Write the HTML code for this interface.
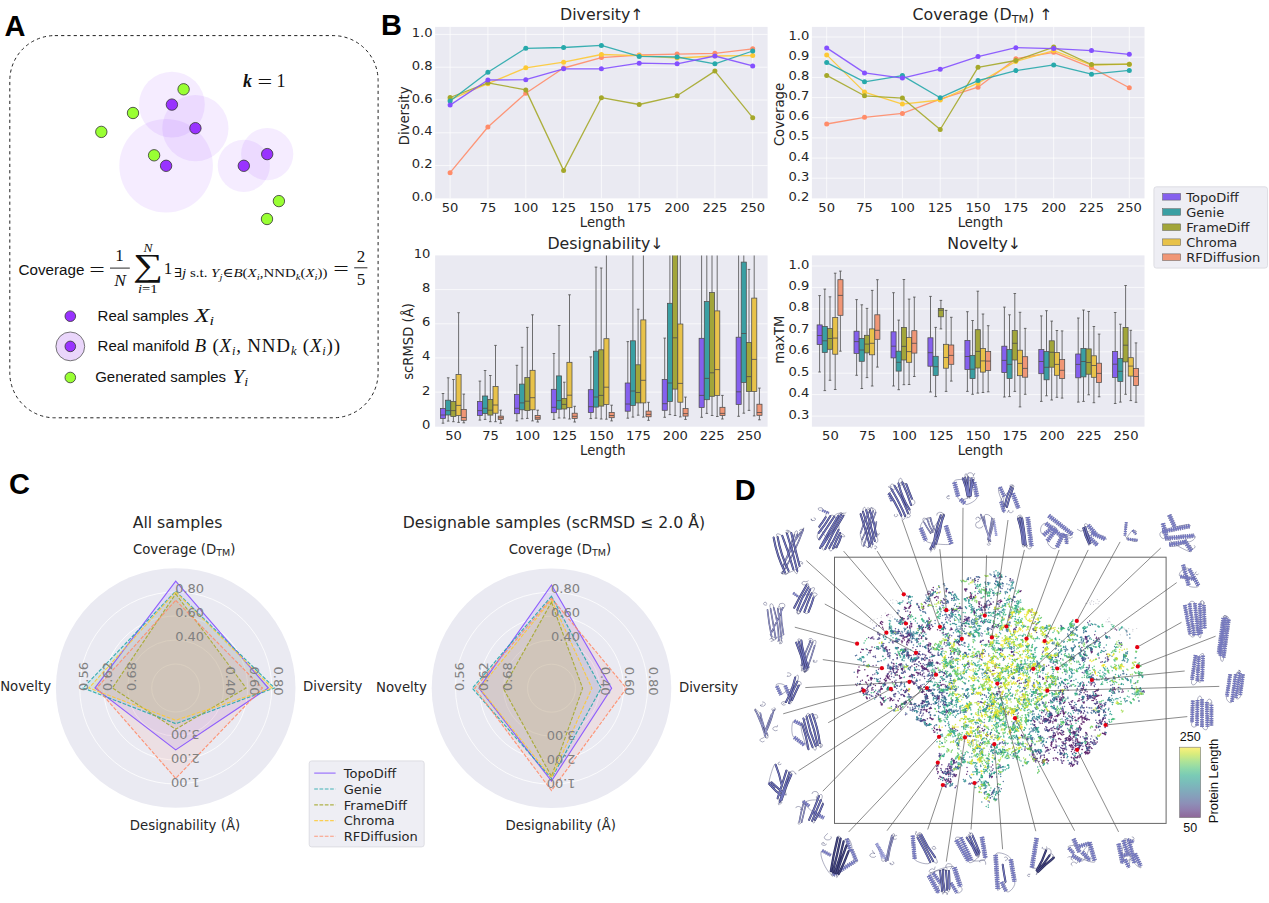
<!DOCTYPE html>
<html lang="en"><head><meta charset="utf-8"><title>Figure</title>
<style>html,body{margin:0;padding:0;background:#fff}svg{display:block}</style></head>
<body>
<svg width="1269" height="903" viewBox="0 0 1269 903">
<rect width="1269" height="903" fill="#fff"/>
<g id="panelA">
<text x="4.5" y="35.8" font-family="Liberation Sans, sans-serif" font-weight="bold" font-size="29" fill="#000">A</text>
<rect x="9.8" y="35.6" width="368.3" height="382.2" rx="45" ry="45" fill="none" stroke="#222" stroke-width="1" stroke-dasharray="3.2 3.1"/>
<circle cx="171.9" cy="104.6" r="32.9" fill="#9933ff" fill-opacity="0.095"/>
<circle cx="195.4" cy="128.2" r="33.1" fill="#9933ff" fill-opacity="0.095"/>
<circle cx="166.1" cy="165.8" r="46.8" fill="#9933ff" fill-opacity="0.095"/>
<circle cx="243.8" cy="165.8" r="26.1" fill="#9933ff" fill-opacity="0.095"/>
<circle cx="267.2" cy="154.1" r="26.1" fill="#9933ff" fill-opacity="0.095"/>
<circle cx="183.6" cy="89.3" r="5.7" fill="#99ff33" stroke="#333" stroke-width="0.8"/>
<circle cx="133.0" cy="113.0" r="5.7" fill="#99ff33" stroke="#333" stroke-width="0.8"/>
<circle cx="101.3" cy="131.9" r="5.7" fill="#99ff33" stroke="#333" stroke-width="0.8"/>
<circle cx="154.1" cy="155.3" r="5.7" fill="#99ff33" stroke="#333" stroke-width="0.8"/>
<circle cx="278.9" cy="201.1" r="5.7" fill="#99ff33" stroke="#333" stroke-width="0.8"/>
<circle cx="267.0" cy="219.0" r="5.7" fill="#99ff33" stroke="#333" stroke-width="0.8"/>
<circle cx="171.9" cy="104.6" r="5.7" fill="#9933ff" stroke="#333" stroke-width="0.8"/>
<circle cx="195.4" cy="128.2" r="5.7" fill="#9933ff" stroke="#333" stroke-width="0.8"/>
<circle cx="166.1" cy="165.8" r="5.7" fill="#9933ff" stroke="#333" stroke-width="0.8"/>
<circle cx="243.8" cy="165.8" r="5.7" fill="#9933ff" stroke="#333" stroke-width="0.8"/>
<circle cx="267.2" cy="154.1" r="5.7" fill="#9933ff" stroke="#333" stroke-width="0.8"/>
<text x="243" y="87.2" font-family="Liberation Serif, DejaVu Serif, serif" font-size="18" font-style="italic" font-weight="bold" fill="#111">k</text>
<text transform="translate(257.6 87.6) scale(1.45 1)" font-family="Liberation Serif, DejaVu Serif, serif" font-size="18" fill="#111">=</text>
<text x="276.6" y="87.2" font-family="Liberation Serif, DejaVu Serif, serif" font-size="18" fill="#111">1</text>
<text x="18.6" y="274.7" font-family="Liberation Sans, sans-serif" font-size="15.2" fill="#111">Coverage</text>
<text transform="translate(89.2 275.8) scale(1.45 1)" font-family="Liberation Serif, DejaVu Serif, serif" font-size="19" fill="#111">=</text>
<text x="119.6" y="261.2" font-family="Liberation Serif, DejaVu Serif, serif" font-size="17" text-anchor="middle" fill="#111">1</text>
<line x1="110" y1="268.1" x2="129.8" y2="268.1" stroke="#111" stroke-width="0.9"/>
<text x="120.2" y="285.7" font-family="Liberation Serif, DejaVu Serif, serif" font-size="17.5" font-style="italic" text-anchor="middle" fill="#111">N</text>
<text x="0" y="0" font-family="Liberation Serif, DejaVu Serif, serif" font-size="32" text-anchor="middle" fill="#111" transform="translate(148.2 276.4) scale(1.32 1)">∑</text>
<text x="147.9" y="252.2" font-family="Liberation Serif, DejaVu Serif, serif" font-size="13.5" font-style="italic" text-anchor="middle" fill="#111">N</text>
<text x="138" y="293.3" font-family="Liberation Serif, DejaVu Serif, serif" font-size="12.5" fill="#111" textLength="19.6" lengthAdjust="spacingAndGlyphs"><tspan font-style="italic">i</tspan>=1</text>
<text x="163.7" y="273.6" font-family="Liberation Serif, DejaVu Serif, serif" font-size="17" fill="#111">1</text>
<text x="174" y="277.4" font-family="Liberation Serif, DejaVu Serif, serif" font-size="12.6" fill="#111" textLength="153.5" lengthAdjust="spacingAndGlyphs">∃<tspan font-style="italic">j</tspan> s.t. <tspan font-style="italic">Y</tspan><tspan font-style="italic" font-size="9" dy="2.2">j</tspan><tspan dy="-2.2">∈</tspan><tspan font-style="italic">B</tspan>(<tspan font-style="italic">X</tspan><tspan font-style="italic" font-size="9" dy="2.2">i</tspan><tspan dy="-2.2">,NND</tspan><tspan font-style="italic" font-size="9" dy="2.2">k</tspan><tspan dy="-2.2">(</tspan><tspan font-style="italic">X</tspan><tspan font-style="italic" font-size="9" dy="2.2">i</tspan><tspan dy="-2.2">))</tspan></text>
<text transform="translate(333.2 274.9) scale(1.45 1)" font-family="Liberation Serif, DejaVu Serif, serif" font-size="19" fill="#111">=</text>
<text x="361" y="261.6" font-family="Liberation Serif, DejaVu Serif, serif" font-size="17" text-anchor="middle" fill="#111">2</text>
<line x1="354.2" y1="267.8" x2="367.4" y2="267.8" stroke="#111" stroke-width="0.9"/>
<text x="361" y="285.4" font-family="Liberation Serif, DejaVu Serif, serif" font-size="17" text-anchor="middle" fill="#111">5</text>
<circle cx="70.3" cy="316.2" r="5.3" fill="#9933ff" stroke="#333" stroke-width="0.8"/>
<circle cx="70.3" cy="346.4" r="14.4" fill="#ead6fb" stroke="#555" stroke-width="0.8"/>
<circle cx="70.3" cy="346.4" r="5.3" fill="#9933ff" stroke="#333" stroke-width="0.8"/>
<circle cx="70.3" cy="377.5" r="5.3" fill="#99ff33" stroke="#333" stroke-width="0.8"/>
<text x="97.6" y="321.4" font-family="Liberation Sans, sans-serif" font-size="15" fill="#111">Real samples</text>
<text x="194.6" y="321.6" font-family="Liberation Serif, DejaVu Serif, serif" font-size="19" font-style="italic" fill="#111" textLength="19.5" lengthAdjust="spacingAndGlyphs">X<tspan font-size="12.5" dy="3">i</tspan></text>
<text x="97.6" y="351.2" font-family="Liberation Sans, sans-serif" font-size="15" fill="#111">Real manifold</text>
<text x="194.5" y="351.6" font-family="Liberation Serif, DejaVu Serif, serif" font-size="19" fill="#111" textLength="145.5" lengthAdjust="spacing"><tspan font-style="italic">B</tspan> (<tspan font-style="italic">X</tspan><tspan font-style="italic" font-size="12.5" dy="3">i</tspan><tspan dy="-3">, NND</tspan><tspan font-style="italic" font-size="12.5" dy="3">k</tspan><tspan dy="-3"> (</tspan><tspan font-style="italic">X</tspan><tspan font-style="italic" font-size="12.5" dy="3">i</tspan><tspan dy="-3">))</tspan></text>
<text x="95.2" y="382.4" font-family="Liberation Sans, sans-serif" font-size="15" fill="#111">Generated samples</text>
<text x="232.6" y="382.6" font-family="Liberation Serif, DejaVu Serif, serif" font-size="19" font-style="italic" fill="#111" textLength="15.6" lengthAdjust="spacingAndGlyphs">Y<tspan font-size="12.5" dy="3">i</tspan></text>
</g>
<g id="panelB">
<text x="381" y="35.3" font-family="Liberation Sans, sans-serif" font-weight="bold" font-size="29" fill="#000">B</text>
<defs><clipPath id="cD"><rect x="435.1" y="255.4" width="332.5" height="171.3"/></clipPath><clipPath id="cN"><rect x="811.9" y="255.4" width="332.6" height="171.3"/></clipPath></defs>
<rect x="435.1" y="26.9" width="332.5" height="171.5" fill="#eaeaf2"/>
<line x1="435.1" y1="165.6" x2="767.6" y2="165.6" stroke="#fff" stroke-width="1" stroke-opacity="0.7"/><line x1="435.1" y1="132.8" x2="767.6" y2="132.8" stroke="#fff" stroke-width="1" stroke-opacity="0.7"/><line x1="435.1" y1="100" x2="767.6" y2="100" stroke="#fff" stroke-width="1" stroke-opacity="0.7"/><line x1="435.1" y1="67.2" x2="767.6" y2="67.2" stroke="#fff" stroke-width="1" stroke-opacity="0.7"/><line x1="435.1" y1="34.4" x2="767.6" y2="34.4" stroke="#fff" stroke-width="1" stroke-opacity="0.7"/>
<line x1="450.1" y1="26.9" x2="450.1" y2="198.4" stroke="#fff" stroke-width="1" stroke-opacity="0.7"/><line x1="487.9" y1="26.9" x2="487.9" y2="198.4" stroke="#fff" stroke-width="1" stroke-opacity="0.7"/><line x1="525.8" y1="26.9" x2="525.8" y2="198.4" stroke="#fff" stroke-width="1" stroke-opacity="0.7"/><line x1="563.6" y1="26.9" x2="563.6" y2="198.4" stroke="#fff" stroke-width="1" stroke-opacity="0.7"/><line x1="601.4" y1="26.9" x2="601.4" y2="198.4" stroke="#fff" stroke-width="1" stroke-opacity="0.7"/><line x1="639.2" y1="26.9" x2="639.2" y2="198.4" stroke="#fff" stroke-width="1" stroke-opacity="0.7"/><line x1="677.1" y1="26.9" x2="677.1" y2="198.4" stroke="#fff" stroke-width="1" stroke-opacity="0.7"/><line x1="714.9" y1="26.9" x2="714.9" y2="198.4" stroke="#fff" stroke-width="1" stroke-opacity="0.7"/><line x1="752.7" y1="26.9" x2="752.7" y2="198.4" stroke="#fff" stroke-width="1" stroke-opacity="0.7"/>
<polyline points="450.1,172.7 487.9,127 525.8,93.2 563.6,68 601.4,57.6 639.2,55 677.1,54.1 714.9,53.3 752.7,48.8" fill="none" stroke="#ff8c69" stroke-width="1.3" stroke-opacity="0.9" stroke-linejoin="round"/><circle cx="450.1" cy="172.7" r="2.5" fill="#ff8c69"/><circle cx="487.9" cy="127" r="2.5" fill="#ff8c69"/><circle cx="525.8" cy="93.2" r="2.5" fill="#ff8c69"/><circle cx="563.6" cy="68" r="2.5" fill="#ff8c69"/><circle cx="601.4" cy="57.6" r="2.5" fill="#ff8c69"/><circle cx="639.2" cy="55" r="2.5" fill="#ff8c69"/><circle cx="677.1" cy="54.1" r="2.5" fill="#ff8c69"/><circle cx="714.9" cy="53.3" r="2.5" fill="#ff8c69"/><circle cx="752.7" cy="48.8" r="2.5" fill="#ff8c69"/><polyline points="450.1,99.6 487.9,83.7 525.8,67.8 563.6,62.2 601.4,54.5 639.2,55.6 677.1,58 714.9,56 752.7,55.6" fill="none" stroke="#fdc935" stroke-width="1.3" stroke-opacity="0.9" stroke-linejoin="round"/><circle cx="450.1" cy="99.6" r="2.5" fill="#fdc935"/><circle cx="487.9" cy="83.7" r="2.5" fill="#fdc935"/><circle cx="525.8" cy="67.8" r="2.5" fill="#fdc935"/><circle cx="563.6" cy="62.2" r="2.5" fill="#fdc935"/><circle cx="601.4" cy="54.5" r="2.5" fill="#fdc935"/><circle cx="639.2" cy="55.6" r="2.5" fill="#fdc935"/><circle cx="677.1" cy="58" r="2.5" fill="#fdc935"/><circle cx="714.9" cy="56" r="2.5" fill="#fdc935"/><circle cx="752.7" cy="55.6" r="2.5" fill="#fdc935"/><polyline points="450.1,97.5 487.9,82.8 525.8,89.9 563.6,170.4 601.4,97.7 639.2,104.5 677.1,95.8 714.9,71.1 752.7,117.7" fill="none" stroke="#a5a82a" stroke-width="1.3" stroke-opacity="0.9" stroke-linejoin="round"/><circle cx="450.1" cy="97.5" r="2.5" fill="#a5a82a"/><circle cx="487.9" cy="82.8" r="2.5" fill="#a5a82a"/><circle cx="525.8" cy="89.9" r="2.5" fill="#a5a82a"/><circle cx="563.6" cy="170.4" r="2.5" fill="#a5a82a"/><circle cx="601.4" cy="97.7" r="2.5" fill="#a5a82a"/><circle cx="639.2" cy="104.5" r="2.5" fill="#a5a82a"/><circle cx="677.1" cy="95.8" r="2.5" fill="#a5a82a"/><circle cx="714.9" cy="71.1" r="2.5" fill="#a5a82a"/><circle cx="752.7" cy="117.7" r="2.5" fill="#a5a82a"/><polyline points="450.1,101 487.9,72.3 525.8,48.3 563.6,47.5 601.4,45.4 639.2,56.4 677.1,57 714.9,63.8 752.7,51" fill="none" stroke="#27a9ab" stroke-width="1.3" stroke-opacity="0.9" stroke-linejoin="round"/><circle cx="450.1" cy="101" r="2.5" fill="#27a9ab"/><circle cx="487.9" cy="72.3" r="2.5" fill="#27a9ab"/><circle cx="525.8" cy="48.3" r="2.5" fill="#27a9ab"/><circle cx="563.6" cy="47.5" r="2.5" fill="#27a9ab"/><circle cx="601.4" cy="45.4" r="2.5" fill="#27a9ab"/><circle cx="639.2" cy="56.4" r="2.5" fill="#27a9ab"/><circle cx="677.1" cy="57" r="2.5" fill="#27a9ab"/><circle cx="714.9" cy="63.8" r="2.5" fill="#27a9ab"/><circle cx="752.7" cy="51" r="2.5" fill="#27a9ab"/><polyline points="450.1,105.1 487.9,80 525.8,79.7 563.6,68.8 601.4,68.8 639.2,63.2 677.1,63.8 714.9,56 752.7,65.9" fill="none" stroke="#8450ff" stroke-width="1.3" stroke-opacity="0.9" stroke-linejoin="round"/><circle cx="450.1" cy="105.1" r="2.5" fill="#8450ff"/><circle cx="487.9" cy="80" r="2.5" fill="#8450ff"/><circle cx="525.8" cy="79.7" r="2.5" fill="#8450ff"/><circle cx="563.6" cy="68.8" r="2.5" fill="#8450ff"/><circle cx="601.4" cy="68.8" r="2.5" fill="#8450ff"/><circle cx="639.2" cy="63.2" r="2.5" fill="#8450ff"/><circle cx="677.1" cy="63.8" r="2.5" fill="#8450ff"/><circle cx="714.9" cy="56" r="2.5" fill="#8450ff"/><circle cx="752.7" cy="65.9" r="2.5" fill="#8450ff"/>
<text x="432.6" y="200.9" font-family="DejaVu Sans, Liberation Sans, sans-serif" font-size="13.1" text-anchor="end" fill="#262626">0.0</text><text x="432.6" y="168.1" font-family="DejaVu Sans, Liberation Sans, sans-serif" font-size="13.1" text-anchor="end" fill="#262626">0.2</text><text x="432.6" y="135.3" font-family="DejaVu Sans, Liberation Sans, sans-serif" font-size="13.1" text-anchor="end" fill="#262626">0.4</text><text x="432.6" y="102.5" font-family="DejaVu Sans, Liberation Sans, sans-serif" font-size="13.1" text-anchor="end" fill="#262626">0.6</text><text x="432.6" y="69.7" font-family="DejaVu Sans, Liberation Sans, sans-serif" font-size="13.1" text-anchor="end" fill="#262626">0.8</text><text x="432.6" y="36.9" font-family="DejaVu Sans, Liberation Sans, sans-serif" font-size="13.1" text-anchor="end" fill="#262626">1.0</text>
<text x="450.1" y="212.2" font-family="DejaVu Sans, Liberation Sans, sans-serif" font-size="13.1" text-anchor="middle" fill="#262626">50</text><text x="487.9" y="212.2" font-family="DejaVu Sans, Liberation Sans, sans-serif" font-size="13.1" text-anchor="middle" fill="#262626">75</text><text x="525.8" y="212.2" font-family="DejaVu Sans, Liberation Sans, sans-serif" font-size="13.1" text-anchor="middle" fill="#262626">100</text><text x="563.6" y="212.2" font-family="DejaVu Sans, Liberation Sans, sans-serif" font-size="13.1" text-anchor="middle" fill="#262626">125</text><text x="601.4" y="212.2" font-family="DejaVu Sans, Liberation Sans, sans-serif" font-size="13.1" text-anchor="middle" fill="#262626">150</text><text x="639.2" y="212.2" font-family="DejaVu Sans, Liberation Sans, sans-serif" font-size="13.1" text-anchor="middle" fill="#262626">175</text><text x="677.1" y="212.2" font-family="DejaVu Sans, Liberation Sans, sans-serif" font-size="13.1" text-anchor="middle" fill="#262626">200</text><text x="714.9" y="212.2" font-family="DejaVu Sans, Liberation Sans, sans-serif" font-size="13.1" text-anchor="middle" fill="#262626">225</text><text x="752.7" y="212.2" font-family="DejaVu Sans, Liberation Sans, sans-serif" font-size="13.1" text-anchor="middle" fill="#262626">250</text>
<text x="602.6" y="226.9" font-family="DejaVu Sans, Liberation Sans, sans-serif" font-size="13.2" text-anchor="middle" fill="#262626">Length</text>
<text transform="translate(408.6 115.8) rotate(-90)" font-family="DejaVu Sans, Liberation Sans, sans-serif" font-size="13.2" text-anchor="middle" fill="#262626">Diversity</text>
<text x="601.8" y="20.4" font-family="DejaVu Sans, Liberation Sans, sans-serif" font-size="15.8" text-anchor="middle" fill="#262626">Diversity↑</text>
<rect x="811.9" y="26.9" width="332.6" height="171.5" fill="#eaeaf2"/>
<line x1="811.9" y1="178.2" x2="1144.5" y2="178.2" stroke="#fff" stroke-width="1" stroke-opacity="0.7"/><line x1="811.9" y1="158.1" x2="1144.5" y2="158.1" stroke="#fff" stroke-width="1" stroke-opacity="0.7"/><line x1="811.9" y1="137.9" x2="1144.5" y2="137.9" stroke="#fff" stroke-width="1" stroke-opacity="0.7"/><line x1="811.9" y1="117.7" x2="1144.5" y2="117.7" stroke="#fff" stroke-width="1" stroke-opacity="0.7"/><line x1="811.9" y1="97.6" x2="1144.5" y2="97.6" stroke="#fff" stroke-width="1" stroke-opacity="0.7"/><line x1="811.9" y1="77.4" x2="1144.5" y2="77.4" stroke="#fff" stroke-width="1" stroke-opacity="0.7"/><line x1="811.9" y1="57.2" x2="1144.5" y2="57.2" stroke="#fff" stroke-width="1" stroke-opacity="0.7"/><line x1="811.9" y1="37" x2="1144.5" y2="37" stroke="#fff" stroke-width="1" stroke-opacity="0.7"/>
<line x1="826.7" y1="26.9" x2="826.7" y2="198.4" stroke="#fff" stroke-width="1" stroke-opacity="0.7"/><line x1="864.5" y1="26.9" x2="864.5" y2="198.4" stroke="#fff" stroke-width="1" stroke-opacity="0.7"/><line x1="902.4" y1="26.9" x2="902.4" y2="198.4" stroke="#fff" stroke-width="1" stroke-opacity="0.7"/><line x1="940.2" y1="26.9" x2="940.2" y2="198.4" stroke="#fff" stroke-width="1" stroke-opacity="0.7"/><line x1="978" y1="26.9" x2="978" y2="198.4" stroke="#fff" stroke-width="1" stroke-opacity="0.7"/><line x1="1015.9" y1="26.9" x2="1015.9" y2="198.4" stroke="#fff" stroke-width="1" stroke-opacity="0.7"/><line x1="1053.7" y1="26.9" x2="1053.7" y2="198.4" stroke="#fff" stroke-width="1" stroke-opacity="0.7"/><line x1="1091.5" y1="26.9" x2="1091.5" y2="198.4" stroke="#fff" stroke-width="1" stroke-opacity="0.7"/><line x1="1129.3" y1="26.9" x2="1129.3" y2="198.4" stroke="#fff" stroke-width="1" stroke-opacity="0.7"/>
<polyline points="826.7,124 864.5,117.3 902.4,113.4 940.2,99.2 978,87.2 1015.9,58.7 1053.7,52.3 1091.5,67.6 1129.3,87.8" fill="none" stroke="#ff8c69" stroke-width="1.3" stroke-opacity="0.9" stroke-linejoin="round"/><circle cx="826.7" cy="124" r="2.5" fill="#ff8c69"/><circle cx="864.5" cy="117.3" r="2.5" fill="#ff8c69"/><circle cx="902.4" cy="113.4" r="2.5" fill="#ff8c69"/><circle cx="940.2" cy="99.2" r="2.5" fill="#ff8c69"/><circle cx="978" cy="87.2" r="2.5" fill="#ff8c69"/><circle cx="1015.9" cy="58.7" r="2.5" fill="#ff8c69"/><circle cx="1053.7" cy="52.3" r="2.5" fill="#ff8c69"/><circle cx="1091.5" cy="67.6" r="2.5" fill="#ff8c69"/><circle cx="1129.3" cy="87.8" r="2.5" fill="#ff8c69"/><polyline points="826.7,54.9 864.5,92.1 902.4,104.1 940.2,100 978,83.2 1015.9,61.4 1053.7,50.6 1091.5,65.1 1129.3,64.2" fill="none" stroke="#fdc935" stroke-width="1.3" stroke-opacity="0.9" stroke-linejoin="round"/><circle cx="826.7" cy="54.9" r="2.5" fill="#fdc935"/><circle cx="864.5" cy="92.1" r="2.5" fill="#fdc935"/><circle cx="902.4" cy="104.1" r="2.5" fill="#fdc935"/><circle cx="940.2" cy="100" r="2.5" fill="#fdc935"/><circle cx="978" cy="83.2" r="2.5" fill="#fdc935"/><circle cx="1015.9" cy="61.4" r="2.5" fill="#fdc935"/><circle cx="1053.7" cy="50.6" r="2.5" fill="#fdc935"/><circle cx="1091.5" cy="65.1" r="2.5" fill="#fdc935"/><circle cx="1129.3" cy="64.2" r="2.5" fill="#fdc935"/><polyline points="826.7,75.4 864.5,95.8 902.4,98.1 940.2,129.5 978,67.3 1015.9,60.5 1053.7,47.1 1091.5,64.5 1129.3,64.2" fill="none" stroke="#a5a82a" stroke-width="1.3" stroke-opacity="0.9" stroke-linejoin="round"/><circle cx="826.7" cy="75.4" r="2.5" fill="#a5a82a"/><circle cx="864.5" cy="95.8" r="2.5" fill="#a5a82a"/><circle cx="902.4" cy="98.1" r="2.5" fill="#a5a82a"/><circle cx="940.2" cy="129.5" r="2.5" fill="#a5a82a"/><circle cx="978" cy="67.3" r="2.5" fill="#a5a82a"/><circle cx="1015.9" cy="60.5" r="2.5" fill="#a5a82a"/><circle cx="1053.7" cy="47.1" r="2.5" fill="#a5a82a"/><circle cx="1091.5" cy="64.5" r="2.5" fill="#a5a82a"/><circle cx="1129.3" cy="64.2" r="2.5" fill="#a5a82a"/><polyline points="826.7,62.6 864.5,81.8 902.4,75.6 940.2,97.7 978,80.6 1015.9,70.6 1053.7,64.9 1091.5,74.2 1129.3,70.4" fill="none" stroke="#27a9ab" stroke-width="1.3" stroke-opacity="0.9" stroke-linejoin="round"/><circle cx="826.7" cy="62.6" r="2.5" fill="#27a9ab"/><circle cx="864.5" cy="81.8" r="2.5" fill="#27a9ab"/><circle cx="902.4" cy="75.6" r="2.5" fill="#27a9ab"/><circle cx="940.2" cy="97.7" r="2.5" fill="#27a9ab"/><circle cx="978" cy="80.6" r="2.5" fill="#27a9ab"/><circle cx="1015.9" cy="70.6" r="2.5" fill="#27a9ab"/><circle cx="1053.7" cy="64.9" r="2.5" fill="#27a9ab"/><circle cx="1091.5" cy="74.2" r="2.5" fill="#27a9ab"/><circle cx="1129.3" cy="70.4" r="2.5" fill="#27a9ab"/><polyline points="826.7,47.9 864.5,72.9 902.4,78.1 940.2,69.2 978,56.6 1015.9,47.7 1053.7,48.6 1091.5,50.6 1129.3,54.3" fill="none" stroke="#8450ff" stroke-width="1.3" stroke-opacity="0.9" stroke-linejoin="round"/><circle cx="826.7" cy="47.9" r="2.5" fill="#8450ff"/><circle cx="864.5" cy="72.9" r="2.5" fill="#8450ff"/><circle cx="902.4" cy="78.1" r="2.5" fill="#8450ff"/><circle cx="940.2" cy="69.2" r="2.5" fill="#8450ff"/><circle cx="978" cy="56.6" r="2.5" fill="#8450ff"/><circle cx="1015.9" cy="47.7" r="2.5" fill="#8450ff"/><circle cx="1053.7" cy="48.6" r="2.5" fill="#8450ff"/><circle cx="1091.5" cy="50.6" r="2.5" fill="#8450ff"/><circle cx="1129.3" cy="54.3" r="2.5" fill="#8450ff"/>
<text x="809.3" y="200.9" font-family="DejaVu Sans, Liberation Sans, sans-serif" font-size="13.1" text-anchor="end" fill="#262626">0.2</text><text x="809.3" y="180.7" font-family="DejaVu Sans, Liberation Sans, sans-serif" font-size="13.1" text-anchor="end" fill="#262626">0.3</text><text x="809.3" y="160.6" font-family="DejaVu Sans, Liberation Sans, sans-serif" font-size="13.1" text-anchor="end" fill="#262626">0.4</text><text x="809.3" y="140.4" font-family="DejaVu Sans, Liberation Sans, sans-serif" font-size="13.1" text-anchor="end" fill="#262626">0.5</text><text x="809.3" y="120.2" font-family="DejaVu Sans, Liberation Sans, sans-serif" font-size="13.1" text-anchor="end" fill="#262626">0.6</text><text x="809.3" y="100.1" font-family="DejaVu Sans, Liberation Sans, sans-serif" font-size="13.1" text-anchor="end" fill="#262626">0.7</text><text x="809.3" y="79.9" font-family="DejaVu Sans, Liberation Sans, sans-serif" font-size="13.1" text-anchor="end" fill="#262626">0.8</text><text x="809.3" y="59.7" font-family="DejaVu Sans, Liberation Sans, sans-serif" font-size="13.1" text-anchor="end" fill="#262626">0.9</text><text x="809.3" y="39.5" font-family="DejaVu Sans, Liberation Sans, sans-serif" font-size="13.1" text-anchor="end" fill="#262626">1.0</text>
<text x="826.7" y="212.2" font-family="DejaVu Sans, Liberation Sans, sans-serif" font-size="13.1" text-anchor="middle" fill="#262626">50</text><text x="864.5" y="212.2" font-family="DejaVu Sans, Liberation Sans, sans-serif" font-size="13.1" text-anchor="middle" fill="#262626">75</text><text x="902.4" y="212.2" font-family="DejaVu Sans, Liberation Sans, sans-serif" font-size="13.1" text-anchor="middle" fill="#262626">100</text><text x="940.2" y="212.2" font-family="DejaVu Sans, Liberation Sans, sans-serif" font-size="13.1" text-anchor="middle" fill="#262626">125</text><text x="978" y="212.2" font-family="DejaVu Sans, Liberation Sans, sans-serif" font-size="13.1" text-anchor="middle" fill="#262626">150</text><text x="1015.9" y="212.2" font-family="DejaVu Sans, Liberation Sans, sans-serif" font-size="13.1" text-anchor="middle" fill="#262626">175</text><text x="1053.7" y="212.2" font-family="DejaVu Sans, Liberation Sans, sans-serif" font-size="13.1" text-anchor="middle" fill="#262626">200</text><text x="1091.5" y="212.2" font-family="DejaVu Sans, Liberation Sans, sans-serif" font-size="13.1" text-anchor="middle" fill="#262626">225</text><text x="1129.3" y="212.2" font-family="DejaVu Sans, Liberation Sans, sans-serif" font-size="13.1" text-anchor="middle" fill="#262626">250</text>
<text x="980.4" y="226.9" font-family="DejaVu Sans, Liberation Sans, sans-serif" font-size="13.2" text-anchor="middle" fill="#262626">Length</text>
<text transform="translate(783.6 114.5) rotate(-90)" font-family="DejaVu Sans, Liberation Sans, sans-serif" font-size="13.2" text-anchor="middle" fill="#262626">Coverage</text>
<text x="912.6" y="20.4" font-family="DejaVu Sans, Liberation Sans, sans-serif" font-size="15.8" fill="#262626">Coverage (D<tspan font-size="11.2" dy="3">TM</tspan><tspan dy="-3">) ↑</tspan></text>
<rect x="435.1" y="255.4" width="332.5" height="171.3" fill="#eaeaf2"/>
<line x1="435.1" y1="392.1" x2="767.6" y2="392.1" stroke="#fff" stroke-width="1" stroke-opacity="0.7"/><line x1="435.1" y1="357.9" x2="767.6" y2="357.9" stroke="#fff" stroke-width="1" stroke-opacity="0.7"/><line x1="435.1" y1="323.8" x2="767.6" y2="323.8" stroke="#fff" stroke-width="1" stroke-opacity="0.7"/><line x1="435.1" y1="289.6" x2="767.6" y2="289.6" stroke="#fff" stroke-width="1" stroke-opacity="0.7"/>
<g clip-path="url(#cD)"><path d="M443 393.5V408.4M443 418.4V423.2M441.7 393.5h2.6M441.7 423.2h2.6" stroke="#4c4c4c" stroke-width="0.8" fill="none"/><rect x="440.4" y="408.4" width="5.1" height="10" fill="#8560ee" stroke="#4c4c4c" stroke-width="0.75"/><line x1="440.4" y1="415" x2="445.6" y2="415" stroke="#4c4c4c" stroke-width="0.8"/><path d="M448.2 377.8V400.2M448.2 415V421.1M446.9 377.8h2.6M446.9 421.1h2.6" stroke="#4c4c4c" stroke-width="0.8" fill="none"/><rect x="445.6" y="400.2" width="5.1" height="14.8" fill="#3a9fa3" stroke="#4c4c4c" stroke-width="0.75"/><line x1="445.6" y1="410.6" x2="450.8" y2="410.6" stroke="#4c4c4c" stroke-width="0.8"/><path d="M453.4 379.5V401.6M453.4 416.3V421.7M452.1 379.5h2.6M452.1 421.7h2.6" stroke="#4c4c4c" stroke-width="0.8" fill="none"/><rect x="450.8" y="401.6" width="5.1" height="14.8" fill="#a2a53a" stroke="#4c4c4c" stroke-width="0.75"/><line x1="450.8" y1="410.6" x2="455.9" y2="410.6" stroke="#4c4c4c" stroke-width="0.8"/><path d="M458.6 312.7V374.5M458.6 415.5V422.4M457.3 312.7h2.6M457.3 422.4h2.6" stroke="#4c4c4c" stroke-width="0.8" fill="none"/><rect x="456" y="374.5" width="5.1" height="41" fill="#e8c24a" stroke="#4c4c4c" stroke-width="0.75"/><line x1="456" y1="405.4" x2="461.1" y2="405.4" stroke="#4c4c4c" stroke-width="0.8"/><path d="M463.8 394.1V409.4M463.8 420.3V422.8M462.5 394.1h2.6M462.5 422.8h2.6" stroke="#4c4c4c" stroke-width="0.8" fill="none"/><rect x="461.2" y="409.4" width="5.1" height="10.9" fill="#f09676" stroke="#4c4c4c" stroke-width="0.75"/><line x1="461.2" y1="417.5" x2="466.3" y2="417.5" stroke="#4c4c4c" stroke-width="0.8"/><path d="M479.9 381.1V401.4M479.9 415.3V420.1M478.6 381.1h2.6M478.6 420.1h2.6" stroke="#4c4c4c" stroke-width="0.8" fill="none"/><rect x="477.4" y="401.4" width="5.1" height="14" fill="#8560ee" stroke="#4c4c4c" stroke-width="0.75"/><line x1="477.4" y1="410.6" x2="482.5" y2="410.6" stroke="#4c4c4c" stroke-width="0.8"/><path d="M485.1 370.5V396M485.1 413.6V419.4M483.8 370.5h2.6M483.8 419.4h2.6" stroke="#4c4c4c" stroke-width="0.8" fill="none"/><rect x="482.6" y="396" width="5.1" height="17.6" fill="#3a9fa3" stroke="#4c4c4c" stroke-width="0.75"/><line x1="482.6" y1="408.3" x2="487.7" y2="408.3" stroke="#4c4c4c" stroke-width="0.8"/><path d="M490.3 375.5V399.4M490.3 415.2V421.7M489 375.5h2.6M489 421.7h2.6" stroke="#4c4c4c" stroke-width="0.8" fill="none"/><rect x="487.8" y="399.4" width="5.1" height="15.7" fill="#a2a53a" stroke="#4c4c4c" stroke-width="0.75"/><line x1="487.8" y1="410.2" x2="492.9" y2="410.2" stroke="#4c4c4c" stroke-width="0.8"/><path d="M495.5 345.4V386.4M495.5 413.2V421.7M494.2 345.4h2.6M494.2 421.7h2.6" stroke="#4c4c4c" stroke-width="0.8" fill="none"/><rect x="493" y="386.4" width="5.1" height="26.8" fill="#e8c24a" stroke="#4c4c4c" stroke-width="0.75"/><line x1="493" y1="405" x2="498.1" y2="405" stroke="#4c4c4c" stroke-width="0.8"/><path d="M500.7 410.2V416.1M500.7 419.6V423.2M499.4 410.2h2.6M499.4 423.2h2.6" stroke="#4c4c4c" stroke-width="0.8" fill="none"/><rect x="498.2" y="416.1" width="5.1" height="3.4" fill="#f09676" stroke="#4c4c4c" stroke-width="0.75"/><line x1="498.2" y1="417.8" x2="503.3" y2="417.8" stroke="#4c4c4c" stroke-width="0.8"/><path d="M516.9 365.3V394.5M516.9 413.6V420.9M515.6 365.3h2.6M515.6 420.9h2.6" stroke="#4c4c4c" stroke-width="0.8" fill="none"/><rect x="514.4" y="394.5" width="5.1" height="19.2" fill="#8560ee" stroke="#4c4c4c" stroke-width="0.75"/><line x1="514.4" y1="408.3" x2="519.4" y2="408.3" stroke="#4c4c4c" stroke-width="0.8"/><path d="M522.1 347.3V384.1M522.1 409.8V418.8M520.8 347.3h2.6M520.8 418.8h2.6" stroke="#4c4c4c" stroke-width="0.8" fill="none"/><rect x="519.5" y="384.1" width="5.1" height="25.7" fill="#3a9fa3" stroke="#4c4c4c" stroke-width="0.75"/><line x1="519.5" y1="402.9" x2="524.6" y2="402.9" stroke="#4c4c4c" stroke-width="0.8"/><path d="M527.3 327.4V377.6M527.3 410.6V418.4M526 327.4h2.6M526 418.4h2.6" stroke="#4c4c4c" stroke-width="0.8" fill="none"/><rect x="524.8" y="377.6" width="5.1" height="33" fill="#a2a53a" stroke="#4c4c4c" stroke-width="0.75"/><line x1="524.8" y1="401.2" x2="529.8" y2="401.2" stroke="#4c4c4c" stroke-width="0.8"/><path d="M532.5 314.8V370.3M532.5 409.8V420.9M531.2 314.8h2.6M531.2 420.9h2.6" stroke="#4c4c4c" stroke-width="0.8" fill="none"/><rect x="530" y="370.3" width="5.1" height="39.5" fill="#e8c24a" stroke="#4c4c4c" stroke-width="0.75"/><line x1="530" y1="397.7" x2="535" y2="397.7" stroke="#4c4c4c" stroke-width="0.8"/><path d="M537.7 410.2V415.5M537.7 419.4V422M536.4 410.2h2.6M536.4 422h2.6" stroke="#4c4c4c" stroke-width="0.8" fill="none"/><rect x="535.1" y="415.5" width="5.1" height="3.8" fill="#f09676" stroke="#4c4c4c" stroke-width="0.75"/><line x1="535.1" y1="417.8" x2="540.2" y2="417.8" stroke="#4c4c4c" stroke-width="0.8"/><path d="M553.9 353.5V389.3M553.9 412.7V419.4M552.6 353.5h2.6M552.6 419.4h2.6" stroke="#4c4c4c" stroke-width="0.8" fill="none"/><rect x="551.3" y="389.3" width="5.1" height="23.4" fill="#8560ee" stroke="#4c4c4c" stroke-width="0.75"/><line x1="551.3" y1="407.3" x2="556.4" y2="407.3" stroke="#4c4c4c" stroke-width="0.8"/><path d="M559 325.5V375.9M559 409.2V418M557.8 325.5h2.6M557.8 418h2.6" stroke="#4c4c4c" stroke-width="0.8" fill="none"/><rect x="556.5" y="375.9" width="5.1" height="33.3" fill="#3a9fa3" stroke="#4c4c4c" stroke-width="0.75"/><line x1="556.5" y1="400.6" x2="561.6" y2="400.6" stroke="#4c4c4c" stroke-width="0.8"/><path d="M564.2 382.2V398.5M564.2 409V418M563 382.2h2.6M563 418h2.6" stroke="#4c4c4c" stroke-width="0.8" fill="none"/><rect x="561.7" y="398.5" width="5.1" height="10.5" fill="#a2a53a" stroke="#4c4c4c" stroke-width="0.75"/><line x1="561.7" y1="404.4" x2="566.8" y2="404.4" stroke="#4c4c4c" stroke-width="0.8"/><path d="M569.5 294.8V362.3M569.5 407.7V419M568.2 294.8h2.6M568.2 419h2.6" stroke="#4c4c4c" stroke-width="0.8" fill="none"/><rect x="566.9" y="362.3" width="5.1" height="45.4" fill="#e8c24a" stroke="#4c4c4c" stroke-width="0.75"/><line x1="566.9" y1="395.2" x2="572" y2="395.2" stroke="#4c4c4c" stroke-width="0.8"/><path d="M574.6 406.3V413.2M574.6 418.4V422M573.4 406.3h2.6M573.4 422h2.6" stroke="#4c4c4c" stroke-width="0.8" fill="none"/><rect x="572.1" y="413.2" width="5.1" height="5.2" fill="#f09676" stroke="#4c4c4c" stroke-width="0.75"/><line x1="572.1" y1="416.3" x2="577.2" y2="416.3" stroke="#4c4c4c" stroke-width="0.8"/><path d="M590.8 356.9V389.7M590.8 412.5V418.6M589.5 356.9h2.6M589.5 418.6h2.6" stroke="#4c4c4c" stroke-width="0.8" fill="none"/><rect x="588.3" y="389.7" width="5.1" height="22.8" fill="#8560ee" stroke="#4c4c4c" stroke-width="0.75"/><line x1="588.3" y1="406.7" x2="593.4" y2="406.7" stroke="#4c4c4c" stroke-width="0.8"/><path d="M596 267.1V351.2M596 407.1V418.2M594.7 267.1h2.6M594.7 418.2h2.6" stroke="#4c4c4c" stroke-width="0.8" fill="none"/><rect x="593.5" y="351.2" width="5.1" height="55.9" fill="#3a9fa3" stroke="#4c4c4c" stroke-width="0.75"/><line x1="593.5" y1="397" x2="598.5" y2="397" stroke="#4c4c4c" stroke-width="0.8"/><path d="M601.2 268V349.8M601.2 406.1V419M599.9 268h2.6M599.9 419h2.6" stroke="#4c4c4c" stroke-width="0.8" fill="none"/><rect x="598.7" y="349.8" width="5.1" height="56.3" fill="#a2a53a" stroke="#4c4c4c" stroke-width="0.75"/><line x1="598.7" y1="395.4" x2="603.8" y2="395.4" stroke="#4c4c4c" stroke-width="0.8"/><path d="M606.4 216.7V338.7M606.4 404.4V419.2M605.1 216.7h2.6M605.1 419.2h2.6" stroke="#4c4c4c" stroke-width="0.8" fill="none"/><rect x="603.9" y="338.7" width="5.1" height="65.7" fill="#e8c24a" stroke="#4c4c4c" stroke-width="0.75"/><line x1="603.9" y1="387.2" x2="609" y2="387.2" stroke="#4c4c4c" stroke-width="0.8"/><path d="M611.6 405.2V412.5M611.6 417.6V420.9M610.3 405.2h2.6M610.3 420.9h2.6" stroke="#4c4c4c" stroke-width="0.8" fill="none"/><rect x="609.1" y="412.5" width="5.1" height="5.2" fill="#f09676" stroke="#4c4c4c" stroke-width="0.75"/><line x1="609.1" y1="415.5" x2="614.1" y2="415.5" stroke="#4c4c4c" stroke-width="0.8"/><path d="M627.8 341.6V383M627.8 411.1V418.2M626.5 341.6h2.6M626.5 418.2h2.6" stroke="#4c4c4c" stroke-width="0.8" fill="none"/><rect x="625.2" y="383" width="5.1" height="28.2" fill="#8560ee" stroke="#4c4c4c" stroke-width="0.75"/><line x1="625.2" y1="404" x2="630.3" y2="404" stroke="#4c4c4c" stroke-width="0.8"/><path d="M632.9 216.7V340.8M632.9 405.4V417.1M631.6 216.7h2.6M631.6 417.1h2.6" stroke="#4c4c4c" stroke-width="0.8" fill="none"/><rect x="630.4" y="340.8" width="5.1" height="64.6" fill="#3a9fa3" stroke="#4c4c4c" stroke-width="0.75"/><line x1="630.4" y1="391" x2="635.5" y2="391" stroke="#4c4c4c" stroke-width="0.8"/><path d="M638.1 309.2V364.8M638.1 402.9V415.2M636.9 309.2h2.6M636.9 415.2h2.6" stroke="#4c4c4c" stroke-width="0.8" fill="none"/><rect x="635.6" y="364.8" width="5.1" height="38.1" fill="#a2a53a" stroke="#4c4c4c" stroke-width="0.75"/><line x1="635.6" y1="392.5" x2="640.7" y2="392.5" stroke="#4c4c4c" stroke-width="0.8"/><path d="M643.4 216.7V319.9M643.4 402.9V417.1M642.1 216.7h2.6M642.1 417.1h2.6" stroke="#4c4c4c" stroke-width="0.8" fill="none"/><rect x="640.8" y="319.9" width="5.1" height="83" fill="#e8c24a" stroke="#4c4c4c" stroke-width="0.75"/><line x1="640.8" y1="380.3" x2="645.9" y2="380.3" stroke="#4c4c4c" stroke-width="0.8"/><path d="M648.5 402.3V411.1M648.5 416.9V420.3M647.2 402.3h2.6M647.2 420.3h2.6" stroke="#4c4c4c" stroke-width="0.8" fill="none"/><rect x="646" y="411.1" width="5.1" height="5.7" fill="#f09676" stroke="#4c4c4c" stroke-width="0.75"/><line x1="646" y1="414.4" x2="651.1" y2="414.4" stroke="#4c4c4c" stroke-width="0.8"/><path d="M664.7 338.1V379.5M664.7 410.4V417.3M663.4 338.1h2.6M663.4 417.3h2.6" stroke="#4c4c4c" stroke-width="0.8" fill="none"/><rect x="662.2" y="379.5" width="5.1" height="30.8" fill="#8560ee" stroke="#4c4c4c" stroke-width="0.75"/><line x1="662.2" y1="403.7" x2="667.2" y2="403.7" stroke="#4c4c4c" stroke-width="0.8"/><path d="M669.9 216.7V303.3M669.9 401.6V414.6M668.6 216.7h2.6M668.6 414.6h2.6" stroke="#4c4c4c" stroke-width="0.8" fill="none"/><rect x="667.4" y="303.3" width="5.1" height="98.3" fill="#3a9fa3" stroke="#4c4c4c" stroke-width="0.75"/><line x1="667.4" y1="383" x2="672.4" y2="383" stroke="#4c4c4c" stroke-width="0.8"/><path d="M675.1 216.7V235.8M675.1 389.1V415.5M673.8 216.7h2.6M673.8 415.5h2.6" stroke="#4c4c4c" stroke-width="0.8" fill="none"/><rect x="672.6" y="235.8" width="5.1" height="153.3" fill="#a2a53a" stroke="#4c4c4c" stroke-width="0.75"/><line x1="672.6" y1="337.8" x2="677.6" y2="337.8" stroke="#4c4c4c" stroke-width="0.8"/><path d="M680.3 216.7V324M680.3 402.1V416.9M679 216.7h2.6M679 416.9h2.6" stroke="#4c4c4c" stroke-width="0.8" fill="none"/><rect x="677.8" y="324" width="5.1" height="78.2" fill="#e8c24a" stroke="#4c4c4c" stroke-width="0.75"/><line x1="677.8" y1="383.4" x2="682.9" y2="383.4" stroke="#4c4c4c" stroke-width="0.8"/><path d="M685.5 397.1V408.6M685.5 416.1V419.4M684.2 397.1h2.6M684.2 419.4h2.6" stroke="#4c4c4c" stroke-width="0.8" fill="none"/><rect x="683" y="408.6" width="5.1" height="7.5" fill="#f09676" stroke="#4c4c4c" stroke-width="0.75"/><line x1="683" y1="413.6" x2="688" y2="413.6" stroke="#4c4c4c" stroke-width="0.8"/><path d="M701.6 216.7V338.3M701.6 407.5V417.3M700.4 216.7h2.6M700.4 417.3h2.6" stroke="#4c4c4c" stroke-width="0.8" fill="none"/><rect x="699.1" y="338.3" width="5.1" height="69.2" fill="#8560ee" stroke="#4c4c4c" stroke-width="0.75"/><line x1="699.1" y1="395.4" x2="704.2" y2="395.4" stroke="#4c4c4c" stroke-width="0.8"/><path d="M706.8 216.7V301.6M706.8 399.6V413.4M705.5 216.7h2.6M705.5 413.4h2.6" stroke="#4c4c4c" stroke-width="0.8" fill="none"/><rect x="704.3" y="301.6" width="5.1" height="98.1" fill="#3a9fa3" stroke="#4c4c4c" stroke-width="0.75"/><line x1="704.3" y1="378.4" x2="709.4" y2="378.4" stroke="#4c4c4c" stroke-width="0.8"/><path d="M712 216.7V292.5M712 396.4V415.5M710.8 216.7h2.6M710.8 415.5h2.6" stroke="#4c4c4c" stroke-width="0.8" fill="none"/><rect x="709.5" y="292.5" width="5.1" height="103.8" fill="#a2a53a" stroke="#4c4c4c" stroke-width="0.75"/><line x1="709.5" y1="372.8" x2="714.6" y2="372.8" stroke="#4c4c4c" stroke-width="0.8"/><path d="M717.2 216.7V310.9M717.2 395.4V416.5M716 216.7h2.6M716 416.5h2.6" stroke="#4c4c4c" stroke-width="0.8" fill="none"/><rect x="714.7" y="310.9" width="5.1" height="84.5" fill="#e8c24a" stroke="#4c4c4c" stroke-width="0.75"/><line x1="714.7" y1="369.6" x2="719.8" y2="369.6" stroke="#4c4c4c" stroke-width="0.8"/><path d="M722.4 395.4V407.3M722.4 415.5V419M721.1 395.4h2.6M721.1 419h2.6" stroke="#4c4c4c" stroke-width="0.8" fill="none"/><rect x="719.9" y="407.3" width="5.1" height="8.2" fill="#f09676" stroke="#4c4c4c" stroke-width="0.75"/><line x1="719.9" y1="413.4" x2="725" y2="413.4" stroke="#4c4c4c" stroke-width="0.8"/><path d="M738.6 216.7V337.2M738.6 404.4V416.3M737.3 216.7h2.6M737.3 416.3h2.6" stroke="#4c4c4c" stroke-width="0.8" fill="none"/><rect x="736.1" y="337.2" width="5.1" height="67.2" fill="#8560ee" stroke="#4c4c4c" stroke-width="0.75"/><line x1="736.1" y1="391.8" x2="741.1" y2="391.8" stroke="#4c4c4c" stroke-width="0.8"/><path d="M743.8 216.7V262.1M743.8 382.4V413.2M742.5 216.7h2.6M742.5 413.2h2.6" stroke="#4c4c4c" stroke-width="0.8" fill="none"/><rect x="741.2" y="262.1" width="5.1" height="120.3" fill="#3a9fa3" stroke="#4c4c4c" stroke-width="0.75"/><line x1="741.2" y1="333.5" x2="746.3" y2="333.5" stroke="#4c4c4c" stroke-width="0.8"/><path d="M749 269.4V342.5M749 391.4V410.4M747.7 269.4h2.6M747.7 410.4h2.6" stroke="#4c4c4c" stroke-width="0.8" fill="none"/><rect x="746.5" y="342.5" width="5.1" height="48.9" fill="#a2a53a" stroke="#4c4c4c" stroke-width="0.75"/><line x1="746.5" y1="376.6" x2="751.5" y2="376.6" stroke="#4c4c4c" stroke-width="0.8"/><path d="M754.2 216.7V298.1M754.2 391.4V415.9M752.9 216.7h2.6M752.9 415.9h2.6" stroke="#4c4c4c" stroke-width="0.8" fill="none"/><rect x="751.7" y="298.1" width="5.1" height="93.3" fill="#e8c24a" stroke="#4c4c4c" stroke-width="0.75"/><line x1="751.7" y1="359.4" x2="756.8" y2="359.4" stroke="#4c4c4c" stroke-width="0.8"/><path d="M759.4 388.1V404.2M759.4 415.3V419.8M758.1 388.1h2.6M758.1 419.8h2.6" stroke="#4c4c4c" stroke-width="0.8" fill="none"/><rect x="756.9" y="404.2" width="5.1" height="11.1" fill="#f09676" stroke="#4c4c4c" stroke-width="0.75"/><line x1="756.9" y1="412.5" x2="761.9" y2="412.5" stroke="#4c4c4c" stroke-width="0.8"/></g>
<text x="430.4" y="428.7" font-family="DejaVu Sans, Liberation Sans, sans-serif" font-size="13.1" text-anchor="end" fill="#262626">0</text><text x="430.4" y="394.6" font-family="DejaVu Sans, Liberation Sans, sans-serif" font-size="13.1" text-anchor="end" fill="#262626">2</text><text x="430.4" y="360.4" font-family="DejaVu Sans, Liberation Sans, sans-serif" font-size="13.1" text-anchor="end" fill="#262626">4</text><text x="430.4" y="326.3" font-family="DejaVu Sans, Liberation Sans, sans-serif" font-size="13.1" text-anchor="end" fill="#262626">6</text><text x="430.4" y="292.1" font-family="DejaVu Sans, Liberation Sans, sans-serif" font-size="13.1" text-anchor="end" fill="#262626">8</text><text x="430.4" y="258" font-family="DejaVu Sans, Liberation Sans, sans-serif" font-size="13.1" text-anchor="end" fill="#262626">10</text>
<text x="453.6" y="440.4" font-family="DejaVu Sans, Liberation Sans, sans-serif" font-size="13.1" text-anchor="middle" fill="#262626">50</text><text x="490.6" y="440.4" font-family="DejaVu Sans, Liberation Sans, sans-serif" font-size="13.1" text-anchor="middle" fill="#262626">75</text><text x="527.5" y="440.4" font-family="DejaVu Sans, Liberation Sans, sans-serif" font-size="13.1" text-anchor="middle" fill="#262626">100</text><text x="564.5" y="440.4" font-family="DejaVu Sans, Liberation Sans, sans-serif" font-size="13.1" text-anchor="middle" fill="#262626">125</text><text x="601.4" y="440.4" font-family="DejaVu Sans, Liberation Sans, sans-serif" font-size="13.1" text-anchor="middle" fill="#262626">150</text><text x="638.4" y="440.4" font-family="DejaVu Sans, Liberation Sans, sans-serif" font-size="13.1" text-anchor="middle" fill="#262626">175</text><text x="675.3" y="440.4" font-family="DejaVu Sans, Liberation Sans, sans-serif" font-size="13.1" text-anchor="middle" fill="#262626">200</text><text x="712.2" y="440.4" font-family="DejaVu Sans, Liberation Sans, sans-serif" font-size="13.1" text-anchor="middle" fill="#262626">225</text><text x="749.2" y="440.4" font-family="DejaVu Sans, Liberation Sans, sans-serif" font-size="13.1" text-anchor="middle" fill="#262626">250</text>
<text x="602.8" y="455.2" font-family="DejaVu Sans, Liberation Sans, sans-serif" font-size="13.2" text-anchor="middle" fill="#262626">Length</text>
<text transform="translate(413.4 341.5) rotate(-90)" font-family="DejaVu Sans, Liberation Sans, sans-serif" font-size="13.2" text-anchor="middle" fill="#262626">scRMSD (Å)</text>
<text x="605.5" y="248.9" font-family="DejaVu Sans, Liberation Sans, sans-serif" font-size="15.8" text-anchor="middle" fill="#262626">Designability↓</text>
<rect x="811.9" y="255.4" width="332.6" height="171.3" fill="#eaeaf2"/>
<line x1="811.9" y1="416.1" x2="1144.5" y2="416.1" stroke="#fff" stroke-width="1" stroke-opacity="0.7"/><line x1="811.9" y1="394.6" x2="1144.5" y2="394.6" stroke="#fff" stroke-width="1" stroke-opacity="0.7"/><line x1="811.9" y1="373.2" x2="1144.5" y2="373.2" stroke="#fff" stroke-width="1" stroke-opacity="0.7"/><line x1="811.9" y1="351.8" x2="1144.5" y2="351.8" stroke="#fff" stroke-width="1" stroke-opacity="0.7"/><line x1="811.9" y1="330.3" x2="1144.5" y2="330.3" stroke="#fff" stroke-width="1" stroke-opacity="0.7"/><line x1="811.9" y1="308.9" x2="1144.5" y2="308.9" stroke="#fff" stroke-width="1" stroke-opacity="0.7"/><line x1="811.9" y1="287.4" x2="1144.5" y2="287.4" stroke="#fff" stroke-width="1" stroke-opacity="0.7"/><line x1="811.9" y1="266" x2="1144.5" y2="266" stroke="#fff" stroke-width="1" stroke-opacity="0.7"/>
<g clip-path="url(#cN)"><path d="M819.6 295.6V324.9M819.6 344.7V372M818.3 295.6h2.6M818.3 372h2.6" stroke="#4c4c4c" stroke-width="0.8" fill="none"/><rect x="817.1" y="324.9" width="5.1" height="19.7" fill="#8560ee" stroke="#4c4c4c" stroke-width="0.75"/><line x1="817.1" y1="335.5" x2="822.1" y2="335.5" stroke="#4c4c4c" stroke-width="0.8"/><path d="M824.8 289.1V326.5M824.8 352.3V390.6M823.5 289.1h2.6M823.5 390.6h2.6" stroke="#4c4c4c" stroke-width="0.8" fill="none"/><rect x="822.2" y="326.5" width="5.1" height="25.9" fill="#3a9fa3" stroke="#4c4c4c" stroke-width="0.75"/><line x1="822.2" y1="340.8" x2="827.3" y2="340.8" stroke="#4c4c4c" stroke-width="0.8"/><path d="M830 296.8V328.6M830 349.3V380.3M828.7 296.8h2.6M828.7 380.3h2.6" stroke="#4c4c4c" stroke-width="0.8" fill="none"/><rect x="827.5" y="328.6" width="5.1" height="20.7" fill="#a2a53a" stroke="#4c4c4c" stroke-width="0.75"/><line x1="827.5" y1="338.5" x2="832.5" y2="338.5" stroke="#4c4c4c" stroke-width="0.8"/><path d="M835.2 273.2V317.6M835.2 354.2V389.5M833.9 273.2h2.6M833.9 389.5h2.6" stroke="#4c4c4c" stroke-width="0.8" fill="none"/><rect x="832.7" y="317.6" width="5.1" height="36.6" fill="#e8c24a" stroke="#4c4c4c" stroke-width="0.75"/><line x1="832.7" y1="338.1" x2="837.8" y2="338.1" stroke="#4c4c4c" stroke-width="0.8"/><path d="M840.4 271.1V279.7M840.4 315.3V351.2M839.1 271.1h2.6M839.1 351.2h2.6" stroke="#4c4c4c" stroke-width="0.8" fill="none"/><rect x="837.9" y="279.7" width="5.1" height="35.6" fill="#f09676" stroke="#4c4c4c" stroke-width="0.75"/><line x1="837.9" y1="295.4" x2="842.9" y2="295.4" stroke="#4c4c4c" stroke-width="0.8"/><path d="M856.6 299.6V331.2M856.6 353.5V375.3M855.3 299.6h2.6M855.3 375.3h2.6" stroke="#4c4c4c" stroke-width="0.8" fill="none"/><rect x="854" y="331.2" width="5.1" height="22.2" fill="#8560ee" stroke="#4c4c4c" stroke-width="0.75"/><line x1="854" y1="341.6" x2="859.1" y2="341.6" stroke="#4c4c4c" stroke-width="0.8"/><path d="M861.8 304.8V338.5M861.8 361.3V388.5M860.5 304.8h2.6M860.5 388.5h2.6" stroke="#4c4c4c" stroke-width="0.8" fill="none"/><rect x="859.2" y="338.5" width="5.1" height="22.8" fill="#3a9fa3" stroke="#4c4c4c" stroke-width="0.75"/><line x1="859.2" y1="350" x2="864.3" y2="350" stroke="#4c4c4c" stroke-width="0.8"/><path d="M867 308.4V335.3M867 352.9V377.6M865.7 308.4h2.6M865.7 377.6h2.6" stroke="#4c4c4c" stroke-width="0.8" fill="none"/><rect x="864.4" y="335.3" width="5.1" height="17.6" fill="#a2a53a" stroke="#4c4c4c" stroke-width="0.75"/><line x1="864.4" y1="344.1" x2="869.5" y2="344.1" stroke="#4c4c4c" stroke-width="0.8"/><path d="M872.2 290.4V328.9M872.2 354.8V386M870.9 290.4h2.6M870.9 386h2.6" stroke="#4c4c4c" stroke-width="0.8" fill="none"/><rect x="869.6" y="328.9" width="5.1" height="25.9" fill="#e8c24a" stroke="#4c4c4c" stroke-width="0.75"/><line x1="869.6" y1="343.3" x2="874.7" y2="343.3" stroke="#4c4c4c" stroke-width="0.8"/><path d="M877.4 279.7V314.8M877.4 339.3V367.1M876.1 279.7h2.6M876.1 367.1h2.6" stroke="#4c4c4c" stroke-width="0.8" fill="none"/><rect x="874.8" y="314.8" width="5.1" height="24.5" fill="#f09676" stroke="#4c4c4c" stroke-width="0.75"/><line x1="874.8" y1="330.3" x2="879.9" y2="330.3" stroke="#4c4c4c" stroke-width="0.8"/><path d="M893.5 292.7V331.8M893.5 357.9V386M892.2 292.7h2.6M892.2 386h2.6" stroke="#4c4c4c" stroke-width="0.8" fill="none"/><rect x="891" y="331.8" width="5.1" height="26.1" fill="#8560ee" stroke="#4c4c4c" stroke-width="0.75"/><line x1="891" y1="346.2" x2="896" y2="346.2" stroke="#4c4c4c" stroke-width="0.8"/><path d="M898.7 320.1V351.2M898.7 371.1V389.7M897.4 320.1h2.6M897.4 389.7h2.6" stroke="#4c4c4c" stroke-width="0.8" fill="none"/><rect x="896.1" y="351.2" width="5.1" height="19.9" fill="#3a9fa3" stroke="#4c4c4c" stroke-width="0.75"/><line x1="896.1" y1="362.3" x2="901.2" y2="362.3" stroke="#4c4c4c" stroke-width="0.8"/><path d="M903.9 279.5V327.4M903.9 360V384.7M902.6 279.5h2.6M902.6 384.7h2.6" stroke="#4c4c4c" stroke-width="0.8" fill="none"/><rect x="901.4" y="327.4" width="5.1" height="32.6" fill="#a2a53a" stroke="#4c4c4c" stroke-width="0.75"/><line x1="901.4" y1="346.4" x2="906.4" y2="346.4" stroke="#4c4c4c" stroke-width="0.8"/><path d="M909.1 299.1V337.4M909.1 362.3V384.5M907.8 299.1h2.6M907.8 384.5h2.6" stroke="#4c4c4c" stroke-width="0.8" fill="none"/><rect x="906.6" y="337.4" width="5.1" height="24.9" fill="#e8c24a" stroke="#4c4c4c" stroke-width="0.75"/><line x1="906.6" y1="351.6" x2="911.6" y2="351.6" stroke="#4c4c4c" stroke-width="0.8"/><path d="M914.3 297.1V330.7M914.3 353.1V376.5M913 297.1h2.6M913 376.5h2.6" stroke="#4c4c4c" stroke-width="0.8" fill="none"/><rect x="911.8" y="330.7" width="5.1" height="22.4" fill="#f09676" stroke="#4c4c4c" stroke-width="0.75"/><line x1="911.8" y1="343.3" x2="916.8" y2="343.3" stroke="#4c4c4c" stroke-width="0.8"/><path d="M930.5 296.4V337.8M930.5 366.1V392M929.2 296.4h2.6M929.2 392h2.6" stroke="#4c4c4c" stroke-width="0.8" fill="none"/><rect x="927.9" y="337.8" width="5.1" height="28.4" fill="#8560ee" stroke="#4c4c4c" stroke-width="0.75"/><line x1="927.9" y1="352.7" x2="933" y2="352.7" stroke="#4c4c4c" stroke-width="0.8"/><path d="M935.6 327.4V356.3M935.6 375.5V396.6M934.4 327.4h2.6M934.4 396.6h2.6" stroke="#4c4c4c" stroke-width="0.8" fill="none"/><rect x="933.1" y="356.3" width="5.1" height="19.2" fill="#3a9fa3" stroke="#4c4c4c" stroke-width="0.75"/><line x1="933.1" y1="366.7" x2="938.2" y2="366.7" stroke="#4c4c4c" stroke-width="0.8"/><path d="M940.9 300.4V308.6M940.9 316.9V328.9M939.6 300.4h2.6M939.6 328.9h2.6" stroke="#4c4c4c" stroke-width="0.8" fill="none"/><rect x="938.3" y="308.6" width="5.1" height="8.2" fill="#a2a53a" stroke="#4c4c4c" stroke-width="0.75"/><line x1="938.3" y1="310.2" x2="943.4" y2="310.2" stroke="#4c4c4c" stroke-width="0.8"/><path d="M946.1 310.4V344.3M946.1 368.2V391.4M944.8 310.4h2.6M944.8 391.4h2.6" stroke="#4c4c4c" stroke-width="0.8" fill="none"/><rect x="943.5" y="344.3" width="5.1" height="23.9" fill="#e8c24a" stroke="#4c4c4c" stroke-width="0.75"/><line x1="943.5" y1="357.5" x2="948.6" y2="357.5" stroke="#4c4c4c" stroke-width="0.8"/><path d="M951.2 317.3V345M951.2 364.4V381.1M950 317.3h2.6M950 381.1h2.6" stroke="#4c4c4c" stroke-width="0.8" fill="none"/><rect x="948.7" y="345" width="5.1" height="19.3" fill="#f09676" stroke="#4c4c4c" stroke-width="0.75"/><line x1="948.7" y1="355.4" x2="953.8" y2="355.4" stroke="#4c4c4c" stroke-width="0.8"/><path d="M967.4 311.7V340.4M967.4 369.6V391.4M966.1 311.7h2.6M966.1 391.4h2.6" stroke="#4c4c4c" stroke-width="0.8" fill="none"/><rect x="964.9" y="340.4" width="5.1" height="29.1" fill="#8560ee" stroke="#4c4c4c" stroke-width="0.75"/><line x1="964.9" y1="356.5" x2="969.9" y2="356.5" stroke="#4c4c4c" stroke-width="0.8"/><path d="M972.6 320.5V355.4M972.6 378.6V394.3M971.3 320.5h2.6M971.3 394.3h2.6" stroke="#4c4c4c" stroke-width="0.8" fill="none"/><rect x="970" y="355.4" width="5.1" height="23.2" fill="#3a9fa3" stroke="#4c4c4c" stroke-width="0.75"/><line x1="970" y1="369.2" x2="975.1" y2="369.2" stroke="#4c4c4c" stroke-width="0.8"/><path d="M977.8 291.2V329.7M977.8 368V393.1M976.5 291.2h2.6M976.5 393.1h2.6" stroke="#4c4c4c" stroke-width="0.8" fill="none"/><rect x="975.2" y="329.7" width="5.1" height="38.3" fill="#a2a53a" stroke="#4c4c4c" stroke-width="0.75"/><line x1="975.2" y1="351.4" x2="980.3" y2="351.4" stroke="#4c4c4c" stroke-width="0.8"/><path d="M983 314V348.5M983 372V392.5M981.7 314h2.6M981.7 392.5h2.6" stroke="#4c4c4c" stroke-width="0.8" fill="none"/><rect x="980.5" y="348.5" width="5.1" height="23.6" fill="#e8c24a" stroke="#4c4c4c" stroke-width="0.75"/><line x1="980.5" y1="360.9" x2="985.5" y2="360.9" stroke="#4c4c4c" stroke-width="0.8"/><path d="M988.2 325.7V351.4M988.2 370.3V391.8M986.9 325.7h2.6M986.9 391.8h2.6" stroke="#4c4c4c" stroke-width="0.8" fill="none"/><rect x="985.6" y="351.4" width="5.1" height="19" fill="#f09676" stroke="#4c4c4c" stroke-width="0.75"/><line x1="985.6" y1="361.1" x2="990.7" y2="361.1" stroke="#4c4c4c" stroke-width="0.8"/><path d="M1004.4 307.1V346.2M1004.4 372.6V397M1003.1 307.1h2.6M1003.1 397h2.6" stroke="#4c4c4c" stroke-width="0.8" fill="none"/><rect x="1001.8" y="346.2" width="5.1" height="26.4" fill="#8560ee" stroke="#4c4c4c" stroke-width="0.75"/><line x1="1001.8" y1="360.4" x2="1006.9" y2="360.4" stroke="#4c4c4c" stroke-width="0.8"/><path d="M1009.5 314.8V349.6M1009.5 378.6V396.6M1008.2 314.8h2.6M1008.2 396.6h2.6" stroke="#4c4c4c" stroke-width="0.8" fill="none"/><rect x="1007" y="349.6" width="5.1" height="28.9" fill="#3a9fa3" stroke="#4c4c4c" stroke-width="0.75"/><line x1="1007" y1="364.4" x2="1012.1" y2="364.4" stroke="#4c4c4c" stroke-width="0.8"/><path d="M1014.8 293.5V330.5M1014.8 360V391.4M1013.5 293.5h2.6M1013.5 391.4h2.6" stroke="#4c4c4c" stroke-width="0.8" fill="none"/><rect x="1012.2" y="330.5" width="5.1" height="29.5" fill="#a2a53a" stroke="#4c4c4c" stroke-width="0.75"/><line x1="1012.2" y1="343.3" x2="1017.3" y2="343.3" stroke="#4c4c4c" stroke-width="0.8"/><path d="M1020 312.3V350.2M1020 375.7V406.9M1018.7 312.3h2.6M1018.7 406.9h2.6" stroke="#4c4c4c" stroke-width="0.8" fill="none"/><rect x="1017.4" y="350.2" width="5.1" height="25.5" fill="#e8c24a" stroke="#4c4c4c" stroke-width="0.75"/><line x1="1017.4" y1="363.4" x2="1022.5" y2="363.4" stroke="#4c4c4c" stroke-width="0.8"/><path d="M1025.2 328.4V356.7M1025.2 377.2V394.3M1023.9 328.4h2.6M1023.9 394.3h2.6" stroke="#4c4c4c" stroke-width="0.8" fill="none"/><rect x="1022.6" y="356.7" width="5.1" height="20.5" fill="#f09676" stroke="#4c4c4c" stroke-width="0.75"/><line x1="1022.6" y1="368.4" x2="1027.7" y2="368.4" stroke="#4c4c4c" stroke-width="0.8"/><path d="M1041.3 315.9V349.6M1041.3 373.8V401.4M1040 315.9h2.6M1040 401.4h2.6" stroke="#4c4c4c" stroke-width="0.8" fill="none"/><rect x="1038.8" y="349.6" width="5.1" height="24.1" fill="#8560ee" stroke="#4c4c4c" stroke-width="0.75"/><line x1="1038.8" y1="361.5" x2="1043.8" y2="361.5" stroke="#4c4c4c" stroke-width="0.8"/><path d="M1046.5 310.7V351.6M1046.5 379.7V395.8M1045.2 310.7h2.6M1045.2 395.8h2.6" stroke="#4c4c4c" stroke-width="0.8" fill="none"/><rect x="1044" y="351.6" width="5.1" height="28.2" fill="#3a9fa3" stroke="#4c4c4c" stroke-width="0.75"/><line x1="1044" y1="367.3" x2="1049" y2="367.3" stroke="#4c4c4c" stroke-width="0.8"/><path d="M1051.7 321.1V340.8M1051.7 367.3V400M1050.4 321.1h2.6M1050.4 400h2.6" stroke="#4c4c4c" stroke-width="0.8" fill="none"/><rect x="1049.2" y="340.8" width="5.1" height="26.4" fill="#a2a53a" stroke="#4c4c4c" stroke-width="0.75"/><line x1="1049.2" y1="352.3" x2="1054.2" y2="352.3" stroke="#4c4c4c" stroke-width="0.8"/><path d="M1056.9 330.5V352.5M1056.9 375.3V397.3M1055.6 330.5h2.6M1055.6 397.3h2.6" stroke="#4c4c4c" stroke-width="0.8" fill="none"/><rect x="1054.4" y="352.5" width="5.1" height="22.8" fill="#e8c24a" stroke="#4c4c4c" stroke-width="0.75"/><line x1="1054.4" y1="364.4" x2="1059.5" y2="364.4" stroke="#4c4c4c" stroke-width="0.8"/><path d="M1062.1 330.9V359.6M1062.1 378.4V398.1M1060.8 330.9h2.6M1060.8 398.1h2.6" stroke="#4c4c4c" stroke-width="0.8" fill="none"/><rect x="1059.6" y="359.6" width="5.1" height="18.8" fill="#f09676" stroke="#4c4c4c" stroke-width="0.75"/><line x1="1059.6" y1="370.3" x2="1064.7" y2="370.3" stroke="#4c4c4c" stroke-width="0.8"/><path d="M1078.2 318V354M1078.2 377.8V402.1M1077 318h2.6M1077 402.1h2.6" stroke="#4c4c4c" stroke-width="0.8" fill="none"/><rect x="1075.7" y="354" width="5.1" height="23.8" fill="#8560ee" stroke="#4c4c4c" stroke-width="0.75"/><line x1="1075.7" y1="364.4" x2="1080.8" y2="364.4" stroke="#4c4c4c" stroke-width="0.8"/><path d="M1083.5 310V348.5M1083.5 376.8V401.4M1082.2 310h2.6M1082.2 401.4h2.6" stroke="#4c4c4c" stroke-width="0.8" fill="none"/><rect x="1080.9" y="348.5" width="5.1" height="28.4" fill="#3a9fa3" stroke="#4c4c4c" stroke-width="0.75"/><line x1="1080.9" y1="361.5" x2="1086" y2="361.5" stroke="#4c4c4c" stroke-width="0.8"/><path d="M1088.7 311.5V348.9M1088.7 374.2V394.8M1087.4 311.5h2.6M1087.4 394.8h2.6" stroke="#4c4c4c" stroke-width="0.8" fill="none"/><rect x="1086.1" y="348.9" width="5.1" height="25.3" fill="#a2a53a" stroke="#4c4c4c" stroke-width="0.75"/><line x1="1086.1" y1="362.5" x2="1091.2" y2="362.5" stroke="#4c4c4c" stroke-width="0.8"/><path d="M1093.9 326.5V355.8M1093.9 377.2V402.7M1092.6 326.5h2.6M1092.6 402.7h2.6" stroke="#4c4c4c" stroke-width="0.8" fill="none"/><rect x="1091.3" y="355.8" width="5.1" height="21.5" fill="#e8c24a" stroke="#4c4c4c" stroke-width="0.75"/><line x1="1091.3" y1="365.5" x2="1096.4" y2="365.5" stroke="#4c4c4c" stroke-width="0.8"/><path d="M1099.1 334.1V363.2M1099.1 382.4V396.8M1097.8 334.1h2.6M1097.8 396.8h2.6" stroke="#4c4c4c" stroke-width="0.8" fill="none"/><rect x="1096.5" y="363.2" width="5.1" height="19.2" fill="#f09676" stroke="#4c4c4c" stroke-width="0.75"/><line x1="1096.5" y1="373.4" x2="1101.6" y2="373.4" stroke="#4c4c4c" stroke-width="0.8"/><path d="M1115.2 312.5V351.4M1115.2 377.4V403.5M1113.9 312.5h2.6M1113.9 403.5h2.6" stroke="#4c4c4c" stroke-width="0.8" fill="none"/><rect x="1112.6" y="351.4" width="5.1" height="26.1" fill="#8560ee" stroke="#4c4c4c" stroke-width="0.75"/><line x1="1112.6" y1="364.2" x2="1117.7" y2="364.2" stroke="#4c4c4c" stroke-width="0.8"/><path d="M1120.4 324.2V358.4M1120.4 381.4V402.1M1119.1 324.2h2.6M1119.1 402.1h2.6" stroke="#4c4c4c" stroke-width="0.8" fill="none"/><rect x="1117.8" y="358.4" width="5.1" height="23" fill="#3a9fa3" stroke="#4c4c4c" stroke-width="0.75"/><line x1="1117.8" y1="371.3" x2="1122.9" y2="371.3" stroke="#4c4c4c" stroke-width="0.8"/><path d="M1125.6 285.5V327.4M1125.6 361.9V394.3M1124.3 285.5h2.6M1124.3 394.3h2.6" stroke="#4c4c4c" stroke-width="0.8" fill="none"/><rect x="1123" y="327.4" width="5.1" height="34.5" fill="#a2a53a" stroke="#4c4c4c" stroke-width="0.75"/><line x1="1123" y1="345.2" x2="1128.1" y2="345.2" stroke="#4c4c4c" stroke-width="0.8"/><path d="M1130.8 330.3V357.7M1130.8 376.1V400.6M1129.5 330.3h2.6M1129.5 400.6h2.6" stroke="#4c4c4c" stroke-width="0.8" fill="none"/><rect x="1128.2" y="357.7" width="5.1" height="18.4" fill="#e8c24a" stroke="#4c4c4c" stroke-width="0.75"/><line x1="1128.2" y1="366.1" x2="1133.3" y2="366.1" stroke="#4c4c4c" stroke-width="0.8"/><path d="M1136 342.9V368.4M1136 385.7V402.3M1134.7 342.9h2.6M1134.7 402.3h2.6" stroke="#4c4c4c" stroke-width="0.8" fill="none"/><rect x="1133.5" y="368.4" width="5.1" height="17.2" fill="#f09676" stroke="#4c4c4c" stroke-width="0.75"/><line x1="1133.5" y1="376.5" x2="1138.5" y2="376.5" stroke="#4c4c4c" stroke-width="0.8"/></g>
<text x="809.3" y="418.6" font-family="DejaVu Sans, Liberation Sans, sans-serif" font-size="13.1" text-anchor="end" fill="#262626">0.3</text><text x="809.3" y="397.1" font-family="DejaVu Sans, Liberation Sans, sans-serif" font-size="13.1" text-anchor="end" fill="#262626">0.4</text><text x="809.3" y="375.7" font-family="DejaVu Sans, Liberation Sans, sans-serif" font-size="13.1" text-anchor="end" fill="#262626">0.5</text><text x="809.3" y="354.3" font-family="DejaVu Sans, Liberation Sans, sans-serif" font-size="13.1" text-anchor="end" fill="#262626">0.6</text><text x="809.3" y="332.8" font-family="DejaVu Sans, Liberation Sans, sans-serif" font-size="13.1" text-anchor="end" fill="#262626">0.7</text><text x="809.3" y="311.4" font-family="DejaVu Sans, Liberation Sans, sans-serif" font-size="13.1" text-anchor="end" fill="#262626">0.8</text><text x="809.3" y="289.9" font-family="DejaVu Sans, Liberation Sans, sans-serif" font-size="13.1" text-anchor="end" fill="#262626">0.9</text><text x="809.3" y="268.5" font-family="DejaVu Sans, Liberation Sans, sans-serif" font-size="13.1" text-anchor="end" fill="#262626">1.0</text>
<text x="830.4" y="440.4" font-family="DejaVu Sans, Liberation Sans, sans-serif" font-size="13.1" text-anchor="middle" fill="#262626">50</text><text x="867.4" y="440.4" font-family="DejaVu Sans, Liberation Sans, sans-serif" font-size="13.1" text-anchor="middle" fill="#262626">75</text><text x="904.3" y="440.4" font-family="DejaVu Sans, Liberation Sans, sans-serif" font-size="13.1" text-anchor="middle" fill="#262626">100</text><text x="941.2" y="440.4" font-family="DejaVu Sans, Liberation Sans, sans-serif" font-size="13.1" text-anchor="middle" fill="#262626">125</text><text x="978.2" y="440.4" font-family="DejaVu Sans, Liberation Sans, sans-serif" font-size="13.1" text-anchor="middle" fill="#262626">150</text><text x="1015.1" y="440.4" font-family="DejaVu Sans, Liberation Sans, sans-serif" font-size="13.1" text-anchor="middle" fill="#262626">175</text><text x="1052.1" y="440.4" font-family="DejaVu Sans, Liberation Sans, sans-serif" font-size="13.1" text-anchor="middle" fill="#262626">200</text><text x="1089" y="440.4" font-family="DejaVu Sans, Liberation Sans, sans-serif" font-size="13.1" text-anchor="middle" fill="#262626">225</text><text x="1126" y="440.4" font-family="DejaVu Sans, Liberation Sans, sans-serif" font-size="13.1" text-anchor="middle" fill="#262626">250</text>
<text x="980.4" y="455.2" font-family="DejaVu Sans, Liberation Sans, sans-serif" font-size="13.2" text-anchor="middle" fill="#262626">Length</text>
<text transform="translate(783.6 339.6) rotate(-90)" font-family="DejaVu Sans, Liberation Sans, sans-serif" font-size="13.2" text-anchor="middle" fill="#262626">maxTM</text>
<text x="984.2" y="248.9" font-family="DejaVu Sans, Liberation Sans, sans-serif" font-size="15.8" text-anchor="middle" fill="#262626">Novelty↓</text>
<rect x="1153.9" y="186.8" width="113.6" height="81.3" rx="2.5" fill="#eeeef4" stroke="#d8d8de" stroke-width="0.8"/>
<rect x="1162.6" y="193.5" width="18" height="6.6" fill="#8560ee" stroke="#5a5a5a" stroke-width="0.5"/>
<text x="1186.3" y="201.5" font-family="DejaVu Sans, Liberation Sans, sans-serif" font-size="13" fill="#262626">TopoDiff</text>
<rect x="1162.6" y="208.7" width="18" height="6.6" fill="#3a9fa3" stroke="#5a5a5a" stroke-width="0.5"/>
<text x="1186.3" y="216.7" font-family="DejaVu Sans, Liberation Sans, sans-serif" font-size="13" fill="#262626">Genie</text>
<rect x="1162.6" y="223.9" width="18" height="6.6" fill="#a2a53a" stroke="#5a5a5a" stroke-width="0.5"/>
<text x="1186.3" y="231.9" font-family="DejaVu Sans, Liberation Sans, sans-serif" font-size="13" fill="#262626">FrameDiff</text>
<rect x="1162.6" y="238.9" width="18" height="6.6" fill="#e8c24a" stroke="#5a5a5a" stroke-width="0.5"/>
<text x="1186.3" y="246.9" font-family="DejaVu Sans, Liberation Sans, sans-serif" font-size="13" fill="#262626">Chroma</text>
<rect x="1162.6" y="253.9" width="18" height="6.6" fill="#f09676" stroke="#5a5a5a" stroke-width="0.5"/>
<text x="1186.3" y="261.9" font-family="DejaVu Sans, Liberation Sans, sans-serif" font-size="13" fill="#262626">RFDiffusion</text>
</g>
<g id="panelC">
<text x="9" y="494" font-family="Liberation Sans, sans-serif" font-weight="bold" font-size="29" fill="#000">C</text>
<circle cx="175.7" cy="688.0" r="119.8" fill="#eaeaf2"/><circle cx="175.7" cy="688.0" r="24" fill="none" stroke="#fff" stroke-width="1" stroke-opacity="0.8"/><circle cx="175.7" cy="688.0" r="48" fill="none" stroke="#fff" stroke-width="1" stroke-opacity="0.8"/><circle cx="175.7" cy="688.0" r="72" fill="none" stroke="#fff" stroke-width="1" stroke-opacity="0.8"/><circle cx="175.7" cy="688.0" r="96" fill="none" stroke="#fff" stroke-width="1" stroke-opacity="0.8"/><polygon points="175.7,581.2 268.3,688 175.7,749.9 95,688" fill="#8450ff" fill-opacity="0.11" stroke="none"/><polygon points="175.7,591.1 274.6,688 175.7,723.7 83.1,688" fill="#27a9ab" fill-opacity="0.11" stroke="none"/><polygon points="175.7,593.8 246,688 175.7,729.2 112.4,688" fill="#a5a82a" fill-opacity="0.11" stroke="none"/><polygon points="175.7,591.9 272.2,688 175.7,720.3 88.9,688" fill="#fdc935" fill-opacity="0.11" stroke="none"/><polygon points="175.7,600.3 262.4,688 175.7,778.4 96.7,688" fill="#ff8c69" fill-opacity="0.11" stroke="none"/><polygon points="175.7,581.2 268.3,688 175.7,749.9 95,688" fill="none" stroke="#8450ff" stroke-width="1.15" stroke-opacity="0.9" stroke-linejoin="miter"/><polygon points="175.7,591.1 274.6,688 175.7,723.7 83.1,688" fill="none" stroke="#27a9ab" stroke-width="1.15" stroke-opacity="0.9" stroke-dasharray="3.7 1.6" stroke-linejoin="miter"/><polygon points="175.7,593.8 246,688 175.7,729.2 112.4,688" fill="none" stroke="#a5a82a" stroke-width="1.15" stroke-opacity="0.9" stroke-dasharray="3.7 1.6" stroke-linejoin="miter"/><polygon points="175.7,591.9 272.2,688 175.7,720.3 88.9,688" fill="none" stroke="#fdc935" stroke-width="1.15" stroke-opacity="0.9" stroke-dasharray="3.7 1.6" stroke-linejoin="miter"/><polygon points="175.7,600.3 262.4,688 175.7,778.4 96.7,688" fill="none" stroke="#ff8c69" stroke-width="1.15" stroke-opacity="0.9" stroke-dasharray="3.7 1.6" stroke-linejoin="miter"/><text x="175.2" y="592.6" font-family="DejaVu Sans, Liberation Sans, sans-serif" font-size="13" fill="#808080">0.80</text><text transform="translate(273.6 666.5) rotate(90)" font-family="DejaVu Sans, Liberation Sans, sans-serif" font-size="13" fill="#808080">0.80</text><text x="175.2" y="616.6" font-family="DejaVu Sans, Liberation Sans, sans-serif" font-size="13" fill="#808080">0.60</text><text transform="translate(249.6 666.5) rotate(90)" font-family="DejaVu Sans, Liberation Sans, sans-serif" font-size="13" fill="#808080">0.60</text><text x="175.2" y="640.6" font-family="DejaVu Sans, Liberation Sans, sans-serif" font-size="13" fill="#808080">0.40</text><text transform="translate(225.6 666.5) rotate(90)" font-family="DejaVu Sans, Liberation Sans, sans-serif" font-size="13" fill="#808080">0.40</text><text transform="translate(199.8 778.3) rotate(180)" font-family="DejaVu Sans, Liberation Sans, sans-serif" font-size="13" fill="#808080">1.00</text><text transform="translate(199.8 754.3) rotate(180)" font-family="DejaVu Sans, Liberation Sans, sans-serif" font-size="13" fill="#808080">2.00</text><text transform="translate(199.8 730.3) rotate(180)" font-family="DejaVu Sans, Liberation Sans, sans-serif" font-size="13" fill="#808080">3.00</text><text transform="translate(87.8 690.9) rotate(-90)" font-family="DejaVu Sans, Liberation Sans, sans-serif" font-size="13" fill="#808080">0.56</text><text transform="translate(111.8 690.9) rotate(-90)" font-family="DejaVu Sans, Liberation Sans, sans-serif" font-size="13" fill="#808080">0.62</text><text transform="translate(135.8 690.9) rotate(-90)" font-family="DejaVu Sans, Liberation Sans, sans-serif" font-size="13" fill="#808080">0.68</text><text x="132.9" y="553.5" font-family="DejaVu Sans, Liberation Sans, sans-serif" font-size="13.3" fill="#262626">Coverage (D<tspan font-size="9.5" dy="2.6">TM</tspan><tspan dy="-2.6">)</tspan></text><text x="303.1" y="691.3" font-family="DejaVu Sans, Liberation Sans, sans-serif" font-size="13.3" fill="#262626">Diversity</text><text x="51.1" y="691.3" font-family="DejaVu Sans, Liberation Sans, sans-serif" font-size="13.3" text-anchor="end" fill="#262626">Novelty</text><text x="185" y="829.6" font-family="DejaVu Sans, Liberation Sans, sans-serif" font-size="13.3" text-anchor="middle" fill="#262626">Designability (Å)</text><text x="177.5" y="527.6" font-family="DejaVu Sans, Liberation Sans, sans-serif" font-size="15.7" text-anchor="middle" fill="#262626">All samples</text>
<circle cx="551.5" cy="688.2" r="119.8" fill="#eaeaf2"/><circle cx="551.5" cy="688.2" r="24" fill="none" stroke="#fff" stroke-width="1" stroke-opacity="0.8"/><circle cx="551.5" cy="688.2" r="48" fill="none" stroke="#fff" stroke-width="1" stroke-opacity="0.8"/><circle cx="551.5" cy="688.2" r="72" fill="none" stroke="#fff" stroke-width="1" stroke-opacity="0.8"/><circle cx="551.5" cy="688.2" r="96" fill="none" stroke="#fff" stroke-width="1" stroke-opacity="0.8"/><polygon points="551.5,585 611.6,688.2 551.5,781 479,688.2" fill="#8450ff" fill-opacity="0.11" stroke="none"/><polygon points="551.5,596.2 601.1,688.2 551.5,778.4 472.3,688.2" fill="#27a9ab" fill-opacity="0.11" stroke="none"/><polygon points="551.5,602.1 582.6,688.2 551.5,776.5 503.2,688.2" fill="#a5a82a" fill-opacity="0.11" stroke="none"/><polygon points="551.5,599.7 591.9,688.2 551.5,777.8 479.6,688.2" fill="#fdc935" fill-opacity="0.11" stroke="none"/><polygon points="551.5,598.2 626.4,688.2 551.5,790.6 474.7,688.2" fill="#ff8c69" fill-opacity="0.11" stroke="none"/><polygon points="551.5,585 611.6,688.2 551.5,781 479,688.2" fill="none" stroke="#8450ff" stroke-width="1.15" stroke-opacity="0.9" stroke-linejoin="miter"/><polygon points="551.5,596.2 601.1,688.2 551.5,778.4 472.3,688.2" fill="none" stroke="#27a9ab" stroke-width="1.15" stroke-opacity="0.9" stroke-dasharray="3.7 1.6" stroke-linejoin="miter"/><polygon points="551.5,602.1 582.6,688.2 551.5,776.5 503.2,688.2" fill="none" stroke="#a5a82a" stroke-width="1.15" stroke-opacity="0.9" stroke-dasharray="3.7 1.6" stroke-linejoin="miter"/><polygon points="551.5,599.7 591.9,688.2 551.5,777.8 479.6,688.2" fill="none" stroke="#fdc935" stroke-width="1.15" stroke-opacity="0.9" stroke-dasharray="3.7 1.6" stroke-linejoin="miter"/><polygon points="551.5,598.2 626.4,688.2 551.5,790.6 474.7,688.2" fill="none" stroke="#ff8c69" stroke-width="1.15" stroke-opacity="0.9" stroke-dasharray="3.7 1.6" stroke-linejoin="miter"/><text x="551" y="592.8" font-family="DejaVu Sans, Liberation Sans, sans-serif" font-size="13" fill="#808080">0.80</text><text transform="translate(649.4 666.7) rotate(90)" font-family="DejaVu Sans, Liberation Sans, sans-serif" font-size="13" fill="#808080">0.80</text><text x="551" y="616.8" font-family="DejaVu Sans, Liberation Sans, sans-serif" font-size="13" fill="#808080">0.60</text><text transform="translate(625.4 666.7) rotate(90)" font-family="DejaVu Sans, Liberation Sans, sans-serif" font-size="13" fill="#808080">0.60</text><text x="551" y="640.8" font-family="DejaVu Sans, Liberation Sans, sans-serif" font-size="13" fill="#808080">0.40</text><text transform="translate(601.4 666.7) rotate(90)" font-family="DejaVu Sans, Liberation Sans, sans-serif" font-size="13" fill="#808080">0.40</text><text transform="translate(575.6 778.5) rotate(180)" font-family="DejaVu Sans, Liberation Sans, sans-serif" font-size="13" fill="#808080">1.00</text><text transform="translate(575.6 754.5) rotate(180)" font-family="DejaVu Sans, Liberation Sans, sans-serif" font-size="13" fill="#808080">2.00</text><text transform="translate(575.6 730.5) rotate(180)" font-family="DejaVu Sans, Liberation Sans, sans-serif" font-size="13" fill="#808080">3.00</text><text transform="translate(463.6 691.1) rotate(-90)" font-family="DejaVu Sans, Liberation Sans, sans-serif" font-size="13" fill="#808080">0.56</text><text transform="translate(487.6 691.1) rotate(-90)" font-family="DejaVu Sans, Liberation Sans, sans-serif" font-size="13" fill="#808080">0.62</text><text transform="translate(511.6 691.1) rotate(-90)" font-family="DejaVu Sans, Liberation Sans, sans-serif" font-size="13" fill="#808080">0.68</text><text x="508.7" y="553.7" font-family="DejaVu Sans, Liberation Sans, sans-serif" font-size="13.3" fill="#262626">Coverage (D<tspan font-size="9.5" dy="2.6">TM</tspan><tspan dy="-2.6">)</tspan></text><text x="678.9" y="691.5" font-family="DejaVu Sans, Liberation Sans, sans-serif" font-size="13.3" fill="#262626">Diversity</text><text x="426.9" y="691.5" font-family="DejaVu Sans, Liberation Sans, sans-serif" font-size="13.3" text-anchor="end" fill="#262626">Novelty</text><text x="560.8" y="829.8" font-family="DejaVu Sans, Liberation Sans, sans-serif" font-size="13.3" text-anchor="middle" fill="#262626">Designability (Å)</text><text x="553.9" y="527.8" font-family="DejaVu Sans, Liberation Sans, sans-serif" font-size="15.7" text-anchor="middle" fill="#262626">Designable samples (scRMSD ≤ 2.0 Å)</text>
<rect x="309.2" y="760.9" width="115" height="86" rx="2.5" fill="#eeeef4" stroke="#d8d8de" stroke-width="0.8"/>
<line x1="314.2" y1="773.1" x2="335.6" y2="773.1" stroke="#8450ff" stroke-width="1.1" stroke-opacity="0.85"/>
<text x="343.8" y="777.7" font-family="DejaVu Sans, Liberation Sans, sans-serif" font-size="13" fill="#262626">TopoDiff</text>
<line x1="314.2" y1="789.0" x2="335.6" y2="789.0" stroke="#27a9ab" stroke-width="1.1" stroke-opacity="0.85" stroke-dasharray="3.7 1.6"/>
<text x="343.8" y="793.6" font-family="DejaVu Sans, Liberation Sans, sans-serif" font-size="13" fill="#262626">Genie</text>
<line x1="314.2" y1="804.9" x2="335.6" y2="804.9" stroke="#a5a82a" stroke-width="1.1" stroke-opacity="0.85" stroke-dasharray="3.7 1.6"/>
<text x="343.8" y="809.5" font-family="DejaVu Sans, Liberation Sans, sans-serif" font-size="13" fill="#262626">FrameDiff</text>
<line x1="314.2" y1="820.6" x2="335.6" y2="820.6" stroke="#fdc935" stroke-width="1.1" stroke-opacity="0.85" stroke-dasharray="3.7 1.6"/>
<text x="343.8" y="825.2" font-family="DejaVu Sans, Liberation Sans, sans-serif" font-size="13" fill="#262626">Chroma</text>
<line x1="314.2" y1="836.3" x2="335.6" y2="836.3" stroke="#ff8c69" stroke-width="1.1" stroke-opacity="0.85" stroke-dasharray="3.7 1.6"/>
<text x="343.8" y="840.9" font-family="DejaVu Sans, Liberation Sans, sans-serif" font-size="13" fill="#262626">RFDiffusion</text>
</g>
<g id="panelD">
<text x="734.8" y="499.8" font-family="Liberation Sans, sans-serif" font-weight="bold" font-size="29" fill="#000">D</text>
<path d="M1052.0 736.9h0M942.5 772.0h0M934.5 597.8h0M938.2 598.1h0M935.2 597.6h0M936.3 596.5h0M1017.6 609.5h0M1017.7 610.1h0M909.3 596.7h0M1035.6 630.4h0M906.6 689.3h0M906.0 690.4h0M903.7 690.6h0M907.8 690.4h0M909.3 689.5h0M1086.4 753.0h0M1086.0 752.2h0M1086.4 752.9h0M1084.6 752.5h0M1050.5 716.0h0M1051.7 717.4h0M1049.9 717.6h0M1052.3 715.7h0M1051.4 716.0h0M1049.5 717.6h0M1049.0 716.9h0M1091.4 748.1h0M1085.6 745.7h0M1092.0 748.4h0M1089.6 748.1h0M1086.7 746.5h0M905.0 702.9h0M901.9 704.5h0M904.0 703.2h0M906.5 702.6h0M905.9 701.2h0M905.4 702.4h0M905.0 703.3h0M946.4 590.1h0M946.3 590.8h0M946.2 591.7h0M929.4 650.3h0M928.2 646.2h0M928.8 644.7h0M943.4 632.7h0M940.1 630.5h0M937.5 629.7h0M947.8 773.7h0M947.7 772.9h0M948.2 773.8h0M949.0 771.9h0M949.1 774.0h0M947.6 773.1h0M948.6 774.8h0M947.5 772.5h0M872.0 646.9h0M870.1 652.8h0M871.2 650.2h0M1053.1 748.0h0M925.7 627.4h0M928.0 626.1h0M929.2 629.2h0M929.5 627.4h0M927.8 628.8h0M929.8 629.7h0M930.6 628.5h0M926.8 625.3h0M928.4 627.3h0M929.4 619.2h0M928.9 617.9h0M923.1 630.0h0M922.0 632.5h0M922.6 630.9h0M923.8 631.2h0M978.8 606.6h0M981.4 605.2h0M981.1 598.1h0M979.9 602.1h0M979.5 604.6h0M979.3 606.9h0M1048.3 760.9h0M1047.0 762.7h0M1048.6 760.4h0M1046.8 759.6h0M1062.7 745.7h0M1063.5 748.5h0M1063.2 750.5h0M950.1 629.9h0M951.3 628.9h0M952.1 629.3h0M951.1 628.0h0M951.0 628.3h0M870.4 678.1h0M867.9 675.6h0M867.2 676.1h0M871.0 677.4h0M1055.7 719.8h0M1050.0 722.4h0M1054.6 720.7h0M1055.8 719.3h0M1056.1 721.3h0M1055.8 720.2h0M1052.8 723.0h0M1089.2 665.3h0M865.8 691.8h0M866.1 693.1h0M1054.5 728.4h0M1058.1 728.4h0M1059.5 727.1h0M1059.0 729.3h0M1058.2 729.8h0M1056.0 728.7h0M1061.2 730.5h0M871.8 678.8h0M870.8 679.1h0M871.7 679.1h0M868.6 680.3h0M871.1 680.1h0M871.5 678.8h0M1058.6 738.5h0M1059.7 738.5h0M1058.8 739.0h0M1060.8 739.6h0M892.9 668.9h0M892.6 668.6h0M900.4 617.1h0M902.5 617.7h0M903.2 618.8h0M904.2 618.8h0M901.3 617.8h0M901.8 618.8h0M902.9 619.3h0M1083.1 702.2h0M1083.4 702.8h0M1084.3 701.9h0M1084.0 702.9h0M954.1 654.0h0M954.5 652.5h0M924.9 657.6h0M924.8 660.3h0M925.8 655.2h0M923.6 658.7h0M950.6 767.9h0M949.5 767.1h0M949.9 766.3h0M950.9 769.2h0M950.8 770.8h0M1050.5 721.9h0M1050.4 720.9h0M1051.1 718.3h0M1050.2 719.9h0M1049.8 720.7h0M1050.6 721.8h0M1050.1 720.5h0M894.5 686.2h0M1105.3 734.8h0M1104.9 732.2h0M1103.5 733.5h0M1104.8 733.5h0M1105.5 734.6h0M1104.3 734.0h0M1102.4 733.2h0M1105.1 733.3h0M923.5 606.8h0M923.0 608.0h0M923.3 606.8h0M922.9 609.5h0M923.7 606.2h0M923.7 608.3h0M975.7 588.3h0M975.8 588.1h0M975.7 587.9h0M931.8 718.8h0M930.2 717.4h0M930.0 718.0h0M932.1 718.9h0M931.9 719.5h0M931.1 718.4h0M932.4 719.6h0M933.1 718.9h0M883.1 698.7h0M883.8 700.6h0M882.6 698.4h0M883.8 697.8h0M882.8 699.8h0M1044.4 757.3h0M1040.2 758.0h0M1062.0 710.9h0M1063.7 714.0h0M1064.7 713.2h0M1085.2 691.1h0M1087.1 691.7h0M1084.1 692.7h0M1072.8 718.6h0M1078.6 718.8h0M1078.1 719.0h0M1075.2 720.5h0M1073.6 765.0h0M1070.7 763.6h0M971.5 595.1h0M971.0 593.9h0M971.2 596.4h0M970.8 598.4h0M970.6 596.1h0M970.4 592.7h0M972.2 598.7h0M1095.0 697.8h0M1093.4 700.4h0M1097.8 695.2h0M1093.9 698.5h0M1094.2 698.7h0M1092.0 700.6h0M1096.3 695.2h0M1096.3 696.6h0M1095.7 693.6h0M1096.0 726.9h0M1096.7 727.7h0M1096.3 725.9h0M1095.1 729.9h0M929.7 689.8h0M927.2 689.7h0M928.4 689.7h0M927.3 689.9h0M929.1 689.4h0M931.0 690.5h0M928.7 691.2h0M929.6 690.4h0M928.0 688.2h0M990.3 733.8h0M964.8 589.8h0M965.5 589.8h0M964.8 589.0h0M966.7 589.1h0M965.4 589.1h0M965.8 591.0h0M966.5 589.6h0M888.0 674.3h0M887.4 674.9h0M889.2 672.0h0M889.4 675.9h0M882.1 688.8h0M881.0 688.0h0M880.3 690.0h0M880.4 689.5h0M881.8 689.1h0M882.3 689.0h0M880.6 689.5h0M1099.8 722.3h0M1102.1 721.2h0M1100.9 722.9h0M1098.0 723.6h0M1069.0 724.8h0M1071.3 724.1h0M1068.9 724.9h0M908.6 634.6h0M912.5 636.3h0M908.4 608.0h0M909.6 608.0h0M909.5 606.8h0M910.3 612.6h0M910.3 612.1h0M903.8 695.4h0M992.3 673.9h0M988.2 670.2h0M990.3 671.8h0M886.8 615.6h0M888.2 614.6h0M1069.1 739.1h0M1067.0 740.2h0M1079.9 742.2h0M1078.6 742.9h0M1078.7 742.3h0M1078.6 742.8h0M911.7 624.1h0M898.3 647.8h0M1064.4 702.5h0M1063.5 703.3h0M1064.9 701.8h0M922.2 707.8h0M924.7 709.7h0M926.9 711.6h0M925.9 710.0h0M926.4 711.6h0M924.1 707.3h0M926.7 711.0h0M862.3 680.2h0M1039.0 761.6h0M1040.7 756.8h0M974.2 611.7h0M975.1 612.6h0M973.9 612.0h0M974.2 612.2h0M974.5 612.4h0M974.4 613.7h0M909.1 635.4h0M1055.0 716.4h0M902.8 668.6h0M902.7 669.2h0M901.4 669.1h0M902.5 669.3h0M901.3 669.1h0M901.7 668.6h0M902.4 669.8h0M931.5 663.2h0M930.1 663.0h0M931.4 662.4h0M930.9 662.4h0M932.8 662.3h0M930.7 663.3h0M931.7 663.2h0M902.2 624.1h0M1081.9 717.6h0M1082.1 719.9h0M1081.1 723.7h0M1082.7 718.0h0M1081.9 717.2h0M1080.8 712.9h0M1080.5 729.8h0M1079.0 728.2h0M1079.1 728.0h0M1078.9 728.4h0M1079.8 727.0h0M1081.1 728.6h0M1079.6 726.1h0M1079.6 727.6h0M1080.1 727.8h0M1077.4 757.8h0M1074.8 756.7h0M1076.4 757.8h0M1076.9 757.3h0M1075.4 757.6h0M930.3 652.8h0M928.4 651.3h0M929.1 652.1h0M882.2 704.7h0M880.5 702.3h0M881.2 704.7h0M882.1 703.8h0M881.9 704.4h0M880.9 703.0h0M881.9 704.9h0M1093.9 695.9h0M1094.4 699.1h0M1094.8 698.6h0M1092.6 695.6h0M1095.0 697.1h0M1093.5 698.0h0M1096.2 699.8h0M946.5 686.6h0M948.7 688.2h0M943.9 684.6h0M859.6 684.1h0M1022.3 735.9h0M1021.6 735.2h0M1069.7 730.3h0M1071.4 732.8h0M1070.2 736.7h0M1069.8 732.5h0M1069.7 736.5h0M1021.0 590.8h0M1020.3 591.6h0M1054.0 747.5h0M1077.6 756.5h0M1080.4 756.4h0M1080.2 755.3h0M1078.2 756.1h0M1057.6 758.7h0M1057.9 760.0h0M1053.3 758.3h0M1055.3 758.1h0M932.8 626.4h0M988.5 641.1h0M985.9 644.6h0M988.7 640.9h0M989.0 642.3h0M944.8 711.4h0M947.5 711.4h0M946.8 712.2h0M947.1 711.2h0M946.4 709.9h0M999.4 733.4h0M1052.1 742.8h0M1056.1 741.7h0M893.3 666.9h0M894.0 668.8h0M892.6 669.6h0M893.5 671.0h0M894.0 663.9h0M992.6 765.0h0M1047.0 760.0h0M1044.1 760.1h0M1046.2 759.4h0M1045.8 760.1h0M1047.1 758.9h0M1074.2 764.6h0M1070.6 766.0h0M1072.5 766.3h0M1071.8 764.5h0M1072.6 765.7h0M1072.3 765.3h0M1070.9 737.7h0M1088.9 747.7h0M1088.9 750.4h0M1086.3 741.4h0M1087.7 750.7h0M1087.4 742.0h0M1089.0 746.2h0M1090.2 746.7h0M1086.9 748.4h0M1089.3 752.4h0M881.2 686.4h0M937.4 695.8h0M937.3 695.6h0M939.1 698.8h0M937.2 697.9h0M938.3 698.3h0M938.9 697.1h0M1094.7 740.7h0M1097.2 742.1h0M1096.0 743.3h0M996.3 665.7h0M995.3 666.1h0M935.2 672.2h0M935.3 667.9h0M936.8 668.4h0M1065.2 738.7h0M1069.5 738.8h0M1072.3 738.8h0M1039.6 676.0h0M1063.9 712.7h0M1063.8 713.0h0M1063.6 716.2h0M1063.4 711.8h0M1064.6 713.4h0M1063.1 710.7h0M1063.1 712.9h0M1063.3 712.8h0M1072.8 749.4h0M1072.3 747.2h0M898.4 706.9h0M900.3 706.0h0M904.5 704.3h0M900.4 706.3h0M1066.0 743.1h0M1065.3 745.1h0M1065.0 743.4h0M1063.5 743.4h0M950.9 781.3h0M949.2 782.0h0M949.0 782.2h0M949.5 782.1h0M948.8 782.0h0M946.2 782.0h0M950.5 782.8h0M951.1 781.3h0M950.3 781.6h0M1085.2 717.9h0M880.4 623.2h0M881.6 621.6h0M880.9 623.5h0M882.7 622.3h0M880.5 622.3h0M880.5 622.9h0M882.0 624.5h0M1074.2 760.3h0M1074.4 759.3h0M1075.8 760.7h0M1071.3 757.3h0M1073.6 758.1h0M1071.8 757.8h0M1073.6 758.8h0M870.5 684.6h0M868.2 686.8h0M868.3 686.4h0M871.4 683.1h0M868.9 686.1h0M938.4 771.9h0M936.9 769.8h0M937.7 771.8h0M937.0 768.8h0M937.0 768.3h0M936.5 766.2h0M1081.9 647.4h0M1001.4 577.0h0M901.7 677.8h0M899.6 676.7h0M899.3 675.4h0M900.0 678.4h0M909.8 625.8h0M909.6 627.3h0M909.7 627.0h0M911.6 626.0h0M910.0 628.6h0M907.4 627.5h0M911.6 626.7h0M910.3 626.9h0M907.5 627.1h0M932.6 595.0h0M930.9 593.9h0M927.8 594.1h0M929.5 662.7h0M928.4 663.3h0M930.6 662.2h0M929.8 664.9h0M929.9 662.2h0M928.6 664.0h0M930.4 662.3h0M928.9 662.1h0M857.4 677.1h0M1085.4 655.3h0M1085.1 653.9h0M889.5 649.8h0M884.2 648.4h0M886.4 649.3h0M886.5 647.0h0M885.3 648.7h0M885.2 648.4h0M885.6 647.3h0M1035.3 727.0h0M1036.9 729.7h0M1036.6 727.8h0M1035.5 726.9h0M1034.3 724.9h0M1104.8 721.7h0M1103.3 718.5h0M863.2 693.0h0M866.1 690.5h0M867.0 688.4h0M867.7 687.3h0M869.3 650.8h0M870.0 650.4h0M903.0 638.7h0M904.6 636.9h0M903.9 637.9h0M904.4 640.1h0M903.0 638.1h0M906.6 637.0h0M906.5 637.1h0M905.5 637.0h0M1033.6 720.2h0M1034.5 722.1h0M1075.8 749.2h0M1076.0 748.5h0M1074.8 750.2h0M926.1 668.8h0M925.7 669.1h0M928.9 671.2h0M927.8 669.8h0M926.6 669.4h0M926.5 668.1h0M1105.1 725.4h0M1105.6 724.6h0M1105.7 723.2h0M1014.1 655.0h0M1012.1 651.7h0M1011.4 651.4h0M1011.5 652.6h0M1080.4 736.9h0M1077.6 734.9h0M1077.1 734.4h0M1043.5 762.3h0M1043.0 761.8h0M1042.0 762.3h0M1042.9 763.4h0M1045.1 760.2h0M1043.5 762.1h0M1042.5 762.1h0M1044.1 761.3h0M1076.0 740.1h0M1076.1 739.9h0M1077.2 738.7h0M1077.6 740.0h0M1077.6 741.2h0M1076.6 735.3h0M1055.2 734.1h0M1053.2 737.2h0M1055.4 735.6h0M1053.3 735.6h0M1054.7 735.8h0M1054.1 735.7h0M1054.1 736.2h0M1122.5 690.0h0M1123.1 691.8h0M1083.5 682.9h0M1082.1 690.6h0M1083.2 688.9h0M1083.4 688.2h0M1081.9 689.1h0M1083.6 687.1h0M1082.6 686.1h0M935.4 591.5h0M933.2 590.2h0M933.3 587.4h0M931.9 589.7h0M1087.9 744.2h0M1086.5 744.6h0M1089.8 744.5h0M1087.6 743.5h0M927.2 664.5h0M890.0 700.7h0M892.5 700.4h0M890.4 700.1h0M890.0 697.6h0M891.4 699.3h0M891.6 698.4h0M891.1 699.1h0M1024.0 682.8h0M929.0 660.1h0M930.5 662.2h0M932.3 660.2h0M929.8 660.1h0M1081.0 716.5h0M1079.4 718.1h0M1076.0 720.8h0M1080.1 717.3h0M1078.4 717.9h0M1076.9 720.3h0M1081.9 716.1h0M921.1 688.2h0M1047.9 719.7h0M928.9 593.9h0M929.2 593.7h0M928.7 593.8h0M929.0 593.5h0M1052.4 682.7h0M1052.5 681.7h0M1032.0 609.8h0M1030.3 611.4h0M887.6 687.6h0M1041.7 712.2h0M1042.8 710.6h0M1041.9 712.8h0M945.5 786.6h0M944.8 784.5h0M946.2 785.0h0M1063.7 697.0h0M1062.4 694.7h0M1063.5 697.9h0M1062.4 693.2h0M1062.4 692.8h0M1063.1 698.0h0M1061.5 697.8h0M1062.2 695.1h0M1081.3 711.4h0M952.1 647.0h0M950.5 650.7h0M940.9 768.4h0M938.0 766.1h0M966.7 774.2h0M948.3 780.0h0M945.5 780.5h0M1086.7 720.2h0M1085.8 718.8h0M1082.2 718.3h0M1083.2 717.9h0M1088.2 719.4h0M1084.4 717.2h0M1082.1 719.0h0M1087.0 718.9h0M1084.4 719.0h0M910.3 615.9h0M909.6 614.5h0M1080.4 743.1h0M1082.3 743.5h0M1080.2 745.6h0M1080.9 743.5h0M1082.1 743.2h0M1080.5 743.2h0M1105.1 727.5h0M1107.5 726.1h0M1107.2 723.6h0M1086.6 752.6h0M1082.4 749.4h0M1087.5 752.7h0M1087.6 752.6h0M1085.5 753.0h0M1085.3 752.1h0M1085.8 751.5h0M1087.6 753.7h0M1087.9 753.7h0M1091.7 683.8h0M1090.1 682.9h0M1091.3 681.7h0M1091.0 684.9h0M1091.3 651.6h0M1091.4 652.7h0M1092.1 651.2h0M1090.6 649.1h0M1092.2 651.9h0M1092.0 649.4h0M1051.6 730.3h0M967.1 619.5h0M967.5 620.2h0M966.7 618.7h0M967.1 620.7h0M969.0 620.0h0M966.5 619.9h0M915.8 649.8h0M916.8 651.8h0M919.3 654.2h0M919.2 653.4h0M917.8 651.9h0M918.2 653.4h0M917.1 652.5h0M927.2 697.6h0M927.5 696.6h0M925.3 698.0h0M926.4 697.9h0M927.6 698.3h0M1070.2 721.8h0M1070.6 720.9h0M1067.8 720.6h0M1051.4 743.8h0M1050.9 745.3h0M1051.5 746.2h0M1051.2 742.6h0M1051.3 744.3h0M1051.7 744.6h0M934.1 732.2h0M933.5 730.5h0M934.0 727.2h0M934.5 728.6h0M934.9 732.1h0M907.8 707.0h0M1019.5 683.6h0M1017.9 680.8h0M861.8 649.3h0M863.3 649.4h0M867.1 649.5h0M862.3 649.4h0M883.2 628.9h0M882.6 627.2h0M985.9 612.7h0M985.0 609.4h0M985.2 605.0h0M985.0 610.3h0M939.9 663.9h0M937.9 662.9h0M980.0 655.8h0M982.1 654.1h0M983.8 653.5h0M1045.6 747.7h0M1048.3 749.5h0M866.8 698.0h0M866.2 697.1h0M866.8 697.4h0M867.1 698.8h0M867.2 698.3h0M866.7 698.3h0M991.3 704.9h0M992.2 706.1h0M858.1 671.3h0M859.7 670.5h0M857.8 670.7h0M858.0 669.7h0M858.3 670.5h0M857.6 671.8h0M859.0 666.9h0M857.9 673.1h0M1073.7 732.2h0M1074.7 732.9h0M1073.2 731.2h0M1075.2 733.1h0M1074.7 731.7h0M1075.2 733.6h0M1075.2 732.6h0M1073.6 732.8h0M1073.1 732.3h0M953.9 762.4h0M953.3 760.9h0M952.0 758.4h0M954.0 760.9h0M915.9 654.5h0M865.7 681.9h0M866.5 682.9h0M867.4 684.8h0M986.4 735.6h0M878.5 694.4h0M878.2 694.1h0M1073.0 708.3h0M1072.1 708.6h0M1073.3 707.9h0M1074.1 737.1h0M1073.1 737.1h0M1073.5 736.8h0M1070.8 739.0h0M1074.1 736.5h0M1052.9 721.6h0M918.3 673.2h0M918.2 673.5h0M920.5 674.4h0M918.2 673.0h0M917.0 672.6h0M916.4 672.4h0M1097.9 638.9h0M1096.2 638.4h0M1096.5 637.2h0M1050.5 736.8h0M1053.4 735.3h0M1049.2 737.0h0M1077.8 701.2h0M1079.2 700.7h0M1078.4 700.4h0M1079.2 698.8h0M1044.7 710.1h0M1070.3 732.0h0M1069.5 735.4h0M1044.7 719.3h0M1044.5 719.0h0M1042.7 721.0h0M1040.2 723.2h0M1044.6 720.9h0M1045.2 721.1h0M1044.8 720.7h0M1042.3 723.3h0M1043.9 720.9h0M1046.0 718.7h0M1046.2 719.8h0M910.9 655.4h0M913.9 654.7h0M906.6 656.0h0M907.4 655.7h0M909.4 655.7h0M908.9 654.7h0M908.5 655.4h0M921.9 666.9h0M922.1 667.8h0M922.7 667.5h0M922.1 665.4h0M960.0 644.9h0M957.4 642.5h0M958.3 643.5h0M956.1 641.5h0M959.3 641.7h0M959.0 644.7h0M957.7 641.7h0M1048.8 702.6h0M940.2 777.0h0M1035.8 690.9h0M1037.9 694.3h0M910.5 606.3h0M910.8 605.5h0M907.5 603.2h0M910.3 604.9h0M910.6 605.3h0M907.2 603.3h0M1119.1 691.5h0M1118.3 687.5h0M974.2 597.2h0M969.6 597.8h0M969.8 597.0h0M967.5 597.9h0M973.7 597.4h0M930.6 643.5h0M928.2 644.8h0M928.3 645.5h0M930.1 645.8h0M929.0 644.6h0M929.1 642.9h0M998.0 609.7h0M997.8 608.5h0M978.9 603.7h0M978.7 602.1h0M979.3 603.7h0M979.5 604.2h0M1096.6 696.0h0M1101.3 695.2h0M1097.5 695.7h0M1096.0 694.7h0M1097.7 696.2h0M1096.3 695.7h0M1099.0 695.4h0M1093.0 695.7h0M1095.4 695.6h0M1049.7 713.7h0M1049.8 715.5h0M1050.5 713.5h0M1050.9 715.2h0M1072.4 716.4h0M1074.9 717.2h0M1066.4 739.3h0M1066.9 740.0h0M1067.7 737.8h0M1068.6 738.3h0M1065.6 740.7h0M1066.1 738.5h0M1069.0 736.4h0M1066.5 738.0h0M944.2 673.5h0M944.2 673.3h0M944.9 673.7h0M944.1 672.6h0M943.6 675.4h0M1025.0 749.1h0M1071.1 745.8h0M1069.7 745.3h0M1072.4 745.7h0M1070.9 746.9h0M1070.4 746.0h0M1070.9 746.9h0M1071.3 744.7h0M1086.7 733.2h0M1087.1 734.7h0M1085.8 732.6h0M1086.0 735.2h0M860.7 652.3h0M955.3 775.9h0M955.8 776.1h0M956.4 774.7h0M955.1 776.4h0M951.2 667.4h0M1063.5 751.0h0M1063.3 755.6h0M1063.9 757.5h0M1064.3 753.1h0M1059.6 725.2h0M989.5 605.3h0M989.7 605.0h0M898.0 700.5h0M898.3 701.1h0M1115.2 628.9h0M863.5 691.8h0M867.7 690.1h0M862.1 690.8h0M865.9 690.2h0M865.1 689.9h0M860.5 691.8h0M861.2 690.2h0M860.0 691.8h0M926.7 638.8h0M926.8 638.8h0M926.0 638.2h0M926.4 639.2h0M925.9 639.3h0M926.1 638.7h0M925.6 638.1h0M1103.2 719.4h0M864.8 669.7h0M926.6 723.7h0M926.5 723.8h0M929.6 724.8h0M891.5 691.0h0M892.5 690.1h0M1063.7 760.7h0M1075.9 745.5h0M1075.7 744.0h0M1075.8 743.4h0M979.8 730.9h0M982.1 728.5h0M982.9 730.5h0M904.6 607.2h0M905.8 611.2h0M906.4 608.2h0M905.4 608.8h0M905.2 607.5h0M997.9 601.8h0M1000.7 600.0h0M1000.0 602.7h0M1000.6 601.4h0M997.9 601.4h0M1001.7 601.3h0M999.2 600.4h0M1085.6 637.0h0M1086.2 637.9h0M937.9 596.7h0M936.6 600.2h0M900.3 664.4h0M898.0 666.9h0M953.9 727.8h0M951.9 729.1h0M884.0 702.0h0M939.5 729.3h0M937.7 729.8h0M936.8 729.4h0M940.6 730.3h0M937.5 729.4h0M939.9 730.2h0M939.7 729.8h0M948.9 770.7h0M947.0 771.9h0M947.8 771.2h0M879.9 681.3h0M879.2 683.3h0M881.8 683.2h0M880.1 683.4h0M878.9 683.3h0M942.1 684.4h0M940.3 682.6h0M941.2 685.6h0M923.7 668.2h0M922.5 668.6h0M924.2 668.9h0M924.0 668.5h0M924.7 667.8h0M920.5 663.6h0M923.1 666.6h0M921.2 666.2h0M996.7 693.4h0M1000.9 687.6h0M1000.8 692.1h0M999.1 688.5h0M998.0 691.7h0M997.6 694.2h0M997.5 693.8h0M999.3 691.8h0M901.4 640.9h0M902.5 641.3h0M902.0 642.8h0M926.3 694.4h0M922.5 691.3h0M921.9 692.3h0M923.9 691.8h0M924.5 694.4h0M1056.3 758.1h0M942.2 628.8h0M942.7 629.3h0M942.6 628.2h0M943.4 629.7h0M943.2 628.2h0M943.4 627.1h0M1063.6 731.5h0M1062.1 732.7h0M1062.2 734.9h0M1063.7 734.5h0M1063.6 731.9h0M937.3 765.3h0M1114.3 688.9h0M1114.4 692.0h0M1113.1 690.2h0M1112.8 689.8h0M1112.9 690.8h0M1115.2 689.8h0M1114.4 687.8h0M1113.2 690.1h0M964.6 623.6h0M965.1 620.3h0M965.8 626.3h0M964.0 621.5h0M964.4 619.5h0M1060.7 733.6h0M1060.2 733.0h0M1058.1 734.4h0M1057.0 732.1h0M1059.3 732.8h0M1058.0 733.4h0M1061.3 734.4h0M922.3 703.5h0M922.3 700.7h0M923.0 701.3h0M918.6 705.2h0M1078.6 748.7h0M1079.2 745.6h0M1079.2 747.7h0M1079.1 746.8h0M1079.6 747.0h0M1078.1 749.2h0M1079.3 748.7h0M909.1 683.4h0M908.9 681.1h0M1070.7 739.3h0M1070.9 739.5h0M1068.4 740.0h0M1069.9 740.6h0M941.1 649.0h0M942.6 648.7h0M939.0 646.9h0M930.3 707.8h0M927.0 709.4h0M930.3 708.5h0M931.4 708.3h0M929.3 708.4h0M898.1 669.6h0M895.8 675.1h0M897.6 669.9h0M895.2 674.9h0M897.3 675.1h0M896.2 672.4h0M895.6 673.1h0M897.3 672.0h0M1058.8 714.3h0M863.0 688.5h0M862.0 687.6h0M861.7 688.4h0M918.6 638.8h0M921.2 638.6h0M921.7 636.8h0M921.7 638.0h0M916.5 639.3h0M919.0 639.0h0M906.9 641.9h0M907.6 641.3h0M908.8 639.8h0M1098.4 689.2h0M1095.6 691.3h0M1096.5 689.9h0M1097.3 690.1h0M1094.3 691.8h0M1096.6 690.3h0M1098.3 689.9h0M1098.2 689.4h0M1097.2 690.7h0M1035.8 758.5h0M1036.2 758.7h0M1034.3 759.7h0M1032.7 759.1h0M1035.6 760.1h0M934.0 678.7h0M932.1 672.4h0M1060.3 703.1h0M1062.2 700.2h0M1059.4 701.3h0M1061.1 700.0h0M1060.0 697.0h0M1059.6 699.4h0M1060.8 700.0h0M1078.0 747.7h0M1084.0 722.5h0M1082.4 722.0h0M1083.6 722.1h0M1081.9 724.3h0M1083.9 721.5h0M911.9 666.0h0M910.1 667.3h0M916.5 666.8h0M914.3 664.4h0M952.2 609.4h0M953.1 608.9h0M951.8 610.1h0M951.6 608.4h0M952.9 610.5h0M951.9 611.1h0M952.5 609.4h0M952.7 610.5h0M953.5 609.6h0M1088.8 753.2h0M1088.0 753.7h0M1089.7 751.9h0M1085.7 754.0h0M1073.0 742.3h0M1073.2 744.1h0M1069.1 739.1h0M912.6 675.8h0M909.3 676.5h0M910.2 675.8h0M914.3 675.2h0M911.0 676.7h0M913.0 674.7h0M911.7 674.4h0M992.3 776.5h0M991.8 777.6h0M991.7 777.4h0M991.7 776.4h0M990.1 775.8h0M914.7 683.1h0M911.9 681.6h0M913.6 683.9h0M914.4 683.9h0M913.4 683.1h0M912.3 682.1h0M913.1 681.7h0M911.7 680.4h0M1046.7 635.6h0M1048.0 636.7h0M1075.8 746.5h0M1081.9 749.6h0M1088.1 699.2h0M1087.4 698.7h0M922.9 630.6h0M922.2 629.0h0M922.9 630.0h0M923.0 630.0h0M924.8 632.2h0M1069.7 704.2h0M947.0 779.8h0M943.6 777.7h0M944.2 779.0h0M947.5 779.9h0M946.4 779.3h0M947.3 780.0h0M947.1 780.0h0M875.4 685.6h0M871.9 688.2h0M885.6 681.0h0M885.5 678.3h0M884.3 679.6h0M885.2 680.8h0M886.4 680.3h0M887.3 677.9h0M885.7 681.3h0M886.0 680.9h0M1072.1 749.4h0M1074.2 752.2h0M1071.4 751.6h0M1057.8 715.9h0M1057.3 716.6h0M1060.5 713.5h0M1059.0 715.1h0M1056.5 715.8h0M1057.6 715.1h0M1062.8 696.8h0M1056.4 699.6h0M1059.6 699.1h0M1056.8 698.3h0M985.2 604.6h0M985.9 606.5h0M984.7 606.1h0M986.9 605.9h0M985.8 606.2h0M983.6 607.3h0M985.2 607.1h0M984.3 607.9h0M984.3 606.2h0M1009.5 617.8h0M1010.6 617.1h0M886.8 676.2h0M890.0 679.6h0M888.6 677.2h0M886.3 676.1h0M887.2 676.4h0M888.8 678.6h0M923.6 627.2h0M922.6 627.9h0M919.4 626.9h0M919.1 625.5h0M1098.8 708.3h0M1100.9 704.8h0M1099.1 707.5h0M1099.9 704.0h0M1098.8 711.8h0M1099.7 707.3h0M1098.4 707.2h0M1098.7 705.4h0M1100.5 708.8h0" stroke="rgb(68,1,84)" stroke-width="1.5" stroke-linecap="round" fill="none" stroke-opacity="0.82"/><path d="M869.6 698.1h0M946.4 774.4h0M942.5 771.9h0M941.2 770.5h0M942.4 772.2h0M943.0 772.4h0M943.1 773.3h0M946.0 774.5h0M908.4 596.6h0M1099.9 720.5h0M889.9 628.4h0M890.1 627.2h0M889.5 627.2h0M1033.8 629.9h0M1033.5 630.0h0M1034.2 630.2h0M937.3 698.4h0M998.6 626.3h0M998.3 624.6h0M930.8 649.2h0M928.4 648.4h0M930.6 644.3h0M928.8 650.8h0M928.1 648.1h0M942.3 633.0h0M870.4 651.1h0M1050.2 749.2h0M1046.6 750.9h0M1054.1 737.0h0M951.4 629.5h0M1069.1 764.2h0M1070.4 763.6h0M1071.5 763.5h0M1098.9 710.6h0M872.3 678.3h0M871.8 677.9h0M923.7 709.8h0M923.0 710.1h0M921.1 709.5h0M892.9 668.0h0M890.8 669.1h0M977.6 727.5h0M978.2 726.3h0M979.7 727.3h0M992.3 770.3h0M1061.9 762.9h0M892.3 681.8h0M1084.6 652.1h0M962.9 762.3h0M1039.6 753.3h0M901.1 635.1h0M900.5 635.6h0M921.0 718.6h0M921.9 720.5h0M1010.5 579.0h0M971.7 596.9h0M887.6 654.7h0M1046.8 727.6h0M1045.8 726.8h0M990.8 732.4h0M932.8 656.6h0M934.7 655.6h0M932.7 655.3h0M959.3 606.9h0M959.0 608.3h0M957.9 608.5h0M1087.5 749.6h0M980.8 640.9h0M980.9 641.9h0M981.2 641.5h0M980.4 642.2h0M908.3 634.3h0M909.5 633.2h0M909.5 635.7h0M909.2 633.9h0M909.0 633.5h0M909.9 634.4h0M909.4 635.2h0M878.6 669.2h0M863.4 693.5h0M902.8 694.6h0M901.1 694.4h0M904.7 696.4h0M903.6 696.1h0M993.1 676.1h0M985.4 673.0h0M880.6 695.4h0M880.1 695.9h0M876.6 693.6h0M881.6 698.5h0M934.8 695.9h0M1069.3 741.0h0M1069.1 739.1h0M1070.7 740.1h0M1069.9 740.2h0M1077.6 742.2h0M910.8 623.5h0M910.8 624.0h0M911.5 623.6h0M985.7 592.1h0M985.1 589.2h0M1084.8 738.6h0M1087.4 737.9h0M1085.6 738.5h0M1085.3 740.8h0M974.2 612.1h0M974.1 610.4h0M904.1 622.7h0M902.3 623.1h0M904.4 623.0h0M908.2 618.7h0M1079.2 757.6h0M919.1 687.5h0M919.1 687.6h0M920.0 687.2h0M921.1 686.4h0M920.7 685.4h0M919.5 687.2h0M1088.1 747.5h0M945.5 685.3h0M946.2 687.4h0M946.3 687.6h0M947.8 687.7h0M856.8 685.4h0M859.7 684.6h0M855.7 684.3h0M860.5 681.3h0M1022.3 737.8h0M1023.0 736.3h0M1021.5 735.2h0M1019.9 591.4h0M1055.9 745.1h0M1055.2 747.6h0M1054.6 750.2h0M1056.0 747.4h0M1079.9 756.0h0M1044.2 755.2h0M1037.4 758.6h0M1044.2 755.3h0M944.2 711.5h0M945.3 711.7h0M1078.1 728.0h0M975.5 580.4h0M1055.8 740.1h0M954.9 774.5h0M953.9 774.0h0M954.0 775.6h0M893.4 663.6h0M893.2 665.9h0M893.1 668.6h0M890.8 671.4h0M991.2 767.1h0M1047.0 759.2h0M1042.8 760.2h0M1042.5 760.3h0M960.6 619.3h0M881.7 688.5h0M1094.9 742.6h0M894.8 681.3h0M895.5 628.8h0M900.7 633.2h0M896.8 632.0h0M898.4 631.0h0M899.2 631.4h0M992.8 670.6h0M993.9 670.5h0M995.2 668.2h0M994.7 666.8h0M995.4 664.9h0M1076.0 731.5h0M1074.4 733.2h0M1073.0 734.1h0M1075.1 735.3h0M1073.3 733.1h0M918.7 656.9h0M918.8 662.1h0M1040.1 677.0h0M1042.8 679.3h0M1043.6 678.7h0M1098.8 715.3h0M1099.2 715.5h0M1099.2 714.2h0M1098.8 712.5h0M1099.1 710.7h0M1008.9 712.4h0M1102.6 705.3h0M1104.3 706.0h0M1098.3 706.2h0M1073.5 747.2h0M1073.7 747.3h0M1073.7 747.9h0M1063.3 741.9h0M1063.3 743.8h0M1062.0 742.1h0M1062.9 743.2h0M1067.5 687.7h0M1066.8 686.2h0M1068.1 690.3h0M1089.3 666.9h0M1094.8 672.0h0M999.3 577.4h0M1000.7 576.7h0M1000.2 576.2h0M1001.2 576.3h0M1063.7 714.0h0M1065.1 712.2h0M966.0 617.0h0M967.9 618.8h0M968.3 617.3h0M968.1 617.5h0M1031.0 746.2h0M1031.5 745.1h0M1030.9 749.0h0M1031.6 745.0h0M1030.6 746.2h0M938.3 685.3h0M937.5 684.2h0M900.5 677.6h0M900.1 678.2h0M900.9 678.1h0M1046.2 747.4h0M1047.5 747.5h0M1108.6 659.7h0M1106.6 654.2h0M1107.6 661.0h0M1067.5 724.4h0M1066.0 723.0h0M1065.7 724.5h0M1066.2 724.0h0M1066.3 723.1h0M899.9 655.6h0M905.9 649.9h0M890.3 698.9h0M888.0 698.4h0M890.4 698.7h0M1088.3 658.0h0M1084.3 654.4h0M1083.7 654.5h0M1086.7 655.8h0M969.2 635.4h0M968.3 635.8h0M873.1 665.7h0M1077.9 762.0h0M1077.2 763.7h0M895.7 693.7h0M1002.6 650.2h0M1000.7 649.8h0M1092.5 742.8h0M1090.8 741.8h0M1064.5 748.6h0M1060.7 747.4h0M1062.5 748.5h0M1034.6 725.5h0M1034.8 724.8h0M1036.0 728.4h0M944.6 642.6h0M900.0 622.5h0M900.0 622.6h0M1031.5 720.6h0M1034.2 721.1h0M1034.9 721.7h0M906.9 643.1h0M906.7 644.6h0M907.3 645.1h0M956.2 785.9h0M1105.3 724.5h0M873.7 684.4h0M1013.5 654.3h0M1012.7 651.9h0M1078.2 735.1h0M1078.5 735.5h0M1068.6 716.1h0M1055.3 735.3h0M1121.9 692.2h0M1096.6 703.3h0M1088.9 742.8h0M927.9 665.5h0M928.9 664.7h0M931.6 665.6h0M1050.4 713.1h0M949.4 768.6h0M947.2 768.4h0M947.8 768.9h0M945.8 769.0h0M1061.5 627.5h0M1026.5 681.5h0M1025.5 682.7h0M938.4 711.4h0M983.1 702.7h0M981.7 702.6h0M978.1 701.4h0M920.2 689.2h0M920.3 687.6h0M1048.3 719.9h0M1048.2 719.1h0M1047.5 720.4h0M1045.6 718.4h0M1016.6 666.8h0M1052.2 682.5h0M1030.2 611.2h0M1030.0 611.2h0M1028.9 610.6h0M1031.1 611.9h0M946.1 786.9h0M944.7 786.0h0M945.7 786.8h0M945.0 785.8h0M990.5 644.2h0M992.7 647.1h0M1017.2 681.5h0M968.1 662.9h0M975.3 595.2h0M967.5 771.5h0M967.0 767.6h0M950.7 779.4h0M944.9 779.8h0M948.3 778.7h0M948.8 780.4h0M915.2 682.0h0M907.9 616.8h0M1086.7 707.2h0M1083.2 685.1h0M929.8 625.3h0M1090.9 650.8h0M1091.3 648.9h0M1052.0 728.0h0M1000.2 767.8h0M948.8 764.1h0M905.4 692.4h0M1019.3 680.3h0M1087.1 641.4h0M1086.3 642.8h0M1086.5 639.5h0M1087.6 640.9h0M937.7 663.5h0M936.2 663.0h0M937.4 663.1h0M937.0 662.0h0M937.9 663.0h0M1053.1 735.3h0M979.5 779.6h0M978.2 781.6h0M952.7 591.9h0M1072.9 740.2h0M1080.4 745.6h0M1075.8 738.9h0M1045.7 714.7h0M893.5 672.2h0M980.0 654.6h0M977.5 655.2h0M981.4 653.6h0M982.9 653.6h0M1044.6 746.1h0M1047.3 749.3h0M1047.5 750.7h0M1105.5 712.2h0M987.6 706.6h0M989.7 706.5h0M987.5 705.4h0M922.6 674.0h0M922.4 674.6h0M954.4 760.6h0M953.6 760.1h0M951.4 759.8h0M953.1 760.6h0M954.0 762.0h0M918.3 654.5h0M1037.2 753.9h0M875.9 695.5h0M880.2 691.9h0M1073.1 707.9h0M1074.0 708.0h0M904.9 670.9h0M1102.3 661.8h0M1099.1 658.1h0M1100.9 662.3h0M1102.4 720.1h0M1098.6 638.1h0M1094.7 634.8h0M1098.9 641.3h0M923.5 701.2h0M924.7 702.3h0M939.0 592.8h0M866.4 694.5h0M1045.7 720.7h0M1044.2 718.8h0M1046.6 721.5h0M1048.8 723.0h0M1041.1 719.0h0M1041.4 716.6h0M1043.6 717.0h0M895.7 682.8h0M894.5 687.0h0M895.7 683.0h0M1032.8 754.0h0M1032.3 754.9h0M1032.4 752.2h0M1033.4 754.3h0M1032.3 753.7h0M1033.1 755.5h0M1032.8 755.3h0M959.5 641.6h0M959.2 641.8h0M896.1 706.4h0M896.7 705.2h0M941.3 777.3h0M938.8 778.5h0M939.9 776.3h0M941.5 777.5h0M1033.3 689.6h0M1039.6 693.8h0M1046.6 680.4h0M1047.2 681.4h0M1046.5 666.2h0M1048.7 665.3h0M927.8 670.9h0M924.4 668.9h0M925.3 668.9h0M924.9 669.5h0M923.9 668.6h0M925.6 668.7h0M973.6 596.8h0M971.1 597.7h0M995.6 611.5h0M999.2 606.3h0M944.1 600.0h0M1056.2 667.3h0M1053.2 663.3h0M1050.0 712.7h0M1051.8 715.2h0M1050.3 714.5h0M1072.6 716.4h0M992.7 625.8h0M994.9 626.8h0M996.5 626.3h0M998.3 625.7h0M997.2 627.4h0M995.1 626.5h0M998.0 625.0h0M1059.7 750.1h0M1061.2 757.6h0M1061.9 753.9h0M1060.4 754.4h0M1060.2 750.9h0M1060.7 752.8h0M1061.4 753.9h0M1024.9 750.2h0M922.4 692.6h0M922.3 691.8h0M922.4 692.2h0M922.7 691.6h0M922.6 690.0h0M921.9 691.9h0M952.0 667.9h0M952.7 667.0h0M1064.4 753.9h0M1064.1 757.0h0M1064.3 755.0h0M988.0 605.0h0M990.2 604.2h0M993.3 602.1h0M991.5 604.3h0M990.6 603.3h0M986.3 605.1h0M879.0 625.8h0M1077.1 730.8h0M1078.7 732.1h0M1078.0 728.9h0M1116.6 629.9h0M902.0 636.3h0M907.8 636.3h0M903.4 635.8h0M1036.1 624.7h0M1033.3 623.4h0M897.0 655.2h0M897.3 655.3h0M896.8 654.6h0M897.1 658.8h0M1022.3 694.8h0M1023.7 699.8h0M1104.9 718.3h0M1102.7 719.1h0M1103.4 717.6h0M892.7 690.6h0M1062.4 763.3h0M979.9 732.5h0M983.2 730.7h0M1014.4 672.7h0M1011.6 672.1h0M1060.6 658.7h0M1043.2 759.5h0M1043.0 761.0h0M954.4 641.4h0M1072.1 708.0h0M1073.0 706.8h0M1071.3 706.4h0M1072.1 708.3h0M1081.2 700.1h0M1082.4 699.3h0M1082.8 697.2h0M1083.1 699.1h0M1086.4 637.8h0M1085.3 636.5h0M1086.5 636.7h0M1085.1 639.0h0M1087.1 639.0h0M1085.4 637.8h0M1071.1 658.2h0M900.3 664.3h0M898.7 664.7h0M901.2 665.0h0M900.5 665.3h0M901.5 663.7h0M952.7 728.0h0M952.4 728.0h0M955.8 729.8h0M952.5 728.9h0M954.5 728.2h0M884.7 700.8h0M936.4 729.7h0M940.0 730.7h0M893.8 699.9h0M911.9 704.3h0M911.3 703.0h0M911.3 704.4h0M910.9 703.4h0M910.4 701.8h0M909.9 704.3h0M910.8 702.5h0M910.8 704.1h0M940.8 684.9h0M941.9 678.6h0M942.9 680.6h0M980.6 617.5h0M980.9 615.4h0M916.6 659.4h0M915.8 659.7h0M915.3 660.9h0M1081.5 650.2h0M944.5 627.1h0M943.7 627.7h0M968.5 618.0h0M966.2 619.0h0M1089.6 621.1h0M941.8 764.8h0M1060.6 690.3h0M1060.3 691.0h0M1060.0 691.2h0M1060.6 691.8h0M927.4 718.7h0M923.5 719.9h0M924.8 720.0h0M923.6 719.7h0M1053.9 705.5h0M1054.3 707.2h0M912.9 647.7h0M1013.7 629.9h0M1013.7 632.1h0M1013.8 629.3h0M1015.5 629.4h0M1016.1 627.6h0M1015.1 629.3h0M1087.0 696.6h0M1090.2 695.9h0M1088.4 696.0h0M1089.6 695.6h0M1090.6 696.8h0M923.2 703.1h0M921.7 703.2h0M922.4 702.9h0M918.1 673.3h0M920.2 672.5h0M918.2 673.9h0M1058.3 714.5h0M1049.1 730.7h0M1049.3 729.5h0M1048.2 730.4h0M1049.7 729.8h0M1050.9 728.6h0M929.4 622.1h0M908.7 642.8h0M908.5 640.4h0M909.8 640.3h0M908.0 639.1h0M909.5 640.8h0M907.6 641.3h0M905.0 648.7h0M903.8 650.7h0M905.6 650.1h0M904.7 649.4h0M900.9 709.3h0M930.8 677.7h0M929.7 678.7h0M985.1 621.7h0M982.6 622.6h0M933.8 655.4h0M931.9 654.3h0M1074.2 710.3h0M946.7 705.0h0M944.3 704.4h0M945.3 704.4h0M1087.8 697.4h0M1088.1 698.3h0M895.7 641.4h0M892.5 641.9h0M974.8 739.9h0M1045.8 635.5h0M1071.1 701.4h0M1072.7 700.7h0M1071.8 702.2h0M1068.9 702.6h0M1072.3 700.7h0M874.6 691.8h0M873.0 689.8h0M872.8 687.4h0M871.7 690.1h0M885.6 680.2h0M1069.3 745.6h0M1072.2 748.9h0M1072.5 754.0h0M1085.5 719.3h0M1085.0 718.9h0M1089.4 719.7h0M1060.7 700.1h0M1061.5 699.1h0M1060.9 698.7h0M1057.1 699.7h0M1009.1 616.8h0M1010.6 618.1h0M887.5 677.2h0M887.6 676.2h0M868.6 637.6h0M872.0 638.5h0M871.5 637.4h0M873.8 638.9h0M872.8 636.9h0M920.3 627.1h0M921.4 626.2h0M922.2 625.0h0M920.9 626.6h0M918.9 626.7h0" stroke="rgb(71,28,109)" stroke-width="1.5" stroke-linecap="round" fill="none" stroke-opacity="0.82"/><path d="M1055.0 691.4h0M927.2 600.8h0M928.9 599.1h0M928.7 599.5h0M1043.2 668.8h0M1042.3 670.4h0M1043.8 665.1h0M942.6 771.8h0M1081.9 688.6h0M1081.1 688.4h0M1080.0 694.2h0M1079.7 693.9h0M1082.3 688.5h0M1081.0 692.5h0M1079.8 691.6h0M1100.4 722.1h0M1101.6 721.9h0M1101.0 722.3h0M1100.1 720.1h0M1099.2 720.7h0M948.2 772.5h0M945.3 771.5h0M944.7 772.0h0M1036.6 632.4h0M1032.8 629.0h0M1034.0 628.2h0M937.4 699.2h0M937.3 698.7h0M939.2 695.8h0M937.7 697.0h0M939.1 696.9h0M938.9 700.1h0M920.1 635.6h0M919.1 636.0h0M1107.7 679.2h0M1106.6 680.2h0M1108.9 678.8h0M1105.9 677.4h0M1105.7 678.7h0M877.5 639.3h0M879.0 638.4h0M878.9 637.7h0M1104.9 704.9h0M1105.5 704.5h0M1058.0 677.7h0M1048.8 750.4h0M1046.2 750.7h0M974.8 619.0h0M980.7 621.7h0M1052.7 741.0h0M1051.6 741.4h0M1053.3 739.1h0M1053.4 740.7h0M1053.4 741.1h0M926.4 664.8h0M958.6 745.4h0M1061.7 730.6h0M1071.6 762.1h0M1073.1 764.3h0M1071.3 763.4h0M1085.1 672.1h0M1086.3 667.6h0M1088.2 669.1h0M1088.8 668.0h0M1086.5 671.1h0M1082.3 672.5h0M924.3 602.3h0M925.3 602.4h0M925.9 603.6h0M1095.7 712.7h0M887.5 650.8h0M886.7 650.3h0M889.0 652.8h0M890.1 653.0h0M887.2 651.4h0M887.7 653.0h0M887.5 650.1h0M907.5 619.1h0M924.3 709.1h0M921.0 710.9h0M891.8 667.9h0M893.5 668.7h0M943.6 598.9h0M1092.2 697.7h0M1089.4 697.7h0M1090.5 698.0h0M945.6 619.6h0M945.9 617.8h0M946.1 622.2h0M994.2 773.5h0M922.9 715.1h0M920.6 711.3h0M920.4 713.3h0M921.3 709.8h0M921.6 715.9h0M1061.0 760.0h0M1017.0 717.3h0M1015.6 720.4h0M1018.4 713.1h0M891.9 630.8h0M892.7 631.6h0M892.9 631.5h0M892.7 632.5h0M945.9 608.4h0M943.9 610.2h0M944.2 609.9h0M946.6 609.0h0M944.7 610.6h0M945.6 608.6h0M1039.0 751.7h0M891.5 676.5h0M887.4 674.1h0M891.2 674.0h0M902.8 635.1h0M901.3 635.7h0M903.4 636.2h0M903.0 635.5h0M922.8 720.8h0M920.7 720.8h0M1014.8 597.3h0M1010.2 578.8h0M1012.8 580.0h0M1011.1 581.0h0M1047.4 719.9h0M1049.1 722.4h0M1047.5 720.5h0M1047.9 720.4h0M888.1 656.4h0M889.8 655.4h0M889.5 654.9h0M889.8 657.9h0M979.8 657.1h0M982.0 660.1h0M980.0 658.7h0M979.9 656.8h0M982.4 694.4h0M961.1 608.2h0M960.5 606.9h0M962.1 608.2h0M960.1 607.1h0M960.1 608.6h0M1088.6 748.9h0M1081.5 745.0h0M983.3 640.3h0M982.4 640.6h0M980.4 642.1h0M864.3 694.2h0M904.2 695.4h0M901.2 694.9h0M881.7 697.7h0M937.2 696.3h0M932.6 695.6h0M938.2 696.4h0M935.1 696.6h0M995.7 581.5h0M996.2 578.2h0M938.0 653.7h0M938.6 655.3h0M1084.4 738.6h0M1084.9 738.7h0M1086.5 739.0h0M1087.3 738.9h0M986.2 588.8h0M987.1 594.1h0M986.3 591.5h0M986.4 589.8h0M1086.5 738.2h0M1085.1 739.2h0M1047.0 641.7h0M989.5 775.3h0M990.4 776.3h0M989.6 776.5h0M990.6 774.9h0M939.7 754.9h0M939.8 757.0h0M938.9 756.1h0M941.0 754.1h0M939.3 753.5h0M940.1 755.6h0M939.7 755.2h0M905.3 621.6h0M905.0 621.2h0M930.4 690.8h0M931.5 690.1h0M930.0 691.2h0M1054.3 720.1h0M919.3 715.2h0M920.1 712.9h0M918.7 687.9h0M919.4 687.1h0M920.4 688.3h0M1087.4 748.3h0M1086.5 746.9h0M920.4 646.0h0M945.3 686.8h0M925.2 704.8h0M1057.0 746.1h0M1056.3 747.7h0M1056.2 746.6h0M1044.0 755.1h0M1040.8 755.8h0M1098.4 726.2h0M1099.3 726.2h0M1098.4 727.6h0M948.4 712.5h0M1078.9 730.0h0M1078.7 729.9h0M1080.4 730.3h0M977.8 581.6h0M979.6 577.6h0M978.2 579.4h0M954.0 774.8h0M950.4 776.0h0M952.8 776.7h0M950.3 778.7h0M954.7 775.4h0M993.1 768.8h0M1042.9 760.3h0M929.4 703.9h0M931.2 704.5h0M928.7 703.4h0M928.3 701.8h0M931.4 674.7h0M932.4 675.3h0M927.3 676.0h0M929.7 675.2h0M960.2 618.2h0M883.0 656.5h0M1106.7 638.2h0M1109.1 636.7h0M1107.3 636.9h0M1107.0 638.1h0M1105.4 633.1h0M1106.0 637.4h0M1105.6 636.0h0M932.8 593.6h0M1093.6 739.9h0M880.4 678.4h0M898.7 631.8h0M1074.0 731.7h0M1074.2 735.3h0M917.2 658.8h0M914.6 664.2h0M919.3 661.7h0M939.2 687.1h0M938.1 687.2h0M1042.7 677.4h0M1039.3 677.1h0M1043.2 678.6h0M1033.3 757.1h0M1083.0 746.2h0M1098.1 712.1h0M1098.8 714.9h0M1084.5 689.7h0M1086.0 689.2h0M1008.8 711.4h0M1007.9 713.0h0M1006.6 714.6h0M1008.3 713.7h0M1005.9 716.0h0M1065.4 719.8h0M1101.8 705.9h0M1101.8 707.0h0M1101.3 706.5h0M952.4 598.7h0M1074.4 709.9h0M1076.4 710.5h0M1079.4 711.3h0M1081.4 712.2h0M1019.7 668.9h0M1091.5 736.0h0M1090.7 739.0h0M1065.4 684.4h0M1064.4 686.5h0M1063.5 682.8h0M1067.4 687.2h0M1000.3 577.9h0M964.9 616.6h0M965.2 619.2h0M968.5 617.5h0M1029.9 746.9h0M1031.8 743.6h0M1030.7 749.6h0M1031.3 745.8h0M1105.5 658.1h0M1107.9 659.6h0M1108.0 658.0h0M1107.4 659.0h0M1107.4 656.7h0M1066.5 723.1h0M1067.8 724.8h0M1066.0 724.7h0M925.6 697.1h0M926.2 694.1h0M926.1 695.9h0M926.5 696.3h0M946.9 693.4h0M937.6 773.6h0M958.3 768.7h0M955.7 766.5h0M956.0 767.8h0M959.5 767.8h0M957.5 766.6h0M958.5 767.1h0M957.5 767.0h0M903.0 652.4h0M904.4 652.1h0M902.3 652.9h0M905.7 650.4h0M969.3 635.7h0M876.2 665.3h0M1077.5 763.9h0M1077.0 761.5h0M1074.8 761.7h0M1077.2 763.1h0M1001.0 649.8h0M999.4 648.7h0M1000.9 648.5h0M1000.4 649.4h0M1000.7 650.2h0M873.9 656.6h0M873.2 656.4h0M875.4 656.1h0M1092.3 743.5h0M1090.8 742.1h0M1093.4 743.0h0M1093.7 744.7h0M1065.3 748.1h0M1062.7 750.0h0M1066.0 748.1h0M1061.5 748.3h0M1064.9 749.5h0M1066.5 749.8h0M1032.6 724.0h0M999.9 743.2h0M999.1 744.2h0M974.7 578.9h0M972.4 580.0h0M974.5 582.0h0M974.2 579.8h0M975.0 580.6h0M944.2 644.0h0M946.5 643.1h0M919.1 607.7h0M919.8 609.7h0M918.6 607.5h0M917.5 603.8h0M917.0 603.5h0M918.8 606.5h0M917.4 604.7h0M918.6 605.9h0M916.3 705.4h0M955.4 787.4h0M955.0 787.7h0M1014.8 601.7h0M1012.3 600.1h0M944.0 634.8h0M945.7 634.3h0M951.7 635.8h0M923.3 713.3h0M1046.4 728.9h0M1047.7 731.2h0M1044.7 729.0h0M1040.7 740.0h0M1040.6 738.6h0M1069.8 717.1h0M1070.5 716.9h0M982.7 610.2h0M979.9 610.3h0M981.3 609.7h0M981.8 609.3h0M1027.4 739.0h0M1026.8 738.9h0M1026.8 739.5h0M1000.5 652.7h0M1091.0 696.6h0M1095.8 703.9h0M1097.5 703.3h0M1095.6 704.2h0M1095.3 703.4h0M1097.3 701.8h0M1143.6 690.7h0M1144.4 691.9h0M1142.0 691.3h0M1143.5 691.5h0M929.1 664.3h0M931.3 664.5h0M930.2 665.4h0M931.0 664.8h0M1050.8 713.7h0M1051.1 712.9h0M1051.6 713.6h0M1051.7 714.9h0M1050.4 715.3h0M1046.5 713.1h0M1047.5 711.6h0M1049.6 711.5h0M947.9 769.8h0M947.3 769.1h0M1061.7 626.3h0M1062.4 627.9h0M1061.5 626.4h0M1063.4 628.0h0M1027.9 681.9h0M980.7 701.9h0M1047.3 719.6h0M1046.6 719.0h0M1046.8 720.8h0M1085.6 694.6h0M1087.6 695.8h0M1087.6 694.7h0M1021.4 664.7h0M942.1 690.5h0M941.7 694.6h0M940.7 692.5h0M942.2 697.4h0M942.1 693.1h0M943.0 692.7h0M941.6 689.8h0M924.0 676.4h0M924.6 676.6h0M901.7 707.7h0M891.8 663.0h0M893.3 659.7h0M892.9 659.7h0M1061.8 709.3h0M1062.5 706.9h0M1062.1 708.5h0M881.2 646.3h0M882.0 646.0h0M882.9 645.0h0M883.3 645.7h0M876.7 648.2h0M883.8 643.4h0M968.5 662.7h0M969.3 666.3h0M968.2 664.4h0M967.9 667.6h0M967.3 664.2h0M977.9 593.6h0M1095.0 642.6h0M1100.3 642.4h0M1065.5 740.6h0M879.0 634.0h0M877.8 632.8h0M879.9 634.8h0M879.7 635.4h0M879.6 635.2h0M878.0 634.0h0M879.7 638.4h0M920.3 654.9h0M879.0 690.3h0M879.3 690.7h0M1002.3 694.2h0M1002.5 696.8h0M1056.2 662.0h0M1057.0 662.6h0M1056.1 657.5h0M1056.7 661.5h0M1032.4 739.1h0M1086.7 677.1h0M1083.3 685.0h0M929.6 626.4h0M928.4 625.1h0M928.5 627.8h0M929.7 623.3h0M929.3 625.0h0M928.2 624.9h0M969.5 633.3h0M971.2 634.1h0M912.8 709.0h0M913.7 709.9h0M912.7 709.4h0M1000.1 765.5h0M998.6 768.4h0M999.9 765.1h0M1000.1 766.9h0M998.5 768.1h0M949.9 764.1h0M951.2 767.3h0M950.2 766.3h0M905.7 691.7h0M907.8 690.6h0M905.8 691.2h0M906.2 691.7h0M992.6 792.0h0M992.1 793.2h0M991.6 794.4h0M990.1 797.9h0M992.7 792.4h0M959.3 651.3h0M959.2 651.8h0M959.4 654.2h0M959.6 651.1h0M1019.8 683.3h0M1021.4 683.3h0M948.9 619.9h0M950.3 621.2h0M1088.1 640.9h0M1087.4 641.9h0M1087.2 640.9h0M1053.6 735.5h0M1053.6 733.6h0M1054.6 732.7h0M1052.9 730.3h0M981.7 777.5h0M976.8 782.5h0M976.9 782.8h0M948.9 593.1h0M948.7 592.5h0M949.1 592.2h0M949.6 592.6h0M1076.7 743.3h0M1078.4 745.0h0M1080.5 746.1h0M1075.7 741.5h0M1075.2 741.0h0M1077.6 745.2h0M896.9 666.2h0M899.9 665.5h0M1105.3 718.0h0M1103.6 712.5h0M1104.6 716.0h0M922.1 675.8h0M923.8 673.0h0M874.8 674.1h0M872.8 674.7h0M1036.0 751.7h0M1035.6 749.8h0M1038.3 751.8h0M987.8 734.5h0M987.2 736.4h0M985.7 734.8h0M987.5 734.4h0M1096.7 722.4h0M922.7 654.0h0M924.1 654.4h0M903.7 672.5h0M903.3 672.9h0M897.4 641.5h0M924.1 701.3h0M924.9 701.0h0M922.3 703.1h0M922.4 702.1h0M925.2 700.5h0M923.9 701.4h0M1082.4 660.8h0M1082.5 660.1h0M919.0 687.0h0M918.5 688.5h0M950.9 774.1h0M871.2 695.5h0M871.4 696.3h0M876.1 697.0h0M875.6 697.6h0M869.6 694.8h0M867.4 694.0h0M906.9 633.7h0M907.1 631.9h0M910.6 634.1h0M955.8 762.8h0M954.3 762.9h0M952.8 764.2h0M952.1 764.5h0M953.7 763.5h0M953.9 762.3h0M956.5 761.8h0M989.8 795.5h0M988.1 800.9h0M1074.5 734.5h0M1073.0 732.7h0M1068.5 730.1h0M1070.1 729.2h0M1070.4 730.6h0M895.2 687.3h0M896.0 680.3h0M895.1 684.5h0M964.6 652.6h0M965.3 652.8h0M1082.6 657.9h0M1082.4 657.2h0M1085.1 659.5h0M895.8 704.6h0M896.0 707.3h0M938.6 704.0h0M940.3 706.4h0M1036.8 693.0h0M967.3 735.9h0M924.3 669.1h0M922.9 669.2h0M1077.1 694.1h0M952.8 771.5h0M947.9 766.4h0M948.4 765.2h0M942.2 602.1h0M943.2 603.4h0M942.7 602.6h0M940.6 602.2h0M944.7 599.8h0M941.6 600.8h0M941.8 600.9h0M943.5 598.7h0M1055.5 667.6h0M1050.1 713.9h0M1101.4 724.2h0M1061.7 753.0h0M1086.1 733.4h0M922.7 691.3h0M922.6 690.1h0M1086.7 685.3h0M1076.4 709.9h0M1076.3 708.0h0M1074.9 707.0h0M1074.2 705.4h0M1000.2 683.1h0M1001.2 683.6h0M1001.6 683.1h0M1000.9 683.3h0M876.4 625.9h0M899.5 698.8h0M928.7 712.5h0M916.7 681.3h0M916.4 680.6h0M919.9 680.1h0M1078.5 731.9h0M907.4 636.6h0M906.5 636.6h0M907.6 635.7h0M1037.0 623.7h0M897.3 657.9h0M1024.6 698.7h0M1075.2 646.3h0M947.4 781.3h0M900.7 683.0h0M902.0 620.3h0M1062.0 761.7h0M1061.9 760.9h0M1075.7 744.4h0M1073.8 742.7h0M1075.3 743.6h0M1075.8 745.2h0M1043.2 651.2h0M1042.6 652.7h0M1014.8 670.1h0M1055.3 708.9h0M1043.2 759.9h0M1042.8 760.2h0M1090.3 625.2h0M954.2 642.6h0M1084.6 711.6h0M1084.0 707.7h0M1083.5 713.6h0M1083.4 713.1h0M947.7 640.2h0M948.0 637.7h0M905.5 714.8h0M1071.5 707.0h0M1082.2 697.6h0M1083.9 697.0h0M1072.9 659.1h0M1070.1 660.2h0M1071.2 659.8h0M1071.3 659.5h0M900.0 664.0h0M900.1 664.9h0M957.5 730.5h0M950.2 728.7h0M999.2 574.2h0M992.0 627.3h0M992.8 627.3h0M994.1 623.5h0M992.6 625.9h0M991.4 629.2h0M992.2 626.3h0M894.9 696.7h0M893.5 694.7h0M895.1 693.4h0M894.9 694.8h0M894.8 696.4h0M910.7 703.4h0M1064.8 686.9h0M991.9 736.8h0M1082.7 698.9h0M1053.8 760.2h0M888.2 664.3h0M888.6 665.3h0M915.6 660.3h0M913.9 661.8h0M915.3 660.8h0M915.4 659.8h0M915.5 660.1h0M984.7 729.4h0M984.3 726.1h0M969.5 617.5h0M967.8 618.2h0M969.3 618.1h0M966.7 620.3h0M1094.4 686.4h0M1094.2 685.5h0M1087.7 622.5h0M938.5 764.7h0M901.8 669.3h0M1063.3 691.3h0M1061.7 690.4h0M1063.6 690.7h0M925.5 720.8h0M922.9 720.6h0M924.6 719.9h0M923.6 719.6h0M1073.8 657.8h0M1072.8 657.5h0M1016.2 627.1h0M1014.1 632.0h0M922.3 703.7h0M919.4 705.3h0M928.9 591.3h0M930.4 591.9h0M927.6 592.2h0M920.3 674.7h0M917.8 675.3h0M919.8 673.4h0M1077.3 621.2h0M1028.6 665.8h0M1046.8 729.5h0M1047.6 730.4h0M928.4 620.9h0M928.2 622.4h0M927.1 621.6h0M930.6 621.6h0M928.3 623.4h0M931.8 624.9h0M928.2 622.3h0M955.4 610.5h0M956.7 609.9h0M952.1 612.5h0M954.8 611.0h0M953.2 612.3h0M956.7 610.7h0M906.0 649.1h0M903.7 650.4h0M904.6 649.7h0M904.5 650.4h0M951.8 656.7h0M900.9 707.7h0M900.2 709.0h0M903.3 672.0h0M902.8 673.3h0M902.8 666.9h0M922.2 721.1h0M921.7 720.7h0M919.1 720.3h0M921.0 721.5h0M984.5 622.6h0M1035.1 760.8h0M1033.9 757.6h0M1034.9 759.1h0M1034.4 757.2h0M1033.8 757.9h0M1035.7 761.9h0M1035.2 750.0h0M928.3 649.0h0M928.6 651.7h0M1075.6 711.1h0M1074.7 709.8h0M885.6 684.7h0M884.7 684.3h0M945.5 704.8h0M946.2 705.6h0M943.7 703.2h0M949.7 705.3h0M1089.3 696.1h0M893.0 642.9h0M896.0 640.1h0M893.0 641.8h0M972.5 740.3h0M918.1 641.8h0M1071.0 704.8h0M1069.7 704.3h0M1038.0 663.2h0M907.8 652.4h0M907.1 652.9h0M907.3 652.0h0M906.8 653.0h0M908.2 652.7h0M906.1 654.9h0M907.4 654.3h0M1085.8 715.2h0M944.6 697.1h0M968.9 784.1h0M971.5 783.0h0M970.4 783.9h0M1121.7 645.4h0M1085.5 716.4h0M1086.9 718.3h0M1012.5 709.2h0M932.1 676.0h0M924.7 678.5h0M1009.3 615.5h0M1071.4 680.8h0M1045.4 752.1h0M1049.0 753.2h0M870.5 638.5h0" stroke="rgb(68,53,127)" stroke-width="1.5" stroke-linecap="round" fill="none" stroke-opacity="0.82"/><path d="M915.0 704.3h0M914.4 704.8h0M974.5 655.7h0M977.2 656.8h0M929.1 600.9h0M919.5 634.4h0M1043.3 670.0h0M1043.0 668.5h0M1044.0 667.0h0M1042.1 665.9h0M916.0 670.6h0M915.0 669.8h0M1039.2 722.0h0M1037.4 719.4h0M1080.7 690.6h0M1081.1 692.6h0M943.8 626.0h0M942.1 623.0h0M944.4 624.2h0M945.5 628.8h0M945.1 628.6h0M944.5 627.5h0M1139.2 673.9h0M1138.8 673.5h0M946.3 773.1h0M952.8 774.4h0M945.0 771.3h0M949.9 773.2h0M945.8 614.3h0M949.7 615.1h0M878.6 639.3h0M1108.6 709.6h0M1045.3 704.3h0M1042.5 703.3h0M890.8 640.8h0M1056.3 645.8h0M1104.8 704.7h0M1106.0 702.8h0M1105.4 702.5h0M976.1 617.9h0M923.2 663.8h0M924.7 665.0h0M958.6 744.7h0M958.9 749.1h0M965.0 625.8h0M963.6 623.6h0M962.3 626.0h0M961.3 625.4h0M1062.6 732.8h0M1062.6 730.9h0M1069.5 763.1h0M926.4 658.0h0M925.8 659.0h0M927.4 658.4h0M926.9 658.1h0M929.9 657.2h0M933.1 647.8h0M933.7 647.9h0M933.2 647.8h0M1097.8 711.7h0M1097.0 711.5h0M1098.4 711.5h0M1098.1 710.9h0M1099.5 711.0h0M1097.5 712.2h0M927.0 645.3h0M925.4 647.6h0M887.0 651.4h0M911.1 710.3h0M910.2 710.0h0M865.0 661.5h0M863.4 661.9h0M908.7 618.0h0M944.9 773.2h0M945.7 774.0h0M918.2 630.6h0M920.2 628.3h0M919.3 628.9h0M918.9 628.6h0M1090.3 695.3h0M1090.8 697.1h0M1092.5 697.7h0M1089.1 698.3h0M1089.5 696.6h0M978.2 727.1h0M946.9 616.5h0M1066.0 738.0h0M1061.9 745.6h0M918.7 708.9h0M1114.6 678.3h0M1114.3 678.1h0M878.4 647.1h0M1017.3 714.0h0M1013.1 758.3h0M870.7 685.6h0M890.5 631.6h0M893.2 632.6h0M892.6 631.8h0M891.6 630.7h0M999.5 585.6h0M998.1 585.4h0M945.8 609.9h0M1040.5 752.8h0M1038.3 751.6h0M1038.4 751.8h0M1040.1 753.7h0M1037.2 750.6h0M1042.0 755.2h0M1039.8 753.5h0M907.7 610.9h0M904.3 609.3h0M888.4 673.5h0M901.8 635.5h0M900.1 635.7h0M1014.9 597.0h0M1013.6 596.4h0M1005.8 576.5h0M1009.8 580.6h0M1013.6 582.1h0M1049.1 722.1h0M1050.8 720.7h0M1045.8 720.7h0M951.7 700.9h0M952.1 701.6h0M951.6 704.2h0M951.6 702.4h0M951.8 703.3h0M890.0 656.1h0M889.3 656.6h0M888.6 656.3h0M888.2 653.8h0M981.3 659.4h0M922.2 684.7h0M924.2 687.0h0M924.1 684.3h0M984.6 695.1h0M986.4 697.2h0M986.2 696.0h0M960.1 607.9h0M868.4 691.5h0M867.5 692.6h0M866.2 694.0h0M865.5 693.9h0M1061.1 703.8h0M1002.1 752.8h0M1004.6 749.7h0M927.2 704.7h0M974.4 614.2h0M995.0 577.0h0M994.9 575.8h0M993.7 576.6h0M994.9 576.1h0M1083.9 673.1h0M998.1 578.1h0M996.0 580.3h0M939.1 655.3h0M938.2 652.3h0M937.9 655.0h0M938.5 655.2h0M943.4 584.0h0M1085.5 738.4h0M1083.0 736.8h0M1086.2 737.4h0M1084.2 738.0h0M986.0 590.3h0M912.6 707.2h0M915.3 707.1h0M915.0 706.4h0M915.6 708.3h0M906.9 596.1h0M908.7 597.4h0M1046.5 644.0h0M989.6 777.4h0M939.8 755.5h0M940.4 755.4h0M928.1 690.8h0M931.0 691.1h0M930.1 690.1h0M929.9 690.4h0M1053.5 718.9h0M1056.6 719.9h0M920.8 712.8h0M1085.9 744.6h0M919.9 645.9h0M917.3 646.5h0M922.8 646.5h0M924.8 705.6h0M921.4 705.3h0M912.6 637.1h0M984.2 793.0h0M1100.3 726.5h0M1098.9 726.9h0M1099.0 723.7h0M1099.6 730.1h0M1078.5 728.7h0M1078.4 729.5h0M1080.9 728.9h0M978.9 576.9h0M976.4 576.8h0M977.3 577.0h0M1069.4 716.0h0M930.6 707.3h0M928.4 704.2h0M933.0 675.1h0M930.3 675.8h0M928.2 674.6h0M932.6 674.7h0M932.6 673.2h0M930.7 595.2h0M932.5 594.3h0M930.4 594.8h0M910.0 697.6h0M910.4 696.7h0M911.5 697.0h0M908.4 697.1h0M909.2 694.8h0M923.1 670.7h0M921.8 670.7h0M922.8 670.8h0M919.1 669.8h0M1049.4 714.9h0M910.3 668.0h0M908.6 668.4h0M932.4 694.8h0M932.3 692.7h0M932.9 693.8h0M1084.9 689.9h0M1085.1 689.8h0M1085.8 689.9h0M1085.6 689.9h0M982.9 743.0h0M979.3 744.3h0M982.6 743.1h0M980.4 742.7h0M982.5 742.5h0M1101.7 706.8h0M1033.8 682.5h0M1062.1 753.4h0M1060.3 754.0h0M1060.7 753.5h0M1060.4 752.8h0M1057.7 752.4h0M1000.3 591.2h0M1000.6 588.1h0M1002.1 588.5h0M1024.1 688.0h0M981.9 784.3h0M951.7 598.5h0M954.3 598.7h0M1077.8 710.8h0M1092.0 710.4h0M1093.6 710.7h0M1020.5 664.5h0M1019.3 667.7h0M1019.8 668.8h0M1019.7 668.1h0M1019.7 667.2h0M1091.9 742.1h0M1104.0 647.7h0M1065.9 721.2h0M883.9 647.8h0M884.8 649.1h0M882.5 647.2h0M994.3 694.6h0M993.0 693.2h0M995.1 694.4h0M993.3 693.8h0M993.6 693.8h0M987.6 601.1h0M986.5 601.6h0M986.5 602.9h0M984.9 603.4h0M988.6 600.2h0M927.9 698.4h0M927.4 695.9h0M926.4 695.8h0M926.5 695.6h0M925.0 696.6h0M947.0 693.2h0M951.9 767.1h0M1051.0 700.8h0M1052.1 701.5h0M1050.4 700.3h0M1051.6 701.4h0M1051.4 701.7h0M1052.7 702.4h0M1050.5 700.8h0M902.3 654.4h0M903.8 652.4h0M901.5 653.5h0M969.7 635.4h0M898.1 641.2h0M897.7 639.3h0M898.5 639.3h0M890.8 667.8h0M875.5 657.6h0M893.4 670.8h0M894.6 672.7h0M1069.7 686.3h0M1071.0 685.3h0M898.1 610.2h0M897.8 613.0h0M897.9 613.7h0M1002.1 742.7h0M1003.4 743.5h0M1005.4 744.9h0M1004.9 742.4h0M1000.1 742.8h0M1005.2 743.3h0M1002.5 741.7h0M974.9 578.6h0M947.1 645.3h0M919.3 607.6h0M935.1 620.4h0M1053.1 727.5h0M1053.7 726.4h0M1013.1 600.2h0M1010.7 598.4h0M1012.0 599.4h0M949.9 634.9h0M946.0 634.1h0M947.0 634.1h0M949.4 635.8h0M947.8 633.8h0M981.9 635.9h0M1040.4 735.8h0M1040.6 736.0h0M981.3 607.8h0M982.1 607.0h0M981.6 609.3h0M981.3 610.6h0M1027.3 737.1h0M1027.0 737.7h0M1027.2 738.6h0M1027.7 739.2h0M1028.8 738.2h0M991.6 712.0h0M1089.8 696.0h0M1092.2 697.4h0M992.0 744.9h0M991.7 747.4h0M991.5 747.0h0M1094.4 703.4h0M1096.7 701.9h0M930.4 715.8h0M930.7 715.1h0M960.0 635.5h0M958.2 636.2h0M959.4 637.1h0M957.7 636.2h0M959.9 635.0h0M887.8 667.1h0M889.1 666.2h0M889.6 668.3h0M1052.4 669.2h0M1142.4 691.8h0M1060.9 625.5h0M1061.8 627.8h0M1061.4 627.2h0M1010.3 730.2h0M1010.6 730.1h0M1011.1 732.6h0M980.0 702.1h0M981.2 702.0h0M1076.0 753.2h0M1087.1 694.9h0M941.7 692.8h0M942.1 695.8h0M951.1 701.6h0M951.8 701.4h0M951.9 699.7h0M1084.7 654.9h0M929.7 598.4h0M1034.9 744.8h0M1029.7 745.7h0M891.5 662.3h0M965.1 709.2h0M966.0 712.3h0M1058.3 655.9h0M1060.8 711.8h0M1062.9 710.1h0M1063.4 709.0h0M896.3 668.1h0M896.5 671.4h0M894.5 666.3h0M896.4 666.6h0M896.2 668.9h0M896.0 667.2h0M1092.6 679.2h0M882.7 643.4h0M880.1 648.3h0M967.5 663.5h0M967.5 663.7h0M969.1 664.1h0M902.2 660.0h0M1066.3 740.2h0M1064.1 744.1h0M877.9 632.3h0M917.5 719.4h0M893.6 631.7h0M895.2 631.1h0M895.3 632.0h0M896.0 633.4h0M899.6 631.4h0M1035.3 751.1h0M1036.1 751.4h0M914.1 683.2h0M917.4 680.7h0M926.0 594.9h0M963.9 631.2h0M960.6 629.1h0M962.2 628.7h0M877.6 692.0h0M877.4 694.3h0M940.6 702.0h0M943.4 702.9h0M942.3 700.7h0M943.7 701.8h0M945.2 701.4h0M874.0 627.9h0M1004.7 694.9h0M1057.1 660.5h0M1055.6 661.8h0M1080.6 711.1h0M1078.1 710.0h0M1079.9 710.8h0M1078.7 709.9h0M939.8 712.5h0M938.6 711.5h0M1094.3 743.9h0M1094.5 743.9h0M1094.7 744.2h0M1094.1 741.7h0M1095.6 744.2h0M970.4 632.0h0M969.8 635.1h0M912.6 709.5h0M950.9 766.2h0M951.7 767.4h0M939.5 587.4h0M970.6 578.1h0M904.7 692.4h0M908.4 694.0h0M905.7 691.0h0M904.9 691.8h0M993.2 790.9h0M994.0 790.6h0M992.1 792.7h0M958.4 654.8h0M960.5 651.5h0M959.4 650.7h0M959.2 652.9h0M1068.1 656.4h0M1070.4 656.9h0M1071.4 656.5h0M1069.6 657.0h0M1068.3 657.6h0M1070.0 657.2h0M1071.0 658.0h0M950.2 616.9h0M950.1 618.2h0M947.8 617.8h0M1053.3 732.3h0M950.5 592.7h0M949.3 592.6h0M993.6 791.0h0M900.0 664.4h0M1054.7 698.8h0M855.5 655.7h0M1010.2 648.7h0M966.4 695.9h0M965.4 695.5h0M967.2 697.7h0M965.9 696.4h0M967.7 696.9h0M966.8 697.0h0M1037.0 750.6h0M1038.7 752.6h0M1095.8 720.3h0M919.8 651.5h0M922.3 654.5h0M925.4 656.0h0M1097.7 690.5h0M905.3 672.2h0M904.6 671.5h0M902.0 673.3h0M903.3 703.8h0M905.4 702.1h0M905.7 701.6h0M896.6 640.8h0M894.5 641.5h0M897.4 641.0h0M895.3 641.1h0M897.6 641.7h0M896.1 641.1h0M896.4 641.5h0M1084.7 661.2h0M1083.0 660.3h0M917.7 687.0h0M918.6 686.8h0M918.4 687.9h0M919.2 688.3h0M916.8 685.3h0M918.5 688.7h0M918.7 688.1h0M950.7 774.2h0M949.9 772.9h0M950.6 772.4h0M867.9 694.7h0M872.8 696.3h0M908.7 633.0h0M907.7 633.0h0M910.5 635.7h0M906.0 633.4h0M907.8 633.9h0M951.9 764.9h0M966.7 589.3h0M989.4 802.0h0M990.5 797.7h0M998.8 715.3h0M895.8 683.8h0M966.0 653.9h0M965.1 653.3h0M966.2 653.2h0M966.5 654.5h0M965.8 652.5h0M1083.5 660.2h0M1081.6 658.3h0M1083.4 658.5h0M1083.6 659.7h0M1082.5 658.9h0M997.3 786.8h0M1001.3 788.7h0M998.9 787.7h0M969.5 735.7h0M970.7 735.7h0M970.4 736.4h0M973.5 736.2h0M968.2 735.4h0M968.7 735.8h0M1108.9 708.3h0M1031.3 696.3h0M921.6 659.9h0M921.5 658.3h0M918.3 658.2h0M921.7 659.0h0M922.5 658.4h0M921.5 658.7h0M918.8 657.7h0M923.6 659.5h0M1091.4 676.3h0M1091.6 679.0h0M1092.2 675.1h0M1092.5 677.5h0M1091.1 677.6h0M1093.3 678.0h0M896.7 688.4h0M897.6 686.1h0M896.6 685.5h0M897.4 685.4h0M897.4 686.2h0M896.8 685.6h0M952.7 770.1h0M951.0 768.7h0M1055.1 665.0h0M1056.3 667.9h0M1101.8 723.8h0M1101.3 723.5h0M1101.6 724.1h0M1084.1 685.3h0M941.2 671.8h0M939.6 672.2h0M939.9 672.3h0M950.5 678.4h0M950.4 678.8h0M951.5 676.1h0M950.8 676.5h0M950.3 680.5h0M1047.2 729.4h0M1045.4 730.4h0M1046.5 730.3h0M1047.2 730.2h0M950.6 665.4h0M1004.1 659.4h0M1003.7 658.6h0M912.6 676.0h0M929.7 712.0h0M929.2 712.8h0M897.2 657.6h0M1071.9 647.9h0M1073.7 647.8h0M1073.7 648.0h0M1060.8 726.5h0M1060.8 727.2h0M1062.4 725.7h0M942.7 780.5h0M901.3 682.1h0M902.0 683.3h0M901.0 684.3h0M901.0 684.1h0M900.7 684.9h0M901.2 682.6h0M899.6 686.3h0M1002.4 583.3h0M1002.4 583.6h0M1002.7 583.5h0M997.3 603.5h0M998.8 604.4h0M998.6 603.9h0M997.3 604.0h0M902.4 619.0h0M899.8 620.3h0M900.9 619.6h0M898.9 623.1h0M899.9 621.8h0M898.0 621.4h0M900.6 620.7h0M1097.0 738.7h0M1096.5 737.5h0M1097.3 739.3h0M1074.5 745.4h0M1043.3 647.5h0M1011.2 670.7h0M1095.5 642.7h0M1094.0 643.2h0M1097.5 640.9h0M1096.2 641.3h0M1099.3 639.5h0M1095.9 641.3h0M1095.5 642.2h0M1095.0 642.4h0M944.3 603.3h0M947.6 601.3h0M948.4 602.7h0M946.2 603.2h0M946.8 603.3h0M1031.1 669.3h0M1032.6 672.8h0M1030.3 670.9h0M1081.9 643.2h0M1079.1 694.8h0M1084.3 710.5h0M953.5 711.4h0M948.8 637.6h0M948.7 636.9h0M947.9 640.9h0M949.0 638.9h0M948.5 638.5h0M906.8 714.0h0M909.2 669.4h0M907.1 666.4h0M1000.3 586.4h0M908.3 658.5h0M908.3 657.5h0M908.2 654.6h0M907.4 653.9h0M908.7 657.2h0M1072.4 728.7h0M1071.9 727.4h0M1071.0 728.1h0M1000.1 573.2h0M994.1 627.8h0M989.9 628.6h0M894.0 694.3h0M1065.3 688.4h0M917.2 656.0h0M984.3 726.6h0M984.5 729.4h0M983.9 730.7h0M984.1 722.6h0M1094.3 682.8h0M1095.3 684.3h0M1093.6 681.9h0M1092.4 682.8h0M918.9 665.8h0M917.2 664.5h0M918.6 665.5h0M916.1 664.1h0M1021.0 744.0h0M1022.5 743.8h0M1015.0 743.2h0M982.4 612.2h0M889.6 667.7h0M895.9 668.7h0M891.0 669.1h0M889.0 668.4h0M889.1 667.9h0M890.7 667.8h0M1086.4 631.6h0M1044.0 720.5h0M1043.4 719.3h0M1044.0 721.1h0M877.1 679.6h0M1074.0 658.4h0M1073.3 657.3h0M1073.4 659.9h0M1014.8 628.4h0M918.8 705.4h0M920.9 703.5h0M1055.5 657.4h0M1052.7 657.5h0M1054.8 681.3h0M1077.0 620.7h0M1080.8 707.9h0M1083.7 707.8h0M1083.3 708.0h0M1081.9 705.3h0M1082.0 706.3h0M1082.3 707.5h0M1029.1 667.6h0M1030.3 670.6h0M949.6 709.2h0M951.3 709.3h0M945.7 711.7h0M950.3 709.6h0M946.0 713.1h0M946.3 710.2h0M1077.3 688.4h0M1078.3 686.2h0M1077.3 689.7h0M931.3 624.8h0M954.5 611.1h0M954.6 611.0h0M936.1 702.7h0M936.4 702.5h0M1043.9 711.7h0M1089.9 707.9h0M1091.7 707.9h0M956.5 660.3h0M951.7 656.7h0M948.7 657.4h0M950.4 654.2h0M950.8 657.8h0M952.1 659.2h0M902.4 670.5h0M1104.1 711.6h0M1103.8 710.4h0M921.0 720.8h0M920.8 721.2h0M922.1 719.8h0M1112.9 687.4h0M1110.8 685.2h0M1034.2 758.1h0M1036.5 760.6h0M1034.9 749.9h0M928.3 681.4h0M928.5 650.1h0M930.9 652.3h0M911.9 659.3h0M911.6 658.4h0M912.2 662.0h0M913.3 660.5h0M911.5 657.4h0M912.7 660.9h0M1077.0 709.6h0M1076.6 709.4h0M964.7 759.7h0M962.4 758.3h0M962.9 758.8h0M960.9 758.9h0M960.4 757.3h0M884.8 682.8h0M884.7 685.4h0M884.2 684.4h0M883.9 683.7h0M885.2 684.3h0M986.9 705.5h0M1087.0 700.6h0M1008.8 625.2h0M956.7 606.6h0M1035.2 621.7h0M956.9 651.3h0M956.0 649.6h0M954.3 649.1h0M961.8 641.4h0M964.3 642.4h0M964.8 646.2h0M964.1 643.5h0M916.8 642.6h0M917.1 642.3h0M911.5 642.5h0M917.1 641.1h0M911.9 642.0h0M944.1 705.5h0M1063.5 693.5h0M1036.6 666.5h0M1037.9 665.5h0M1037.2 663.8h0M908.3 653.0h0M1087.3 712.3h0M942.9 695.5h0M945.1 699.2h0M944.3 698.1h0M945.4 698.7h0M945.6 698.0h0M944.6 696.3h0M946.3 589.4h0M946.9 588.8h0M946.1 588.4h0M969.5 783.3h0M972.6 783.5h0M1120.4 644.5h0M1119.6 643.0h0M1120.1 644.0h0M1120.4 644.2h0M1121.4 642.8h0M946.2 599.6h0M947.4 600.6h0M1012.6 710.0h0M1013.7 711.2h0M1012.7 710.0h0M1013.2 710.5h0M1011.2 709.6h0M951.4 688.5h0M932.4 676.1h0M930.8 676.1h0M1070.6 681.2h0M1071.4 680.7h0M976.4 769.3h0M911.4 634.1h0M926.7 701.5h0M959.8 708.0h0" stroke="rgb(61,76,137)" stroke-width="1.5" stroke-linecap="round" fill="none" stroke-opacity="0.82"/><path d="M915.7 703.7h0M914.5 703.6h0M915.3 703.7h0M913.8 704.4h0M914.5 703.6h0M910.7 660.6h0M911.3 658.5h0M944.9 701.7h0M973.8 657.3h0M976.0 653.5h0M975.5 656.6h0M976.7 655.7h0M1139.2 700.9h0M1138.9 701.3h0M1138.9 700.7h0M921.4 633.4h0M1068.9 630.6h0M1072.3 632.5h0M1072.8 633.8h0M1070.6 632.9h0M1043.3 668.2h0M913.1 635.3h0M912.1 635.2h0M1035.3 697.8h0M1035.8 697.4h0M915.3 669.6h0M913.4 635.1h0M911.7 633.1h0M1080.0 653.5h0M1078.5 653.5h0M1037.7 720.1h0M996.6 694.2h0M997.4 694.7h0M997.3 695.7h0M997.9 694.1h0M941.9 622.5h0M943.4 625.5h0M943.3 624.7h0M1138.7 673.6h0M1141.3 672.8h0M947.8 773.0h0M948.9 614.8h0M946.6 615.1h0M944.8 614.8h0M949.5 615.6h0M1007.7 589.1h0M1113.9 668.0h0M1103.2 718.0h0M1105.1 714.5h0M1104.7 715.7h0M1006.5 628.9h0M1007.8 630.2h0M1006.3 629.9h0M1008.2 625.2h0M1007.7 629.5h0M1067.6 649.7h0M1065.4 651.5h0M1066.1 650.0h0M928.0 725.3h0M929.4 723.9h0M929.0 724.8h0M1043.2 703.1h0M1043.6 702.4h0M1041.4 699.6h0M1047.1 706.2h0M1044.0 704.0h0M1042.3 702.1h0M1055.4 648.9h0M1056.3 645.7h0M1104.1 703.6h0M1105.0 704.1h0M980.2 617.4h0M979.0 615.7h0M907.3 623.7h0M968.7 689.2h0M967.3 621.1h0M986.4 606.0h0M986.3 607.6h0M943.0 691.6h0M927.1 658.2h0M1046.4 692.5h0M927.1 644.8h0M925.9 647.2h0M925.6 647.5h0M927.7 645.0h0M925.0 646.9h0M924.4 646.7h0M912.5 710.9h0M910.1 708.0h0M863.9 664.6h0M1040.5 737.8h0M1041.0 737.1h0M1040.3 736.6h0M1054.3 697.2h0M980.0 753.8h0M979.6 751.7h0M1105.4 732.4h0M1106.3 732.7h0M943.8 773.6h0M946.3 773.2h0M948.8 776.4h0M1123.8 673.8h0M1120.6 675.0h0M1091.6 696.1h0M994.2 798.3h0M996.9 799.1h0M1115.0 679.1h0M1113.4 677.1h0M1114.7 678.8h0M1113.9 677.7h0M1114.3 676.8h0M1113.5 678.2h0M877.3 648.8h0M878.3 648.4h0M876.9 648.9h0M878.6 649.3h0M1015.1 752.8h0M1013.5 754.6h0M1013.8 755.3h0M869.9 685.2h0M870.9 683.4h0M868.3 686.2h0M934.6 674.2h0M997.7 585.0h0M995.6 584.4h0M894.0 677.2h0M1069.7 763.0h0M1013.9 597.1h0M1013.8 596.6h0M1014.2 596.7h0M1013.6 597.6h0M951.7 704.1h0M952.1 616.8h0M952.0 614.7h0M950.8 613.1h0M924.1 687.2h0M974.3 623.2h0M974.2 622.0h0M984.3 695.1h0M956.2 710.1h0M954.1 712.3h0M956.1 711.1h0M955.5 710.7h0M974.0 610.8h0M1059.9 704.7h0M1060.8 701.9h0M1060.1 702.2h0M1060.5 703.3h0M1059.9 703.3h0M1002.5 752.2h0M1003.9 749.5h0M926.5 706.4h0M927.8 702.7h0M926.8 698.9h0M927.8 706.1h0M925.7 704.7h0M973.7 634.9h0M973.5 635.6h0M974.0 636.3h0M976.6 609.7h0M1010.8 589.1h0M1010.1 589.8h0M999.9 673.8h0M999.7 673.2h0M998.4 673.4h0M995.0 576.4h0M944.4 584.0h0M944.7 585.7h0M1126.3 656.1h0M1123.8 657.3h0M914.3 708.4h0M917.7 706.5h0M909.6 596.7h0M909.9 596.3h0M1047.1 657.5h0M1048.0 656.9h0M893.8 695.9h0M915.9 683.6h0M934.0 665.6h0M902.5 632.8h0M904.5 631.0h0M902.0 631.4h0M901.8 631.5h0M926.0 695.8h0M925.4 697.4h0M925.8 697.3h0M925.6 699.6h0M925.6 697.4h0M926.5 697.0h0M926.6 695.8h0M925.5 699.0h0M913.5 644.9h0M917.0 646.6h0M927.4 705.0h0M924.2 706.8h0M927.0 705.3h0M954.8 768.9h0M951.7 770.6h0M955.0 768.0h0M914.2 638.5h0M910.6 637.8h0M912.3 638.5h0M912.0 639.0h0M913.3 637.9h0M912.5 638.4h0M984.5 673.0h0M986.4 672.9h0M983.8 673.1h0M987.7 673.1h0M984.1 788.6h0M984.8 793.9h0M984.5 792.5h0M985.1 791.7h0M1098.5 726.7h0M1070.0 720.6h0M1065.9 712.1h0M1097.0 680.0h0M1096.9 679.2h0M1096.5 678.9h0M1003.3 781.5h0M994.9 798.8h0M995.6 799.5h0M996.2 799.9h0M854.2 672.3h0M1111.4 700.3h0M1110.0 701.6h0M1110.9 699.7h0M1108.9 698.1h0M1109.7 699.8h0M948.2 640.4h0M931.9 595.7h0M930.8 595.4h0M933.6 591.8h0M930.1 596.2h0M937.1 588.9h0M1001.5 700.4h0M1002.0 698.5h0M908.9 696.1h0M909.9 696.7h0M941.0 611.8h0M917.7 719.7h0M918.8 718.6h0M993.1 616.6h0M998.9 613.7h0M997.5 613.4h0M1013.5 723.6h0M1013.3 724.6h0M1013.0 724.7h0M1013.1 723.1h0M1013.9 722.5h0M1013.3 723.9h0M1049.5 713.6h0M1050.6 715.2h0M907.9 665.7h0M908.4 668.0h0M910.6 667.1h0M910.4 667.3h0M909.8 670.1h0M928.1 689.6h0M933.9 695.4h0M935.0 696.2h0M932.6 693.2h0M899.2 693.0h0M898.1 691.6h0M1097.3 707.5h0M1093.8 710.1h0M1097.4 708.5h0M1097.8 707.1h0M960.9 696.0h0M964.3 693.8h0M964.2 694.7h0M1081.6 743.1h0M1080.2 664.5h0M1085.6 689.7h0M946.6 665.8h0M946.7 666.4h0M1055.4 685.8h0M1058.6 686.4h0M1034.2 686.9h0M1033.3 686.7h0M1032.3 685.8h0M1034.0 685.1h0M1034.0 683.8h0M939.7 607.0h0M940.0 609.7h0M942.2 605.2h0M939.3 608.7h0M1060.0 754.1h0M1000.6 591.8h0M1076.5 630.3h0M1076.3 627.1h0M1036.9 707.3h0M1036.4 709.2h0M1000.8 752.5h0M1001.4 752.7h0M1024.6 689.6h0M1022.4 690.5h0M1023.5 687.4h0M1022.0 691.6h0M1025.1 687.9h0M981.5 786.1h0M981.3 784.2h0M953.8 597.6h0M1094.0 710.6h0M1093.8 710.5h0M1094.1 710.7h0M1019.6 669.2h0M1046.4 742.0h0M1043.7 744.6h0M1043.4 744.6h0M980.5 712.3h0M1127.5 651.7h0M891.1 630.8h0M922.2 706.9h0M893.6 710.7h0M946.4 672.7h0M1062.0 718.9h0M1063.1 721.3h0M993.3 694.0h0M992.9 693.9h0M916.9 712.7h0M1062.2 681.2h0M925.8 600.0h0M928.6 598.9h0M928.4 598.8h0M929.0 598.4h0M991.0 598.6h0M989.7 601.8h0M986.0 603.9h0M1085.3 631.5h0M1083.8 631.9h0M1091.1 712.6h0M1091.8 713.2h0M1093.6 711.1h0M1094.6 711.5h0M897.5 641.2h0M899.6 639.5h0M896.1 638.6h0M899.2 640.1h0M1044.8 722.4h0M1046.1 721.4h0M973.4 609.7h0M971.0 609.7h0M891.8 667.8h0M890.8 666.5h0M890.1 667.6h0M894.7 673.4h0M1071.3 685.9h0M899.2 610.9h0M897.6 612.9h0M897.3 613.1h0M926.0 724.6h0M1056.8 727.2h0M1057.1 728.0h0M952.7 700.0h0M945.1 697.4h0M980.1 635.1h0M981.2 632.9h0M982.5 633.8h0M889.1 642.4h0M1067.7 680.0h0M1039.7 738.5h0M956.8 642.7h0M958.2 642.1h0M958.0 642.6h0M957.5 642.4h0M959.4 640.6h0M958.2 641.7h0M990.6 747.1h0M992.0 744.5h0M991.1 746.0h0M991.8 744.5h0M930.3 714.8h0M989.3 716.6h0M990.4 717.6h0M959.4 636.9h0M960.0 636.0h0M959.1 636.2h0M891.7 672.9h0M887.7 668.2h0M890.3 669.7h0M890.0 667.3h0M887.5 665.8h0M890.2 669.8h0M1114.1 693.0h0M1114.8 693.2h0M1053.1 669.2h0M1052.1 666.7h0M1052.4 669.5h0M994.8 575.6h0M994.8 575.3h0M994.0 572.0h0M896.1 648.7h0M1011.3 729.1h0M1010.1 732.5h0M1011.3 728.6h0M1010.3 731.8h0M1090.8 648.3h0M1075.9 753.6h0M1072.6 753.7h0M895.0 619.2h0M896.6 621.1h0M894.9 618.9h0M950.3 703.5h0M1084.6 658.1h0M1083.9 657.3h0M1085.7 658.6h0M1085.0 658.6h0M1058.2 688.1h0M928.2 605.7h0M928.0 605.9h0M928.5 604.4h0M929.2 604.6h0M929.3 601.5h0M928.6 606.1h0M965.5 711.4h0M964.0 711.2h0M965.5 711.1h0M964.8 712.3h0M1058.2 653.2h0M1058.2 654.4h0M1058.9 652.8h0M1058.3 656.8h0M1058.0 655.4h0M1031.1 737.4h0M1031.2 739.5h0M1032.0 739.3h0M1031.9 740.0h0M1032.8 737.6h0M1032.1 738.3h0M896.0 665.8h0M1033.8 730.3h0M1033.3 729.1h0M1033.0 731.6h0M972.2 608.8h0M971.5 604.8h0M973.7 609.1h0M1089.6 676.5h0M1091.6 679.1h0M1090.4 679.0h0M1090.1 676.6h0M1090.3 678.0h0M1071.6 627.0h0M1087.0 636.9h0M1065.1 741.2h0M897.3 631.7h0M894.0 631.0h0M988.9 655.7h0M1035.9 751.1h0M1036.3 751.8h0M936.1 724.8h0M934.7 725.8h0M966.0 633.2h0M966.3 633.0h0M965.9 634.1h0M964.6 633.6h0M964.0 631.5h0M962.6 630.3h0M950.5 783.7h0M951.9 784.2h0M942.7 704.4h0M946.5 699.8h0M933.0 688.9h0M934.3 689.9h0M933.2 689.8h0M1078.6 710.1h0M1078.9 711.8h0M1079.8 709.9h0M1032.7 711.8h0M1033.4 711.3h0M1032.7 714.1h0M1032.9 710.7h0M928.7 675.8h0M929.2 673.3h0M929.4 673.2h0M928.3 676.0h0M969.6 633.3h0M969.9 634.5h0M1060.5 683.9h0M1060.4 685.4h0M987.6 629.3h0M987.4 628.6h0M988.4 629.6h0M988.4 628.1h0M987.8 627.8h0M988.5 629.7h0M968.2 577.7h0M1070.6 657.6h0M975.1 627.4h0M973.5 624.3h0M972.4 599.0h0M972.2 598.7h0M951.0 593.0h0M993.7 790.6h0M1056.0 696.9h0M1054.2 700.7h0M1055.2 697.8h0M1056.3 696.7h0M1055.2 697.7h0M1056.3 698.3h0M1054.9 698.7h0M856.6 655.2h0M1123.9 660.4h0M905.1 651.6h0M965.8 696.4h0M966.1 695.9h0M901.5 673.0h0M939.4 719.4h0M938.6 719.8h0M905.3 702.0h0M905.8 703.0h0M904.3 702.0h0M949.6 683.1h0M951.9 683.1h0M1083.7 660.3h0M1083.9 659.7h0M1054.6 699.0h0M1058.1 697.2h0M1053.2 699.7h0M1055.9 698.0h0M1052.7 699.4h0M944.2 672.6h0M965.1 652.8h0M1082.6 657.4h0M1098.4 653.3h0M980.7 616.1h0M996.3 700.4h0M998.2 698.7h0M1062.3 708.4h0M969.4 736.3h0M1032.0 694.8h0M922.7 658.9h0M1093.3 674.9h0M1091.5 676.9h0M895.1 686.5h0M860.2 683.6h0M857.6 683.5h0M999.6 649.1h0M998.4 649.4h0M998.3 647.9h0M1002.3 650.9h0M1086.8 748.6h0M1086.7 750.2h0M1075.4 719.5h0M1072.4 720.6h0M995.4 716.7h0M993.4 715.3h0M994.2 715.7h0M994.2 716.0h0M993.6 714.9h0M908.2 632.1h0M905.0 629.6h0M905.4 629.5h0M907.3 633.1h0M1072.9 642.0h0M1074.3 645.1h0M1078.8 646.5h0M1100.8 723.7h0M1080.3 637.4h0M1083.4 640.4h0M939.7 691.6h0M939.5 692.8h0M937.7 689.9h0M939.3 688.4h0M939.3 691.9h0M939.7 688.4h0M1013.1 655.4h0M1014.7 659.7h0M939.2 672.6h0M939.3 672.4h0M939.3 672.6h0M940.6 671.1h0M942.2 671.6h0M947.6 676.3h0M947.4 676.7h0M949.5 674.7h0M950.4 674.1h0M935.1 623.6h0M1048.1 731.4h0M950.4 666.9h0M951.9 667.1h0M951.2 667.2h0M950.4 667.5h0M922.7 611.7h0M920.7 610.6h0M924.6 612.1h0M925.7 613.2h0M925.3 612.2h0M923.4 611.8h0M1107.9 700.5h0M1108.6 698.1h0M1108.4 700.0h0M911.5 676.1h0M914.5 677.7h0M911.5 674.4h0M911.6 675.5h0M912.5 677.7h0M910.3 601.9h0M1099.7 647.5h0M1103.1 651.5h0M898.4 633.1h0M897.3 633.8h0M895.7 634.6h0M898.5 629.5h0M898.8 633.4h0M960.8 622.4h0M963.1 623.3h0M962.0 625.4h0M945.9 646.1h0M1059.7 728.0h0M1018.9 738.8h0M1017.7 739.2h0M1018.0 737.7h0M1043.5 670.1h0M1003.0 583.8h0M1002.2 583.0h0M1003.1 583.8h0M999.5 585.3h0M997.1 603.9h0M1086.2 670.4h0M1084.9 670.8h0M1086.5 669.7h0M1087.7 669.9h0M1096.3 738.0h0M1096.4 737.8h0M1097.0 738.4h0M1097.3 738.8h0M1067.6 756.6h0M956.0 690.2h0M956.2 689.3h0M955.9 690.3h0M956.7 688.8h0M955.0 689.5h0M955.4 690.6h0M955.5 691.1h0M987.7 582.8h0M1096.9 639.9h0M946.8 601.9h0M947.6 601.9h0M1081.1 641.9h0M1081.0 642.2h0M1079.3 642.4h0M1067.9 698.4h0M1067.9 697.3h0M1089.7 638.8h0M950.2 710.3h0M950.4 709.9h0M951.8 711.3h0M953.0 712.2h0M954.0 711.7h0M905.7 713.1h0M906.1 664.2h0M906.8 665.5h0M1028.0 748.7h0M999.4 585.5h0M999.2 586.4h0M1000.0 587.5h0M907.3 654.4h0M908.9 656.9h0M908.4 656.2h0M907.3 655.3h0M1070.7 727.2h0M1070.5 727.4h0M1104.9 662.3h0M999.2 574.3h0M1072.1 650.9h0M1072.5 649.4h0M1065.8 674.3h0M967.5 579.1h0M967.2 579.3h0M968.5 577.9h0M967.1 579.3h0M968.4 579.6h0M968.4 577.9h0M1127.1 634.9h0M1126.5 630.6h0M1129.9 638.0h0M1126.8 631.8h0M917.9 657.8h0M868.6 652.8h0M1017.9 744.1h0M1018.8 744.3h0M1018.9 744.9h0M1020.2 743.1h0M1017.1 710.1h0M1017.1 710.8h0M897.2 668.6h0M1055.8 711.8h0M1052.1 708.0h0M1085.8 631.2h0M874.5 678.4h0M992.8 590.5h0M992.9 592.6h0M989.6 589.9h0M993.8 595.4h0M994.1 593.9h0M993.6 593.0h0M1071.8 659.0h0M1072.0 656.4h0M978.2 677.0h0M1122.8 673.8h0M1123.3 671.3h0M1126.6 674.4h0M1123.7 673.2h0M1064.6 671.2h0M1060.5 669.0h0M1051.2 657.3h0M1052.2 657.6h0M1054.2 683.2h0M1002.9 586.1h0M999.6 582.6h0M1006.9 583.9h0M999.6 586.7h0M1080.5 707.2h0M1081.9 706.0h0M1067.6 634.0h0M1068.8 635.2h0M1069.7 639.0h0M1067.6 636.2h0M1027.1 667.5h0M1030.8 669.6h0M947.6 710.5h0M948.7 710.6h0M1076.3 691.1h0M904.4 686.4h0M904.4 683.2h0M901.7 689.3h0M906.7 681.7h0M904.6 686.6h0M951.8 687.5h0M949.7 688.3h0M953.4 685.9h0M934.8 703.9h0M933.3 703.8h0M937.1 702.6h0M935.3 703.0h0M936.2 703.2h0M935.6 702.9h0M1043.7 711.1h0M1089.1 707.8h0M948.1 723.6h0M945.5 725.8h0M953.4 658.2h0M953.4 658.6h0M966.4 708.3h0M1135.8 682.7h0M1103.4 710.5h0M1104.1 711.5h0M1104.1 709.8h0M1103.7 711.4h0M1104.3 711.1h0M1104.2 710.6h0M1101.8 709.2h0M920.1 720.9h0M958.1 611.9h0M1111.9 690.3h0M1112.9 688.2h0M1110.6 689.5h0M1111.9 690.6h0M1111.9 692.3h0M1112.5 684.5h0M1110.8 689.1h0M1038.3 750.3h0M930.3 680.8h0M931.2 680.9h0M930.3 681.3h0M926.7 681.7h0M959.1 629.0h0M957.1 628.7h0M991.1 574.9h0M990.0 574.1h0M1054.1 642.3h0M1093.6 640.5h0M913.0 659.7h0M911.0 659.1h0M914.2 660.0h0M961.1 757.4h0M963.4 759.6h0M958.1 757.5h0M883.9 684.5h0M883.9 684.1h0M987.0 705.5h0M987.3 708.0h0M987.4 705.8h0M986.3 707.5h0M987.5 706.0h0M943.4 714.0h0M945.6 714.4h0M942.7 713.7h0M967.1 726.2h0M1013.7 651.5h0M1011.6 647.2h0M1011.6 648.3h0M1011.6 649.2h0M1014.2 646.9h0M1010.9 646.8h0M1009.9 622.4h0M1010.0 623.1h0M1010.1 622.2h0M1009.1 622.2h0M1013.5 714.5h0M1014.2 711.1h0M958.1 738.4h0M957.0 739.8h0M1101.1 703.4h0M954.4 605.4h0M955.3 604.1h0M957.0 606.5h0M955.8 610.0h0M954.6 648.9h0M955.2 649.3h0M955.4 649.4h0M955.8 649.7h0M965.2 643.1h0M911.4 641.3h0M943.6 700.9h0M1063.5 694.0h0M1037.9 664.5h0M1087.9 713.0h0M1039.5 737.0h0M1038.9 741.1h0M1041.1 743.2h0M1047.3 738.6h0M946.5 588.6h0M947.5 588.8h0M971.5 623.1h0M971.5 620.5h0M969.1 621.4h0M997.3 592.8h0M997.1 595.2h0M1013.0 678.5h0M1013.8 677.5h0M1014.0 678.8h0M1011.7 677.8h0M1013.5 677.1h0M1013.2 676.5h0M1119.1 642.7h0M1119.5 642.8h0M1121.0 644.2h0M881.2 660.7h0M877.7 661.4h0M946.5 601.4h0M951.0 682.5h0M950.3 689.5h0M950.4 688.3h0M951.1 688.9h0M952.3 683.8h0M975.7 768.8h0M956.0 710.3h0M910.8 635.2h0M910.8 636.1h0M912.4 633.8h0M910.8 636.8h0M910.8 635.5h0M911.3 634.7h0M989.7 773.9h0M990.9 771.2h0M928.3 701.2h0M927.0 695.4h0M929.2 703.1h0M960.8 712.3h0M960.2 708.9h0M960.1 713.2h0M960.4 711.1h0" stroke="rgb(52,97,141)" stroke-width="1.5" stroke-linecap="round" fill="none" stroke-opacity="0.82"/><path d="M910.6 661.3h0M910.3 659.8h0M912.6 659.7h0M911.4 659.3h0M956.7 626.9h0M952.5 623.5h0M954.7 620.4h0M1052.9 673.4h0M1140.3 688.3h0M1071.3 631.9h0M1072.5 630.9h0M1070.8 631.5h0M1073.1 632.9h0M1073.1 632.6h0M914.8 633.8h0M913.9 632.2h0M912.5 635.1h0M910.2 631.9h0M910.4 631.2h0M910.3 632.8h0M910.4 630.0h0M1058.0 679.0h0M1060.8 678.3h0M948.1 783.5h0M1080.8 650.6h0M1079.9 653.0h0M1079.5 654.8h0M1080.2 652.6h0M1080.9 654.5h0M1080.5 648.7h0M1079.9 652.7h0M1065.4 717.1h0M1067.5 718.3h0M1067.9 718.7h0M1066.6 719.1h0M934.2 715.4h0M934.3 715.3h0M938.5 717.3h0M935.3 715.2h0M992.6 752.3h0M992.6 753.0h0M993.5 753.4h0M997.6 694.4h0M995.0 698.5h0M955.5 614.6h0M1093.4 693.9h0M1093.5 693.2h0M1096.1 695.1h0M1093.6 695.1h0M1005.0 592.0h0M1007.4 592.6h0M1005.5 593.7h0M1005.4 592.3h0M1006.1 591.4h0M1115.6 668.7h0M1071.2 648.0h0M1007.7 631.4h0M1006.7 630.9h0M1066.4 648.8h0M1065.5 650.0h0M1065.6 647.6h0M927.7 724.9h0M928.9 725.2h0M931.0 724.6h0M1041.9 698.6h0M1056.2 648.4h0M1056.8 644.6h0M1058.3 644.2h0M1056.8 644.1h0M1058.6 646.2h0M1056.9 644.0h0M979.4 616.8h0M981.6 618.7h0M979.5 618.1h0M979.0 619.0h0M980.1 615.9h0M979.9 617.8h0M910.5 621.8h0M966.2 689.6h0M967.2 689.6h0M995.2 737.6h0M993.9 739.7h0M1041.8 751.7h0M1040.2 750.0h0M1041.2 751.0h0M1038.8 749.5h0M984.6 709.1h0M902.9 600.9h0M989.4 677.6h0M986.9 607.3h0M943.1 690.3h0M943.0 691.9h0M943.8 690.2h0M942.8 691.4h0M944.7 691.9h0M944.4 690.0h0M940.1 692.5h0M1040.6 737.7h0M1042.6 737.3h0M1041.4 737.9h0M1038.6 736.4h0M1039.8 737.2h0M1052.1 696.0h0M1054.1 698.8h0M1073.1 648.4h0M1081.8 753.3h0M1080.6 754.8h0M1118.8 676.7h0M1050.7 738.0h0M1051.3 736.6h0M921.9 628.4h0M998.6 794.7h0M1065.8 746.6h0M1065.0 744.8h0M1059.1 746.1h0M981.2 743.8h0M979.2 746.8h0M874.6 647.6h0M883.3 650.7h0M1013.7 753.7h0M992.2 796.4h0M1032.3 718.6h0M1032.7 717.6h0M1032.9 718.2h0M937.6 674.9h0M936.5 673.8h0M935.2 672.4h0M988.0 669.0h0M997.0 585.3h0M994.7 583.6h0M997.9 584.4h0M998.5 585.6h0M1033.4 725.0h0M1033.6 724.8h0M1031.4 727.9h0M1029.4 729.1h0M1114.6 646.6h0M987.6 758.4h0M988.8 758.9h0M951.2 615.7h0M951.1 613.8h0M952.2 615.7h0M950.9 616.0h0M951.9 617.1h0M944.0 679.2h0M972.3 622.5h0M972.9 622.4h0M972.2 624.3h0M973.0 622.6h0M966.3 623.3h0M983.1 711.2h0M982.9 709.9h0M983.4 711.3h0M983.6 709.4h0M982.3 710.4h0M954.0 710.2h0M957.1 711.4h0M974.1 608.3h0M1027.8 646.5h0M1027.5 647.0h0M1026.7 646.5h0M993.7 704.2h0M1059.5 703.3h0M973.1 637.0h0M1013.1 587.7h0M1009.9 589.6h0M1013.2 588.2h0M1010.3 590.7h0M999.4 675.2h0M1002.4 766.8h0M1123.7 655.4h0M1123.5 659.5h0M1126.0 655.5h0M1124.5 655.4h0M916.6 705.9h0M1047.9 657.5h0M1049.7 656.5h0M904.1 655.8h0M877.3 673.9h0M876.3 670.6h0M878.2 673.3h0M876.3 672.2h0M916.3 680.8h0M916.6 679.2h0M972.1 693.8h0M973.7 693.8h0M973.6 693.2h0M1042.2 742.4h0M1043.8 740.2h0M1042.3 741.1h0M1042.3 741.5h0M1043.5 741.3h0M985.9 787.5h0M985.2 788.3h0M1088.0 645.6h0M1086.5 646.7h0M1087.1 646.9h0M1088.3 646.5h0M1089.9 645.5h0M975.5 722.4h0M932.6 663.5h0M930.7 663.5h0M928.2 663.2h0M930.1 663.5h0M929.3 662.4h0M1022.9 765.8h0M1022.8 765.6h0M954.1 768.6h0M994.9 735.1h0M909.5 638.8h0M912.7 638.4h0M1004.0 619.1h0M1002.3 618.1h0M1002.0 616.9h0M877.2 680.3h0M878.1 679.6h0M878.1 679.3h0M876.4 678.8h0M975.2 622.1h0M976.7 621.2h0M977.1 621.5h0M977.7 623.3h0M975.1 622.9h0M975.6 621.1h0M974.7 620.3h0M986.2 673.3h0M987.1 673.4h0M982.0 673.3h0M1068.6 712.7h0M1067.8 713.9h0M1093.4 678.5h0M1090.6 678.1h0M1094.4 679.3h0M1099.0 679.9h0M924.8 647.2h0M1050.5 678.5h0M1053.1 681.4h0M1052.7 681.6h0M942.7 615.5h0M995.2 800.0h0M994.1 799.3h0M971.2 777.9h0M970.5 777.4h0M969.6 776.0h0M1006.4 600.4h0M1110.1 699.4h0M1109.5 697.4h0M1025.8 679.6h0M963.4 779.5h0M940.2 616.3h0M940.3 614.3h0M916.5 719.7h0M916.7 717.6h0M917.4 718.4h0M917.9 718.0h0M916.4 719.2h0M917.0 717.1h0M1014.9 750.3h0M1001.3 612.4h0M999.6 613.1h0M998.9 614.4h0M1015.0 721.7h0M1012.8 726.2h0M1013.9 724.0h0M1049.2 714.1h0M1051.6 714.6h0M1049.9 713.5h0M1050.1 714.9h0M929.4 623.3h0M925.3 622.7h0M929.5 622.5h0M938.8 708.5h0M937.9 705.6h0M931.1 693.5h0M1097.9 707.4h0M1096.4 708.8h0M941.9 651.9h0M963.9 695.2h0M964.3 694.0h0M1074.9 655.9h0M1079.4 664.3h0M1034.4 687.8h0M1033.2 684.1h0M1034.2 686.0h0M941.0 609.0h0M942.9 607.6h0M939.8 608.6h0M940.3 608.0h0M899.4 653.8h0M903.7 651.7h0M902.8 652.8h0M902.5 652.2h0M902.7 651.7h0M1076.8 627.3h0M1076.9 629.7h0M1075.8 628.7h0M1035.6 708.7h0M1035.0 707.4h0M998.7 752.3h0M1001.6 751.6h0M1001.9 752.5h0M1002.0 752.0h0M1000.4 751.0h0M1025.2 688.6h0M951.6 594.9h0M953.4 595.7h0M954.5 597.1h0M951.6 594.4h0M953.2 680.4h0M941.4 769.9h0M1003.2 712.7h0M1005.2 712.9h0M1042.6 746.1h0M1046.2 742.2h0M1125.2 656.0h0M1127.2 653.7h0M1125.8 654.0h0M1125.9 653.7h0M892.0 631.4h0M922.4 706.6h0M922.5 706.2h0M921.4 707.0h0M894.6 710.8h0M891.4 706.5h0M946.1 676.9h0M947.7 671.5h0M946.8 677.3h0M946.8 675.8h0M946.2 674.1h0M916.5 710.7h0M914.7 710.8h0M917.8 711.4h0M915.1 710.6h0M1064.0 683.4h0M1062.0 682.4h0M1061.7 681.4h0M1063.5 683.5h0M926.7 597.1h0M927.0 601.5h0M928.5 599.6h0M928.3 597.7h0M927.4 598.5h0M1084.9 628.4h0M1083.7 630.4h0M1083.6 632.7h0M1093.7 712.1h0M1095.7 712.9h0M897.3 641.9h0M1045.8 721.6h0M1078.1 713.8h0M971.8 609.4h0M890.8 668.2h0M933.0 593.9h0M969.1 626.8h0M973.7 626.7h0M1094.9 624.2h0M1053.9 738.9h0M1053.0 738.9h0M1050.7 737.9h0M1106.1 715.3h0M926.5 725.9h0M926.8 725.4h0M924.8 723.3h0M971.9 753.4h0M988.7 766.1h0M987.7 768.6h0M987.6 768.7h0M987.5 766.6h0M1013.5 728.6h0M1014.8 727.6h0M1013.0 729.4h0M1014.7 728.3h0M1013.4 729.2h0M1015.2 727.3h0M1003.6 606.1h0M1072.4 673.7h0M1071.6 672.5h0M938.8 585.7h0M958.4 737.1h0M960.3 639.0h0M958.5 640.5h0M992.2 710.6h0M979.5 720.3h0M979.6 721.2h0M960.9 637.4h0M1112.7 693.3h0M1111.6 695.6h0M1050.4 658.6h0M1048.9 658.8h0M1051.6 657.6h0M1049.7 658.4h0M1049.5 658.9h0M1050.7 657.6h0M915.3 640.0h0M917.1 639.7h0M917.1 640.5h0M994.2 574.2h0M897.2 647.4h0M896.2 647.7h0M897.8 647.7h0M1092.1 648.7h0M1090.6 647.8h0M1091.9 650.1h0M1091.2 647.5h0M952.2 732.3h0M927.7 623.9h0M927.4 624.8h0M928.0 624.9h0M928.0 625.1h0M948.0 688.8h0M946.8 689.4h0M949.1 688.8h0M965.3 710.1h0M981.8 801.9h0M1072.5 639.0h0M1058.5 656.0h0M929.5 687.0h0M925.6 689.1h0M927.3 690.1h0M926.9 688.9h0M1031.1 739.0h0M1032.5 741.2h0M1031.0 731.5h0M1029.9 732.3h0M1035.4 729.0h0M1032.2 730.2h0M972.7 606.7h0M1090.8 678.5h0M1089.0 677.6h0M1073.1 627.2h0M1073.5 628.6h0M1071.0 627.6h0M1070.6 627.8h0M1090.1 637.7h0M1089.1 635.9h0M1087.5 636.5h0M1088.6 636.1h0M952.9 689.0h0M952.7 693.6h0M1126.7 679.1h0M1128.3 680.3h0M1127.1 679.7h0M1127.2 678.6h0M1039.1 682.8h0M985.1 651.4h0M988.6 653.9h0M982.9 649.6h0M985.3 651.0h0M936.7 724.9h0M1033.9 693.0h0M1031.8 694.8h0M1037.3 690.1h0M951.1 785.2h0M949.8 786.0h0M950.5 786.0h0M950.0 786.1h0M950.2 784.9h0M952.4 785.1h0M934.7 689.4h0M945.4 700.0h0M945.6 703.1h0M945.3 701.6h0M945.3 702.3h0M946.6 704.9h0M1034.1 714.1h0M1034.1 716.4h0M1079.6 683.7h0M1080.1 684.7h0M1082.3 682.0h0M1079.8 686.2h0M1080.4 683.9h0M1080.0 683.6h0M1080.7 682.8h0M1065.6 646.3h0M1058.4 650.3h0M1059.6 652.0h0M1060.9 650.0h0M1061.4 648.7h0M1038.7 663.0h0M1037.3 661.8h0M928.7 675.2h0M988.2 629.8h0M987.2 629.2h0M987.8 630.7h0M1049.6 715.3h0M1048.5 716.6h0M1015.4 605.5h0M1017.2 603.7h0M1016.3 605.7h0M974.7 625.0h0M885.6 636.3h0M883.4 636.3h0M902.8 665.0h0M903.8 667.2h0M900.7 667.0h0M904.2 667.2h0M900.9 666.2h0M994.7 788.6h0M994.2 789.5h0M982.5 669.7h0M956.3 767.7h0M957.7 768.8h0M957.5 767.9h0M957.7 767.5h0M1051.0 662.3h0M1050.2 661.8h0M1053.3 660.9h0M1051.0 660.2h0M1112.0 656.2h0M1127.0 662.3h0M1124.7 661.1h0M1094.8 644.3h0M907.9 651.6h0M907.9 649.8h0M902.5 652.5h0M983.1 669.4h0M985.4 670.9h0M986.3 679.4h0M916.6 658.1h0M965.7 607.3h0M943.7 697.1h0M943.1 697.9h0M989.5 607.2h0M988.5 608.9h0M988.6 612.2h0M1079.2 744.6h0M1079.2 743.9h0M944.2 668.3h0M940.3 720.0h0M939.8 718.8h0M1028.5 720.5h0M947.4 685.4h0M991.7 749.8h0M997.3 717.0h0M995.7 717.2h0M995.6 716.5h0M1054.8 699.1h0M1052.8 698.7h0M1054.8 699.8h0M1053.6 700.8h0M1089.4 647.5h0M1091.0 650.2h0M962.4 664.4h0M978.3 576.7h0M859.9 658.3h0M943.4 605.8h0M985.7 780.9h0M987.2 782.5h0M986.9 782.7h0M986.4 781.7h0M988.3 782.4h0M988.9 784.4h0M988.9 785.0h0M987.0 782.3h0M986.7 782.1h0M971.7 742.6h0M971.6 741.7h0M972.8 741.1h0M971.7 743.0h0M1009.0 690.8h0M942.8 672.6h0M1000.9 697.8h0M997.8 699.1h0M999.8 698.4h0M994.1 700.1h0M1001.2 699.0h0M984.7 704.4h0M1064.5 706.5h0M1018.5 707.4h0M1019.4 708.2h0M1017.8 706.0h0M925.3 724.9h0M924.2 722.8h0M1089.1 747.2h0M1086.9 747.8h0M1089.7 750.5h0M1038.5 714.2h0M1071.6 717.7h0M1072.2 719.0h0M1071.7 717.7h0M883.7 650.9h0M995.3 717.7h0M904.1 628.3h0M906.0 628.6h0M904.8 629.4h0M908.1 630.6h0M907.8 632.3h0M1083.4 641.0h0M1081.8 637.2h0M1083.7 639.0h0M1081.5 639.5h0M1083.3 641.8h0M1071.6 654.9h0M939.2 692.2h0M940.9 736.4h0M940.3 735.4h0M1083.8 650.5h0M1081.6 651.4h0M948.9 675.8h0M950.0 676.1h0M951.2 675.1h0M961.6 624.3h0M1016.1 736.4h0M968.7 653.9h0M951.5 667.1h0M951.0 666.5h0M1109.1 700.2h0M1108.0 699.6h0M1108.6 698.8h0M912.3 676.5h0M911.5 600.6h0M1101.5 650.4h0M1104.1 651.5h0M897.9 633.2h0M894.4 633.6h0M897.9 632.8h0M980.6 765.3h0M980.8 766.4h0M1061.5 726.8h0M933.6 694.1h0M891.7 689.5h0M1017.4 739.4h0M1017.5 737.7h0M1042.7 668.9h0M1044.0 668.8h0M1043.5 670.3h0M1086.5 669.8h0M1085.7 671.0h0M1068.1 760.4h0M1067.0 757.8h0M1025.7 626.2h0M954.3 689.4h0M955.8 688.8h0M985.4 582.0h0M988.5 583.9h0M988.4 582.9h0M989.9 583.1h0M985.1 582.4h0M988.1 582.4h0M948.2 601.2h0M1078.6 643.1h0M1082.8 641.9h0M917.3 623.2h0M951.6 710.1h0M953.4 711.1h0M951.7 710.6h0M1025.2 746.9h0M1029.4 748.5h0M1029.7 749.4h0M1028.6 748.9h0M1027.7 749.2h0M1029.4 748.0h0M1104.3 662.2h0M1105.7 661.3h0M997.4 582.3h0M998.0 582.7h0M998.7 583.4h0M996.3 581.6h0M881.7 698.5h0M1073.3 650.2h0M1072.7 651.0h0M954.3 598.1h0M956.1 600.0h0M951.6 600.2h0M1061.5 654.2h0M1071.9 669.3h0M1129.7 634.3h0M923.1 700.6h0M1107.2 723.4h0M1105.5 723.1h0M995.5 794.5h0M867.3 654.7h0M1018.0 745.2h0M1016.2 744.6h0M983.1 650.2h0M984.3 649.6h0M996.2 752.8h0M997.2 753.3h0M997.7 753.9h0M984.9 620.8h0M981.7 621.2h0M1058.7 712.9h0M1057.1 713.0h0M1057.6 713.5h0M1055.8 709.8h0M1051.0 706.6h0M1056.1 708.7h0M979.8 590.9h0M994.2 611.3h0M994.2 609.5h0M993.4 612.4h0M989.8 588.9h0M992.9 593.2h0M936.0 697.9h0M935.4 698.5h0M936.6 700.5h0M936.4 697.2h0M936.9 697.6h0M935.2 701.8h0M936.9 699.6h0M935.7 703.4h0M964.5 683.0h0M965.1 684.1h0M1065.2 671.7h0M1051.0 657.5h0M1038.1 704.7h0M1039.7 704.9h0M1039.4 704.1h0M1040.1 705.0h0M1039.3 705.8h0M999.8 584.8h0M1000.5 583.7h0M1009.0 584.7h0M1068.5 636.5h0M1069.1 637.3h0M1067.1 689.0h0M900.9 690.0h0M904.9 686.7h0M904.3 684.4h0M904.6 685.9h0M1058.0 726.1h0M1057.8 726.9h0M938.7 701.8h0M946.2 596.6h0M945.8 595.5h0M966.5 710.7h0M965.3 709.8h0M969.3 707.9h0M967.7 708.4h0M1135.0 683.6h0M929.1 681.2h0M928.4 679.7h0M1080.4 649.4h0M917.2 632.4h0M923.8 636.1h0M923.0 635.3h0M923.0 635.9h0M923.3 635.4h0M1000.7 774.1h0M1000.7 776.6h0M996.6 777.0h0M1000.3 774.2h0M960.7 626.9h0M956.8 629.4h0M958.7 630.7h0M955.9 629.6h0M955.4 630.8h0M953.4 632.8h0M1036.2 718.6h0M1037.7 716.9h0M1036.8 718.1h0M1039.6 717.1h0M1036.0 719.6h0M1034.8 718.0h0M1038.9 717.3h0M1052.1 643.6h0M1052.7 642.3h0M1052.9 643.7h0M1052.3 643.4h0M1054.1 643.8h0M1045.7 627.6h0M1044.7 628.5h0M987.0 707.3h0M986.9 707.6h0M987.7 706.2h0M944.6 714.8h0M944.7 715.3h0M963.6 727.3h0M963.2 726.5h0M965.0 724.9h0M966.6 725.3h0M965.0 725.4h0M1120.2 697.4h0M1124.6 700.0h0M977.6 733.1h0M1012.9 652.2h0M1013.9 648.4h0M1015.5 711.4h0M1013.6 711.9h0M1016.8 710.0h0M1013.7 712.4h0M1015.7 710.5h0M957.2 738.6h0M956.2 740.2h0M945.1 717.3h0M955.0 594.0h0M1076.3 704.4h0M1074.8 702.5h0M1075.7 704.5h0M1037.8 734.5h0M1059.3 683.1h0M1126.3 700.8h0M1127.2 700.7h0M1077.2 636.0h0M1032.9 729.0h0M1034.7 727.8h0M971.3 621.7h0M997.7 594.0h0M1013.8 678.5h0M1014.1 678.5h0M1012.5 678.6h0M878.9 661.6h0M977.9 619.7h0M1016.5 659.5h0M1021.8 749.3h0M957.1 744.0h0M957.7 744.9h0M1018.6 671.3h0M1019.7 672.0h0M977.0 769.2h0M974.9 766.9h0M957.5 711.2h0M958.1 710.4h0M1082.5 697.8h0M1082.8 701.3h0M1083.6 696.4h0M1082.7 697.1h0M913.3 632.1h0M991.7 773.3h0M930.2 662.9h0M930.3 663.3h0M931.3 662.7h0" stroke="rgb(44,116,142)" stroke-width="1.5" stroke-linecap="round" fill="none" stroke-opacity="0.82"/><path d="M954.3 623.8h0M954.6 623.6h0M953.7 623.4h0M956.4 624.6h0M955.7 624.4h0M954.4 619.0h0M1139.5 688.5h0M913.5 634.0h0M914.0 636.0h0M1043.4 696.8h0M1043.5 696.7h0M1043.8 696.8h0M925.9 634.3h0M924.1 633.1h0M1011.2 582.5h0M1012.0 584.4h0M1012.7 583.4h0M1011.0 585.9h0M1058.1 679.5h0M946.4 782.9h0M946.3 779.2h0M1071.8 673.5h0M1104.7 676.1h0M1102.9 672.3h0M1066.8 718.3h0M987.9 703.5h0M988.4 705.0h0M990.0 705.9h0M976.3 615.6h0M978.0 616.4h0M995.0 752.5h0M996.8 698.3h0M1094.5 695.8h0M1094.9 695.2h0M1095.8 695.3h0M1093.0 692.1h0M1007.2 592.4h0M1071.8 649.2h0M1071.5 648.7h0M1072.6 650.5h0M1072.9 649.2h0M1008.1 629.9h0M1007.1 629.2h0M968.0 688.7h0M967.3 690.5h0M967.7 688.8h0M965.8 690.8h0M967.1 688.9h0M1041.0 751.7h0M1040.3 750.4h0M1040.8 750.3h0M1040.4 750.1h0M986.1 708.4h0M985.6 711.3h0M985.1 710.8h0M999.2 719.5h0M999.9 720.2h0M999.8 719.8h0M899.9 602.6h0M899.5 603.7h0M899.9 604.3h0M898.2 603.3h0M988.3 678.3h0M990.0 680.2h0M989.4 679.5h0M989.3 677.2h0M988.6 678.2h0M988.7 677.5h0M988.7 679.5h0M951.3 661.0h0M1099.7 643.5h0M1096.7 639.9h0M955.1 716.7h0M955.4 717.2h0M1006.6 642.6h0M1008.8 643.3h0M1010.1 644.1h0M1006.8 642.9h0M1043.9 738.6h0M1053.7 697.5h0M1046.0 685.7h0M1047.6 688.6h0M1046.5 687.8h0M966.5 733.8h0M964.4 737.2h0M1074.6 647.2h0M1075.3 646.4h0M897.2 619.7h0M1061.8 641.1h0M1063.7 642.2h0M1064.0 641.2h0M1064.3 641.7h0M1027.5 670.0h0M919.2 625.5h0M918.9 626.0h0M921.2 626.7h0M918.5 625.9h0M919.9 627.9h0M1016.0 609.9h0M977.3 748.5h0M977.0 748.6h0M979.7 748.4h0M980.5 745.7h0M1032.5 719.7h0M1031.1 721.0h0M1033.9 716.8h0M1032.5 719.3h0M987.1 670.2h0M998.1 572.2h0M997.8 573.0h0M1000.6 579.6h0M1088.1 677.6h0M997.7 584.3h0M900.8 657.1h0M902.3 659.3h0M1006.7 669.8h0M1005.5 671.4h0M1030.8 750.1h0M985.9 619.8h0M987.0 621.5h0M988.2 622.2h0M987.4 621.1h0M1115.8 647.4h0M893.1 634.0h0M949.1 642.6h0M950.6 644.3h0M988.5 760.9h0M988.1 761.0h0M989.2 759.7h0M979.8 625.8h0M981.0 626.2h0M978.3 625.6h0M977.6 626.1h0M951.1 702.6h0M966.7 622.2h0M968.5 623.6h0M966.9 621.1h0M969.0 624.6h0M954.4 711.6h0M934.8 672.0h0M934.8 670.1h0M1008.0 765.1h0M1068.2 629.7h0M1026.5 646.9h0M1027.2 647.2h0M1029.0 645.8h0M912.2 596.8h0M910.6 596.9h0M909.5 596.0h0M991.6 703.5h0M993.2 704.1h0M992.2 704.4h0M991.2 701.0h0M993.8 704.3h0M992.8 702.4h0M991.8 703.8h0M996.8 638.4h0M998.0 637.1h0M1069.2 676.9h0M1069.4 675.4h0M1073.9 680.4h0M1076.0 679.2h0M1071.7 676.9h0M945.9 610.6h0M945.1 611.2h0M945.4 612.1h0M946.2 610.9h0M947.0 610.4h0M1109.6 699.9h0M1112.2 698.6h0M1117.9 698.8h0M1075.8 737.2h0M1076.1 733.1h0M1075.3 735.3h0M1076.3 738.1h0M1077.5 734.5h0M1023.4 668.5h0M1005.0 767.0h0M1002.8 767.1h0M999.8 766.8h0M1001.3 767.4h0M1003.2 767.1h0M1123.6 656.6h0M1123.9 657.3h0M949.3 642.6h0M949.0 645.4h0M947.8 644.6h0M949.8 643.6h0M949.3 644.1h0M1049.3 657.7h0M904.1 655.5h0M903.3 658.0h0M904.1 656.0h0M904.2 654.8h0M903.4 656.8h0M904.0 660.8h0M877.7 673.3h0M877.3 672.2h0M1048.7 690.7h0M1007.1 602.7h0M1009.4 601.9h0M971.9 693.9h0M1041.6 739.9h0M1043.4 741.5h0M986.4 791.6h0M985.1 785.2h0M986.1 792.5h0M1087.3 647.9h0M1085.4 648.5h0M995.7 714.5h0M994.8 712.5h0M996.3 714.1h0M995.9 714.9h0M975.9 723.9h0M977.0 722.7h0M932.4 662.4h0M931.4 664.8h0M963.3 755.6h0M963.5 759.2h0M1027.1 763.1h0M964.2 666.4h0M963.7 671.4h0M997.1 737.7h0M1002.6 617.3h0M877.0 681.3h0M984.5 672.2h0M1023.9 700.5h0M1025.1 698.0h0M1024.9 699.3h0M1023.3 701.9h0M1022.9 704.9h0M1023.7 702.8h0M1021.9 704.8h0M1127.2 658.7h0M991.2 713.3h0M1066.0 670.7h0M1064.2 669.3h0M926.0 648.6h0M925.5 646.1h0M1059.4 692.2h0M1058.6 695.9h0M1059.3 692.3h0M1060.6 692.5h0M1058.6 693.2h0M1003.0 707.6h0M1006.1 711.8h0M1032.2 714.8h0M1008.6 599.3h0M1007.7 599.0h0M1002.3 610.3h0M999.2 611.5h0M1000.9 611.6h0M1025.3 680.2h0M1026.2 679.2h0M1026.4 681.9h0M1025.6 680.4h0M1025.2 681.8h0M869.4 665.8h0M867.5 666.0h0M980.7 695.4h0M976.3 692.3h0M995.8 687.0h0M965.4 780.0h0M964.0 781.3h0M965.0 780.3h0M965.7 781.1h0M964.8 781.8h0M938.0 611.7h0M940.0 613.8h0M916.9 716.8h0M917.1 669.4h0M914.6 668.0h0M1016.4 709.8h0M1088.6 682.3h0M1088.7 681.8h0M1017.1 753.6h0M1015.6 750.1h0M997.7 614.1h0M996.9 614.9h0M995.0 615.7h0M958.2 631.1h0M957.6 630.9h0M958.4 631.8h0M959.7 632.8h0M928.0 622.7h0M938.9 706.7h0M938.7 706.2h0M941.7 654.0h0M941.5 651.7h0M941.3 654.7h0M940.6 654.3h0M942.4 656.0h0M947.1 665.7h0M1056.7 684.8h0M976.5 610.5h0M980.3 608.2h0M1038.4 717.5h0M1039.3 718.5h0M1039.2 718.3h0M874.6 699.0h0M1097.4 654.5h0M1097.8 654.1h0M984.5 783.7h0M984.3 782.7h0M985.7 785.4h0M985.1 783.9h0M903.4 651.4h0M902.8 651.4h0M899.1 654.2h0M902.9 651.2h0M962.9 645.2h0M950.3 661.2h0M1077.5 627.0h0M1001.0 752.3h0M953.9 595.1h0M953.9 683.4h0M954.0 679.7h0M972.9 772.0h0M976.8 770.7h0M1036.7 647.6h0M948.5 772.0h0M986.8 785.9h0M1021.8 668.2h0M1022.4 670.3h0M1023.1 666.2h0M1022.3 667.6h0M1003.8 711.6h0M1005.8 711.3h0M1004.1 714.2h0M1005.9 716.8h0M1106.0 636.8h0M1106.4 636.8h0M1107.7 637.7h0M1106.8 637.4h0M1038.3 732.2h0M1038.7 731.6h0M1038.6 731.9h0M1127.1 653.1h0M1125.9 652.5h0M892.9 631.1h0M891.6 629.1h0M891.2 630.3h0M892.1 633.0h0M891.5 631.9h0M891.4 630.6h0M1019.3 743.7h0M919.1 707.0h0M922.8 706.8h0M923.8 705.3h0M919.3 706.3h0M922.9 706.5h0M894.9 709.7h0M945.5 673.9h0M945.9 671.1h0M914.4 711.3h0M916.9 711.9h0M916.5 711.1h0M1062.1 682.3h0M1085.6 631.1h0M1001.6 627.7h0M1000.1 625.7h0M1002.4 630.0h0M1000.3 625.8h0M1002.0 627.9h0M980.0 628.6h0M929.1 596.4h0M972.9 627.8h0M970.2 627.4h0M971.7 626.8h0M1095.4 631.3h0M1095.9 624.8h0M1028.3 715.1h0M1028.9 709.6h0M962.2 688.7h0M962.9 688.9h0M1052.5 739.8h0M1017.5 756.5h0M1017.8 756.3h0M961.4 676.8h0M1104.1 715.5h0M954.3 705.2h0M956.1 706.1h0M956.4 704.5h0M924.8 724.3h0M969.7 756.9h0M971.8 756.9h0M988.0 765.8h0M988.0 765.9h0M988.4 764.7h0M1014.5 727.2h0M1015.2 726.0h0M1003.2 609.5h0M1002.7 610.6h0M1071.1 671.1h0M1070.9 671.4h0M938.8 586.8h0M1012.3 696.0h0M1012.8 694.3h0M959.1 742.9h0M958.4 641.3h0M1064.7 754.0h0M1064.9 753.6h0M1065.1 754.1h0M981.8 751.6h0M982.1 754.4h0M981.7 749.8h0M981.1 749.0h0M980.2 750.5h0M979.0 718.3h0M980.4 725.1h0M979.1 718.2h0M1135.9 657.8h0M900.8 649.7h0M988.5 615.7h0M988.1 612.8h0M990.7 612.5h0M977.6 632.6h0M978.8 633.2h0M976.8 629.9h0M977.2 630.1h0M976.5 628.3h0M978.5 630.1h0M978.3 630.2h0M976.1 629.5h0M978.8 632.4h0M1050.2 659.7h0M916.3 638.4h0M917.7 638.5h0M999.6 632.5h0M895.7 647.9h0M895.4 648.1h0M895.8 647.5h0M896.9 648.2h0M953.4 681.2h0M954.2 681.9h0M952.7 730.9h0M926.7 621.6h0M927.1 620.4h0M927.8 624.3h0M947.9 687.6h0M949.0 687.1h0M947.1 687.6h0M895.2 653.5h0M1070.8 639.8h0M1073.2 639.8h0M1069.4 640.6h0M929.2 687.6h0M926.6 690.7h0M1032.8 752.4h0M971.7 607.1h0M999.6 665.6h0M999.4 790.7h0M998.6 787.7h0M999.3 789.9h0M998.3 792.0h0M1069.3 629.2h0M1075.2 627.9h0M1036.5 704.0h0M1038.1 700.9h0M1037.6 701.4h0M1038.4 701.3h0M1034.8 704.5h0M1037.4 702.0h0M954.3 686.9h0M982.3 675.1h0M1125.6 678.6h0M1125.2 677.4h0M1127.8 680.4h0M1127.6 679.4h0M1127.9 679.7h0M944.6 679.6h0M940.4 676.9h0M961.6 678.5h0M962.4 677.7h0M964.2 673.8h0M960.9 675.4h0M961.1 678.7h0M1039.7 682.9h0M1040.3 684.7h0M863.0 657.0h0M862.3 657.5h0M1033.1 694.0h0M1036.2 689.5h0M1036.8 690.7h0M1035.6 691.7h0M1034.2 691.7h0M952.6 783.6h0M990.7 694.6h0M988.5 697.5h0M990.3 696.6h0M991.8 694.4h0M990.8 696.9h0M981.9 781.9h0M946.6 702.8h0M945.4 698.8h0M946.4 705.1h0M947.5 705.8h0M939.5 686.0h0M940.0 685.2h0M1080.8 683.6h0M1080.2 684.9h0M1064.2 649.5h0M1064.2 647.0h0M1061.1 650.3h0M1063.6 646.4h0M1122.3 660.4h0M1125.0 656.5h0M1074.5 661.4h0M1074.0 657.9h0M1036.9 661.1h0M1037.1 662.5h0M931.4 648.2h0M930.1 646.2h0M1076.1 729.5h0M947.2 719.6h0M944.0 719.9h0M1047.7 716.0h0M1048.1 714.1h0M1049.0 716.4h0M1018.7 606.9h0M973.3 620.0h0M1056.1 655.3h0M884.5 634.5h0M883.6 637.5h0M1033.0 654.4h0M931.2 594.1h0M993.6 792.3h0M994.4 792.1h0M993.2 793.7h0M999.8 705.4h0M982.1 669.1h0M957.8 767.3h0M957.7 767.0h0M958.2 768.4h0M1003.6 713.4h0M945.3 636.9h0M1053.9 661.5h0M1052.1 659.5h0M1053.3 662.2h0M1109.9 655.4h0M973.9 688.4h0M910.7 649.8h0M905.8 651.3h0M986.0 671.7h0M982.6 677.8h0M913.7 658.3h0M915.1 659.2h0M915.1 657.9h0M966.6 607.9h0M966.4 608.5h0M965.4 606.8h0M943.2 699.9h0M944.7 698.7h0M941.4 699.6h0M941.9 700.9h0M989.3 612.4h0M1079.7 743.4h0M1082.8 742.4h0M1077.5 743.7h0M1081.3 743.1h0M1051.0 675.7h0M1052.2 677.8h0M938.6 718.6h0M934.3 685.2h0M933.4 685.7h0M994.2 772.0h0M1028.3 720.0h0M1029.0 720.3h0M1026.2 721.4h0M1027.2 720.6h0M951.4 682.7h0M993.2 750.5h0M991.0 751.1h0M991.3 750.5h0M995.4 717.0h0M996.8 713.5h0M995.7 720.1h0M996.3 716.5h0M996.2 715.4h0M1095.7 647.1h0M1094.1 646.8h0M1091.7 648.6h0M981.6 740.1h0M861.2 659.3h0M860.3 658.5h0M861.0 660.4h0M859.5 659.7h0M861.4 661.1h0M859.1 659.7h0M857.9 659.6h0M861.2 659.0h0M972.0 741.0h0M1008.5 689.5h0M1004.0 696.4h0M1010.3 689.2h0M1039.7 687.6h0M1039.5 687.7h0M987.1 702.6h0M975.1 584.2h0M976.1 585.9h0M1017.8 705.1h0M925.2 723.1h0M925.3 722.4h0M924.1 721.5h0M1110.0 681.5h0M883.2 685.3h0M883.4 686.6h0M882.9 684.8h0M933.4 656.0h0M931.7 656.3h0M948.7 686.9h0M1040.1 715.6h0M1036.7 716.4h0M1039.8 716.2h0M951.2 654.0h0M950.7 653.3h0M951.3 652.3h0M883.1 648.9h0M884.7 650.4h0M884.3 649.8h0M884.5 651.1h0M882.2 646.3h0M884.8 651.5h0M885.1 650.4h0M881.5 645.2h0M1131.9 685.8h0M1081.3 640.2h0M1082.0 638.7h0M1073.4 654.8h0M939.8 690.0h0M1113.0 702.5h0M1112.1 702.4h0M940.5 735.5h0M941.6 734.8h0M940.4 737.0h0M941.2 735.1h0M940.4 737.1h0M1031.2 735.7h0M1030.2 737.7h0M1030.4 738.3h0M1029.6 734.3h0M997.1 657.9h0M962.8 623.8h0M970.3 650.1h0M966.8 654.5h0M968.6 649.4h0M973.5 662.5h0M908.7 602.0h0M908.4 598.9h0M909.0 602.6h0M910.5 603.4h0M1120.1 629.1h0M1003.0 769.5h0M942.6 735.9h0M942.2 734.3h0M940.6 735.1h0M937.4 733.0h0M940.8 734.8h0M932.7 692.8h0M932.7 693.3h0M887.7 688.7h0M888.1 687.0h0M889.4 688.2h0M889.9 689.1h0M889.5 688.5h0M1004.3 752.2h0M1046.1 707.7h0M990.4 734.3h0M991.7 730.0h0M1044.2 667.7h0M1043.9 669.0h0M1042.2 669.9h0M966.6 698.2h0M967.7 694.6h0M968.3 693.1h0M967.9 693.3h0M1067.3 754.8h0M1067.6 756.6h0M1074.0 755.2h0M1024.1 626.4h0M1120.8 688.9h0M1118.9 691.9h0M1119.8 687.6h0M1121.2 684.3h0M1118.2 690.1h0M942.3 743.3h0M1050.7 657.1h0M1050.4 656.1h0M1025.1 746.7h0M888.2 688.4h0M888.8 688.4h0M975.4 762.7h0M998.6 585.1h0M998.7 584.5h0M998.0 581.8h0M998.0 584.3h0M997.2 581.5h0M880.3 697.4h0M961.2 764.5h0M958.3 764.6h0M947.1 662.6h0M957.9 599.1h0M958.8 599.5h0M957.0 598.3h0M954.9 600.0h0M953.5 600.5h0M1057.3 655.3h0M1017.5 737.4h0M1016.8 736.4h0M1016.8 736.8h0M977.8 772.0h0M977.0 774.8h0M1126.1 630.7h0M925.8 701.6h0M927.5 701.6h0M926.4 702.6h0M983.3 738.2h0M986.4 738.6h0M996.1 792.3h0M866.2 648.7h0M963.5 653.9h0M1076.9 669.1h0M998.4 681.4h0M1016.7 601.5h0M932.8 670.0h0M1092.6 624.6h0M1088.9 624.9h0M1091.3 623.8h0M982.4 650.9h0M982.4 652.8h0M984.1 620.8h0M984.6 619.6h0M981.8 620.8h0M984.0 621.3h0M983.3 621.6h0M1053.4 708.5h0M981.1 593.2h0M978.7 591.3h0M979.7 592.4h0M1080.7 667.9h0M995.0 609.5h0M994.6 607.6h0M993.5 613.5h0M994.5 612.9h0M968.8 680.8h0M965.5 683.2h0M1081.0 636.9h0M957.5 698.0h0M956.2 697.7h0M944.1 754.8h0M1054.2 707.7h0M1054.7 709.0h0M1051.4 706.6h0M1027.0 663.8h0M1038.0 622.8h0M1039.7 621.5h0M974.6 636.9h0M972.8 634.5h0M973.8 636.3h0M970.9 631.7h0M929.7 666.3h0M929.6 665.7h0M1011.2 587.9h0M1012.2 587.9h0M937.8 695.2h0M1071.7 625.6h0M1071.1 624.5h0M1071.5 624.4h0M1071.8 625.3h0M1074.0 624.1h0M1000.1 706.6h0M999.0 708.8h0M1000.8 703.5h0M1142.9 676.0h0M1142.5 677.6h0M970.5 708.1h0M969.8 705.1h0M979.4 791.4h0M985.7 792.0h0M1057.4 729.5h0M966.9 708.7h0M963.9 712.6h0M966.8 706.6h0M989.3 622.3h0M990.3 622.5h0M989.8 622.0h0M984.3 772.9h0M985.6 769.7h0M986.8 770.1h0M986.0 770.1h0M900.9 621.0h0M900.6 624.2h0M899.2 623.6h0M899.9 622.7h0M1079.5 647.0h0M915.7 633.5h0M918.0 632.5h0M916.4 632.7h0M917.1 634.0h0M916.9 632.8h0M916.2 633.2h0M923.5 636.0h0M923.0 636.0h0M990.3 688.0h0M988.4 692.7h0M989.0 693.4h0M988.2 689.5h0M998.4 773.7h0M959.1 626.2h0M1073.6 712.8h0M1046.0 628.3h0M1046.6 625.6h0M1046.4 626.9h0M966.7 725.5h0M961.8 726.8h0M1100.0 676.0h0M996.9 723.3h0M978.2 732.3h0M978.9 733.1h0M977.7 731.1h0M980.8 736.4h0M979.8 735.1h0M1014.1 711.9h0M1061.5 649.9h0M938.6 716.1h0M940.1 712.6h0M942.9 711.3h0M941.2 713.1h0M955.6 595.6h0M956.6 596.7h0M955.7 595.2h0M954.7 594.6h0M955.8 595.6h0M1061.5 628.5h0M1137.0 694.5h0M1134.0 694.3h0M1132.3 693.8h0M889.5 626.8h0M889.2 620.6h0M890.5 621.1h0M889.4 626.8h0M1059.6 683.1h0M1125.4 701.7h0M1075.5 634.3h0M1077.0 634.9h0M1074.9 633.4h0M1035.7 732.0h0M1034.0 727.8h0M1036.6 727.7h0M1036.8 728.9h0M997.9 592.4h0M934.2 698.4h0M933.6 697.6h0M933.3 698.9h0M933.3 699.9h0M936.4 703.1h0M935.3 702.2h0M1110.7 689.4h0M1109.8 690.4h0M965.0 599.1h0M965.1 600.0h0M885.5 639.2h0M884.8 639.2h0M886.3 637.6h0M905.0 704.3h0M972.5 619.2h0M1105.1 680.6h0M938.7 650.3h0M938.2 649.7h0M937.4 649.2h0M958.2 744.7h0M955.4 741.7h0M957.4 743.5h0M958.0 743.0h0M957.1 743.0h0M1021.4 670.6h0M1018.9 672.6h0M1017.4 671.3h0M1019.4 670.4h0M1017.6 668.9h0M941.7 628.9h0M1083.9 697.1h0M1083.5 698.6h0M1082.3 696.3h0M1082.4 697.4h0M956.4 617.3h0M955.9 617.0h0M951.6 611.7h0M952.6 613.8h0M953.7 615.1h0M958.2 713.8h0M968.5 599.8h0M968.7 601.5h0M969.8 603.4h0M968.6 602.9h0M968.5 600.1h0M930.1 663.9h0M928.6 665.9h0" stroke="rgb(36,135,141)" stroke-width="1.5" stroke-linecap="round" fill="none" stroke-opacity="0.82"/><path d="M998.2 636.5h0M1141.1 689.5h0M1139.8 691.0h0M1140.6 691.2h0M1140.4 687.8h0M1044.2 696.2h0M1044.1 696.8h0M921.6 629.8h0M1012.5 582.0h0M1012.1 585.8h0M1012.9 582.6h0M947.3 783.9h0M1074.0 673.3h0M1069.6 669.4h0M1069.9 669.5h0M1069.4 670.3h0M1072.4 670.4h0M1104.4 673.4h0M1105.7 673.9h0M1104.6 673.5h0M976.1 613.4h0M976.1 613.4h0M975.8 612.0h0M1020.8 602.3h0M1019.1 601.3h0M932.2 681.9h0M930.6 681.4h0M930.1 681.4h0M921.1 718.4h0M920.4 719.3h0M1046.0 630.4h0M1049.0 626.1h0M1050.1 625.3h0M1099.0 646.6h0M1099.5 645.2h0M951.1 762.3h0M959.0 621.9h0M957.3 618.8h0M960.3 619.7h0M1043.7 764.7h0M1047.8 763.7h0M1044.5 763.7h0M896.4 663.5h0M967.5 690.2h0M1027.5 710.3h0M1080.5 655.8h0M1080.1 655.8h0M1041.0 750.1h0M986.0 711.3h0M985.5 709.6h0M985.5 709.3h0M986.3 709.6h0M1001.1 719.8h0M1000.1 720.2h0M999.9 720.9h0M997.7 718.7h0M1000.9 720.2h0M1001.2 719.6h0M1099.1 627.3h0M1098.7 626.2h0M1098.0 625.9h0M1099.2 626.5h0M1099.0 627.3h0M1097.9 626.5h0M900.0 603.1h0M901.9 602.6h0M988.8 678.2h0M957.9 661.4h0M955.2 660.2h0M953.2 661.5h0M997.1 746.1h0M996.5 746.3h0M979.4 667.1h0M979.3 667.2h0M1099.7 642.2h0M1096.5 641.5h0M957.8 713.7h0M956.3 715.2h0M1009.4 645.1h0M1005.3 643.4h0M1003.2 660.3h0M980.3 710.7h0M967.7 732.6h0M965.8 737.2h0M964.5 737.5h0M967.8 733.3h0M964.5 735.3h0M1003.8 708.9h0M1005.0 704.3h0M1004.8 710.2h0M1005.7 709.2h0M1003.1 710.6h0M1004.6 708.8h0M1003.4 708.7h0M901.8 618.0h0M901.6 619.2h0M988.8 794.6h0M1071.1 726.6h0M1072.7 725.8h0M1023.5 672.1h0M919.6 628.9h0M988.4 807.3h0M996.3 793.6h0M978.2 748.1h0M979.5 745.5h0M963.4 673.4h0M966.5 672.6h0M987.9 794.3h0M998.3 575.5h0M998.0 576.4h0M996.0 570.8h0M997.2 575.0h0M1089.9 677.6h0M1088.6 677.1h0M963.8 728.7h0M963.6 726.5h0M965.6 729.3h0M900.3 657.1h0M902.2 659.9h0M1006.3 668.5h0M1030.9 749.3h0M1030.7 748.9h0M1032.1 750.8h0M986.4 619.5h0M1008.9 647.4h0M1009.6 648.2h0M1011.9 647.6h0M1007.2 647.9h0M1115.5 644.3h0M1114.5 650.0h0M1115.8 647.8h0M891.1 633.1h0M891.0 630.5h0M890.2 640.0h0M891.5 633.6h0M890.6 630.4h0M891.5 627.1h0M891.0 635.8h0M987.7 758.7h0M938.8 707.2h0M979.1 625.4h0M1098.6 655.0h0M1101.0 652.5h0M1102.0 651.1h0M967.0 623.8h0M969.0 623.9h0M968.5 623.4h0M1033.2 656.7h0M1033.4 656.3h0M983.8 710.8h0M932.9 669.1h0M1008.5 765.1h0M1008.8 765.9h0M967.5 657.6h0M965.9 656.2h0M966.5 655.8h0M964.9 656.4h0M968.3 705.2h0M910.3 596.9h0M909.9 596.4h0M956.8 699.7h0M1122.0 678.4h0M1115.5 674.4h0M1118.7 676.3h0M1118.6 675.8h0M1118.5 675.2h0M1077.9 682.6h0M946.0 610.8h0M951.3 609.5h0M1113.7 700.0h0M1116.8 698.4h0M1111.3 700.6h0M1115.5 698.9h0M1075.6 735.3h0M1021.6 668.8h0M1018.9 668.4h0M988.7 632.7h0M987.1 633.9h0M1003.2 766.5h0M1021.2 622.2h0M958.3 687.1h0M955.5 686.1h0M949.0 681.9h0M950.8 683.1h0M949.4 645.2h0M947.8 643.0h0M948.9 644.6h0M949.0 644.1h0M969.5 705.2h0M951.6 680.4h0M954.7 680.8h0M950.1 682.7h0M957.9 679.7h0M954.1 680.9h0M953.9 680.6h0M949.4 683.5h0M955.4 680.6h0M955.1 681.4h0M1032.2 662.0h0M904.3 656.4h0M904.8 658.1h0M1042.9 741.9h0M995.7 714.4h0M975.0 722.2h0M968.2 725.3h0M978.3 723.2h0M977.1 722.6h0M1001.7 708.6h0M1001.9 705.0h0M1003.3 703.1h0M1001.4 710.0h0M1001.1 708.4h0M963.9 757.3h0M965.3 754.0h0M964.1 755.4h0M961.4 758.9h0M963.1 757.8h0M964.1 755.1h0M962.8 760.1h0M1034.3 730.3h0M1038.5 727.6h0M1036.9 729.2h0M964.9 668.4h0M965.5 665.7h0M964.7 667.3h0M965.0 666.6h0M964.2 670.0h0M952.7 663.1h0M878.8 681.6h0M877.6 681.6h0M922.2 619.9h0M1025.0 699.8h0M1009.8 638.0h0M1123.7 654.4h0M1125.4 658.1h0M1127.6 660.9h0M1128.2 659.7h0M1124.0 654.6h0M991.7 704.2h0M958.8 741.0h0M997.1 747.8h0M998.0 640.7h0M996.4 642.3h0M997.5 643.0h0M996.2 643.2h0M1058.7 693.0h0M1057.8 696.3h0M1059.3 694.3h0M1059.0 693.0h0M972.1 610.4h0M970.9 607.3h0M995.1 617.4h0M997.7 618.4h0M1011.6 601.4h0M1008.7 599.5h0M1008.2 600.1h0M1004.6 598.2h0M1009.5 599.5h0M976.9 762.9h0M974.1 763.1h0M970.8 763.5h0M1003.6 608.9h0M968.8 644.3h0M967.9 646.7h0M902.8 706.5h0M965.1 762.1h0M868.8 664.9h0M866.9 665.4h0M869.1 665.6h0M982.4 698.7h0M980.3 694.5h0M995.0 687.7h0M1071.9 676.1h0M994.6 651.0h0M995.8 652.6h0M991.4 659.7h0M992.1 657.1h0M990.1 660.3h0M914.5 667.8h0M914.6 670.6h0M1015.6 710.8h0M1016.1 710.9h0M1018.1 709.5h0M961.2 740.0h0M1033.6 656.9h0M1030.0 650.1h0M959.7 631.9h0M958.3 631.0h0M956.7 631.9h0M959.1 631.8h0M1040.4 671.7h0M1037.7 675.8h0M990.8 701.1h0M1101.6 683.9h0M1101.7 683.4h0M1101.7 683.9h0M941.3 655.0h0M940.9 653.6h0M942.9 651.1h0M1004.5 603.8h0M1005.1 604.0h0M1005.1 605.8h0M1052.8 666.9h0M980.0 609.3h0M978.4 609.3h0M977.3 609.9h0M978.4 609.3h0M1000.2 750.1h0M996.5 751.8h0M996.0 750.6h0M1048.9 656.3h0M985.2 786.7h0M985.7 781.7h0M984.3 782.4h0M961.6 644.4h0M950.2 660.2h0M946.4 659.4h0M943.1 628.3h0M942.3 628.8h0M985.5 583.7h0M986.6 586.7h0M988.6 584.8h0M988.1 584.6h0M985.7 584.3h0M975.6 771.8h0M976.9 771.8h0M976.7 770.4h0M1034.8 649.4h0M1035.5 648.0h0M1002.3 606.8h0M1001.8 607.6h0M1002.5 605.2h0M1004.5 605.5h0M1021.7 667.5h0M1022.1 668.3h0M1022.6 666.9h0M1109.9 637.9h0M1106.9 636.6h0M1107.1 637.1h0M1106.9 637.1h0M1106.1 636.0h0M1042.9 673.0h0M1087.5 671.7h0M1051.0 703.0h0M1038.7 731.9h0M1037.7 732.1h0M1037.9 730.9h0M1037.8 730.0h0M1037.4 731.2h0M1018.2 743.5h0M1030.4 736.2h0M1029.3 733.8h0M1028.3 734.4h0M950.6 729.7h0M1068.8 683.2h0M1033.3 691.6h0M1064.6 680.2h0M1065.9 679.6h0M1065.4 679.3h0M1065.0 680.3h0M1064.3 679.7h0M1003.1 627.3h0M979.2 629.1h0M979.2 628.3h0M979.5 629.3h0M1014.6 737.5h0M1014.0 735.6h0M1015.7 738.1h0M963.0 712.6h0M974.7 626.5h0M1067.6 728.4h0M1067.2 723.5h0M995.7 718.1h0M1028.3 712.7h0M1028.7 716.7h0M1028.8 715.3h0M1030.0 713.1h0M980.1 760.0h0M975.9 755.4h0M977.3 756.6h0M977.2 757.0h0M988.8 690.2h0M1017.0 756.4h0M1016.7 757.0h0M1015.3 755.8h0M957.6 676.0h0M956.3 704.4h0M956.6 706.9h0M916.9 604.5h0M979.5 585.3h0M980.0 586.2h0M980.5 584.3h0M1039.6 664.6h0M1039.5 663.6h0M1017.4 726.9h0M921.7 627.6h0M926.6 626.8h0M923.1 626.9h0M1010.4 692.9h0M1012.2 695.7h0M1010.7 695.9h0M1012.0 695.6h0M1066.4 753.6h0M1063.7 754.8h0M982.7 749.9h0M983.3 748.4h0M982.4 751.8h0M981.6 751.5h0M1005.6 708.1h0M1002.3 701.9h0M978.6 719.8h0M978.7 720.2h0M948.8 675.1h0M1135.2 658.1h0M904.3 650.2h0M900.0 651.4h0M901.9 649.1h0M901.6 649.4h0M902.6 649.9h0M902.7 650.2h0M901.1 649.8h0M988.9 615.7h0M986.3 613.2h0M990.9 615.1h0M1029.4 703.5h0M1028.8 700.5h0M1029.4 699.2h0M1029.0 701.6h0M974.4 672.7h0M974.4 673.7h0M916.8 641.0h0M1000.6 633.7h0M897.1 648.9h0M915.7 618.3h0M1025.0 760.0h0M1072.7 725.8h0M1078.3 721.3h0M1001.2 576.8h0M1002.2 576.9h0M999.6 573.6h0M1001.0 575.2h0M1001.6 574.9h0M1067.4 683.8h0M951.2 731.3h0M952.3 731.4h0M953.6 732.7h0M947.2 665.7h0M927.5 626.5h0M928.4 628.6h0M1105.6 669.9h0M1104.3 668.5h0M1104.7 668.4h0M1103.5 667.3h0M1107.4 668.3h0M951.7 687.8h0M947.3 687.1h0M1054.6 654.9h0M1054.9 653.8h0M1070.4 734.5h0M988.7 729.5h0M1075.6 693.8h0M1075.8 693.3h0M1105.7 650.5h0M983.5 623.4h0M1035.3 751.6h0M1033.5 751.3h0M1037.4 750.2h0M1032.5 752.5h0M1029.7 755.1h0M998.7 665.2h0M996.3 663.9h0M998.7 792.0h0M996.4 791.4h0M1035.9 704.2h0M1036.5 703.0h0M1037.7 702.3h0M984.2 676.6h0M985.8 675.7h0M984.4 673.8h0M940.3 645.8h0M943.5 679.0h0M941.2 676.7h0M942.3 678.9h0M962.8 677.0h0M959.2 679.2h0M961.6 678.4h0M1009.4 667.1h0M1007.6 665.5h0M1008.5 667.1h0M1011.2 668.8h0M862.1 656.7h0M863.3 656.7h0M863.8 657.6h0M863.8 657.8h0M863.8 657.2h0M1132.2 677.7h0M1033.3 692.6h0M983.3 785.3h0M984.2 785.4h0M990.3 695.9h0M990.3 695.5h0M991.1 694.8h0M981.3 782.0h0M946.6 622.1h0M950.3 624.2h0M950.3 624.3h0M947.5 623.1h0M950.6 624.5h0M1017.4 619.9h0M1020.6 619.9h0M1010.5 614.7h0M1010.6 612.6h0M947.1 706.3h0M940.3 680.7h0M938.4 685.1h0M939.1 682.6h0M1006.3 725.0h0M1000.8 724.9h0M1002.4 724.2h0M1004.7 725.6h0M1123.6 658.7h0M1125.9 656.2h0M1018.4 751.5h0M1019.5 750.5h0M1019.3 750.5h0M1072.6 659.0h0M1139.3 694.8h0M1137.0 694.1h0M1078.1 728.7h0M1076.7 728.3h0M944.9 721.2h0M1006.0 720.0h0M1005.1 721.6h0M1004.9 725.3h0M1004.7 723.3h0M1033.7 654.3h0M1032.8 654.8h0M933.9 592.6h0M933.1 593.1h0M935.3 592.0h0M975.7 630.8h0M974.4 632.3h0M975.4 630.8h0M976.0 632.0h0M974.1 630.3h0M1000.9 705.6h0M1001.3 707.8h0M1000.4 704.5h0M979.9 669.0h0M1015.2 616.6h0M1012.7 616.4h0M1015.0 618.8h0M1000.1 713.8h0M1001.5 713.5h0M1001.5 713.2h0M981.9 753.1h0M982.5 752.7h0M981.8 753.8h0M982.6 754.5h0M974.5 689.2h0M972.1 693.9h0M973.4 689.9h0M974.2 689.7h0M973.6 691.5h0M974.6 688.7h0M908.4 615.6h0M1033.3 666.7h0M972.1 687.7h0M973.5 684.8h0M914.8 657.9h0M916.0 658.1h0M914.1 659.5h0M914.7 658.3h0M1039.7 710.8h0M1053.5 677.0h0M1051.6 676.2h0M1052.4 676.0h0M934.2 684.2h0M935.6 684.6h0M935.0 682.3h0M934.6 685.4h0M957.8 664.2h0M994.5 772.4h0M995.7 772.3h0M1028.2 721.6h0M1030.5 720.8h0M1026.9 721.6h0M993.2 750.1h0M993.3 749.6h0M992.6 750.4h0M991.0 751.4h0M978.6 786.2h0M1066.6 656.7h0M1066.2 656.0h0M1067.0 656.9h0M1110.3 711.5h0M1105.6 708.8h0M1109.8 714.0h0M1111.6 714.4h0M1110.3 713.7h0M946.2 636.0h0M981.8 744.1h0M982.9 739.0h0M981.8 740.0h0M982.7 738.7h0M1006.2 624.7h0M1037.8 682.8h0M957.6 702.1h0M957.8 702.4h0M957.3 701.6h0M956.0 702.5h0M957.2 701.4h0M1011.4 687.0h0M1008.5 690.8h0M1017.0 672.0h0M1017.6 670.4h0M1016.8 668.7h0M1039.9 683.8h0M1039.2 682.5h0M1037.5 682.9h0M1038.1 684.7h0M1022.4 636.2h0M1023.2 635.7h0M1022.1 635.4h0M975.4 674.2h0M974.1 676.8h0M976.7 674.3h0M976.5 673.6h0M1016.5 612.0h0M1015.8 608.4h0M953.1 715.3h0M952.4 713.1h0M949.3 711.8h0M949.4 711.7h0M949.4 710.1h0M977.5 585.9h0M976.9 586.4h0M977.1 588.2h0M1012.4 659.6h0M1052.5 693.4h0M1053.9 693.9h0M1049.8 693.4h0M1051.8 692.4h0M934.0 656.1h0M931.4 656.8h0M976.7 748.1h0M1002.2 672.6h0M1001.0 584.4h0M999.2 585.0h0M997.7 585.2h0M999.5 584.2h0M995.0 587.9h0M951.9 686.4h0M952.2 686.2h0M1038.9 716.2h0M1131.6 687.9h0M1132.9 688.6h0M1133.2 688.7h0M993.6 704.1h0M981.6 775.6h0M979.6 779.3h0M1112.4 704.5h0M1012.5 738.1h0M1017.8 686.4h0M1030.8 735.4h0M975.3 784.8h0M1003.8 611.0h0M1004.9 609.7h0M975.1 664.4h0M975.9 665.2h0M975.0 663.5h0M974.5 663.6h0M975.2 665.5h0M1119.4 630.0h0M1120.8 628.3h0M1122.1 627.7h0M1121.3 627.9h0M1121.7 627.5h0M1003.3 770.7h0M1008.9 767.4h0M1005.2 770.0h0M1005.2 769.9h0M1005.1 769.8h0M886.8 689.0h0M1006.8 754.9h0M1007.6 752.9h0M1005.7 752.3h0M1010.3 754.7h0M1045.8 707.2h0M996.2 731.5h0M991.4 732.6h0M966.4 696.1h0M969.0 695.5h0M968.7 696.8h0M960.3 652.6h0M1075.2 755.6h0M1074.7 758.9h0M1075.5 753.6h0M944.9 658.7h0M1065.1 700.3h0M1062.7 699.3h0M1057.1 701.4h0M1062.5 698.9h0M1087.7 671.9h0M1086.5 673.3h0M1087.2 675.5h0M969.8 649.5h0M1121.7 683.6h0M1121.3 684.2h0M1123.3 684.6h0M965.9 725.3h0M1113.8 682.2h0M937.0 741.7h0M942.1 743.0h0M939.9 741.3h0M941.7 742.7h0M1051.6 658.2h0M1052.2 658.1h0M1050.2 654.9h0M1051.4 659.1h0M1051.3 657.6h0M1009.0 699.8h0M1008.8 698.8h0M992.3 761.6h0M992.5 761.9h0M995.3 758.5h0M995.1 757.9h0M994.3 758.3h0M1019.1 728.1h0M909.5 701.3h0M888.2 689.5h0M888.2 689.5h0M889.1 689.8h0M887.3 688.4h0M887.9 689.3h0M975.2 765.8h0M976.6 763.5h0M975.6 765.0h0M976.8 766.7h0M974.5 762.7h0M1000.3 791.4h0M997.5 793.2h0M959.3 764.4h0M961.8 765.7h0M957.8 762.9h0M959.0 762.7h0M959.5 764.0h0M1083.7 662.7h0M1001.1 656.0h0M1001.1 656.8h0M997.3 652.5h0M949.4 662.3h0M954.5 599.7h0M1016.3 735.2h0M977.2 773.6h0M976.8 773.8h0M963.2 612.6h0M1106.4 645.1h0M984.6 737.9h0M988.9 741.5h0M962.8 654.6h0M1078.4 668.7h0M1076.8 670.4h0M999.3 678.7h0M999.5 677.4h0M998.9 681.1h0M998.9 678.5h0M998.4 680.4h0M999.5 678.5h0M999.4 681.0h0M1066.2 666.8h0M1065.0 664.3h0M1066.2 663.0h0M987.8 689.7h0M1018.8 602.9h0M1018.4 601.8h0M878.9 691.8h0M1092.5 624.5h0M1088.5 624.0h0M953.0 736.7h0M1082.7 667.9h0M1078.6 668.6h0M1079.7 667.6h0M969.3 606.1h0M952.6 700.5h0M949.2 702.7h0M955.5 700.8h0M993.8 724.8h0M1073.2 641.4h0M1076.9 640.1h0M1074.7 640.0h0M1075.9 639.6h0M954.5 730.5h0M954.6 732.0h0M955.9 731.3h0M953.3 730.2h0M953.2 731.2h0M954.6 733.5h0M1051.3 675.6h0M1052.5 677.3h0M970.9 703.2h0M998.1 767.2h0M998.9 764.8h0M978.5 633.7h0M942.2 756.0h0M942.7 755.5h0M942.3 755.5h0M943.2 756.1h0M943.5 756.5h0M944.4 754.0h0M1054.1 708.0h0M1053.1 706.9h0M1052.5 706.8h0M1051.5 706.2h0M1054.4 707.2h0M1023.1 664.2h0M1021.6 660.8h0M1025.2 663.5h0M1025.2 662.1h0M1038.4 622.4h0M1039.3 621.7h0M973.5 635.5h0M973.0 635.5h0M970.9 633.0h0M975.2 636.5h0M1083.3 627.6h0M1084.0 628.9h0M1084.0 628.2h0M1083.1 628.6h0M1083.9 629.0h0M1083.4 628.1h0M1011.7 728.7h0M932.3 666.4h0M930.7 665.4h0M927.3 666.5h0M932.6 664.7h0M927.1 667.0h0M1028.5 761.7h0M1027.1 761.7h0M959.3 733.2h0M954.4 734.2h0M960.2 734.2h0M955.0 735.9h0M958.9 735.3h0M1074.3 625.1h0M1070.1 626.6h0M1068.4 627.6h0M1073.1 625.9h0M999.7 706.7h0M999.6 707.0h0M998.1 707.4h0M1000.3 709.0h0M999.4 704.4h0M949.1 705.0h0M949.1 705.0h0M948.0 705.8h0M947.2 706.7h0M970.9 703.7h0M970.0 703.2h0M970.7 704.2h0M969.5 701.7h0M969.9 704.5h0M1129.0 697.0h0M1124.1 698.5h0M1051.7 680.5h0M1053.5 684.4h0M1051.9 681.0h0M1008.5 768.2h0M929.7 723.8h0M930.6 724.5h0M940.7 779.6h0M942.5 778.5h0M942.5 777.5h0M990.4 620.8h0M988.8 619.8h0M989.9 622.5h0M987.7 767.0h0M986.3 770.8h0M984.6 771.5h0M985.3 771.2h0M959.4 614.7h0M960.6 615.9h0M901.0 622.4h0M901.8 621.5h0M899.3 623.5h0M903.2 622.8h0M900.5 624.2h0M1039.2 638.8h0M1034.8 641.1h0M1003.6 736.1h0M916.4 632.1h0M1064.4 664.4h0M959.8 706.5h0M962.6 705.3h0M896.6 638.4h0M1060.8 724.0h0M1072.9 710.7h0M1070.6 713.5h0M1071.4 715.1h0M1047.0 627.6h0M1088.4 640.9h0M1055.6 639.6h0M1055.6 638.7h0M1006.9 758.4h0M1008.0 758.3h0M996.4 723.9h0M998.5 726.5h0M998.3 725.3h0M997.4 722.9h0M996.6 728.0h0M998.7 722.8h0M979.2 735.3h0M956.3 659.0h0M955.3 659.2h0M956.9 658.2h0M958.4 658.7h0M1059.8 652.7h0M1063.4 647.4h0M1061.8 650.8h0M1060.7 651.5h0M1057.8 654.1h0M1061.2 650.8h0M1085.4 627.9h0M1084.8 628.4h0M1087.4 627.1h0M1000.9 750.8h0M942.6 713.7h0M942.4 711.6h0M941.9 711.7h0M943.2 712.0h0M944.8 712.6h0M956.1 597.2h0M943.7 707.5h0M944.8 709.3h0M944.6 709.0h0M1062.4 628.1h0M1061.3 628.4h0M1061.1 629.3h0M1063.2 628.3h0M1062.2 629.1h0M1134.9 693.9h0M949.3 727.3h0M949.2 724.4h0M948.6 721.9h0M968.0 752.5h0M972.7 750.2h0M973.7 749.3h0M976.6 747.9h0M1027.8 740.1h0M889.8 623.3h0M889.6 624.9h0M889.1 628.9h0M889.5 623.9h0M890.7 628.2h0M1077.5 636.0h0M1074.5 634.9h0M1030.9 724.3h0M1036.0 729.0h0M1113.7 693.1h0M1109.3 691.2h0M1110.0 691.2h0M964.2 598.9h0M964.8 598.8h0M966.8 597.7h0M966.2 600.2h0M965.5 598.8h0M965.9 601.0h0M1104.9 679.6h0M1106.8 680.0h0M955.3 666.3h0M951.9 667.1h0M958.0 743.5h0M957.2 742.7h0M951.9 613.7h0M952.7 614.3h0M968.9 600.8h0M969.5 600.0h0" stroke="rgb(33,154,137)" stroke-width="1.5" stroke-linecap="round" fill="none" stroke-opacity="0.82"/><path d="M1075.6 685.7h0M1073.7 684.5h0M1007.4 696.4h0M1138.1 692.1h0M1141.6 693.7h0M1137.2 692.0h0M1140.9 694.1h0M996.2 636.2h0M998.9 636.5h0M1140.1 689.3h0M1140.2 688.9h0M1139.4 672.8h0M1139.4 674.4h0M1115.9 651.2h0M945.6 662.2h0M944.9 663.1h0M946.4 661.2h0M944.9 664.3h0M1111.1 628.9h0M1111.9 624.8h0M1113.4 626.7h0M1112.5 626.7h0M1018.9 602.7h0M1020.5 600.1h0M927.7 681.5h0M930.4 681.2h0M1035.9 689.7h0M1050.0 626.3h0M1047.0 628.8h0M1047.6 629.1h0M1047.9 626.8h0M1048.0 626.1h0M1045.9 630.5h0M950.3 673.9h0M1100.4 645.1h0M1098.8 646.0h0M1099.2 646.6h0M951.1 764.3h0M951.8 761.7h0M950.9 761.7h0M958.8 620.0h0M954.9 616.6h0M958.5 620.0h0M1043.2 765.3h0M1037.6 766.9h0M1044.0 764.0h0M1040.1 766.2h0M984.4 621.9h0M1024.9 708.7h0M1021.7 708.7h0M1025.2 707.3h0M1082.6 656.5h0M1080.5 656.3h0M1081.5 656.0h0M989.7 719.5h0M989.9 719.9h0M989.7 718.9h0M1023.8 730.3h0M1024.4 730.0h0M948.3 730.7h0M949.4 694.8h0M948.5 696.1h0M949.8 695.1h0M952.0 694.0h0M950.2 693.8h0M948.9 695.4h0M948.8 696.0h0M1001.6 620.8h0M952.2 760.0h0M997.4 744.7h0M979.1 661.0h0M977.9 662.2h0M1098.6 644.0h0M1023.3 743.4h0M1021.9 744.7h0M1023.2 746.2h0M1022.9 742.1h0M1007.7 656.4h0M1009.7 654.7h0M1086.8 735.2h0M966.5 732.9h0M1025.7 722.0h0M996.6 692.0h0M995.6 795.3h0M1057.4 706.3h0M985.1 741.6h0M984.7 742.1h0M983.9 743.1h0M884.0 659.7h0M882.7 656.2h0M885.5 658.5h0M989.4 794.6h0M1071.1 727.2h0M1071.2 725.8h0M1070.8 725.4h0M1070.9 726.2h0M1071.3 726.3h0M1045.3 648.3h0M986.2 806.6h0M988.3 804.9h0M966.1 671.0h0M967.0 670.2h0M966.2 671.3h0M963.3 673.8h0M964.2 673.3h0M965.6 671.9h0M1016.7 723.3h0M1005.7 693.5h0M1034.0 663.7h0M997.3 676.4h0M995.8 679.3h0M996.8 679.7h0M994.6 680.6h0M996.6 679.9h0M994.1 678.6h0M904.4 676.9h0M904.0 677.5h0M1050.2 687.8h0M1011.1 647.5h0M1009.4 646.6h0M990.8 620.2h0M937.2 687.0h0M890.9 626.0h0M1028.3 645.9h0M1027.4 646.5h0M979.2 626.2h0M1005.1 724.9h0M1098.2 655.4h0M1100.5 652.2h0M1098.3 672.3h0M973.9 719.5h0M971.6 713.9h0M971.1 714.0h0M970.8 710.0h0M971.8 713.8h0M971.4 714.6h0M973.4 717.3h0M972.3 719.8h0M1048.4 676.5h0M1003.9 648.6h0M1002.6 648.9h0M1035.4 657.6h0M1035.3 657.6h0M1033.9 656.6h0M1033.5 656.6h0M1034.1 656.6h0M1033.7 657.1h0M1007.5 765.3h0M1007.6 765.3h0M966.7 703.2h0M966.9 703.9h0M967.5 704.2h0M967.7 704.2h0M984.0 769.5h0M956.7 699.6h0M956.1 700.2h0M1122.1 679.2h0M1118.9 676.6h0M1007.1 639.5h0M949.1 610.2h0M933.2 606.6h0M1048.4 633.2h0M1040.9 627.3h0M866.8 694.6h0M863.6 695.3h0M1075.9 735.6h0M1021.5 669.1h0M1020.3 668.3h0M988.6 633.3h0M988.3 634.2h0M877.3 646.7h0M876.8 646.7h0M878.0 647.0h0M1021.4 620.7h0M1017.6 622.8h0M1020.1 622.0h0M1018.9 622.8h0M1020.6 621.8h0M1020.3 622.3h0M1018.6 621.7h0M949.6 684.0h0M989.5 644.2h0M986.7 645.3h0M985.4 645.1h0M992.1 644.9h0M1037.6 638.5h0M1036.3 638.6h0M1037.6 637.4h0M1037.4 637.1h0M988.4 767.8h0M1085.8 654.4h0M1085.8 654.2h0M1087.0 655.6h0M1085.1 655.5h0M1083.5 653.4h0M1085.4 651.7h0M969.4 705.9h0M968.1 706.2h0M969.2 706.5h0M970.8 709.7h0M969.1 706.7h0M968.9 707.3h0M1030.4 661.6h0M1034.1 661.4h0M1027.6 660.1h0M1040.6 658.7h0M968.2 762.3h0M967.9 762.8h0M969.4 763.3h0M983.4 596.4h0M985.3 593.8h0M1001.3 706.8h0M1001.1 707.3h0M1001.7 705.2h0M1000.6 706.6h0M986.2 645.0h0M981.8 644.4h0M984.8 645.0h0M1063.0 628.7h0M990.3 702.0h0M987.3 699.4h0M956.5 609.5h0M1037.6 728.5h0M1037.7 727.9h0M1036.1 730.4h0M963.2 671.3h0M963.9 666.1h0M943.6 661.6h0M942.0 662.7h0M1026.5 762.7h0M1027.2 762.9h0M1102.9 677.2h0M1103.5 675.1h0M1102.0 676.3h0M939.8 669.9h0M921.8 619.1h0M922.8 621.3h0M924.0 622.0h0M922.2 618.6h0M921.0 615.5h0M922.8 619.7h0M923.9 620.4h0M1069.7 730.3h0M1010.4 636.8h0M1009.5 636.9h0M1126.1 656.0h0M959.2 739.0h0M960.5 737.5h0M959.2 741.1h0M960.0 738.4h0M1017.2 759.4h0M1016.3 757.6h0M1017.6 758.1h0M995.8 748.2h0M996.9 747.3h0M995.9 747.9h0M998.3 643.5h0M998.3 643.5h0M990.2 718.9h0M990.7 716.1h0M989.9 718.7h0M989.2 720.7h0M989.9 719.5h0M988.7 721.2h0M989.9 716.5h0M971.1 612.8h0M972.0 612.0h0M969.4 606.0h0M971.0 605.1h0M971.9 608.8h0M971.1 605.3h0M991.1 615.7h0M1023.2 609.7h0M957.2 700.0h0M997.8 613.5h0M995.4 614.8h0M1003.3 614.8h0M1000.0 614.9h0M973.3 762.6h0M969.0 646.1h0M968.1 647.1h0M902.5 704.2h0M964.0 762.7h0M962.7 762.0h0M962.9 762.6h0M963.9 762.0h0M965.2 761.3h0M964.5 760.8h0M1053.2 675.6h0M964.4 677.9h0M1083.6 685.0h0M1084.4 685.0h0M1070.9 677.2h0M1069.8 678.5h0M993.7 648.2h0M993.6 647.7h0M993.4 649.0h0M995.1 647.9h0M993.5 648.3h0M908.1 669.0h0M991.0 657.4h0M992.8 658.3h0M992.1 659.7h0M1014.7 709.9h0M1015.7 709.9h0M1015.7 710.2h0M1015.7 710.0h0M988.4 591.9h0M989.2 592.2h0M987.9 592.4h0M990.6 591.2h0M1003.6 676.7h0M1031.1 650.9h0M1031.6 654.1h0M1008.3 675.6h0M1007.8 669.2h0M1006.9 670.9h0M1008.5 672.2h0M1008.3 673.2h0M1032.1 646.4h0M1031.5 650.5h0M1032.0 645.4h0M1032.5 644.4h0M1026.4 717.5h0M1026.3 719.0h0M1037.4 674.0h0M1037.9 677.4h0M1038.5 672.2h0M1101.0 684.5h0M1005.6 605.1h0M1005.7 603.8h0M974.0 639.5h0M974.9 640.7h0M1063.3 690.9h0M1055.6 676.7h0M1052.7 669.4h0M1054.2 669.7h0M1053.4 671.6h0M951.0 703.8h0M985.7 762.3h0M996.1 751.7h0M1002.6 749.4h0M1014.5 650.3h0M1013.9 646.3h0M1051.9 659.6h0M974.2 731.1h0M972.8 731.1h0M970.9 731.9h0M974.0 731.3h0M963.6 709.9h0M965.1 710.2h0M943.3 628.2h0M943.1 629.0h0M943.0 628.5h0M943.2 631.9h0M942.4 628.9h0M941.9 629.7h0M974.2 771.8h0M1035.0 650.4h0M1034.9 648.5h0M1045.8 674.3h0M988.0 595.4h0M987.6 595.5h0M989.6 595.8h0M989.2 595.8h0M989.5 593.7h0M1086.8 673.0h0M1089.9 670.4h0M1085.7 671.7h0M1087.8 673.4h0M1087.0 674.1h0M1085.9 672.5h0M1086.6 673.2h0M1050.8 701.7h0M1052.5 702.4h0M975.0 591.7h0M971.9 593.3h0M1018.7 743.0h0M1034.1 739.1h0M1004.5 752.4h0M950.3 729.3h0M949.5 731.2h0M949.9 732.4h0M950.1 732.5h0M951.4 734.1h0M950.5 735.5h0M950.6 733.1h0M1031.7 692.0h0M1031.5 691.8h0M1032.8 692.0h0M1033.5 691.7h0M1030.6 689.8h0M1026.8 691.7h0M1064.8 679.5h0M1066.2 679.5h0M1065.4 680.5h0M1083.5 665.7h0M1083.5 665.4h0M1083.1 666.2h0M1016.6 735.8h0M1013.7 736.2h0M1009.5 736.7h0M1011.9 736.6h0M964.2 714.4h0M999.8 680.5h0M998.7 678.2h0M999.0 679.6h0M999.5 679.0h0M1000.1 679.4h0M1000.1 679.3h0M998.6 679.1h0M997.8 677.1h0M999.3 678.4h0M955.4 641.2h0M955.6 639.8h0M955.9 640.6h0M956.3 640.5h0M957.3 639.6h0M955.0 641.8h0M1070.4 733.5h0M1131.1 703.4h0M1130.7 702.6h0M996.2 713.8h0M995.4 714.5h0M996.6 717.5h0M996.0 717.1h0M994.8 715.8h0M996.1 713.2h0M996.9 714.9h0M988.8 688.9h0M1014.7 753.9h0M1017.5 755.4h0M1019.2 757.7h0M1098.6 712.0h0M1100.7 706.6h0M1099.5 710.9h0M1089.2 674.2h0M998.5 733.6h0M996.5 729.9h0M1001.3 678.6h0M983.7 769.6h0M979.7 772.3h0M984.0 709.1h0M985.7 709.5h0M984.7 711.2h0M985.7 712.7h0M961.4 738.4h0M979.9 585.1h0M978.3 586.7h0M1019.2 725.0h0M1017.1 726.8h0M1018.7 723.9h0M1017.7 727.3h0M1019.4 722.2h0M1018.2 728.6h0M978.6 670.6h0M1092.5 667.7h0M999.0 767.1h0M997.3 768.4h0M996.2 767.9h0M1000.3 771.9h0M950.3 593.6h0M1061.8 682.8h0M1001.9 704.8h0M1001.9 702.9h0M903.5 649.2h0M1029.4 702.9h0M1028.9 703.2h0M988.1 689.7h0M957.7 673.3h0M955.6 672.3h0M954.7 671.1h0M973.2 675.3h0M975.7 674.5h0M994.7 695.7h0M915.4 620.9h0M913.7 619.2h0M994.0 592.2h0M993.6 592.9h0M991.6 589.2h0M979.0 772.4h0M1076.0 723.2h0M1072.0 725.5h0M883.9 702.1h0M885.0 700.7h0M886.0 699.8h0M1104.6 670.0h0M995.3 744.3h0M994.5 747.0h0M1059.2 660.7h0M1056.7 659.7h0M987.5 731.9h0M987.0 732.7h0M1075.0 693.2h0M1074.9 693.5h0M1076.5 694.1h0M1075.3 694.9h0M1076.2 693.7h0M1076.8 693.2h0M1004.6 743.2h0M1007.4 743.7h0M983.6 621.6h0M983.8 621.8h0M1032.9 752.5h0M977.3 680.2h0M974.1 678.3h0M1022.2 640.5h0M1022.8 640.3h0M1036.5 670.1h0M1034.2 666.2h0M1034.1 666.3h0M1037.1 672.5h0M938.0 645.5h0M939.0 644.9h0M942.0 646.9h0M937.8 646.3h0M946.0 681.5h0M942.3 677.1h0M1008.5 666.9h0M1009.3 667.1h0M1006.5 666.4h0M1020.1 699.7h0M1018.7 699.1h0M1019.1 701.4h0M1019.4 698.2h0M976.4 754.8h0M976.8 754.6h0M1025.4 635.1h0M1028.8 635.9h0M980.1 666.3h0M977.9 664.7h0M977.3 666.1h0M978.2 665.1h0M976.7 665.9h0M979.0 664.8h0M1130.8 682.8h0M1130.5 680.3h0M1130.5 681.2h0M1130.8 679.7h0M1131.2 681.1h0M1016.9 731.3h0M1015.6 729.2h0M1016.4 730.9h0M1015.3 730.9h0M1015.2 731.2h0M1016.7 731.0h0M984.6 785.0h0M983.0 784.1h0M983.1 785.8h0M984.1 781.3h0M984.3 784.4h0M983.7 784.1h0M983.3 783.3h0M947.4 717.4h0M946.7 718.1h0M947.2 715.2h0M945.4 721.7h0M947.5 715.2h0M1018.6 620.2h0M1018.4 619.5h0M1009.4 614.3h0M1011.5 610.0h0M1021.4 625.8h0M1023.3 627.0h0M1023.9 625.9h0M1004.4 725.8h0M1004.7 724.9h0M1006.8 727.2h0M1003.5 724.1h0M1006.9 726.9h0M1018.8 751.7h0M1018.4 752.4h0M1019.2 751.4h0M1016.8 753.1h0M1019.0 750.6h0M939.6 618.6h0M938.2 617.8h0M938.6 617.9h0M938.9 616.3h0M937.5 616.7h0M997.6 624.9h0M1137.0 692.5h0M1138.6 693.3h0M1137.3 694.4h0M1096.6 725.4h0M1009.0 624.9h0M1006.6 624.7h0M1008.6 624.1h0M1006.9 624.2h0M1007.1 624.7h0M959.5 678.4h0M937.7 612.5h0M1005.9 722.5h0M1005.0 722.7h0M996.2 640.8h0M993.7 641.9h0M994.1 640.4h0M1022.6 644.9h0M1020.1 644.1h0M1019.2 644.2h0M1056.1 652.9h0M1054.4 656.0h0M1035.1 652.6h0M975.7 631.7h0M999.5 706.3h0M983.1 669.8h0M1011.7 618.0h0M1015.6 619.2h0M1012.9 616.2h0M1012.0 614.3h0M1014.4 621.2h0M1002.2 711.4h0M999.1 713.0h0M1001.9 711.8h0M982.0 753.4h0M982.0 752.4h0M982.5 752.9h0M982.6 755.7h0M973.7 690.2h0M912.6 616.4h0M909.9 616.8h0M1033.3 667.1h0M1031.2 668.0h0M973.9 685.2h0M1020.1 668.7h0M1025.4 735.5h0M1022.4 736.5h0M1071.1 669.0h0M1053.0 632.6h0M993.3 772.9h0M991.7 774.1h0M993.9 773.6h0M990.4 775.9h0M991.5 774.8h0M989.5 773.3h0M898.3 652.9h0M974.9 787.6h0M975.8 787.4h0M1068.8 653.9h0M1065.2 653.4h0M1064.6 655.8h0M1065.9 655.4h0M1028.7 655.7h0M1108.4 710.1h0M943.2 634.9h0M946.7 635.5h0M982.0 744.2h0M953.5 652.9h0M955.9 651.4h0M957.8 648.9h0M1021.0 760.9h0M1016.2 621.4h0M1018.0 624.9h0M1016.0 625.1h0M939.3 624.1h0M940.0 625.2h0M1136.7 647.2h0M1005.8 625.9h0M1006.6 625.5h0M1039.0 686.4h0M1036.7 680.7h0M1036.9 681.4h0M998.6 649.1h0M999.4 650.1h0M992.2 646.3h0M956.9 700.4h0M998.5 735.9h0M997.6 737.7h0M1000.0 737.2h0M998.2 738.9h0M997.8 736.9h0M1018.5 674.9h0M1016.9 670.4h0M1019.5 674.4h0M1016.6 669.0h0M1017.2 669.6h0M1016.6 670.2h0M1064.5 669.4h0M931.2 670.2h0M1040.8 686.7h0M1039.2 682.9h0M1023.9 634.3h0M976.5 674.5h0M976.4 674.7h0M975.8 673.2h0M977.4 674.3h0M976.7 673.8h0M1017.0 608.3h0M1016.8 610.1h0M1015.9 607.0h0M1015.7 607.2h0M1016.4 610.0h0M1015.8 608.1h0M1017.0 610.9h0M949.8 715.1h0M948.9 709.5h0M1115.8 669.0h0M977.5 584.5h0M979.0 635.3h0M1054.6 693.7h0M1052.2 694.2h0M1052.4 694.8h0M1053.9 694.7h0M1052.5 693.3h0M977.8 747.1h0M976.7 745.3h0M977.3 745.7h0M974.5 749.5h0M1002.9 671.0h0M1001.5 669.4h0M1004.7 671.2h0M1001.9 672.3h0M1003.0 671.9h0M1001.8 671.0h0M1000.8 672.3h0M990.0 790.4h0M996.2 586.9h0M998.4 586.4h0M1135.1 692.2h0M1134.1 688.6h0M1134.6 689.5h0M1132.1 687.6h0M993.6 702.8h0M993.7 703.8h0M984.9 631.2h0M981.0 776.1h0M980.1 780.7h0M982.3 776.0h0M982.1 777.5h0M982.4 777.4h0M981.3 774.8h0M980.9 777.5h0M1012.0 735.5h0M1013.3 738.9h0M1010.6 738.7h0M1008.8 737.8h0M871.3 692.8h0M964.9 623.8h0M965.4 622.4h0M992.9 636.9h0M992.4 635.4h0M1018.9 685.8h0M1020.1 687.2h0M1019.5 687.7h0M1043.7 710.8h0M1042.9 710.5h0M974.0 598.7h0M973.9 598.7h0M1035.9 656.3h0M1033.5 660.3h0M1004.4 612.2h0M1005.8 614.4h0M1003.6 613.8h0M965.0 708.5h0M965.1 708.7h0M1039.5 696.1h0M1040.1 696.1h0M1040.8 695.6h0M1122.0 626.8h0M1006.8 768.8h0M888.6 687.6h0M1008.0 753.9h0M1043.9 705.3h0M1045.0 707.2h0M1044.3 705.7h0M1045.8 706.9h0M1133.3 699.0h0M918.5 643.9h0M926.0 638.5h0M920.1 644.0h0M920.5 643.2h0M1028.7 699.0h0M1020.2 692.0h0M1016.9 690.6h0M945.9 690.2h0M947.9 690.3h0M947.6 689.7h0M945.5 688.9h0M946.7 690.3h0M943.7 689.2h0M945.4 689.8h0M947.6 690.3h0M945.0 657.3h0M944.1 659.7h0M946.4 663.2h0M945.7 663.5h0M945.6 661.0h0M1064.4 697.8h0M1064.6 700.8h0M1062.6 700.1h0M1062.8 701.5h0M1086.9 671.0h0M1087.7 667.4h0M974.9 649.1h0M972.5 647.1h0M969.8 649.7h0M965.7 722.4h0M965.2 726.3h0M965.8 727.2h0M1112.9 680.0h0M939.9 743.9h0M1051.5 657.5h0M1010.7 699.0h0M994.4 759.5h0M1031.7 748.1h0M1035.0 744.0h0M1032.1 741.8h0M1024.6 727.5h0M1019.2 725.3h0M1025.6 728.3h0M907.3 697.0h0M912.1 699.6h0M909.0 700.3h0M909.0 699.2h0M887.4 689.5h0M1102.3 626.6h0M1003.1 721.3h0M998.4 718.6h0M960.4 763.7h0M958.4 764.4h0M1004.2 657.1h0M1000.9 655.4h0M1002.2 656.5h0M999.3 653.7h0M999.6 654.7h0M976.9 772.1h0M977.6 769.8h0M1055.1 659.8h0M1054.7 661.9h0M965.2 612.8h0M1014.7 608.7h0M1014.6 610.9h0M1014.8 609.0h0M1013.7 612.4h0M1013.9 611.4h0M997.8 679.2h0M1070.6 623.1h0M1072.9 620.0h0M1069.9 624.8h0M1071.7 621.6h0M1067.4 665.0h0M1063.1 664.4h0M1065.1 665.8h0M1066.6 664.9h0M989.0 690.8h0M1062.4 666.7h0M1063.2 664.1h0M1017.8 604.1h0M1018.1 604.3h0M1018.4 603.0h0M1016.9 603.0h0M875.6 690.3h0M950.3 735.7h0M1018.0 699.9h0M1018.6 702.8h0M1017.7 701.7h0M1017.5 666.0h0M1017.1 664.9h0M1017.9 667.1h0M1079.8 667.5h0M1081.7 667.0h0M1080.9 669.1h0M948.9 702.9h0M994.5 725.4h0M953.6 732.9h0M953.7 732.0h0M950.5 729.9h0M1054.3 678.1h0M987.8 711.6h0M989.3 709.5h0M1023.8 667.0h0M1018.6 664.6h0M1020.4 665.9h0M998.6 767.8h0M977.5 632.8h0M976.7 632.1h0M975.6 631.8h0M976.8 631.2h0M943.9 756.1h0M1024.5 663.9h0M1024.8 660.7h0M1084.1 628.6h0M1083.1 627.7h0M1084.4 628.9h0M1012.5 729.2h0M1014.6 732.3h0M1014.8 731.1h0M1012.4 730.3h0M1013.1 730.2h0M1012.3 728.4h0M927.8 665.0h0M955.7 735.6h0M955.2 735.9h0M1084.6 741.6h0M1085.3 743.0h0M1030.6 704.1h0M1140.4 675.0h0M1141.6 676.1h0M1141.0 674.2h0M1142.5 676.4h0M1142.0 675.4h0M945.0 706.9h0M948.0 704.7h0M947.7 705.9h0M1016.2 606.6h0M1017.8 605.9h0M1015.9 606.5h0M1015.9 606.1h0M1014.9 605.4h0M1017.0 606.1h0M1016.1 606.0h0M1016.8 607.4h0M1125.0 698.5h0M1127.4 696.3h0M975.2 733.6h0M1036.0 693.2h0M1052.2 684.4h0M1051.3 684.0h0M1053.1 684.7h0M1052.0 683.6h0M1101.7 679.2h0M929.5 724.9h0M932.1 728.7h0M1112.9 718.6h0M1111.5 719.5h0M1112.9 719.2h0M983.7 771.8h0M959.0 615.6h0M960.3 617.1h0M958.6 614.4h0M1109.0 719.4h0M1109.2 721.3h0M1109.9 722.4h0M1111.6 719.8h0M1109.2 721.6h0M1004.9 740.9h0M1003.9 737.0h0M1064.5 665.4h0M1014.6 698.6h0M961.0 705.7h0M960.7 707.0h0M896.0 638.7h0M896.6 638.2h0M893.0 637.8h0M1063.6 722.1h0M1063.1 722.4h0M1069.9 624.2h0M1091.3 639.3h0M999.2 753.7h0M1000.9 754.4h0M1055.3 638.7h0M1054.9 638.8h0M1056.3 640.0h0M1059.5 639.6h0M1055.6 638.0h0M1100.1 670.4h0M1022.8 609.2h0M979.0 687.4h0M978.7 688.4h0M966.5 665.1h0M965.7 665.5h0M957.2 659.0h0M1084.2 626.7h0M1084.2 626.8h0M1086.1 627.8h0M1084.7 626.5h0M1086.0 627.2h0M994.4 746.1h0M998.7 749.7h0M1000.0 749.2h0M997.0 747.6h0M942.9 689.6h0M942.8 691.3h0M941.7 690.8h0M942.1 689.6h0M941.0 689.9h0M941.8 713.0h0M1116.4 658.6h0M1116.1 658.1h0M1114.5 660.7h0M1115.0 660.9h0M1116.1 659.3h0M1116.3 659.4h0M955.7 759.0h0M956.3 757.9h0M958.1 756.0h0M957.6 756.8h0M955.6 758.1h0M955.5 758.4h0M957.9 755.8h0M983.5 689.4h0M983.0 690.0h0M983.4 688.9h0M1031.3 701.6h0M1032.3 695.8h0M1032.1 695.9h0M1034.0 692.8h0M1031.4 700.1h0M1016.1 611.7h0M1015.8 613.7h0M1016.3 611.9h0M945.1 711.3h0M944.6 708.1h0M944.4 712.3h0M944.1 710.7h0M943.5 705.9h0M995.6 724.2h0M996.5 722.6h0M1062.8 627.9h0M1061.3 629.5h0M1061.6 630.0h0M948.6 725.5h0M1028.9 736.7h0M1039.1 771.3h0M993.1 612.5h0M989.4 613.1h0M864.1 642.9h0M1110.1 691.1h0M1113.3 691.5h0M964.8 599.5h0M961.2 638.7h0M961.1 640.0h0M961.5 638.7h0M959.5 638.9h0M960.6 639.2h0M962.1 638.9h0M969.7 707.5h0M971.8 704.8h0M1106.4 680.5h0M953.6 666.7h0M953.8 667.4h0M952.8 666.9h0M1024.8 669.9h0M1026.7 669.8h0M1025.0 672.8h0M1027.6 671.9h0M1030.2 667.3h0" stroke="rgb(39,172,129)" stroke-width="1.5" stroke-linecap="round" fill="none" stroke-opacity="0.82"/><path d="M998.9 608.2h0M1067.9 683.6h0M1074.9 686.2h0M1072.8 684.5h0M1005.8 696.6h0M1010.6 693.2h0M1008.0 695.4h0M1006.7 696.0h0M1005.4 697.9h0M1007.0 697.7h0M999.6 628.8h0M1139.1 691.8h0M1143.0 694.2h0M1140.5 693.6h0M1141.4 693.9h0M1137.9 673.1h0M1139.3 673.4h0M1139.0 677.1h0M946.2 661.7h0M1113.9 625.6h0M1060.9 721.8h0M1035.5 692.1h0M1035.6 691.3h0M1035.0 691.7h0M948.6 675.5h0M1136.2 651.9h0M952.1 764.4h0M951.2 763.8h0M936.9 649.3h0M934.9 649.7h0M936.7 647.8h0M937.5 648.1h0M938.4 649.6h0M936.4 648.2h0M939.4 650.1h0M937.4 648.9h0M949.9 714.3h0M951.1 713.3h0M1023.8 710.0h0M1025.2 707.9h0M1024.8 710.7h0M1000.2 712.1h0M1015.1 708.4h0M1027.6 695.2h0M989.7 720.9h0M992.0 721.3h0M989.3 719.4h0M1024.3 729.5h0M949.0 734.0h0M950.8 730.2h0M951.0 732.8h0M1002.5 619.8h0M1003.7 620.0h0M1001.1 621.5h0M1002.2 620.4h0M1001.7 622.5h0M1001.4 620.1h0M970.9 685.8h0M892.8 683.8h0M1022.0 743.6h0M1023.0 744.9h0M985.9 688.0h0M981.5 686.7h0M982.3 687.1h0M1085.8 737.3h0M965.3 752.5h0M966.9 751.4h0M978.4 681.4h0M978.3 680.2h0M978.9 681.5h0M978.8 681.4h0M966.7 734.3h0M1024.6 721.1h0M1026.2 723.2h0M1026.1 720.4h0M1025.5 722.3h0M1026.2 720.7h0M1057.4 709.7h0M1058.5 708.6h0M1119.1 668.8h0M1119.1 666.8h0M989.8 795.2h0M988.4 794.6h0M988.5 793.9h0M989.0 795.7h0M988.4 795.5h0M1071.8 726.3h0M1071.2 726.2h0M1138.4 690.4h0M1137.4 691.8h0M1138.7 690.4h0M1071.3 634.8h0M1071.6 635.2h0M1046.4 649.1h0M1047.1 644.0h0M1047.4 647.4h0M1045.2 650.0h0M1047.1 646.7h0M1045.5 649.6h0M968.3 668.9h0M1046.0 695.3h0M1046.2 695.3h0M1014.6 724.9h0M1013.3 725.2h0M1013.6 725.1h0M1007.0 693.4h0M1008.3 694.7h0M1009.6 693.6h0M1032.6 663.9h0M1030.4 666.0h0M1030.5 663.9h0M1031.0 663.4h0M1029.5 666.8h0M1035.3 664.1h0M995.7 626.3h0M994.2 626.4h0M1040.3 693.7h0M1038.8 693.8h0M1041.4 694.2h0M1042.5 693.7h0M1041.0 693.6h0M996.3 680.8h0M897.0 675.1h0M1031.8 614.9h0M1002.1 697.1h0M1018.4 742.6h0M1048.1 687.9h0M1050.8 686.7h0M1050.0 685.8h0M1050.0 686.8h0M1025.8 705.6h0M993.5 620.7h0M938.4 685.7h0M936.7 682.8h0M937.4 686.3h0M940.7 690.9h0M937.8 685.3h0M938.9 686.0h0M938.7 689.3h0M961.5 753.3h0M958.7 754.4h0M958.0 755.3h0M957.7 748.4h0M1029.3 645.1h0M1028.2 648.9h0M1025.8 645.4h0M1028.1 646.8h0M1027.2 645.6h0M1068.9 657.1h0M1002.3 725.0h0M1003.7 724.6h0M1005.3 723.4h0M1003.4 725.3h0M1002.4 723.8h0M1127.0 669.3h0M1122.9 670.6h0M1120.8 667.0h0M1094.9 670.4h0M1002.7 755.6h0M1005.5 756.9h0M1003.7 754.8h0M1005.2 757.7h0M1003.6 714.7h0M1002.6 715.3h0M1047.4 676.8h0M1048.2 676.7h0M1050.3 676.6h0M1047.6 676.5h0M1050.1 677.1h0M1047.4 678.7h0M1048.1 677.4h0M1014.0 755.6h0M1013.9 756.1h0M1014.0 756.3h0M1012.2 755.9h0M1092.5 726.9h0M976.7 773.7h0M976.4 619.8h0M1020.7 719.5h0M1021.8 721.1h0M1020.2 717.2h0M1067.4 641.4h0M1070.7 639.4h0M1007.2 639.8h0M1006.9 639.8h0M1008.8 642.0h0M878.8 648.2h0M1020.8 622.0h0M1004.9 647.7h0M1025.6 763.1h0M989.5 644.4h0M987.1 644.2h0M992.8 643.9h0M986.7 644.8h0M991.0 646.3h0M1033.7 638.4h0M1035.5 638.7h0M1033.8 638.9h0M987.4 771.7h0M989.5 770.1h0M989.0 767.1h0M1041.7 658.5h0M1041.5 659.0h0M1042.5 655.8h0M1041.9 656.8h0M1043.9 656.6h0M1042.6 656.7h0M1042.0 656.5h0M987.5 741.3h0M989.9 739.6h0M984.1 596.7h0M986.4 592.2h0M982.5 597.8h0M986.6 591.4h0M944.0 746.4h0M985.7 646.2h0M984.0 645.0h0M988.8 646.7h0M989.2 646.2h0M1067.7 628.9h0M1063.5 628.0h0M1064.5 628.4h0M1062.8 628.5h0M990.1 698.8h0M990.9 697.8h0M989.2 701.1h0M1137.4 681.1h0M1138.1 680.7h0M1137.4 681.3h0M953.2 608.2h0M956.7 609.6h0M978.4 651.7h0M1024.4 762.0h0M1026.7 763.9h0M1102.5 678.1h0M1100.2 676.1h0M1100.8 677.0h0M1100.8 676.3h0M1049.7 684.7h0M1049.1 686.8h0M1049.6 684.1h0M1048.6 684.7h0M945.4 671.3h0M946.7 672.0h0M921.5 619.3h0M1069.8 731.4h0M1069.7 732.0h0M1069.0 731.6h0M1069.9 732.0h0M1000.4 784.4h0M997.6 784.5h0M999.7 784.5h0M1005.6 680.3h0M1006.2 680.7h0M1003.9 682.9h0M983.8 741.5h0M987.9 743.7h0M1007.6 734.0h0M1005.2 732.2h0M1001.0 736.5h0M1004.7 733.1h0M996.9 703.8h0M960.0 739.0h0M1014.5 756.7h0M1016.4 758.0h0M1019.5 760.1h0M999.5 643.5h0M987.9 717.2h0M989.1 716.9h0M972.2 611.1h0M985.2 755.2h0M983.3 755.2h0M978.3 754.3h0M977.7 753.8h0M1015.5 639.6h0M1017.5 638.7h0M1017.2 640.1h0M1014.5 641.8h0M1054.0 681.4h0M951.9 694.9h0M958.3 699.5h0M1010.7 633.7h0M1012.2 634.5h0M1012.1 636.3h0M1012.2 635.4h0M1012.5 635.7h0M1005.0 615.1h0M1002.7 612.7h0M997.0 614.4h0M998.0 614.4h0M1000.0 615.9h0M1002.8 749.9h0M1005.3 750.8h0M1002.6 749.1h0M1004.3 750.4h0M902.6 703.4h0M901.4 704.9h0M903.3 703.9h0M901.9 704.4h0M901.5 703.5h0M901.7 704.2h0M978.2 712.5h0M978.3 709.6h0M978.2 711.4h0M963.7 762.1h0M991.9 648.4h0M991.9 658.1h0M992.5 658.4h0M919.7 690.8h0M988.1 593.4h0M987.7 593.4h0M989.3 592.4h0M989.7 592.6h0M989.9 593.0h0M1002.4 676.9h0M1138.3 694.3h0M1011.4 672.2h0M1008.2 670.8h0M1008.8 671.6h0M1031.5 647.6h0M1032.2 647.4h0M1026.9 719.6h0M1025.8 719.7h0M1025.9 719.3h0M1025.1 717.7h0M1025.6 716.1h0M1026.1 717.9h0M1038.2 670.6h0M1039.6 670.0h0M968.6 680.9h0M966.0 678.9h0M1142.5 672.7h0M1138.1 673.2h0M1140.2 672.2h0M1138.6 671.5h0M1134.6 672.0h0M1135.8 673.1h0M1138.0 697.4h0M1136.3 694.8h0M1135.6 693.9h0M1063.1 693.0h0M1053.5 669.5h0M1052.3 667.2h0M990.7 712.0h0M1014.8 697.7h0M952.2 704.5h0M952.9 707.1h0M986.6 763.8h0M987.3 763.8h0M987.2 762.9h0M988.8 763.6h0M1032.0 608.8h0M1051.4 660.7h0M1057.5 663.6h0M972.3 732.8h0M973.8 731.2h0M971.1 732.5h0M1132.3 668.1h0M1043.0 668.2h0M1037.2 665.8h0M1108.2 670.7h0M1107.3 670.7h0M1109.0 672.9h0M1108.1 669.9h0M1108.7 670.6h0M1108.5 672.0h0M1013.8 633.1h0M963.8 709.8h0M965.0 709.9h0M963.6 711.1h0M964.5 710.0h0M964.8 710.6h0M973.7 774.4h0M1112.0 667.5h0M1115.1 667.1h0M1111.0 666.3h0M1116.5 668.8h0M1118.7 665.2h0M1019.4 611.7h0M1020.8 611.4h0M1017.9 612.0h0M1017.4 612.2h0M1019.0 613.1h0M1019.1 611.2h0M987.8 596.2h0M989.5 595.2h0M989.4 595.8h0M1084.5 675.2h0M1040.5 618.3h0M1065.1 680.5h0M964.6 628.7h0M1095.6 659.6h0M1096.4 659.2h0M980.9 761.4h0M1083.7 667.4h0M1084.0 664.4h0M963.1 710.8h0M987.9 796.9h0M984.7 797.9h0M988.1 797.6h0M1076.9 662.6h0M1076.8 661.3h0M1079.0 662.2h0M1078.4 661.2h0M1039.3 667.0h0M1040.4 665.7h0M1038.2 667.2h0M1039.3 665.5h0M1040.2 667.3h0M1039.2 667.3h0M1040.3 665.8h0M1039.9 665.7h0M951.2 698.4h0M1116.6 646.8h0M1130.0 701.7h0M1131.3 702.8h0M996.3 717.5h0M941.7 720.8h0M1097.7 710.9h0M975.5 688.8h0M973.0 687.1h0M973.3 688.8h0M972.8 686.0h0M1090.6 673.6h0M1088.3 675.0h0M997.1 731.6h0M997.3 730.6h0M996.6 731.9h0M998.4 732.8h0M997.2 732.0h0M982.4 721.9h0M984.6 725.9h0M984.5 719.6h0M1003.6 678.4h0M1000.6 679.6h0M1003.4 678.8h0M998.2 679.9h0M1004.0 678.3h0M983.6 769.4h0M984.3 710.4h0M985.4 711.9h0M962.9 739.0h0M962.2 732.7h0M979.3 585.0h0M1034.1 630.1h0M977.7 670.8h0M979.4 668.2h0M1060.7 662.9h0M1062.8 659.2h0M1063.0 660.3h0M1094.2 666.3h0M1093.2 669.4h0M998.5 766.6h0M1022.0 618.5h0M1022.1 619.0h0M1019.4 617.6h0M1002.2 771.5h0M999.8 772.2h0M998.9 771.6h0M1060.5 684.7h0M1012.2 606.9h0M1012.7 608.0h0M1017.3 716.4h0M989.6 690.4h0M988.6 688.2h0M987.6 688.4h0M988.0 688.4h0M955.0 670.8h0M955.8 673.2h0M955.4 673.0h0M956.0 671.9h0M956.7 675.0h0M994.7 698.1h0M992.9 699.3h0M1000.2 695.8h0M1001.1 699.3h0M915.4 618.2h0M1024.9 703.2h0M982.4 776.4h0M982.1 776.1h0M885.3 696.8h0M1020.1 654.9h0M986.4 758.6h0M988.4 755.2h0M988.9 753.6h0M987.0 757.7h0M1039.9 737.7h0M1018.7 635.8h0M1020.1 635.2h0M1076.9 694.7h0M1008.1 743.2h0M1011.5 743.0h0M1006.1 742.9h0M986.5 681.5h0M949.9 673.6h0M955.1 671.9h0M954.6 670.8h0M954.0 669.4h0M950.4 673.5h0M952.8 671.4h0M1124.5 655.2h0M974.7 680.5h0M971.5 743.9h0M970.8 742.5h0M970.4 746.8h0M972.8 746.0h0M1022.3 639.5h0M1020.9 639.7h0M1022.6 642.4h0M1023.1 642.1h0M1035.5 668.6h0M939.7 647.3h0M939.2 646.4h0M939.1 647.1h0M938.1 644.6h0M1019.9 703.6h0M981.0 664.9h0M981.3 665.5h0M1015.6 730.4h0M1017.0 730.8h0M1015.6 730.8h0M1007.6 629.4h0M1008.7 629.2h0M1009.6 625.4h0M1008.5 627.6h0M1017.3 659.6h0M960.1 633.1h0M962.1 633.5h0M948.2 717.0h0M946.2 719.1h0M947.4 716.2h0M948.5 712.9h0M961.7 581.8h0M950.4 662.3h0M1022.7 627.1h0M1023.3 625.4h0M1042.4 635.4h0M1045.6 635.5h0M1046.2 636.7h0M1049.9 638.2h0M1139.3 662.8h0M1138.8 664.3h0M1137.8 663.9h0M1138.7 663.3h0M1140.5 666.2h0M894.3 685.8h0M937.6 616.8h0M938.9 614.9h0M993.5 624.0h0M995.6 624.4h0M993.2 622.1h0M993.7 622.3h0M998.7 626.7h0M1006.7 624.8h0M1024.2 737.3h0M1023.5 738.0h0M960.4 679.7h0M958.5 678.6h0M956.5 676.3h0M963.6 682.5h0M958.4 677.4h0M936.8 613.3h0M938.2 611.7h0M937.2 610.1h0M936.3 648.5h0M933.3 649.2h0M949.0 664.0h0M953.3 663.3h0M995.8 681.2h0M1013.9 644.3h0M1107.2 682.5h0M1111.0 680.6h0M1025.9 702.9h0M984.8 590.8h0M984.0 590.6h0M985.5 591.4h0M983.2 589.7h0M983.8 587.6h0M1024.9 659.4h0M1021.3 663.3h0M911.0 616.2h0M910.9 617.7h0M911.4 615.0h0M992.9 649.7h0M998.6 649.8h0M993.9 649.7h0M1006.7 666.9h0M1025.0 734.5h0M1002.4 648.0h0M985.2 662.9h0M981.2 721.0h0M981.1 721.6h0M1071.7 669.2h0M1069.5 668.5h0M1070.0 668.9h0M1036.6 707.3h0M1058.8 633.4h0M1054.2 630.9h0M1028.4 677.8h0M1029.2 676.9h0M957.3 663.3h0M981.1 591.7h0M981.3 590.1h0M1026.7 675.9h0M1026.8 676.1h0M1027.3 672.4h0M1026.5 673.6h0M1026.8 673.4h0M1028.4 674.3h0M1026.5 675.3h0M979.7 792.1h0M898.3 652.1h0M900.0 655.3h0M897.9 651.2h0M899.2 653.2h0M1114.0 659.8h0M990.9 788.1h0M988.4 783.4h0M963.5 658.7h0M1023.5 651.5h0M1032.5 658.1h0M1025.3 651.3h0M1027.7 653.6h0M1029.4 657.2h0M953.9 650.3h0M953.5 651.7h0M956.1 650.0h0M954.8 650.4h0M954.9 649.5h0M954.2 650.5h0M1014.8 673.1h0M1013.8 673.2h0M1136.8 646.1h0M1009.5 625.8h0M994.3 645.7h0M998.4 737.0h0M997.3 735.7h0M1015.0 706.3h0M1066.5 671.6h0M1067.3 670.9h0M1066.2 669.2h0M1067.1 672.8h0M1065.0 670.6h0M934.0 674.8h0M934.8 674.4h0M931.9 671.8h0M934.0 672.0h0M994.4 796.9h0M994.0 799.6h0M996.2 799.6h0M986.3 677.9h0M1116.2 670.1h0M1112.3 670.7h0M979.3 633.6h0M978.5 635.1h0M979.0 636.6h0M1012.1 661.7h0M987.5 707.2h0M983.1 707.2h0M934.9 708.6h0M935.3 709.1h0M975.6 748.2h0M975.1 749.9h0M986.9 794.4h0M959.0 649.0h0M958.9 650.4h0M957.4 648.0h0M957.8 651.9h0M957.5 654.0h0M957.9 653.2h0M1029.0 678.0h0M947.7 636.7h0M948.5 633.3h0M947.6 635.9h0M980.6 617.8h0M986.4 633.9h0M1011.6 738.2h0M1009.9 738.0h0M1011.8 737.2h0M873.3 692.5h0M1093.4 646.3h0M1095.5 646.9h0M1091.9 645.1h0M1096.6 647.0h0M1090.3 644.8h0M965.9 623.0h0M990.6 636.4h0M993.5 636.3h0M990.7 635.3h0M993.5 636.7h0M990.0 635.2h0M993.1 636.4h0M1041.5 709.9h0M1076.6 671.5h0M1076.7 670.3h0M1077.6 671.6h0M973.0 598.4h0M1034.4 659.0h0M1034.0 659.1h0M1087.1 678.1h0M1082.1 677.5h0M1086.7 677.0h0M1084.4 677.3h0M972.2 663.7h0M1040.0 694.8h0M1036.7 698.2h0M1117.8 704.1h0M1121.1 703.9h0M1119.4 703.8h0M1120.7 703.9h0M1121.1 701.4h0M1120.9 701.4h0M1128.3 691.1h0M952.9 692.7h0M953.0 695.5h0M953.2 693.6h0M1045.3 706.0h0M1054.3 677.9h0M1054.3 678.7h0M947.7 665.1h0M948.5 663.8h0M947.8 663.2h0M1133.5 699.8h0M1133.2 699.1h0M1133.6 699.6h0M1133.5 699.7h0M1134.3 700.1h0M958.8 694.6h0M956.1 697.4h0M923.1 641.1h0M1024.9 700.7h0M1028.0 699.2h0M957.1 698.9h0M957.3 698.8h0M947.3 689.7h0M944.7 661.2h0M945.4 659.6h0M1017.8 647.7h0M968.1 727.2h0M964.0 729.0h0M966.3 726.9h0M966.9 725.3h0M1010.4 612.7h0M1026.7 724.7h0M1087.7 671.8h0M953.2 648.9h0M953.0 650.4h0M954.6 649.3h0M953.6 648.8h0M952.9 650.5h0M963.9 727.3h0M963.9 723.5h0M963.8 723.4h0M965.2 725.6h0M1112.3 680.3h0M1114.3 684.0h0M1115.5 681.8h0M1113.1 681.9h0M1116.7 682.5h0M1013.9 751.4h0M1013.6 751.2h0M1017.4 756.6h0M1033.0 742.8h0M957.1 670.9h0M956.1 672.3h0M957.6 669.4h0M972.9 655.6h0M976.2 653.4h0M977.2 651.5h0M979.2 653.8h0M975.2 654.2h0M909.1 699.1h0M911.0 703.6h0M910.1 700.8h0M1102.0 624.9h0M1103.1 626.4h0M1102.4 624.6h0M1018.5 590.8h0M1017.8 592.1h0M1015.7 591.1h0M1018.6 592.4h0M1017.9 591.9h0M1016.6 593.8h0M1018.9 590.3h0M997.8 716.9h0M1001.1 720.6h0M998.2 717.8h0M999.3 718.4h0M1072.2 625.8h0M1070.6 624.9h0M1071.2 625.9h0M999.7 654.0h0M1123.2 679.5h0M977.1 769.5h0M1055.5 661.8h0M1057.2 661.4h0M939.7 721.2h0M939.4 721.0h0M939.8 721.8h0M1014.7 608.1h0M1071.2 622.9h0M1069.8 623.4h0M1071.9 623.3h0M1072.6 621.3h0M1072.2 624.0h0M1065.8 664.8h0M1061.2 664.7h0M1063.2 666.8h0M1017.8 600.6h0M1025.1 736.1h0M1019.1 701.3h0M1018.5 666.7h0M1018.4 665.5h0M1017.3 665.0h0M1019.5 666.2h0M995.3 656.4h0M994.3 656.2h0M1014.3 634.8h0M989.0 709.9h0M1018.9 666.8h0M1022.9 667.4h0M1017.5 663.5h0M976.4 631.9h0M976.0 631.7h0M973.5 720.4h0M969.4 721.2h0M969.0 718.7h0M973.2 633.7h0M1014.2 732.4h0M1010.7 727.0h0M1086.5 741.7h0M1085.5 743.2h0M1085.5 742.9h0M1048.1 656.7h0M1047.6 656.7h0M1031.4 704.9h0M1030.1 704.4h0M1028.8 704.0h0M981.8 699.0h0M975.5 735.0h0M975.2 736.2h0M975.7 729.8h0M976.1 739.9h0M1034.6 693.2h0M1036.8 689.6h0M1053.6 681.5h0M1002.0 624.0h0M1001.4 626.1h0M1001.8 625.5h0M1000.2 627.3h0M1003.5 627.6h0M1102.5 681.9h0M1102.7 678.0h0M1102.7 684.2h0M1024.5 708.6h0M1022.8 706.5h0M1023.2 706.7h0M1058.8 632.8h0M1061.4 627.6h0M1061.1 628.4h0M1114.6 718.9h0M1111.7 719.5h0M1112.2 719.2h0M1111.6 721.7h0M1113.2 719.5h0M1113.5 718.8h0M997.9 754.2h0M997.6 753.1h0M1060.6 708.8h0M1057.0 709.4h0M1004.2 729.7h0M1004.6 729.3h0M1004.4 729.8h0M1005.3 729.0h0M1005.9 727.7h0M1004.5 728.7h0M1099.2 702.0h0M1101.0 701.8h0M1103.1 700.5h0M1101.6 700.9h0M946.8 751.1h0M1021.6 663.9h0M962.2 710.7h0M964.9 709.9h0M1013.6 676.6h0M1013.9 669.3h0M1066.0 699.0h0M1064.1 722.5h0M1062.6 723.0h0M1062.4 722.1h0M1063.4 722.3h0M1061.4 724.4h0M1058.1 724.2h0M1071.0 626.7h0M984.7 784.4h0M1003.7 753.8h0M1003.2 752.6h0M1115.1 651.5h0M1111.5 652.4h0M1112.8 651.7h0M1117.9 647.2h0M1099.7 673.3h0M1022.9 608.5h0M1020.4 609.6h0M982.1 686.2h0M979.7 687.4h0M966.9 664.2h0M965.2 665.4h0M964.5 664.5h0M1015.5 717.4h0M1002.4 752.3h0M970.2 633.1h0M941.5 690.2h0M942.5 691.3h0M942.9 690.3h0M1116.3 658.2h0M1117.0 658.9h0M1115.2 658.7h0M1060.9 646.1h0M983.0 688.4h0M982.8 688.6h0M1002.9 667.9h0M1033.1 700.2h0M1035.1 695.5h0M1033.3 698.7h0M1014.7 612.2h0M1007.3 600.0h0M994.0 700.8h0M994.8 702.4h0M943.6 666.4h0M947.1 663.6h0M946.0 665.2h0M944.1 664.4h0M945.3 664.6h0M945.4 666.5h0M945.1 665.1h0M995.5 728.0h0M996.2 726.1h0M996.4 726.4h0M997.3 727.3h0M998.6 726.5h0M997.1 727.5h0M1025.4 714.7h0M1027.3 714.8h0M1025.3 714.8h0M1049.5 653.5h0M1047.0 655.4h0M1047.0 653.0h0M1037.6 772.9h0M1038.5 769.4h0M992.0 613.4h0M866.7 638.7h0M865.2 640.7h0M961.8 638.9h0M961.5 639.4h0M961.9 639.3h0M969.2 706.6h0M968.1 704.6h0M997.3 593.1h0M995.8 593.4h0M1023.8 673.8h0M1025.4 672.0h0M1027.6 668.5h0M1022.9 673.1h0M940.0 757.8h0M942.1 756.1h0M939.3 759.8h0M940.0 759.3h0M939.6 759.4h0M940.3 758.6h0" stroke="rgb(65,189,114)" stroke-width="1.5" stroke-linecap="round" fill="none" stroke-opacity="0.82"/><path d="M973.9 755.9h0M974.8 755.1h0M975.3 751.0h0M996.8 608.8h0M996.8 609.3h0M1071.5 685.3h0M1005.9 696.9h0M1001.4 628.5h0M1001.5 629.2h0M1138.6 674.9h0M958.3 606.4h0M959.5 603.6h0M978.0 692.4h0M941.0 641.9h0M942.1 640.7h0M1063.2 724.1h0M1061.5 722.6h0M1061.4 724.4h0M1060.4 719.6h0M1062.0 721.9h0M1062.6 721.9h0M991.2 702.5h0M1044.2 762.4h0M944.2 658.0h0M994.1 621.6h0M950.7 674.3h0M1135.8 651.2h0M1136.6 651.4h0M1136.1 652.0h0M982.8 685.5h0M983.9 685.7h0M980.6 684.3h0M981.2 684.9h0M950.3 712.4h0M950.6 713.8h0M948.4 713.0h0M1027.7 695.3h0M1025.5 694.0h0M1028.2 695.4h0M1027.6 694.5h0M1029.8 693.6h0M950.1 731.4h0M952.4 730.4h0M1002.7 619.3h0M920.9 632.8h0M918.5 630.5h0M1015.8 670.9h0M1056.7 693.4h0M1056.1 693.8h0M1055.9 696.6h0M1054.9 694.4h0M1056.0 692.1h0M1056.4 694.0h0M957.4 673.5h0M958.3 674.5h0M960.9 672.1h0M961.0 674.2h0M982.7 687.5h0M1026.2 720.3h0M1026.3 720.4h0M998.1 699.1h0M1058.4 713.6h0M1057.5 712.9h0M1057.2 707.5h0M1058.7 711.4h0M1058.4 711.4h0M1119.5 667.3h0M1121.7 664.1h0M1119.9 667.2h0M1120.8 666.3h0M1121.9 665.0h0M1137.7 690.3h0M1136.4 692.5h0M1136.7 691.5h0M1138.3 690.2h0M1072.8 634.2h0M1072.0 632.8h0M1070.4 635.6h0M1071.2 634.2h0M1046.6 649.4h0M1045.8 695.8h0M1047.0 694.7h0M1046.1 695.9h0M1047.1 695.3h0M1044.8 695.7h0M1045.1 695.3h0M1016.9 723.6h0M1013.0 726.5h0M1008.9 691.9h0M1029.5 664.2h0M1027.8 665.7h0M954.0 686.7h0M1042.0 693.3h0M1040.1 693.9h0M1039.1 693.8h0M999.6 697.5h0M1001.8 698.0h0M1017.6 740.3h0M1018.0 741.3h0M1018.5 742.1h0M1019.3 745.3h0M1017.5 742.8h0M986.1 575.9h0M1051.2 684.1h0M1050.2 685.9h0M1034.0 614.6h0M1033.9 618.0h0M1027.6 705.5h0M1026.3 707.2h0M1028.6 703.3h0M1026.9 707.0h0M968.9 583.9h0M941.2 689.1h0M960.9 751.0h0M957.9 753.4h0M957.1 756.0h0M956.3 756.7h0M957.7 753.0h0M1028.3 647.1h0M1067.2 656.2h0M1067.7 657.6h0M1064.3 654.6h0M1000.8 726.8h0M1006.5 756.6h0M1008.6 756.9h0M1002.5 756.8h0M1004.0 714.9h0M1003.6 713.3h0M1004.4 715.1h0M1004.8 714.6h0M1036.5 673.0h0M1035.4 674.1h0M940.7 609.9h0M940.3 608.9h0M1050.0 677.2h0M989.4 717.4h0M992.1 718.7h0M989.3 717.1h0M991.7 717.9h0M950.4 648.6h0M951.3 649.0h0M952.7 648.4h0M954.0 650.8h0M949.5 648.0h0M998.0 675.4h0M997.0 676.4h0M1009.3 757.8h0M1090.4 727.4h0M1091.4 726.3h0M1090.5 728.0h0M1090.7 726.9h0M974.4 615.2h0M975.9 620.1h0M975.7 618.3h0M975.7 615.9h0M1070.3 640.4h0M1069.4 640.3h0M1068.8 640.3h0M1070.1 639.5h0M976.7 623.5h0M976.7 624.5h0M944.2 653.6h0M988.6 740.7h0M988.7 741.7h0M988.1 741.0h0M986.7 739.4h0M989.8 743.5h0M996.4 707.1h0M985.0 593.1h0M985.7 593.4h0M1031.4 636.8h0M1031.8 636.2h0M946.6 740.7h0M944.9 739.8h0M944.4 738.1h0M946.0 737.2h0M945.0 741.9h0M945.1 742.6h0M948.6 735.8h0M1070.2 656.3h0M1070.0 659.6h0M1069.4 655.1h0M1071.2 657.8h0M1072.3 657.9h0M990.5 698.2h0M990.4 696.3h0M991.3 695.2h0M989.7 696.6h0M991.1 695.4h0M1004.1 684.6h0M984.7 702.5h0M1016.5 622.8h0M1015.7 621.5h0M989.7 699.4h0M1137.3 682.3h0M1137.7 682.6h0M955.1 609.2h0M959.3 610.4h0M956.6 609.0h0M978.8 651.9h0M976.8 653.9h0M976.5 653.1h0M978.6 651.2h0M979.4 652.0h0M1048.9 685.0h0M1050.2 684.8h0M1049.1 685.0h0M946.9 673.6h0M937.9 667.6h0M938.7 670.4h0M940.4 670.4h0M942.6 669.8h0M998.2 783.8h0M1004.9 682.8h0M1005.0 682.5h0M1006.0 679.1h0M1005.2 681.2h0M1005.4 681.4h0M1004.5 683.4h0M986.8 743.6h0M985.1 742.9h0M986.9 745.9h0M1003.5 733.3h0M1003.1 733.9h0M1003.0 732.4h0M1030.6 657.2h0M1032.0 654.0h0M998.2 703.8h0M1001.7 712.1h0M936.5 644.2h0M935.4 643.6h0M934.7 645.3h0M939.6 641.4h0M934.6 644.7h0M938.9 643.7h0M982.3 753.4h0M978.9 755.7h0M977.0 753.5h0M981.5 752.9h0M1013.4 642.4h0M1056.0 680.8h0M1057.2 678.1h0M1055.5 678.9h0M1057.6 676.6h0M1056.3 678.9h0M1055.6 679.7h0M1022.5 607.9h0M1022.9 609.4h0M1002.7 750.9h0M902.6 706.9h0M978.7 709.3h0M978.5 714.7h0M978.2 713.5h0M1051.8 675.3h0M1050.9 640.8h0M1051.1 639.6h0M1031.2 712.2h0M1031.3 712.0h0M1030.3 711.0h0M1031.7 711.6h0M1062.5 672.8h0M1057.5 671.9h0M920.5 688.4h0M920.6 688.3h0M1136.9 688.9h0M1137.7 689.0h0M959.0 694.4h0M1018.9 669.1h0M1016.3 672.1h0M1032.3 647.2h0M1136.1 672.9h0M1141.4 672.9h0M1135.5 673.0h0M1022.6 744.0h0M1028.8 748.6h0M1135.4 696.0h0M973.4 642.4h0M973.2 641.6h0M973.0 639.7h0M971.9 634.1h0M991.9 708.6h0M981.1 756.9h0M979.7 757.4h0M981.3 757.9h0M982.1 761.3h0M988.3 762.9h0M984.7 760.8h0M988.0 763.5h0M944.4 641.1h0M1009.3 727.6h0M1012.9 728.7h0M1010.3 727.2h0M1008.7 726.7h0M1013.0 728.0h0M1014.0 727.9h0M1040.2 628.7h0M1044.6 627.5h0M1041.9 628.1h0M1043.9 629.0h0M1041.4 630.1h0M1040.1 628.5h0M1035.8 664.6h0M1034.8 664.6h0M1041.8 666.4h0M1040.7 666.9h0M1040.1 666.9h0M975.2 671.3h0M975.0 671.0h0M975.7 671.6h0M1108.3 672.2h0M1108.0 671.8h0M1108.0 671.3h0M964.4 710.3h0M1114.9 664.6h0M1113.6 667.7h0M1115.7 665.9h0M1116.4 665.6h0M1020.5 611.0h0M1018.7 613.1h0M1019.6 611.8h0M1007.6 755.5h0M1007.4 755.7h0M1008.0 755.5h0M1006.2 755.9h0M951.4 751.0h0M951.4 751.1h0M952.4 750.1h0M951.2 752.3h0M995.4 714.7h0M995.5 713.8h0M995.3 714.3h0M993.9 714.3h0M972.1 653.6h0M972.5 657.4h0M972.6 656.0h0M970.6 656.6h0M971.6 656.6h0M1006.2 750.7h0M1003.4 752.3h0M1006.3 749.9h0M989.5 688.8h0M990.5 690.0h0M990.0 689.8h0M989.9 688.5h0M1055.8 667.4h0M1041.4 617.4h0M1038.0 618.3h0M1038.9 618.0h0M982.4 763.8h0M980.6 758.1h0M983.8 765.5h0M980.0 759.1h0M980.7 759.7h0M982.3 761.4h0M961.8 710.6h0M962.9 709.5h0M964.9 706.5h0M987.3 796.7h0M1039.9 667.5h0M968.9 662.9h0M971.8 660.8h0M951.1 699.1h0M951.4 697.4h0M976.5 720.3h0M976.6 720.4h0M1034.5 679.7h0M1015.2 624.3h0M940.7 718.8h0M971.9 686.0h0M972.3 685.4h0M1090.4 674.1h0M1092.2 672.5h0M999.1 733.5h0M983.8 733.1h0M985.0 726.2h0M984.5 726.1h0M961.0 736.2h0M962.3 737.0h0M961.7 734.7h0M1045.6 682.9h0M1044.9 684.2h0M1045.3 682.8h0M1044.5 683.2h0M1034.3 628.2h0M1035.0 626.5h0M1036.0 628.1h0M1036.6 627.8h0M979.1 668.7h0M999.2 712.8h0M1011.1 607.2h0M1009.4 606.3h0M1009.7 607.0h0M1013.3 609.1h0M988.8 688.4h0M989.9 688.7h0M988.7 690.4h0M951.0 667.9h0M994.7 694.3h0M995.3 696.7h0M1003.4 699.2h0M1001.3 697.8h0M1003.6 719.1h0M1004.0 717.1h0M1003.9 717.4h0M1005.7 717.9h0M1002.6 719.3h0M1003.7 717.9h0M1001.6 719.8h0M1065.5 712.5h0M1022.3 654.3h0M1020.3 655.0h0M1018.3 653.6h0M988.8 756.7h0M1087.8 648.8h0M993.5 745.4h0M1020.2 724.1h0M1040.2 739.9h0M1040.1 739.1h0M1039.3 738.1h0M1040.1 739.4h0M1041.7 738.1h0M1038.4 737.6h0M1012.5 742.9h0M984.3 683.2h0M983.9 683.9h0M983.8 685.5h0M987.2 681.9h0M953.2 670.5h0M1124.5 654.9h0M1028.0 626.7h0M968.5 744.8h0M970.8 745.1h0M969.1 745.4h0M1014.8 660.1h0M1013.7 660.4h0M1014.3 659.6h0M1017.5 658.5h0M1022.6 641.3h0M1021.8 640.0h0M1033.0 758.8h0M1033.4 760.1h0M1034.7 759.2h0M983.8 784.7h0M1034.0 657.7h0M1008.3 627.8h0M1015.4 661.4h0M959.9 631.5h0M963.7 580.4h0M964.7 581.4h0M965.4 581.5h0M966.6 581.1h0M960.9 580.5h0M950.7 663.9h0M949.2 662.0h0M951.2 662.5h0M952.7 661.1h0M950.2 660.8h0M951.6 662.0h0M951.9 665.4h0M1034.7 623.0h0M1044.5 636.9h0M1052.2 639.4h0M1051.5 639.7h0M904.3 650.2h0M901.7 650.3h0M900.6 650.4h0M1139.4 665.0h0M1141.0 665.9h0M993.4 728.2h0M991.6 729.7h0M994.7 730.2h0M894.1 684.8h0M996.0 624.6h0M999.5 623.4h0M1024.8 738.7h0M959.8 679.6h0M962.4 681.5h0M957.6 678.8h0M937.2 612.5h0M936.9 649.5h0M936.1 649.7h0M934.3 648.6h0M950.6 662.7h0M949.3 663.2h0M949.0 664.9h0M1019.7 645.0h0M997.1 680.5h0M995.7 680.6h0M997.8 676.8h0M993.8 678.8h0M995.7 677.9h0M1018.1 644.8h0M1016.0 645.3h0M1143.1 693.1h0M1141.6 692.7h0M1140.9 692.9h0M944.2 607.5h0M1024.7 704.2h0M1026.1 705.4h0M1025.1 704.0h0M1025.9 704.3h0M1025.0 704.0h0M985.2 590.0h0M986.4 593.2h0M982.8 589.8h0M1038.8 666.2h0M1038.9 665.5h0M1039.1 666.4h0M997.0 650.0h0M997.5 649.6h0M996.4 650.2h0M997.5 650.3h0M994.7 649.3h0M921.6 606.2h0M974.7 601.1h0M976.1 600.4h0M976.3 602.1h0M976.6 602.4h0M984.5 663.7h0M984.7 665.4h0M983.5 663.2h0M985.3 664.4h0M986.2 664.0h0M979.3 720.5h0M981.1 720.4h0M980.3 720.6h0M980.4 719.9h0M1069.4 667.6h0M1058.2 632.8h0M961.7 699.7h0M963.0 697.2h0M1028.9 680.6h0M1029.6 676.7h0M1028.1 679.0h0M981.6 589.1h0M981.1 592.5h0M979.3 589.3h0M980.7 591.2h0M980.4 789.3h0M982.5 784.5h0M980.9 788.8h0M899.4 655.2h0M958.0 673.3h0M956.8 674.0h0M955.0 673.6h0M959.7 673.8h0M956.6 674.5h0M955.3 674.4h0M956.3 675.0h0M1115.1 659.7h0M989.5 785.4h0M1118.7 640.8h0M1120.8 647.3h0M1121.1 644.5h0M963.2 658.8h0M962.6 657.0h0M963.9 656.1h0M964.2 656.5h0M963.5 656.5h0M962.7 658.9h0M1026.3 654.7h0M1030.3 656.3h0M992.9 666.4h0M998.3 665.0h0M1015.9 749.8h0M1017.2 749.0h0M1015.4 672.4h0M1011.8 672.4h0M997.7 735.2h0M1017.5 705.2h0M1017.5 706.6h0M1064.4 669.6h0M1064.7 669.7h0M933.7 670.3h0M934.1 671.4h0M995.2 800.7h0M989.2 678.7h0M987.3 676.4h0M989.4 681.1h0M994.7 702.1h0M1046.4 703.1h0M1045.7 703.1h0M1045.9 702.1h0M1044.7 705.1h0M1044.0 706.2h0M980.4 707.0h0M979.7 707.1h0M983.5 706.8h0M979.9 706.8h0M1005.7 639.9h0M1005.2 635.7h0M1006.0 638.1h0M935.2 708.9h0M936.5 711.4h0M957.7 734.3h0M958.0 735.7h0M958.9 735.5h0M959.2 733.8h0M987.7 794.0h0M958.5 654.3h0M960.0 652.1h0M959.6 651.5h0M954.5 769.0h0M954.0 770.3h0M1083.0 644.1h0M1084.1 646.5h0M1083.6 645.8h0M1084.5 644.4h0M1084.4 643.0h0M947.6 634.9h0M947.6 634.9h0M982.0 614.6h0M980.4 614.0h0M982.6 613.7h0M1016.4 666.2h0M938.0 602.7h0M1076.1 670.6h0M1074.3 669.7h0M1076.5 670.7h0M975.2 597.3h0M972.1 600.6h0M1033.7 657.9h0M1026.0 705.2h0M1028.2 705.3h0M1026.3 703.8h0M993.1 643.5h0M1038.1 696.7h0M1121.2 703.9h0M1118.5 703.9h0M952.2 693.4h0M953.0 695.8h0M954.7 693.7h0M952.6 692.0h0M1053.2 678.4h0M1052.6 678.0h0M1054.1 677.1h0M1053.6 679.1h0M1133.2 699.5h0M1026.1 664.7h0M1024.8 664.1h0M1024.3 704.1h0M1027.2 702.2h0M1025.9 702.4h0M1026.7 699.8h0M1026.4 699.2h0M1027.5 698.1h0M957.2 698.5h0M944.9 660.5h0M1016.7 649.0h0M1019.7 647.3h0M1018.3 648.2h0M1011.9 753.2h0M1012.5 751.4h0M1011.7 752.4h0M1018.9 757.2h0M1018.5 757.2h0M1015.4 756.8h0M955.7 671.7h0M957.9 670.8h0M1029.2 699.9h0M982.0 652.3h0M1021.1 720.4h0M1021.4 719.1h0M909.6 700.1h0M1031.2 747.4h0M1017.8 592.6h0M1001.4 720.3h0M999.5 718.8h0M1094.4 669.5h0M1072.0 625.4h0M1070.3 625.2h0M1071.7 626.1h0M1073.0 625.8h0M1070.7 623.7h0M981.7 756.8h0M980.5 759.2h0M978.9 758.5h0M1122.7 679.1h0M1119.4 679.4h0M1056.9 660.7h0M940.1 720.6h0M940.2 720.8h0M940.2 720.7h0M940.8 721.8h0M938.7 718.5h0M939.3 721.2h0M1010.3 598.5h0M930.0 622.0h0M931.1 620.6h0M1062.7 665.2h0M1062.4 666.6h0M1037.1 706.6h0M1036.4 705.8h0M1036.4 707.2h0M1038.2 708.5h0M1037.3 709.0h0M1037.1 708.0h0M1023.6 694.4h0M1025.9 694.7h0M1025.5 691.9h0M1008.4 663.5h0M993.3 653.6h0M993.2 657.8h0M1015.7 630.7h0M1070.9 658.9h0M1069.3 660.6h0M1069.3 661.9h0M1070.0 659.9h0M969.9 718.6h0M963.7 719.5h0M968.2 719.6h0M971.2 719.7h0M964.5 718.6h0M968.5 719.5h0M1047.4 657.3h0M1047.9 655.9h0M1048.0 657.2h0M1047.6 656.3h0M1029.1 703.7h0M972.7 763.7h0M976.0 735.9h0M978.1 741.0h0M975.8 730.3h0M975.3 733.2h0M1036.3 692.0h0M1036.0 693.2h0M1000.5 626.8h0M1023.4 706.8h0M989.1 742.8h0M988.0 743.1h0M1060.9 630.9h0M1001.3 753.6h0M999.3 753.1h0M1001.5 753.8h0M1059.5 709.7h0M1057.4 710.1h0M1056.4 710.8h0M1060.6 708.0h0M1005.9 726.5h0M1004.6 730.0h0M1006.2 727.3h0M1100.0 701.7h0M948.7 749.7h0M948.4 749.4h0M947.8 749.0h0M947.1 752.1h0M948.3 750.6h0M947.3 748.7h0M974.3 648.9h0M974.2 649.1h0M1020.4 660.9h0M1021.5 660.9h0M1020.6 654.9h0M971.5 723.0h0M967.5 718.9h0M969.1 721.7h0M1012.2 673.5h0M1010.9 670.7h0M1012.7 672.4h0M1035.0 703.5h0M1115.8 649.4h0M1112.9 650.8h0M1114.4 650.8h0M1022.3 609.4h0M1021.2 608.9h0M986.2 727.7h0M988.2 728.3h0M987.8 727.0h0M987.5 728.3h0M936.8 593.4h0M966.1 664.8h0M966.4 664.7h0M1017.9 717.9h0M1016.2 719.1h0M1017.8 716.8h0M1016.4 716.2h0M1018.0 715.8h0M1011.8 721.6h0M969.0 634.7h0M1059.9 645.9h0M1061.2 649.6h0M1060.7 645.7h0M1002.6 667.7h0M1003.2 668.9h0M1000.9 668.3h0M1001.7 668.3h0M998.4 667.5h0M999.6 667.7h0M994.7 701.4h0M944.1 666.1h0M945.9 664.0h0M995.4 726.4h0M1022.1 715.5h0M1045.0 655.6h0M1046.8 655.9h0M1048.5 653.7h0M1048.0 655.4h0M1006.7 708.0h0M1005.4 707.1h0M1007.5 705.9h0M1002.4 708.8h0M1027.5 737.2h0M1012.8 663.1h0M1057.3 631.0h0M1058.6 628.2h0M1037.9 772.4h0M1025.6 649.3h0M1027.4 649.3h0M995.4 706.9h0M992.7 708.0h0M1014.7 727.3h0M1012.3 727.4h0M1014.4 727.6h0M1013.3 727.0h0M1000.4 593.2h0M997.0 594.6h0M999.5 593.7h0M1005.1 678.0h0M1117.8 644.4h0M1122.1 644.2h0M1042.9 628.8h0M937.8 763.9h0M940.7 756.7h0M1009.9 710.0h0M1011.4 709.1h0M1012.0 709.3h0" stroke="rgb(105,203,91)" stroke-width="1.5" stroke-linecap="round" fill="none" stroke-opacity="0.82"/><path d="M974.1 752.1h0M972.7 748.5h0M975.5 756.6h0M973.3 750.9h0M998.8 608.2h0M1000.8 607.5h0M1001.2 629.1h0M999.9 630.2h0M1132.5 662.9h0M1133.3 663.7h0M1135.8 662.3h0M1132.7 662.4h0M1135.1 662.3h0M1132.9 662.9h0M1001.8 729.1h0M978.2 693.0h0M977.6 693.8h0M971.1 627.2h0M969.9 626.6h0M941.6 642.1h0M940.3 642.2h0M941.2 643.6h0M941.0 644.2h0M940.3 642.6h0M989.7 705.2h0M989.2 703.9h0M1044.4 759.6h0M1042.7 762.0h0M1036.6 741.4h0M1041.0 740.8h0M1039.2 740.9h0M1037.1 741.6h0M1031.6 740.7h0M988.3 760.2h0M992.5 755.3h0M993.2 755.6h0M944.3 659.5h0M944.3 657.9h0M944.6 658.4h0M944.6 657.0h0M983.9 685.9h0M982.6 684.5h0M985.0 685.8h0M982.5 686.2h0M981.8 685.1h0M1006.5 639.2h0M1009.1 638.9h0M1005.2 639.0h0M1005.2 641.0h0M1008.1 684.6h0M1010.9 681.1h0M979.2 746.8h0M977.4 744.9h0M1027.2 694.6h0M984.4 683.9h0M985.2 681.6h0M917.4 628.8h0M1015.3 669.3h0M1015.2 669.8h0M1008.0 751.1h0M1012.5 748.5h0M1055.9 694.0h0M1056.1 692.3h0M1057.7 694.2h0M960.2 673.7h0M898.3 710.2h0M1114.4 666.7h0M1121.0 664.7h0M991.5 661.3h0M987.0 667.6h0M993.3 656.3h0M993.4 656.7h0M996.1 656.5h0M1052.5 682.6h0M1027.5 657.3h0M1027.7 658.1h0M998.1 740.1h0M996.2 736.1h0M996.7 738.3h0M997.4 740.1h0M1047.6 710.7h0M1048.0 711.1h0M1047.4 710.6h0M1046.9 709.7h0M1048.8 711.0h0M1023.1 695.2h0M1033.7 686.4h0M1012.6 656.2h0M994.7 608.3h0M997.5 608.6h0M1049.3 626.0h0M952.6 688.4h0M954.6 687.2h0M956.5 686.9h0M988.0 632.0h0M985.0 575.6h0M986.7 576.2h0M987.7 575.7h0M985.9 576.2h0M988.0 576.0h0M979.3 658.4h0M976.9 657.8h0M1050.1 687.5h0M1033.2 616.9h0M973.6 580.1h0M973.2 581.8h0M1032.9 665.5h0M1033.7 664.8h0M1028.9 664.1h0M950.8 648.0h0M954.7 649.1h0M952.9 647.5h0M951.6 647.0h0M998.3 675.7h0M997.6 676.4h0M995.2 677.8h0M997.5 676.0h0M998.1 675.0h0M986.5 669.0h0M988.9 670.3h0M1092.2 726.4h0M1095.8 710.3h0M1096.0 710.3h0M981.3 731.9h0M981.2 734.9h0M976.2 619.3h0M977.5 621.7h0M977.6 618.7h0M984.5 797.9h0M1070.3 640.3h0M1068.2 639.6h0M1072.6 639.7h0M975.7 623.0h0M976.3 623.2h0M976.0 623.2h0M1020.3 644.3h0M986.2 714.0h0M986.1 712.1h0M985.8 714.6h0M985.2 712.3h0M986.5 714.7h0M1025.0 762.0h0M1025.4 759.6h0M1026.0 762.7h0M1023.6 758.0h0M1025.3 763.5h0M1025.6 759.1h0M946.4 652.0h0M945.1 651.6h0M959.5 758.8h0M958.3 758.6h0M958.9 759.8h0M960.0 756.9h0M1008.9 707.6h0M1006.7 706.1h0M1007.8 708.3h0M1029.0 633.6h0M1030.5 636.0h0M1033.3 638.2h0M1030.4 636.6h0M1031.9 637.9h0M1031.0 637.4h0M1031.9 635.9h0M1033.3 638.8h0M992.0 692.7h0M990.8 696.6h0M991.7 693.6h0M990.7 697.2h0M1002.3 686.8h0M1000.8 686.1h0M1004.9 685.2h0M983.3 703.3h0M985.3 701.4h0M985.5 702.3h0M1016.2 621.8h0M982.2 715.4h0M967.5 733.2h0M954.3 609.5h0M956.8 609.3h0M1005.4 688.6h0M1041.0 631.2h0M996.4 715.9h0M999.4 716.7h0M1000.4 715.3h0M998.4 716.0h0M996.7 716.2h0M997.4 716.7h0M996.8 716.4h0M1027.0 743.9h0M938.4 669.0h0M1010.6 674.1h0M1070.3 728.8h0M984.8 688.8h0M1032.1 657.9h0M998.5 704.2h0M995.7 702.2h0M998.1 702.8h0M1017.2 694.1h0M1015.5 694.2h0M1035.4 664.9h0M1010.0 641.1h0M986.6 679.6h0M1055.2 681.1h0M866.8 666.4h0M868.3 664.8h0M868.2 664.6h0M868.0 666.6h0M978.6 710.2h0M1014.4 670.0h0M1016.4 670.5h0M1017.3 667.5h0M1016.7 670.5h0M1017.1 670.1h0M1016.1 670.4h0M1014.6 683.9h0M1011.4 665.3h0M1012.8 663.2h0M1012.5 665.1h0M998.8 770.8h0M1001.2 772.1h0M1000.3 772.4h0M1057.9 672.4h0M991.7 643.1h0M993.8 640.0h0M1047.4 674.6h0M1136.3 691.1h0M1136.3 686.9h0M1137.5 689.6h0M960.8 695.2h0M962.9 693.9h0M1016.6 672.3h0M1016.4 672.1h0M1017.3 671.6h0M1117.2 658.4h0M1116.0 658.5h0M1046.5 650.1h0M1028.5 749.5h0M1030.5 750.9h0M1027.4 748.6h0M1029.6 747.4h0M1026.7 748.2h0M1029.6 749.1h0M947.9 734.3h0M947.0 735.5h0M949.8 735.2h0M948.2 734.8h0M948.8 734.3h0M908.9 689.5h0M929.9 605.1h0M928.2 605.5h0M931.3 605.5h0M930.6 605.3h0M934.9 604.3h0M936.1 606.5h0M1008.3 644.7h0M1007.9 644.9h0M968.0 633.0h0M970.1 634.2h0M980.6 692.4h0M1015.4 695.4h0M976.3 744.1h0M984.9 744.6h0M979.4 760.7h0M1117.0 701.3h0M1117.5 702.2h0M986.7 761.6h0M945.6 640.0h0M943.9 640.0h0M945.2 640.2h0M945.2 639.2h0M944.9 639.6h0M946.3 640.3h0M944.9 640.2h0M1015.1 729.2h0M1039.5 666.9h0M975.9 668.8h0M979.8 721.1h0M1008.6 756.0h0M1011.5 611.8h0M1012.0 612.2h0M1003.8 698.6h0M994.1 715.8h0M995.9 712.2h0M994.7 715.6h0M995.0 711.6h0M972.0 655.8h0M1007.7 749.9h0M1008.8 748.8h0M1003.9 747.1h0M972.7 689.9h0M975.1 688.9h0M975.6 688.3h0M973.3 690.5h0M1006.6 687.9h0M1007.2 688.5h0M1004.8 686.7h0M990.6 689.5h0M988.8 688.7h0M989.6 686.3h0M959.9 720.2h0M1039.4 615.4h0M981.3 762.1h0M1133.9 683.4h0M1029.7 634.8h0M1026.3 637.2h0M1025.8 639.6h0M1027.6 636.5h0M963.8 707.4h0M986.3 799.3h0M1010.1 731.5h0M1022.0 704.1h0M968.6 661.0h0M1000.9 708.3h0M968.0 706.1h0M967.5 706.0h0M1028.3 651.8h0M980.1 719.6h0M979.5 720.5h0M1024.9 616.7h0M1016.5 623.0h0M1016.3 625.7h0M1019.1 623.2h0M963.6 725.9h0M1044.8 682.6h0M1045.9 682.6h0M1045.5 682.7h0M1044.1 684.0h0M1035.9 629.1h0M1035.3 627.4h0M1035.0 628.7h0M1017.6 702.1h0M1018.0 700.9h0M1016.5 698.7h0M1018.2 702.2h0M1017.1 700.4h0M988.8 794.5h0M998.9 715.8h0M999.8 710.1h0M998.8 712.5h0M998.3 659.0h0M1000.1 657.2h0M939.7 741.5h0M1027.1 637.9h0M1004.6 625.8h0M989.4 754.6h0M993.6 746.2h0M1018.9 721.5h0M1020.9 722.5h0M1020.4 722.8h0M1021.8 724.8h0M1021.2 724.2h0M1017.7 718.2h0M1043.1 633.0h0M1044.6 631.6h0M972.6 664.6h0M1017.4 729.8h0M987.0 663.5h0M987.5 663.9h0M990.9 662.4h0M1133.5 667.6h0M1134.2 665.1h0M1131.5 668.2h0M1127.9 669.9h0M1012.3 709.1h0M1010.5 707.5h0M1079.4 645.7h0M986.0 682.1h0M986.4 681.1h0M985.0 682.2h0M986.6 684.3h0M976.5 742.1h0M1126.3 656.1h0M1028.1 712.9h0M1028.2 626.5h0M1024.1 625.2h0M1028.9 627.1h0M1132.3 674.3h0M1130.5 674.7h0M969.5 743.6h0M1014.5 659.6h0M1015.1 659.6h0M1014.7 660.7h0M1014.8 659.3h0M977.1 704.2h0M977.0 702.9h0M976.2 702.6h0M1031.4 756.7h0M1032.7 758.4h0M1033.9 761.3h0M979.5 678.0h0M982.7 785.9h0M982.1 784.8h0M980.2 787.1h0M1071.8 635.0h0M1034.2 658.7h0M962.8 580.2h0M963.3 581.1h0M963.4 580.9h0M982.0 757.6h0M984.1 759.9h0M951.2 664.2h0M1036.7 623.5h0M1037.8 623.6h0M1016.3 638.3h0M1009.0 603.7h0M1008.8 604.4h0M1009.4 606.3h0M1008.2 604.2h0M1005.6 606.6h0M993.3 728.5h0M1036.5 613.1h0M1036.4 612.0h0M997.9 763.7h0M998.5 760.2h0M999.2 760.1h0M1002.2 756.5h0M1000.3 759.7h0M999.5 761.4h0M996.9 764.6h0M1038.5 619.5h0M970.8 727.6h0M970.1 727.1h0M935.3 649.3h0M932.5 647.0h0M935.0 648.5h0M1141.1 693.9h0M1142.0 694.1h0M1139.9 694.0h0M1141.8 694.0h0M943.6 608.2h0M984.8 589.9h0M995.0 650.5h0M1005.5 670.2h0M1005.5 668.7h0M1005.4 665.8h0M922.3 604.5h0M921.3 608.0h0M923.2 608.2h0M923.0 607.5h0M921.3 603.5h0M921.9 607.1h0M921.3 604.1h0M922.0 604.6h0M1022.9 693.7h0M1024.2 689.5h0M1011.8 712.6h0M975.0 598.8h0M977.0 600.9h0M975.8 597.3h0M953.9 642.9h0M963.2 697.3h0M1029.3 650.5h0M1024.2 650.6h0M992.8 657.4h0M984.8 767.4h0M979.1 792.4h0M979.2 792.0h0M1036.3 669.4h0M1033.5 669.5h0M1036.2 667.9h0M955.8 673.2h0M957.2 674.3h0M988.4 784.0h0M1116.9 641.9h0M1119.0 646.1h0M1116.4 644.1h0M964.5 655.7h0M965.1 654.9h0M980.4 752.2h0M1011.1 702.1h0M1010.1 700.0h0M997.4 664.3h0M994.7 665.6h0M996.4 665.3h0M992.9 663.7h0M999.9 664.0h0M999.8 664.2h0M994.4 664.9h0M1056.4 655.3h0M1055.8 654.5h0M1055.3 655.4h0M1055.5 655.6h0M1055.3 655.3h0M1113.8 653.6h0M1012.2 674.5h0M978.9 759.8h0M991.4 637.7h0M992.0 634.1h0M994.2 635.9h0M992.5 636.0h0M988.5 675.7h0M989.4 680.2h0M988.1 677.5h0M966.0 717.3h0M993.3 702.5h0M994.0 701.9h0M992.6 701.0h0M994.8 701.9h0M976.5 737.3h0M1028.2 609.9h0M1028.8 610.7h0M1029.2 609.5h0M1017.0 610.1h0M1019.4 611.3h0M1018.5 611.2h0M1020.2 608.1h0M1020.0 608.8h0M1005.6 637.8h0M1005.4 639.0h0M1005.2 635.9h0M958.3 737.6h0M1026.3 685.6h0M1027.2 684.8h0M1026.4 686.2h0M955.0 768.7h0M958.7 765.4h0M958.9 766.4h0M956.5 769.6h0M953.8 769.1h0M989.9 687.9h0M1114.6 676.7h0M1115.4 678.5h0M1118.8 684.6h0M975.3 747.4h0M969.9 705.8h0M971.0 704.2h0M970.3 702.7h0M938.6 601.6h0M940.7 600.6h0M940.3 603.4h0M1004.9 668.3h0M1007.1 668.2h0M1006.4 669.0h0M1006.3 669.0h0M1027.2 627.6h0M1027.6 626.9h0M978.3 729.0h0M979.1 732.4h0M977.7 730.6h0M978.1 729.5h0M977.0 728.8h0M978.7 727.7h0M977.3 729.5h0M992.3 642.4h0M991.7 645.3h0M992.0 642.5h0M990.4 643.2h0M990.9 643.4h0M1007.4 638.4h0M1004.1 639.4h0M1005.3 638.8h0M987.8 715.9h0M1038.9 689.5h0M1041.9 689.4h0M1037.8 687.2h0M1038.8 688.7h0M1000.9 674.2h0M999.5 673.6h0M1029.7 679.1h0M954.1 691.7h0M997.2 724.6h0M1001.3 729.9h0M1112.6 681.4h0M1111.7 680.6h0M1054.5 676.7h0M1051.8 679.9h0M1054.7 677.3h0M970.8 763.2h0M972.1 760.9h0M972.2 759.5h0M1026.7 719.8h0M1025.7 718.9h0M1025.9 721.6h0M882.0 641.9h0M881.5 643.2h0M951.5 651.5h0M1123.0 711.0h0M1122.2 712.1h0M1121.5 710.3h0M1020.3 747.3h0M996.7 711.2h0M995.4 710.2h0M1001.1 711.8h0M997.6 710.6h0M995.6 711.5h0M998.9 711.3h0M1021.9 717.7h0M1055.4 684.4h0M1054.9 684.3h0M1054.8 684.1h0M1055.9 683.4h0M1027.7 697.2h0M1073.1 625.9h0M981.5 757.9h0M982.7 757.6h0M982.9 757.9h0M1037.2 681.9h0M1038.4 683.1h0M1008.8 597.1h0M1009.4 598.5h0M1009.5 595.5h0M929.0 622.9h0M928.9 622.3h0M1019.7 646.2h0M1036.5 707.3h0M1036.9 707.3h0M1037.7 707.4h0M895.0 632.5h0M955.7 620.2h0M1025.7 692.6h0M1025.8 694.8h0M1008.6 666.7h0M1014.4 751.6h0M984.5 748.3h0M984.2 748.3h0M1009.7 676.3h0M1007.5 673.6h0M999.5 663.5h0M1064.5 689.4h0M1062.7 690.0h0M1064.5 689.4h0M946.3 639.6h0M1070.8 660.7h0M1069.7 659.3h0M1071.1 663.7h0M946.0 737.5h0M957.7 746.7h0M956.9 744.5h0M956.6 745.2h0M1013.1 639.6h0M1011.5 639.2h0M1013.1 642.7h0M1010.1 641.4h0M972.5 721.1h0M970.0 721.4h0M970.7 721.4h0M970.4 720.7h0M970.7 720.8h0M1048.9 657.8h0M1047.9 653.8h0M1048.6 629.1h0M1050.9 628.8h0M1049.2 629.5h0M1051.6 628.0h0M1049.7 629.0h0M969.7 761.9h0M971.5 761.9h0M1058.2 645.3h0M1058.5 643.1h0M1057.9 643.3h0M1055.3 644.9h0M1056.4 643.3h0M1057.4 642.0h0M1057.4 643.2h0M1024.1 705.0h0M988.2 742.4h0M986.1 742.9h0M1023.5 682.6h0M948.9 751.1h0M948.5 749.9h0M972.9 651.9h0M967.3 718.4h0M970.0 721.7h0M1042.0 697.5h0M1034.2 703.6h0M1035.2 701.7h0M1036.5 701.9h0M1034.6 704.2h0M992.2 699.2h0M904.3 668.9h0M904.1 666.1h0M906.2 667.6h0M904.8 667.1h0M907.6 666.2h0M905.2 666.5h0M974.8 679.3h0M1059.5 644.6h0M1002.4 667.8h0M941.9 746.4h0M943.3 746.5h0M939.1 747.4h0M996.1 636.5h0M1021.1 620.7h0M1020.5 621.5h0M1022.4 622.6h0M1097.6 735.2h0M1099.1 735.2h0M1098.8 735.7h0M1100.7 734.0h0M1097.8 736.2h0M1099.2 736.2h0M1100.5 734.7h0M1097.8 736.1h0M1058.6 631.7h0M1038.7 770.9h0M1027.2 650.8h0M968.8 597.2h0M953.4 742.0h0M953.7 740.6h0M950.6 742.4h0M950.8 742.0h0M1044.0 690.0h0M1006.8 680.4h0M1005.4 679.4h0M1005.2 679.4h0M1005.9 679.9h0M1006.4 680.4h0M1005.7 681.6h0M890.0 707.7h0M891.3 708.3h0M889.5 708.2h0M891.3 708.5h0M1120.6 644.2h0M1013.5 641.3h0M1012.9 642.7h0M1042.1 626.9h0M1042.5 626.9h0M1042.0 627.2h0M1014.1 711.3h0M1010.5 708.5h0M1012.4 710.0h0" stroke="rgb(153,215,61)" stroke-width="1.5" stroke-linecap="round" fill="none" stroke-opacity="0.82"/><path d="M974.0 752.8h0M1134.2 662.1h0M968.1 708.5h0M965.4 706.8h0M967.2 707.0h0M968.4 709.0h0M965.7 706.0h0M968.5 708.3h0M967.9 708.0h0M1003.0 729.1h0M943.1 638.7h0M1044.2 761.7h0M1043.3 760.4h0M1045.1 760.3h0M992.2 757.6h0M993.2 758.2h0M975.9 712.8h0M1030.7 654.0h0M944.1 667.5h0M946.4 666.7h0M943.4 663.7h0M944.2 668.3h0M964.5 669.6h0M1016.2 683.9h0M1018.9 683.9h0M945.5 657.2h0M980.9 709.0h0M979.8 707.8h0M1008.2 638.3h0M1006.6 639.3h0M1005.9 639.0h0M1006.0 639.6h0M987.9 704.4h0M1008.0 682.2h0M1008.2 684.4h0M1009.6 682.6h0M978.0 746.3h0M979.4 746.6h0M980.3 747.2h0M1003.0 646.7h0M1002.2 646.7h0M1000.9 644.9h0M1001.5 645.4h0M1003.0 645.0h0M1005.0 657.9h0M1004.3 656.2h0M1005.4 656.8h0M1004.8 657.3h0M1002.9 654.2h0M1004.5 656.6h0M1003.2 654.4h0M1022.7 673.6h0M1023.1 674.2h0M1009.7 748.7h0M1010.0 748.8h0M1012.8 747.3h0M1009.6 749.1h0M981.1 760.2h0M980.0 757.8h0M980.3 759.0h0M980.4 761.0h0M993.4 660.4h0M991.7 659.8h0M897.6 708.8h0M897.1 710.5h0M895.7 711.0h0M1114.9 667.6h0M1116.8 667.9h0M1115.7 668.6h0M1115.0 667.7h0M1116.4 668.7h0M1115.0 668.2h0M991.5 663.2h0M995.2 665.2h0M987.2 668.6h0M1013.9 751.6h0M995.8 657.2h0M995.4 656.7h0M993.5 657.6h0M993.9 655.3h0M983.0 650.3h0M1119.5 652.0h0M1127.0 649.0h0M1124.4 649.3h0M1029.0 658.0h0M1027.7 658.3h0M1028.1 657.5h0M1027.1 656.2h0M1046.3 708.8h0M1047.8 710.5h0M1046.6 708.1h0M1023.8 695.7h0M1023.4 646.0h0M1021.7 646.6h0M1018.6 614.5h0M1024.6 609.4h0M1009.8 631.0h0M1010.5 632.1h0M1034.7 685.2h0M1034.5 686.5h0M1033.6 689.2h0M1034.0 684.9h0M1011.5 655.7h0M1012.6 655.8h0M1009.0 654.7h0M1010.7 655.7h0M1012.0 655.7h0M995.0 609.4h0M995.4 606.9h0M994.8 607.6h0M1050.6 627.4h0M972.0 581.2h0M971.9 582.8h0M970.4 582.8h0M959.3 741.9h0M1033.1 665.0h0M1035.2 663.3h0M1032.3 667.3h0M973.0 740.3h0M1031.8 666.1h0M1029.2 665.7h0M1029.6 668.0h0M1030.4 668.4h0M1051.0 676.1h0M1048.9 677.7h0M1052.8 681.9h0M958.6 700.9h0M997.2 676.9h0M976.8 693.4h0M977.8 692.9h0M980.2 692.6h0M978.5 694.1h0M968.6 705.7h0M969.3 703.6h0M968.8 704.4h0M1002.2 694.2h0M1003.1 692.3h0M1002.6 691.4h0M1002.1 692.4h0M1001.8 696.8h0M987.3 668.8h0M990.2 671.6h0M989.4 670.9h0M990.3 670.1h0M991.8 671.5h0M1093.8 709.4h0M1095.4 708.1h0M980.0 736.0h0M980.7 735.0h0M981.5 736.7h0M981.5 735.2h0M980.7 738.1h0M987.1 798.3h0M987.4 797.5h0M989.0 800.5h0M1027.7 628.7h0M1028.0 629.6h0M1028.1 629.0h0M1003.2 691.2h0M953.8 644.2h0M950.7 643.2h0M953.2 644.2h0M950.3 643.3h0M954.6 645.1h0M1008.1 714.8h0M1007.8 712.9h0M1008.1 714.1h0M1021.4 645.7h0M1019.8 644.9h0M1020.5 645.5h0M1020.8 643.4h0M1019.0 645.8h0M1021.7 644.9h0M1047.1 641.4h0M1048.1 643.6h0M1051.8 640.2h0M985.7 712.3h0M997.3 667.2h0M998.7 667.4h0M995.8 667.4h0M1044.7 649.3h0M1046.1 649.8h0M1046.0 647.5h0M1047.2 648.4h0M1045.0 648.6h0M1048.4 648.8h0M959.5 757.9h0M959.6 756.2h0M959.2 757.1h0M958.7 757.4h0M958.6 758.9h0M1035.2 631.8h0M1035.5 629.6h0M1036.0 627.3h0M1037.3 627.4h0M1036.5 630.3h0M1029.9 681.8h0M1030.1 680.7h0M1028.4 684.1h0M1028.6 633.0h0M1006.8 683.9h0M1006.1 684.1h0M1009.0 682.4h0M962.9 657.9h0M1017.1 720.4h0M1006.2 684.4h0M1000.5 686.7h0M999.7 687.0h0M999.7 686.7h0M1005.4 685.1h0M984.2 704.1h0M984.4 704.2h0M984.9 701.2h0M984.5 702.6h0M984.0 703.1h0M981.2 713.3h0M982.2 715.8h0M981.5 714.7h0M982.0 715.4h0M981.9 716.3h0M982.4 717.0h0M981.5 716.1h0M968.2 733.6h0M968.0 733.0h0M978.4 720.2h0M1005.8 688.8h0M1034.2 623.2h0M1032.0 623.5h0M1032.6 622.8h0M1040.8 630.7h0M1042.3 631.6h0M1027.3 744.9h0M1025.2 743.6h0M958.6 697.6h0M1013.6 672.5h0M1012.4 673.9h0M1009.9 674.9h0M1013.3 669.9h0M985.0 689.0h0M984.6 688.5h0M984.6 688.6h0M984.3 689.7h0M1031.3 658.0h0M1022.9 673.5h0M1023.9 675.7h0M1020.5 673.2h0M1021.0 674.3h0M1027.3 676.0h0M987.4 665.7h0M988.4 667.6h0M989.6 667.6h0M987.2 666.6h0M988.6 667.6h0M1018.9 658.3h0M1008.4 641.5h0M1010.4 638.7h0M1004.5 643.6h0M985.7 734.7h0M988.1 679.5h0M985.2 678.9h0M986.5 679.6h0M989.5 679.2h0M1027.4 643.2h0M1026.4 619.3h0M1026.0 618.0h0M1031.9 617.7h0M1025.8 617.9h0M868.1 667.0h0M1004.5 640.7h0M1005.1 640.5h0M1011.9 683.1h0M1012.9 683.6h0M1012.6 683.9h0M1015.6 683.0h0M1011.5 684.1h0M1012.4 664.2h0M1103.1 665.4h0M1103.6 665.4h0M1105.6 666.8h0M1103.9 665.0h0M1103.5 664.9h0M1022.9 640.8h0M1025.6 642.3h0M1026.7 641.2h0M1025.6 641.7h0M1026.9 640.6h0M1025.2 641.1h0M990.6 644.1h0M990.9 641.7h0M990.7 642.2h0M1048.1 673.1h0M1046.5 676.8h0M1046.2 680.1h0M1045.5 677.0h0M1046.2 678.5h0M1137.3 689.7h0M1016.9 671.4h0M1013.6 673.3h0M1013.6 708.7h0M1013.6 711.2h0M1012.5 710.6h0M1014.2 710.6h0M1012.5 711.5h0M1117.4 658.6h0M1116.8 659.7h0M1116.6 658.1h0M1117.0 658.8h0M1045.1 651.2h0M1045.2 650.9h0M992.4 663.3h0M949.1 734.0h0M948.1 735.1h0M950.1 734.2h0M1014.8 660.1h0M1039.6 670.8h0M1039.5 668.8h0M1039.8 665.4h0M909.0 688.6h0M929.5 604.9h0M1016.8 646.3h0M1007.3 645.5h0M968.5 633.8h0M969.5 634.5h0M970.1 636.0h0M975.3 694.3h0M981.5 693.7h0M980.6 694.6h0M979.5 693.3h0M1016.7 692.1h0M1018.2 690.5h0M1015.7 690.8h0M1017.6 689.7h0M1017.6 690.9h0M981.6 743.9h0M977.7 745.4h0M977.5 744.4h0M1117.6 702.7h0M1117.0 703.3h0M1116.2 702.9h0M1116.7 703.4h0M1118.3 702.7h0M1057.4 655.2h0M1057.4 653.6h0M946.1 640.5h0M1009.2 638.5h0M1006.8 636.8h0M1007.8 639.6h0M1036.4 613.2h0M1033.9 612.7h0M1035.8 612.9h0M1035.1 613.0h0M981.2 792.5h0M1009.1 684.8h0M1008.6 683.8h0M994.9 737.9h0M1003.8 740.5h0M998.2 739.1h0M999.1 737.9h0M1012.3 614.0h0M1011.0 612.9h0M1012.0 612.8h0M1013.3 611.6h0M1007.1 749.7h0M1026.3 700.1h0M1029.1 703.8h0M1027.4 700.8h0M971.3 689.3h0M1005.3 686.6h0M1005.0 686.6h0M1004.0 685.0h0M1005.1 685.6h0M1004.0 685.8h0M1005.9 687.5h0M1054.8 629.6h0M1055.0 627.4h0M1050.8 667.4h0M961.0 718.8h0M960.0 720.7h0M962.7 718.6h0M966.0 716.9h0M1009.1 694.7h0M1017.1 721.3h0M945.5 657.5h0M942.5 660.5h0M1003.8 683.5h0M1003.5 682.8h0M1028.0 635.6h0M1028.1 639.4h0M1027.9 620.5h0M1029.8 619.0h0M1030.2 621.4h0M1028.8 620.4h0M1028.1 687.5h0M1026.8 688.8h0M1027.1 685.1h0M1020.6 710.1h0M1020.2 710.1h0M1018.2 708.1h0M1019.9 709.5h0M1010.2 732.3h0M1009.5 732.9h0M1010.2 732.0h0M1009.0 731.7h0M1010.7 730.7h0M969.4 734.5h0M968.5 733.6h0M967.5 732.0h0M967.1 731.7h0M969.1 733.3h0M968.4 734.4h0M966.5 731.8h0M1008.1 640.9h0M1007.9 637.9h0M1006.4 643.6h0M1020.9 710.5h0M1020.1 702.9h0M967.8 661.5h0M1001.8 708.3h0M968.3 706.7h0M966.6 705.3h0M1028.0 652.3h0M1020.5 737.4h0M1018.8 737.8h0M973.7 652.7h0M973.7 655.0h0M1028.4 613.2h0M1026.8 614.4h0M954.4 680.1h0M954.7 679.2h0M954.9 681.7h0M953.6 681.6h0M953.9 685.2h0M953.8 683.6h0M1019.7 629.5h0M1019.5 627.8h0M1020.4 630.1h0M1020.2 628.6h0M1043.0 635.2h0M1043.3 632.8h0M1042.2 633.8h0M1041.2 634.1h0M1044.8 634.8h0M1045.1 633.9h0M1042.7 632.5h0M1043.7 634.6h0M963.1 673.5h0M962.9 673.0h0M964.1 672.8h0M1017.7 623.3h0M1018.2 622.4h0M984.7 725.2h0M986.4 726.6h0M1019.9 656.1h0M1019.8 655.9h0M965.0 722.6h0M963.9 724.1h0M986.6 733.4h0M1011.6 710.2h0M1014.4 708.6h0M1016.8 707.8h0M1017.5 699.2h0M1018.2 702.0h0M1016.1 698.6h0M971.9 732.1h0M973.5 727.7h0M971.6 733.1h0M971.5 735.9h0M972.2 733.8h0M998.1 715.0h0M1012.6 663.3h0M1012.9 663.7h0M997.4 658.8h0M998.6 683.6h0M997.1 710.7h0M997.3 711.2h0M1000.7 709.9h0M1001.2 710.4h0M1002.2 708.7h0M1001.2 711.0h0M1006.1 626.6h0M1004.3 625.1h0M1004.7 626.5h0M1005.7 626.8h0M1004.8 625.9h0M1051.4 655.9h0M1051.4 655.0h0M1051.1 655.3h0M1120.0 666.3h0M1120.8 668.8h0M1121.1 668.8h0M1120.5 664.9h0M994.3 745.7h0M1018.6 720.5h0M1027.9 706.4h0M1025.0 707.7h0M1027.1 707.6h0M1027.3 706.5h0M940.1 592.0h0M937.3 592.5h0M938.7 586.7h0M1045.4 630.7h0M1042.0 654.2h0M971.3 664.4h0M971.3 664.1h0M971.2 663.0h0M972.9 664.7h0M1018.5 731.1h0M1017.0 729.8h0M1018.2 730.7h0M1017.2 729.6h0M1016.7 728.8h0M1018.6 731.2h0M1017.0 729.8h0M988.4 661.5h0M1137.0 665.2h0M1133.0 667.9h0M1132.6 667.6h0M1134.3 665.5h0M1009.9 708.8h0M1013.1 711.2h0M1027.9 612.1h0M957.6 694.0h0M956.1 695.2h0M956.9 694.3h0M959.8 696.5h0M1022.6 624.2h0M973.1 670.1h0M969.6 669.8h0M973.3 671.3h0M973.2 669.3h0M973.5 669.0h0M978.0 705.2h0M975.0 702.7h0M1034.7 759.2h0M981.2 784.6h0M979.2 787.7h0M980.4 788.1h0M1073.7 634.9h0M1071.5 635.6h0M1014.7 711.3h0M1013.7 711.0h0M1015.2 636.8h0M1015.8 637.0h0M1016.0 637.3h0M1044.2 664.9h0M1044.0 664.6h0M997.0 672.6h0M993.1 674.6h0M994.5 673.7h0M994.6 673.5h0M991.9 673.8h0M993.2 673.7h0M992.0 675.1h0M1097.2 675.6h0M1095.4 673.7h0M1093.7 670.2h0M1015.0 714.4h0M1035.9 614.1h0M1034.7 613.4h0M1036.9 612.3h0M979.0 715.6h0M976.6 714.5h0M975.5 714.0h0M1000.7 758.0h0M993.2 705.7h0M992.2 705.8h0M995.0 705.9h0M990.2 706.0h0M1036.0 619.3h0M973.2 723.9h0M971.5 727.5h0M971.6 728.2h0M1002.0 655.4h0M1001.7 655.6h0M1007.0 703.2h0M1035.6 628.4h0M1035.1 629.0h0M1039.4 628.3h0M981.3 771.6h0M982.9 771.3h0M1140.3 693.3h0M965.8 719.4h0M1021.6 727.3h0M1021.2 726.5h0M939.4 726.1h0M939.1 727.4h0M1012.9 713.2h0M1011.6 713.9h0M1012.5 712.2h0M1010.8 713.4h0M953.6 645.8h0M954.7 639.3h0M954.1 643.3h0M988.3 735.5h0M1093.1 660.5h0M1093.9 660.1h0M1028.0 650.5h0M1027.0 650.5h0M985.4 766.0h0M986.2 767.7h0M985.6 767.0h0M1033.8 669.2h0M1016.6 652.4h0M1019.4 651.5h0M1014.9 652.3h0M1017.1 652.6h0M1000.1 678.8h0M999.9 677.0h0M999.7 677.5h0M982.3 751.0h0M982.4 752.6h0M980.1 754.9h0M981.8 751.3h0M980.6 753.7h0M1016.7 719.2h0M1019.1 720.2h0M1020.1 677.8h0M1020.2 677.9h0M1044.7 642.2h0M1043.8 642.8h0M1046.8 641.6h0M1046.0 641.7h0M969.4 677.0h0M971.0 677.4h0M971.5 679.0h0M971.1 678.2h0M971.8 677.7h0M1055.4 656.3h0M1055.5 655.8h0M1054.2 655.1h0M1113.8 654.5h0M948.9 685.2h0M1022.0 658.0h0M1021.0 662.5h0M992.0 738.1h0M977.5 759.4h0M978.2 759.4h0M1024.5 694.9h0M1024.1 693.9h0M988.9 682.0h0M964.6 716.8h0M965.9 716.6h0M966.0 716.7h0M992.1 701.9h0M1045.5 653.9h0M1045.4 654.4h0M978.4 737.3h0M977.4 737.0h0M976.0 737.1h0M977.6 736.7h0M977.2 735.4h0M1021.3 699.9h0M1022.2 699.9h0M1023.7 696.7h0M1021.2 697.3h0M1022.5 697.1h0M1029.4 611.5h0M1031.8 615.2h0M1028.5 610.4h0M961.7 739.6h0M962.1 739.8h0M961.4 739.7h0M1026.5 669.3h0M1027.9 668.9h0M1023.9 668.5h0M1026.6 668.0h0M1028.6 685.8h0M1027.8 685.6h0M1027.9 685.8h0M1024.8 685.2h0M1028.0 685.8h0M1028.4 684.9h0M982.4 657.4h0M980.8 654.1h0M982.0 656.1h0M984.6 656.3h0M981.8 654.4h0M999.9 673.1h0M1002.4 670.7h0M1001.0 672.2h0M1002.0 673.2h0M990.8 737.4h0M990.8 736.0h0M991.7 686.6h0M989.3 684.7h0M990.8 685.4h0M990.9 685.1h0M987.8 683.1h0M991.4 687.3h0M1114.6 681.3h0M974.9 751.0h0M976.8 747.0h0M975.5 748.4h0M975.6 746.9h0M1046.8 641.7h0M1048.0 643.4h0M1043.5 641.0h0M1045.1 641.8h0M1044.3 642.3h0M1048.8 642.5h0M1049.0 643.1h0M1006.2 700.6h0M1006.2 699.2h0M970.3 703.3h0M970.1 703.5h0M971.5 703.0h0M979.1 703.4h0M978.7 703.8h0M936.7 603.9h0M938.5 602.9h0M992.3 712.3h0M990.2 712.5h0M1006.8 668.8h0M1007.2 668.0h0M1005.0 669.0h0M977.6 729.3h0M992.2 643.4h0M990.1 645.8h0M1002.3 638.1h0M1006.8 638.9h0M1108.0 653.7h0M1108.6 656.4h0M1109.6 654.5h0M1107.4 654.7h0M987.3 715.3h0M984.8 714.4h0M1040.2 688.5h0M1040.1 688.1h0M1039.4 689.1h0M1042.5 687.6h0M1040.4 688.5h0M1002.2 677.5h0M997.9 677.1h0M1000.5 675.4h0M1027.8 680.6h0M1030.6 677.8h0M1027.9 682.2h0M1048.3 688.4h0M1024.3 696.6h0M1023.6 695.8h0M1024.8 696.6h0M1025.7 698.4h0M1023.7 697.0h0M1025.3 695.9h0M971.8 761.0h0M972.3 760.4h0M970.9 761.4h0M1039.5 698.5h0M1040.3 699.2h0M1039.7 700.6h0M1038.0 698.9h0M1039.3 698.8h0M1037.4 699.3h0M1010.3 617.5h0M1012.0 615.7h0M995.5 712.9h0M996.7 712.3h0M1001.3 629.6h0M1000.5 629.1h0M1001.6 627.5h0M1008.1 677.7h0M1009.5 676.5h0M1008.7 678.0h0M970.1 731.1h0M992.7 706.2h0M989.8 708.8h0M989.6 707.9h0M879.3 643.1h0M881.7 642.5h0M952.6 651.5h0M1018.8 749.2h0M1018.8 748.5h0M1018.9 747.4h0M1020.8 747.4h0M1019.3 748.8h0M1019.7 747.6h0M1016.5 747.6h0M996.1 709.3h0M994.7 708.7h0M997.4 709.3h0M1004.8 710.9h0M1007.3 712.4h0M1055.6 684.1h0M1055.6 682.1h0M986.7 675.1h0M984.9 673.3h0M1038.2 688.7h0M1039.7 690.3h0M1039.9 691.1h0M1037.4 687.4h0M960.4 656.1h0M960.4 656.6h0M960.5 655.5h0M960.2 660.0h0M1026.9 679.2h0M1090.4 660.0h0M1036.5 681.6h0M1037.6 682.9h0M1020.6 646.9h0M1018.3 644.8h0M1015.2 645.5h0M1013.2 634.9h0M1029.6 610.3h0M1028.5 611.9h0M1028.4 610.8h0M1027.3 612.7h0M1028.4 611.6h0M986.2 671.1h0M987.2 668.3h0M986.9 667.5h0M988.6 668.4h0M987.4 669.7h0M996.7 713.0h0M997.4 713.9h0M997.0 713.8h0M997.3 714.1h0M995.0 714.8h0M997.3 714.5h0M1007.7 667.3h0M1006.0 667.2h0M1008.8 666.7h0M1008.4 666.9h0M1016.0 750.2h0M980.4 747.1h0M1008.9 674.8h0M962.0 707.8h0M994.4 700.7h0M995.7 701.8h0M993.8 702.3h0M993.9 702.3h0M1062.3 691.5h0M1062.8 690.7h0M1059.0 691.2h0M1062.2 689.9h0M949.8 637.6h0M1011.6 643.8h0M1011.5 642.6h0M1012.3 641.7h0M972.6 720.6h0M972.0 721.3h0M971.2 721.2h0M969.0 721.2h0M1003.0 708.8h0M1003.9 709.2h0M1051.3 628.7h0M1053.5 628.0h0M967.3 762.1h0M971.6 763.9h0M1002.4 746.7h0M1019.3 696.2h0M1057.6 644.3h0M1010.7 713.5h0M1001.7 617.4h0M1004.9 685.7h0M1003.7 684.4h0M951.4 688.7h0M951.1 685.9h0M951.3 687.6h0M949.2 689.1h0M950.0 692.1h0M1014.8 633.0h0M1015.1 631.4h0M1015.7 632.0h0M1014.7 630.9h0M1017.5 631.7h0M1042.4 696.5h0M1041.5 696.2h0M1042.1 698.2h0M993.2 697.4h0M994.4 697.0h0M992.9 699.5h0M906.9 666.5h0M1021.4 699.4h0M1024.0 698.5h0M974.1 678.6h0M973.9 680.6h0M974.2 678.7h0M976.2 678.1h0M972.7 678.6h0M972.8 680.4h0M954.2 726.2h0M952.7 727.4h0M954.0 727.3h0M952.5 726.0h0M955.5 724.6h0M1032.9 612.2h0M1035.1 615.2h0M1032.1 610.6h0M1033.4 612.4h0M992.4 682.5h0M988.9 680.4h0M987.8 677.2h0M991.9 681.6h0M995.0 721.6h0M938.8 746.2h0M939.8 747.4h0M939.7 747.3h0M1022.4 628.0h0M995.8 636.5h0M996.2 634.7h0M998.0 637.1h0M995.9 634.3h0M993.4 716.8h0M996.1 713.6h0M992.1 716.8h0M993.4 718.0h0M994.6 714.6h0M993.9 715.5h0M1099.6 735.5h0M957.3 660.2h0M956.1 659.7h0M957.0 659.7h0M955.5 660.7h0M968.5 656.8h0M967.8 656.0h0M975.7 596.8h0M953.5 742.2h0M952.0 741.7h0M1037.7 700.8h0M1037.6 700.9h0M1037.6 696.7h0M967.2 710.7h0M961.7 718.4h0M1044.9 689.9h0M1047.7 687.8h0M1045.7 688.5h0M1044.5 690.6h0M1046.2 689.1h0M1046.7 689.6h0M1046.6 688.5h0M955.0 668.9h0M957.7 668.4h0M957.6 667.5h0M979.2 686.3h0M989.9 660.1h0M987.5 663.7h0M968.8 742.3h0M968.0 742.6h0M966.3 736.2h0M888.1 707.9h0M1049.9 657.1h0M1051.0 658.3h0M1014.3 643.0h0M1013.4 645.1h0M1014.5 644.4h0M1042.6 626.8h0M1043.5 627.2h0M1042.3 626.9h0M1043.3 628.0h0M1011.0 709.0h0" stroke="rgb(204,225,38)" stroke-width="1.5" stroke-linecap="round" fill="none" stroke-opacity="0.82"/><path d="M967.5 707.7h0M966.6 706.7h0M1002.9 730.1h0M945.3 665.0h0M943.2 665.9h0M964.2 665.4h0M1015.9 682.7h0M1013.8 681.8h0M982.6 706.1h0M991.0 708.5h0M978.8 746.3h0M980.5 746.8h0M1001.1 645.0h0M1001.4 644.8h0M1002.1 644.7h0M1002.5 654.4h0M1005.1 657.4h0M1013.5 746.7h0M1011.8 667.3h0M1014.7 667.2h0M1015.1 666.6h0M980.0 761.3h0M979.3 762.3h0M993.2 662.2h0M995.4 662.9h0M1116.5 669.2h0M1115.0 667.9h0M993.8 663.8h0M989.8 655.7h0M988.8 655.9h0M983.2 652.7h0M981.5 645.8h0M983.2 649.9h0M982.7 651.1h0M1119.6 649.4h0M1122.1 650.3h0M1004.1 640.8h0M1002.1 640.8h0M1027.9 658.2h0M1047.2 709.5h0M1023.0 693.8h0M1022.9 693.9h0M1021.8 646.7h0M1020.4 612.5h0M1009.6 631.1h0M1009.2 629.6h0M1034.4 685.1h0M1033.7 685.6h0M1034.3 685.2h0M1034.9 687.0h0M994.6 608.0h0M1049.0 625.1h0M960.9 739.4h0M959.1 740.3h0M1035.3 663.4h0M1033.1 664.7h0M1035.6 664.1h0M1033.4 663.7h0M973.5 740.2h0M973.0 745.3h0M973.1 740.1h0M973.4 743.1h0M972.2 741.3h0M1050.2 676.3h0M1052.3 677.2h0M1050.9 677.4h0M960.0 701.4h0M978.6 692.5h0M980.1 692.4h0M976.8 692.8h0M969.1 704.1h0M1001.8 693.2h0M1000.6 695.7h0M1001.9 694.0h0M981.1 738.7h0M986.3 799.3h0M1026.4 629.9h0M995.8 651.9h0M951.8 645.7h0M953.6 646.6h0M1008.8 711.4h0M1050.1 640.4h0M1050.7 641.1h0M1052.6 640.8h0M995.0 666.4h0M997.4 667.9h0M1045.7 650.6h0M1047.1 649.9h0M1046.2 647.9h0M1035.1 629.2h0M1028.2 680.3h0M1028.9 681.7h0M1024.8 686.6h0M1028.5 683.8h0M1027.9 683.6h0M1031.4 633.8h0M1007.3 685.8h0M1008.2 683.1h0M963.9 657.8h0M965.8 733.7h0M968.7 734.7h0M977.7 719.6h0M977.0 720.8h0M974.1 719.9h0M1011.2 674.5h0M1008.4 676.9h0M985.2 689.3h0M984.3 689.0h0M982.5 690.1h0M1026.9 676.8h0M1025.8 675.2h0M1023.1 675.6h0M984.7 665.6h0M981.1 664.5h0M985.8 665.4h0M988.8 667.9h0M1033.6 665.7h0M1031.5 666.9h0M1034.5 665.9h0M1034.6 664.3h0M1017.8 658.8h0M1004.6 642.7h0M984.9 738.7h0M986.0 734.5h0M983.2 679.4h0M986.8 679.8h0M986.2 679.2h0M988.2 678.4h0M1028.2 643.8h0M1027.1 645.1h0M1028.5 644.1h0M1003.7 640.9h0M1013.9 683.0h0M1013.4 682.8h0M1103.1 666.0h0M1103.1 664.7h0M1104.6 664.8h0M1102.7 665.7h0M1022.6 622.8h0M992.6 641.4h0M992.9 642.6h0M1045.9 677.4h0M1013.2 713.3h0M1012.3 710.8h0M1014.0 710.8h0M1115.1 658.1h0M1045.0 649.7h0M992.4 661.1h0M991.8 661.7h0M991.7 661.9h0M988.8 661.7h0M989.7 662.4h0M993.3 662.2h0M991.6 662.3h0M987.8 662.1h0M951.3 733.4h0M1039.4 667.7h0M908.9 691.2h0M909.7 689.0h0M1008.6 646.6h0M977.7 693.9h0M1055.0 656.1h0M1008.6 639.9h0M1007.9 638.7h0M1034.5 612.4h0M981.3 715.9h0M999.2 739.0h0M998.3 739.5h0M999.9 737.8h0M1002.4 739.4h0M1013.1 612.2h0M1012.4 613.9h0M1012.1 612.8h0M1029.5 703.5h0M1028.3 701.5h0M1029.3 703.6h0M1053.0 628.6h0M1053.2 628.2h0M1057.3 630.7h0M1009.4 658.2h0M1010.0 658.9h0M1016.5 722.8h0M1016.2 719.9h0M943.1 657.5h0M945.6 655.6h0M944.4 656.5h0M1025.5 640.1h0M1031.8 620.7h0M1030.9 620.7h0M1029.3 620.1h0M1029.6 621.5h0M1009.4 731.5h0M1010.4 729.5h0M1009.4 731.0h0M967.9 733.5h0M968.9 734.6h0M1007.4 641.8h0M1019.2 703.4h0M1020.3 704.6h0M1000.9 706.5h0M1001.1 707.4h0M965.9 705.4h0M966.5 705.8h0M1019.2 737.2h0M1019.6 738.3h0M974.2 655.6h0M1024.8 614.6h0M1025.8 616.4h0M1027.2 614.0h0M1026.6 615.6h0M1030.6 611.4h0M951.4 686.3h0M956.0 680.4h0M1020.9 629.4h0M1020.4 629.0h0M1018.4 630.7h0M1018.9 629.0h0M1022.5 630.9h0M1044.3 634.4h0M964.1 671.4h0M981.0 723.3h0M984.8 725.2h0M1020.7 657.2h0M1020.5 656.9h0M965.0 725.9h0M965.5 722.2h0M965.4 721.6h0M970.6 732.9h0M971.5 732.6h0M971.2 730.2h0M1012.3 664.8h0M1010.9 664.4h0M1025.5 667.1h0M999.0 711.4h0M998.5 711.1h0M1003.7 625.9h0M1051.2 655.2h0M1053.1 655.6h0M1121.0 666.1h0M1123.7 666.7h0M1121.1 668.1h0M1122.0 665.2h0M1122.6 666.2h0M1025.1 707.6h0M1027.2 611.7h0M955.0 694.1h0M955.5 694.7h0M956.5 695.0h0M971.0 670.3h0M978.4 703.4h0M1015.0 709.9h0M1014.2 712.5h0M992.0 725.7h0M1016.5 637.5h0M993.6 674.5h0M995.1 673.6h0M1095.4 672.9h0M1095.3 672.4h0M1095.4 673.4h0M1095.2 671.8h0M1011.6 715.8h0M977.5 715.4h0M992.8 705.8h0M994.4 704.1h0M989.4 708.2h0M993.3 705.6h0M1037.6 618.4h0M1037.4 619.4h0M1038.2 620.4h0M971.3 727.2h0M1000.8 654.0h0M1000.7 653.8h0M1001.4 653.5h0M1006.8 702.5h0M981.7 773.7h0M981.2 770.8h0M965.7 722.3h0M1019.8 728.3h0M1022.4 727.1h0M1021.0 727.3h0M1021.1 728.8h0M1020.6 725.8h0M1022.0 729.1h0M1021.7 726.9h0M942.1 727.3h0M1013.3 712.1h0M1011.4 711.7h0M1011.5 712.8h0M1096.0 658.5h0M999.7 676.8h0M1000.3 677.6h0M1000.2 677.2h0M1000.4 677.9h0M989.2 760.8h0M1018.8 721.3h0M1021.1 679.8h0M1022.4 678.7h0M1022.1 679.3h0M1020.0 677.6h0M1018.4 678.4h0M1020.4 677.9h0M1018.6 677.8h0M1042.3 642.3h0M1044.8 643.9h0M969.4 676.4h0M974.2 676.7h0M972.6 676.1h0M1113.3 654.5h0M950.3 683.3h0M949.3 683.8h0M977.8 759.7h0M978.5 758.6h0M978.0 760.7h0M964.9 715.8h0M966.2 716.6h0M964.7 716.9h0M1047.0 653.5h0M1047.0 654.3h0M1047.5 653.8h0M1047.3 653.5h0M978.5 735.8h0M978.9 735.4h0M982.6 657.6h0M982.0 654.9h0M982.2 657.1h0M999.4 672.7h0M1003.1 669.7h0M992.9 735.1h0M987.1 735.8h0M992.7 687.5h0M974.9 748.7h0M975.7 746.8h0M975.4 748.3h0M1047.6 642.7h0M1049.2 641.9h0M1007.3 701.1h0M1109.2 654.5h0M1112.9 655.5h0M984.3 714.9h0M984.6 714.5h0M985.3 716.6h0M999.4 674.6h0M999.4 676.0h0M1025.3 697.0h0M1036.6 699.7h0M1012.4 613.9h0M1014.3 612.8h0M1010.3 618.3h0M1009.0 619.6h0M1008.3 620.3h0M1011.1 616.3h0M1003.4 723.3h0M995.4 711.9h0M994.3 712.7h0M997.3 711.5h0M995.2 712.5h0M1002.4 627.1h0M1003.0 628.2h0M1008.4 677.9h0M1010.0 734.0h0M970.6 731.8h0M970.4 728.3h0M987.9 708.8h0M989.2 707.6h0M988.3 708.8h0M1008.2 711.6h0M1005.7 711.1h0M1005.4 712.9h0M985.1 673.6h0M1011.2 626.1h0M1008.0 623.7h0M1041.0 692.1h0M1091.8 661.4h0M1090.0 660.7h0M1038.1 682.4h0M1038.2 683.4h0M1011.7 635.3h0M1011.5 634.5h0M997.7 714.3h0M997.8 713.0h0M1007.9 668.4h0M1010.8 666.5h0M1008.1 666.5h0M983.3 748.0h0M994.0 700.4h0M1062.4 689.7h0M1103.4 666.3h0M1101.9 665.7h0M1003.0 709.4h0M1004.6 708.7h0M1025.5 656.7h0M1026.3 657.0h0M958.0 727.0h0M971.4 774.4h0M972.2 774.7h0M971.9 774.2h0M1020.3 697.8h0M1023.5 651.9h0M1023.1 650.8h0M1004.3 618.4h0M1005.2 685.8h0M1003.2 683.9h0M1015.7 631.4h0M1014.5 633.2h0M1013.9 631.1h0M1041.7 696.9h0M993.4 697.8h0M992.9 696.1h0M992.6 694.4h0M1021.3 700.0h0M970.9 763.6h0M975.1 678.3h0M973.4 680.7h0M956.0 726.9h0M953.7 727.9h0M1032.7 610.0h0M1031.1 609.5h0M1032.1 609.4h0M1034.2 614.8h0M990.2 680.9h0M991.8 682.8h0M989.2 679.2h0M992.2 682.0h0M996.9 635.1h0M995.5 713.6h0M994.0 716.4h0M972.4 692.8h0M958.9 659.4h0M953.9 659.2h0M965.4 655.3h0M967.6 656.7h0M1045.6 689.7h0M959.0 667.7h0M991.2 657.8h0M991.3 658.5h0M967.7 740.6h0M967.7 742.2h0M967.5 739.9h0M970.0 743.9h0M969.5 740.7h0M1049.0 658.0h0M1050.6 657.8h0M1049.5 656.5h0" stroke="rgb(253,231,37)" stroke-width="1.5" stroke-linecap="round" fill="none" stroke-opacity="0.82"/><path d="M1095.9 603.2h0M1090.6 604.1h0M1089.7 602.7h0M1099.1 601.4h0M1091.8 600.5h0M1090.4 604.2h0M1087.0 603.3h0M1097.3 599.6h0M1093.7 601.6h0M1088.7 600.8h0M1085.9 603.4h0M1091.2 601.7h0M1093.5 604.2h0M1098.2 603.8h0M1125.1 629.3h0M1124.4 629.0h0M1132.8 631.0h0M1118.3 627.9h0M1127.2 631.9h0M1120.3 634.7h0M1123.8 627.9h0M1126.9 630.7h0M1136.7 628.5h0M1132.9 629.4h0M1120.6 628.9h0M1128.7 628.6h0M1126.3 632.9h0M1125.9 629.9h0M969.2 743.8h0M970.0 742.6h0M973.9 744.2h0M975.8 746.5h0M971.1 742.7h0M968.3 744.0h0M972.9 745.1h0M959.9 746.4h0M961.1 739.4h0M958.2 739.3h0M964.9 741.4h0M963.0 738.9h0M957.3 745.8h0M958.9 741.8h0M963.5 741.0h0M952.5 735.3h0M1134.4 692.3h0M1139.3 693.2h0M1140.2 694.1h0M1139.6 689.0h0M1139.0 694.0h0M1141.9 692.2h0M1140.9 691.0h0M1135.3 694.5h0M892.6 616.8h0M890.9 614.8h0M887.9 616.8h0M881.5 615.6h0M889.1 614.5h0M885.3 613.0h0M887.5 616.7h0M890.1 617.9h0M870.2 621.2h0M870.9 620.1h0M874.0 619.3h0M881.1 617.6h0M877.3 618.5h0M872.5 622.8h0M897.4 601.7h0M889.6 604.1h0M892.8 599.8h0M892.8 603.0h0M890.6 600.2h0M896.3 600.5h0M1109.2 621.5h0M1106.1 621.7h0M1110.1 622.0h0M1111.0 624.3h0M1108.7 621.5h0M1108.1 622.0h0M1107.5 619.5h0M1109.1 617.9h0M983.2 751.0h0M974.9 751.1h0M986.1 755.0h0M993.0 751.4h0M989.5 749.2h0M988.5 751.6h0M1088.4 736.4h0M1086.4 735.4h0M1096.9 738.0h0M1092.4 737.0h0M1094.2 736.0h0M1093.9 730.2h0M1095.7 736.3h0M1099.6 734.3h0" stroke="#b8b8c4" stroke-width="1.1" stroke-linecap="round" fill="none" stroke-opacity="0.8"/>
<rect x="834.5" y="557.2" width="331.6" height="266.2" fill="none" stroke="#666" stroke-width="1"/>
<path d="M903.8 594.3L877.2 551.1M946.4 610.2L939.8 549.2M984.8 615.6L986.6 555.3M905.9 623.5L843.6 551.1M939.9 626.8L902.0 519.5M1006.4 626.5L1024.4 549.9M886.4 632.7L806.3 560.6M961.8 638.9L963.0 507.8M991.9 637.4L1008.0 520.0M1026.5 638.6L1059.2 549.9M1044.6 641.0L1088.2 549.9M1076.8 620.9L1120.1 541.9M857.1 643.7L794.8 627.2M915.9 652.8L824.8 604.0M881.9 668.2L822.8 659.6M936.0 674.7L822.8 791.2M909.4 681.8L805.3 687.6M926.9 688.0L798.5 770.7M890.8 688.9L828.2 722.7M863.6 690.7L783.2 713.8M997.3 683.6L1035.8 831.2M1033.3 668.8L1160.8 548.0M1057.3 668.5L1176.7 582.6M1047.3 690.7L1219.3 686.4M1091.9 680.0L1184.7 671.0M1137.2 647.2L1181.5 622.3M1137.8 666.4L1215.6 636.2M1015.0 718.2L1074.6 830.7M1105.5 725.0L1187.3 716.6M939.0 736.8L848.7 831.9M965.0 737.4L946.3 861.6M994.3 744.2L1002.6 849.2M1077.1 749.8L1118.6 831.9M937.8 762.6L887.0 830.7M942.8 785.0L927.7 829.5M974.5 783.0L971.0 829.5" stroke="#555" stroke-width="0.8" fill="none" stroke-opacity="0.85"/>
<circle cx="903.8" cy="594.3" r="2.1" fill="#e60012"/>
<circle cx="946.4" cy="610.2" r="2.1" fill="#e60012"/>
<circle cx="984.8" cy="615.6" r="2.1" fill="#e60012"/>
<circle cx="905.9" cy="623.5" r="2.1" fill="#e60012"/>
<circle cx="939.9" cy="626.8" r="2.1" fill="#e60012"/>
<circle cx="1006.4" cy="626.5" r="2.1" fill="#e60012"/>
<circle cx="886.4" cy="632.7" r="2.1" fill="#e60012"/>
<circle cx="961.8" cy="638.9" r="2.1" fill="#e60012"/>
<circle cx="991.9" cy="637.4" r="2.1" fill="#e60012"/>
<circle cx="1026.5" cy="638.6" r="2.1" fill="#e60012"/>
<circle cx="1044.6" cy="641.0" r="2.1" fill="#e60012"/>
<circle cx="1076.8" cy="620.9" r="2.1" fill="#e60012"/>
<circle cx="857.1" cy="643.7" r="2.1" fill="#e60012"/>
<circle cx="915.9" cy="652.8" r="2.1" fill="#e60012"/>
<circle cx="881.9" cy="668.2" r="2.1" fill="#e60012"/>
<circle cx="936.0" cy="674.7" r="2.1" fill="#e60012"/>
<circle cx="909.4" cy="681.8" r="2.1" fill="#e60012"/>
<circle cx="926.9" cy="688.0" r="2.1" fill="#e60012"/>
<circle cx="890.8" cy="688.9" r="2.1" fill="#e60012"/>
<circle cx="863.6" cy="690.7" r="2.1" fill="#e60012"/>
<circle cx="997.3" cy="683.6" r="2.1" fill="#e60012"/>
<circle cx="1033.3" cy="668.8" r="2.1" fill="#e60012"/>
<circle cx="1057.3" cy="668.5" r="2.1" fill="#e60012"/>
<circle cx="1047.3" cy="690.7" r="2.1" fill="#e60012"/>
<circle cx="1091.9" cy="680.0" r="2.1" fill="#e60012"/>
<circle cx="1137.2" cy="647.2" r="2.1" fill="#e60012"/>
<circle cx="1137.8" cy="666.4" r="2.1" fill="#e60012"/>
<circle cx="1015.0" cy="718.2" r="2.1" fill="#e60012"/>
<circle cx="1105.5" cy="725.0" r="2.1" fill="#e60012"/>
<circle cx="939.0" cy="736.8" r="2.1" fill="#e60012"/>
<circle cx="965.0" cy="737.4" r="2.1" fill="#e60012"/>
<circle cx="994.3" cy="744.2" r="2.1" fill="#e60012"/>
<circle cx="1077.1" cy="749.8" r="2.1" fill="#e60012"/>
<circle cx="937.8" cy="762.6" r="2.1" fill="#e60012"/>
<circle cx="942.8" cy="785.0" r="2.1" fill="#e60012"/>
<circle cx="974.5" cy="783.0" r="2.1" fill="#e60012"/>
<path d="M785.7 530.7A1.9 1.6 0 1 1 785.5 532.7Q787.4 532.3 787.5 533.8M799.7 531.0A1.6 1.4 0 1 1 801.7 532.0Q802.4 530.8 803.2 530.5M798.6 562.5A2.2 1.7 0 1 1 802.4 564.2Q802.4 564.1 800.9 563.0M783.3 573.6A1.3 1.1 0 1 1 782.8 571.7Q781.9 571.9 783.1 570.6M785.0 572.4C783.7 577.0 789.3 573.3 788.6 570.9M777.6 537.0C774.7 533.1 778.4 532.8 782.3 535.9M793.3 569.3C796.0 574.9 798.0 574.8 797.3 570.9M787.0 533.8C785.9 529.5 790.6 530.4 791.3 533.0M799.6 566.1C800.4 568.2 781.9 576.7 782.3 573.2M803.3 529.6C804.8 526.2 803.5 527.6 800.7 532.3M783.4 566.1C780.0 571.9 785.0 563.4 785.9 559.8M797.3 534.3C798.7 530.0 794.8 529.1 794.4 534.9" stroke="#2b2c5c" stroke-width="0.55" fill="none" stroke-opacity="0.7"/><path d="M803.3 529.6Q795.0 552.5 782.3 573.2M800.7 532.3Q789.6 547.9 783.4 566.1M797.3 534.3Q792.8 547.6 785.9 559.8M794.4 534.9Q790.8 543.2 788.6 552.0" stroke="#2b2c5c" stroke-width="1.6" fill="none" stroke-linecap="round" stroke-opacity="0.8"/><path d="M803.3 529.6Q795.0 552.5 782.3 573.2M800.7 532.3Q789.6 547.9 783.4 566.1M797.3 534.3Q792.8 547.6 785.9 559.8M794.4 534.9Q790.8 543.2 788.6 552.0" stroke="#9fa2d8" stroke-width="0.8" fill="none" stroke-linecap="round"/><path d="M773.6 537.5Q776.9 555.7 785.0 572.4M777.6 537.0Q780.7 554.7 788.6 570.9M782.3 535.9Q788.7 552.3 793.3 569.3M787.0 533.8Q793.0 552.1 797.3 570.9M791.3 533.0Q795.3 549.6 799.6 566.1" stroke="#2b2c5c" stroke-width="2.0" fill="none" stroke-linecap="round"/><path d="M773.6 537.5Q776.9 555.7 785.0 572.4M777.6 537.0Q780.7 554.7 788.6 570.9M782.3 535.9Q788.7 552.3 793.3 569.3M787.0 533.8Q793.0 552.1 797.3 570.9M791.3 533.0Q795.3 549.6 799.6 566.1" stroke="#7478be" stroke-width="1.25" fill="none" stroke-linecap="round"/><path d="M813.7 517.8A2.2 1.4 0 1 1 811.2 518.8Q811.1 520.7 812.8 520.7M845.2 515.2A1.9 1.3 0 1 1 844.4 513.2Q846.2 513.0 846.3 512.5M835.3 548.9A1.6 1.1 0 1 1 837.3 547.4Q836.9 547.7 835.7 546.1M821.6 510.2A2.2 1.4 0 1 1 822.6 509.0Q822.2 508.9 822.8 508.5M838.3 515.7C840.8 511.2 842.4 511.9 841.1 514.9M822.5 545.7C821.6 549.1 823.3 551.9 825.3 548.8M843.3 516.0C846.5 512.3 835.9 511.7 834.3 516.5M819.3 539.3C817.8 540.1 815.8 535.9 818.6 533.0M830.4 516.0C834.3 511.5 841.0 526.2 838.6 529.9M829.3 548.0C828.8 551.7 832.2 551.9 833.1 548.3M840.1 533.0C846.5 535.6 846.1 537.9 841.1 536.2M836.4 547.2C834.7 550.7 819.5 528.9 819.3 526.7M825.7 517.3C825.5 513.1 828.3 509.2 828.8 513.2" stroke="#2b2c5c" stroke-width="0.55" fill="none" stroke-opacity="0.7"/><path d="M822.2 510.3L828.8 513.2" stroke="#2b2c5c" stroke-width="2.9" fill="none" stroke-dasharray="1.3 0.9" stroke-opacity="0.5"/><path d="M822.2 510.3L828.8 513.2" stroke="#7478be" stroke-width="2.4" fill="none" stroke-dasharray="1.3 0.9"/><path d="M822.2 510.3L828.8 513.2" stroke="#7478be" stroke-width="1.0" fill="none" stroke-opacity="0.85"/><path d="M820.1 548.0Q828.5 531.5 838.3 515.7M822.5 545.7Q832.8 530.9 841.1 514.9M825.3 548.8Q833.2 531.8 843.3 516.0M819.3 539.3Q826.8 527.9 834.3 516.5M818.6 533.0Q825.2 525.0 830.4 516.0M829.3 548.0Q834.5 539.2 838.6 529.9M833.1 548.3Q836.1 540.5 840.1 533.0M836.4 547.2Q839.5 542.0 841.1 536.2M819.3 526.7Q822.7 522.2 825.7 517.3" stroke="#2b2c5c" stroke-width="2.0" fill="none" stroke-linecap="round"/><path d="M820.1 548.0Q828.5 531.5 838.3 515.7M822.5 545.7Q832.8 530.9 841.1 514.9M825.3 548.8Q833.2 531.8 843.3 516.0M819.3 539.3Q826.8 527.9 834.3 516.5M818.6 533.0Q825.2 525.0 830.4 516.0M829.3 548.0Q834.5 539.2 838.6 529.9M833.1 548.3Q836.1 540.5 840.1 533.0M836.4 547.2Q839.5 542.0 841.1 536.2M819.3 526.7Q822.7 522.2 825.7 517.3" stroke="#7478be" stroke-width="1.25" fill="none" stroke-linecap="round"/><path d="M867.1 508.4A1.3 0.8 0 1 1 867.9 509.5Q867.4 510.4 867.1 510.0M874.3 546.2A1.6 1.3 0 1 1 874.7 548.5Q875.7 548.6 875.3 549.4M878.7 532.9A1.3 1.1 0 1 1 876.9 533.2Q877.7 534.0 878.4 534.6M869.8 545.7C871.1 549.9 872.7 547.6 872.5 544.1M863.0 511.8C862.5 506.3 865.8 505.9 866.2 510.2M874.8 540.9C876.8 545.2 879.5 540.5 876.4 536.2M870.1 511.0C869.8 505.4 876.6 508.5 875.6 512.6M863.8 545.7C863.2 549.0 859.7 542.2 862.2 539.3M873.2 511.0C872.4 506.7 870.1 506.1 870.1 510.2M860.6 533.0C858.3 535.9 867.2 550.5 868.5 547.2" stroke="#2b2c5c" stroke-width="0.55" fill="none" stroke-opacity="0.7"/><path d="M875.6 512.6Q869.2 528.9 863.8 545.7M873.2 511.0Q868.9 525.6 862.2 539.3M870.1 510.2Q863.9 521.0 860.6 533.0M876.4 522.0Q874.5 535.2 868.5 547.2" stroke="#2b2c5c" stroke-width="1.6" fill="none" stroke-linecap="round" stroke-opacity="0.8"/><path d="M875.6 512.6Q869.2 528.9 863.8 545.7M873.2 511.0Q868.9 525.6 862.2 539.3M870.1 510.2Q863.9 521.0 860.6 533.0M876.4 522.0Q874.5 535.2 868.5 547.2" stroke="#9fa2d8" stroke-width="0.8" fill="none" stroke-linecap="round"/><path d="M860.6 514.1Q865.7 529.8 869.8 545.7M863.0 511.8Q868.9 527.6 872.5 544.1M866.2 510.2Q870.9 525.4 874.8 540.9M870.1 511.0Q874.8 523.2 876.4 536.2" stroke="#2b2c5c" stroke-width="2.0" fill="none" stroke-linecap="round"/><path d="M860.6 514.1Q865.7 529.8 869.8 545.7M863.0 511.8Q868.9 527.6 872.5 544.1M866.2 510.2Q870.9 525.4 874.8 540.9M870.1 511.0Q874.8 523.2 876.4 536.2" stroke="#7478be" stroke-width="1.25" fill="none" stroke-linecap="round"/><path d="M896.7 514.1A1.9 1.3 0 1 1 894.2 515.9Q894.5 514.7 894.7 514.1M906.7 514.9A1.9 1.7 0 1 1 907.2 517.0Q907.3 517.4 906.8 518.4M903.1 483.9A1.6 1.2 0 1 1 903.1 482.0Q904.2 482.6 904.8 483.7M890.8 486.1A1.3 0.8 0 1 1 888.5 486.6Q887.9 487.0 888.7 486.9M901.3 515.7C901.7 520.6 905.2 520.5 905.2 516.0M891.4 488.9C887.8 485.9 892.6 481.7 894.5 485.8M907.9 512.9C911.1 515.7 910.9 511.7 909.5 509.4M898.5 483.4C898.3 477.3 902.2 476.0 902.4 482.6M911.1 505.0C915.0 505.9 916.8 501.1 911.9 498.7M906.3 484.2C905.6 481.1 889.2 492.1 888.7 493.6" stroke="#2b2c5c" stroke-width="0.55" fill="none" stroke-opacity="0.7"/><path d="M888.7 493.6L891.8 501.5" stroke="#2b2c5c" stroke-width="2.9" fill="none" stroke-dasharray="1.3 0.9" stroke-opacity="0.5"/><path d="M888.7 493.6L891.8 501.5" stroke="#7478be" stroke-width="2.4" fill="none" stroke-dasharray="1.3 0.9"/><path d="M888.7 493.6L891.8 501.5" stroke="#7478be" stroke-width="1.0" fill="none" stroke-opacity="0.85"/><path d="M889.5 493.6Q896.3 504.2 901.3 515.7M891.4 488.9Q899.3 502.0 905.2 516.0M894.5 485.8Q902.7 498.6 907.9 512.9M898.5 483.4Q901.9 497.3 909.5 509.4M902.4 482.6Q907.5 493.5 911.1 505.0M906.3 484.2Q908.9 491.5 911.9 498.7" stroke="#2b2c5c" stroke-width="2.0" fill="none" stroke-linecap="round"/><path d="M889.5 493.6Q896.3 504.2 901.3 515.7M891.4 488.9Q899.3 502.0 905.2 516.0M894.5 485.8Q902.7 498.6 907.9 512.9M898.5 483.4Q901.9 497.3 909.5 509.4M902.4 482.6Q907.5 493.5 911.1 505.0M906.3 484.2Q908.9 491.5 911.9 498.7" stroke="#7478be" stroke-width="1.25" fill="none" stroke-linecap="round"/><path d="M936.8 515.6A3.5 2.8 0 1 1 941.3 517.7Q942.8 515.8 943.3 514.6M926.8 519.8A2.2 1.5 0 1 1 929.8 521.6Q929.6 522.0 930.0 521.4M928.9 548.7A1.9 1.2 0 1 1 930.7 550.5Q931.4 551.5 930.5 552.4M943.9 515.4C945.9 513.0 942.2 513.8 940.7 515.4M933.6 547.0C933.7 552.6 935.8 547.9 936.0 543.8M942.3 518.6C943.5 513.4 933.5 526.9 930.5 532.8M924.2 522.5C921.3 518.7 923.3 516.6 927.3 519.4M932.9 532.0C927.9 535.4 930.7 533.1 934.4 529.6M930.5 517.8C926.7 515.8 918.9 524.5 920.7 528.0M925.8 540.7C927.7 544.5 952.8 545.4 951.3 543.8" stroke="#2b2c5c" stroke-width="0.55" fill="none" stroke-opacity="0.7"/><path d="M924.2 522.5Q927.0 527.9 930.5 532.8M927.3 519.4Q929.1 526.1 932.9 532.0M930.5 517.8Q931.5 524.0 934.4 529.6" stroke="#2b2c5c" stroke-width="1.6" fill="none" stroke-linecap="round" stroke-opacity="0.8"/><path d="M924.2 522.5Q927.0 527.9 930.5 532.8M927.3 519.4Q929.1 526.1 932.9 532.0M930.5 517.8Q931.5 524.0 934.4 529.6" stroke="#9fa2d8" stroke-width="0.8" fill="none" stroke-linecap="round"/><path d="M920.7 528.0L925.8 540.7M945.9 525.7L951.3 543.8" stroke="#2b2c5c" stroke-width="4.7" fill="none" stroke-dasharray="1.3 0.9" stroke-opacity="0.5"/><path d="M920.7 528.0L925.8 540.7M945.9 525.7L951.3 543.8" stroke="#7478be" stroke-width="4.2" fill="none" stroke-dasharray="1.3 0.9"/><path d="M920.7 528.0L925.8 540.7M945.9 525.7L951.3 543.8" stroke="#7478be" stroke-width="1.7" fill="none" stroke-opacity="0.85"/><path d="M930.5 549.3Q938.3 532.8 943.9 515.4M933.6 547.0Q934.9 530.7 940.7 515.4M936.0 543.8Q940.5 531.5 942.3 518.6" stroke="#2b2c5c" stroke-width="2.0" fill="none" stroke-linecap="round"/><path d="M930.5 549.3Q938.3 532.8 943.9 515.4M933.6 547.0Q934.9 530.7 940.7 515.4M936.0 543.8Q940.5 531.5 942.3 518.6" stroke="#7478be" stroke-width="1.25" fill="none" stroke-linecap="round"/><path d="M970.8 477.7A3.2 2.5 0 1 1 973.3 475.8Q973.7 475.2 974.9 473.0M949.7 498.5A1.9 1.5 0 1 1 949.5 496.0Q947.8 495.5 948.0 496.6M967.5 495.7C966.6 498.0 968.6 500.1 968.0 495.7M965.2 477.6C963.9 472.3 967.6 472.8 968.3 477.6M968.6 495.7C971.1 499.1 969.4 500.1 969.6 495.7M971.5 478.4C973.2 475.8 975.9 477.5 973.4 480.0M970.7 495.7C968.3 499.9 955.6 501.3 958.1 496.5M954.4 482.3C951.8 477.8 972.2 479.3 974.1 482.3M977.0 496.5C978.7 499.8 965.0 507.0 965.2 503.6" stroke="#2b2c5c" stroke-width="0.55" fill="none" stroke-opacity="0.7"/><path d="M954.4 482.3L958.1 496.5M974.1 482.3L977.0 496.5M960.4 499.4L965.2 503.6" stroke="#2b2c5c" stroke-width="4.7" fill="none" stroke-dasharray="1.3 0.9" stroke-opacity="0.5"/><path d="M954.4 482.3L958.1 496.5M974.1 482.3L977.0 496.5M960.4 499.4L965.2 503.6" stroke="#7478be" stroke-width="4.2" fill="none" stroke-dasharray="1.3 0.9"/><path d="M954.4 482.3L958.1 496.5M974.1 482.3L977.0 496.5M960.4 499.4L965.2 503.6" stroke="#7478be" stroke-width="1.7" fill="none" stroke-opacity="0.85"/><path d="M962.8 478.4Q966.3 486.8 967.5 495.7M965.2 477.6Q967.7 486.5 968.0 495.7M968.3 477.6Q968.2 486.7 968.6 495.7M971.5 478.4Q971.2 487.1 969.6 495.7M973.4 480.0Q971.1 487.7 970.7 495.7" stroke="#2b2c5c" stroke-width="2.0" fill="none" stroke-linecap="round"/><path d="M962.8 478.4Q966.3 486.8 967.5 495.7M965.2 477.6Q967.7 486.5 968.0 495.7M968.3 477.6Q968.2 486.7 968.6 495.7M971.5 478.4Q971.2 487.1 969.6 495.7M973.4 480.0Q971.1 487.7 970.7 495.7" stroke="#7478be" stroke-width="1.25" fill="none" stroke-linecap="round"/><path d="M1009.6 486.5A2.2 1.5 0 1 1 1011.7 487.8Q1009.6 487.7 1009.2 489.0M1013.0 510.5A2.2 1.8 0 1 1 1008.9 510.1Q1008.3 512.0 1006.9 512.7M1010.9 487.1C1012.3 483.9 1013.0 485.4 1012.8 488.6M1006.9 507.1C1002.5 505.0 995.1 486.3 1000.1 487.1M1004.2 496.5C1002.9 500.1 1003.0 516.1 1004.2 512.3M1001.1 501.6C999.4 498.5 1010.5 488.3 1012.8 493.4" stroke="#2b2c5c" stroke-width="0.55" fill="none" stroke-opacity="0.7"/><path d="M1000.1 487.1L1004.2 496.5M1001.1 501.6L1004.2 512.3" stroke="#2b2c5c" stroke-width="4.1" fill="none" stroke-dasharray="1.3 0.9" stroke-opacity="0.5"/><path d="M1000.1 487.1L1004.2 496.5M1001.1 501.6L1004.2 512.3" stroke="#7478be" stroke-width="3.6" fill="none" stroke-dasharray="1.3 0.9"/><path d="M1000.1 487.1L1004.2 496.5M1001.1 501.6L1004.2 512.3" stroke="#7478be" stroke-width="1.4" fill="none" stroke-opacity="0.85"/><path d="M1012.8 493.4L1018.4 508.3" stroke="#2b2c5c" stroke-width="4.7" fill="none" stroke-dasharray="1.3 0.9" stroke-opacity="0.5"/><path d="M1012.8 493.4L1018.4 508.3" stroke="#7478be" stroke-width="4.2" fill="none" stroke-dasharray="1.3 0.9"/><path d="M1012.8 493.4L1018.4 508.3" stroke="#7478be" stroke-width="1.7" fill="none" stroke-opacity="0.85"/><path d="M1004.6 506.3Q1006.3 496.2 1010.9 487.1M1006.9 507.1Q1009.0 497.6 1012.8 488.6" stroke="#2b2c5c" stroke-width="2.0" fill="none" stroke-linecap="round"/><path d="M1004.6 506.3Q1006.3 496.2 1010.9 487.1M1006.9 507.1Q1009.0 497.6 1012.8 488.6" stroke="#7478be" stroke-width="1.25" fill="none" stroke-linecap="round"/><path d="M983.0 525.7A3.8 3.3 0 1 1 979.0 521.6Q980.1 520.1 981.4 517.1M987.6 543.3A1.6 1.1 0 1 1 988.2 545.2Q986.8 544.3 986.7 543.9M976.3 519.7A1.9 1.6 0 1 1 979.7 518.6Q978.4 517.6 978.5 517.5M989.6 539.1C989.6 540.9 991.7 543.5 990.4 540.7M984.1 517.0C983.8 512.3 991.0 514.7 992.0 518.6M988.0 539.1C988.2 541.3 989.0 544.2 988.8 540.7M993.5 521.7C994.0 517.7 994.4 516.6 993.8 520.5" stroke="#2b2c5c" stroke-width="0.55" fill="none" stroke-opacity="0.7"/><path d="M993.8 520.5L996.4 535.9" stroke="#7478be" stroke-width="2.7" fill="none" stroke-dasharray="1 0.8" stroke-opacity="0.85"/><path d="M993.8 520.5L996.4 535.9" stroke="#9fa2d8" stroke-width="1.4" fill="none"/><path d="M980.9 514.6Q985.6 526.7 989.6 539.1M984.1 517.0Q985.4 529.3 990.4 540.7M992.0 518.6Q990.4 528.9 988.0 539.1M993.5 521.7Q991.7 531.3 988.8 540.7" stroke="#2b2c5c" stroke-width="1.6" fill="none" stroke-linecap="round" stroke-opacity="0.8"/><path d="M980.9 514.6Q985.6 526.7 989.6 539.1M984.1 517.0Q985.4 529.3 990.4 540.7M992.0 518.6Q990.4 528.9 988.0 539.1M993.5 521.7Q991.7 531.3 988.8 540.7" stroke="#9fa2d8" stroke-width="0.8" fill="none" stroke-linecap="round"/><path d="M1024.3 545.9A1.6 1.1 0 1 1 1026.1 546.8Q1026.0 546.5 1026.9 545.5M1019.9 516.6A1.3 1.0 0 1 1 1017.8 516.3Q1017.7 516.1 1019.3 514.8M1022.7 543.8C1021.2 547.7 1025.6 548.4 1024.3 544.6M1020.3 517.8C1018.4 513.0 1022.7 515.1 1022.2 518.6M1025.8 544.6C1026.1 548.9 1031.6 550.9 1031.4 546.2" stroke="#2b2c5c" stroke-width="0.55" fill="none" stroke-opacity="0.7"/><path d="M1027.7 517.0L1031.4 546.2" stroke="#2b2c5c" stroke-width="4.7" fill="none" stroke-dasharray="1.3 0.9" stroke-opacity="0.5"/><path d="M1027.7 517.0L1031.4 546.2" stroke="#7478be" stroke-width="4.2" fill="none" stroke-dasharray="1.3 0.9"/><path d="M1027.7 517.0L1031.4 546.2" stroke="#7478be" stroke-width="1.7" fill="none" stroke-opacity="0.85"/><path d="M1018.0 518.6Q1022.1 530.9 1022.7 543.8M1020.3 517.8Q1023.3 531.0 1024.3 544.6M1022.2 518.6Q1024.4 531.5 1025.8 544.6" stroke="#2b2c5c" stroke-width="2.0" fill="none" stroke-linecap="round"/><path d="M1018.0 518.6Q1022.1 530.9 1022.7 543.8M1020.3 517.8Q1023.3 531.0 1024.3 544.6M1022.2 518.6Q1024.4 531.5 1025.8 544.6" stroke="#7478be" stroke-width="1.25" fill="none" stroke-linecap="round"/><path d="M1068.5 540.2A1.9 1.2 0 1 1 1070.6 538.3Q1071.7 537.4 1072.8 536.9M1072.3 534.3C1075.1 534.5 1064.5 537.1 1061.6 536.2M1045.9 523.3C1041.2 522.7 1037.8 532.0 1043.6 535.1M1051.8 528.4C1050.0 524.9 1054.3 525.1 1056.6 528.4M1047.4 541.0C1046.8 544.7 1054.9 552.2 1056.9 547.0M1063.7 533.1C1065.2 534.1 1068.3 546.2 1066.8 543.8" stroke="#2b2c5c" stroke-width="0.55" fill="none" stroke-opacity="0.7"/><path d="M1048.7 515.7L1072.3 534.3M1045.9 523.3L1061.6 536.2M1043.6 535.1L1051.8 528.4M1047.4 541.0L1056.6 528.4M1056.9 547.0L1063.7 533.1" stroke="#2b2c5c" stroke-width="4.7" fill="none" stroke-dasharray="1.3 0.9" stroke-opacity="0.5"/><path d="M1048.7 515.7L1072.3 534.3M1045.9 523.3L1061.6 536.2M1043.6 535.1L1051.8 528.4M1047.4 541.0L1056.6 528.4M1056.9 547.0L1063.7 533.1" stroke="#7478be" stroke-width="4.2" fill="none" stroke-dasharray="1.3 0.9"/><path d="M1048.7 515.7L1072.3 534.3M1045.9 523.3L1061.6 536.2M1043.6 535.1L1051.8 528.4M1047.4 541.0L1056.6 528.4M1056.9 547.0L1063.7 533.1" stroke="#7478be" stroke-width="1.7" fill="none" stroke-opacity="0.85"/><path d="M1065.6 534.3L1066.8 543.8" stroke="#2b2c5c" stroke-width="3.9" fill="none" stroke-dasharray="1.3 0.9" stroke-opacity="0.5"/><path d="M1065.6 534.3L1066.8 543.8" stroke="#7478be" stroke-width="3.4" fill="none" stroke-dasharray="1.3 0.9"/><path d="M1065.6 534.3L1066.8 543.8" stroke="#7478be" stroke-width="1.4" fill="none" stroke-opacity="0.85"/><path d="M1082.1 528.2A2.2 1.5 0 1 1 1079.2 530.3Q1077.3 529.5 1077.0 529.0M1088.9 543.5C1087.2 546.3 1090.2 545.8 1090.5 543.0M1085.3 527.3C1083.2 524.1 1085.5 522.2 1088.1 525.2M1096.0 534.3C1100.1 535.0 1110.0 540.0 1105.4 539.1M1091.6 533.1C1087.9 530.2 1083.9 532.4 1086.8 534.7" stroke="#2b2c5c" stroke-width="0.55" fill="none" stroke-opacity="0.7"/><path d="M1088.1 525.2L1096.0 534.3M1091.6 533.1L1105.4 539.1M1086.8 534.7L1097.5 545.4" stroke="#2b2c5c" stroke-width="4.7" fill="none" stroke-dasharray="1.3 0.9" stroke-opacity="0.5"/><path d="M1088.1 525.2L1096.0 534.3M1091.6 533.1L1105.4 539.1M1086.8 534.7L1097.5 545.4" stroke="#7478be" stroke-width="4.2" fill="none" stroke-dasharray="1.3 0.9"/><path d="M1088.1 525.2L1096.0 534.3M1091.6 533.1L1105.4 539.1M1086.8 534.7L1097.5 545.4" stroke="#7478be" stroke-width="1.7" fill="none" stroke-opacity="0.85"/><path d="M1083.4 528.0Q1085.0 536.2 1088.9 543.5M1085.3 527.3Q1087.3 535.3 1090.5 543.0" stroke="#2b2c5c" stroke-width="2.0" fill="none" stroke-linecap="round"/><path d="M1083.4 528.0Q1085.0 536.2 1088.9 543.5M1085.3 527.3Q1087.3 535.3 1090.5 543.0" stroke="#7478be" stroke-width="1.25" fill="none" stroke-linecap="round"/><path d="M1134.1 530.5A1.7 1.1 0 1 1 1133.0 531.7Q1131.9 530.3 1132.5 530.2M1124.9 535.7C1125.7 538.4 1136.3 544.2 1137.4 540.2M1127.7 539.0C1124.1 541.2 1129.3 533.3 1132.7 530.2" stroke="#2b2c5c" stroke-width="0.55" fill="none" stroke-opacity="0.7"/><path d="M1126.3 522.1L1124.9 535.7M1127.7 539.0L1137.4 540.2" stroke="#2b2c5c" stroke-width="3.1" fill="none" stroke-dasharray="1.3 0.9" stroke-opacity="0.5"/><path d="M1126.3 522.1L1124.9 535.7M1127.7 539.0L1137.4 540.2" stroke="#7478be" stroke-width="2.6" fill="none" stroke-dasharray="1.3 0.9"/><path d="M1126.3 522.1L1124.9 535.7M1127.7 539.0L1137.4 540.2" stroke="#7478be" stroke-width="1.0" fill="none" stroke-opacity="0.85"/><path d="M1132.7 530.2L1136.0 534.3" stroke="#2b2c5c" stroke-width="2.7" fill="none" stroke-dasharray="1.3 0.9" stroke-opacity="0.5"/><path d="M1132.7 530.2L1136.0 534.3" stroke="#7478be" stroke-width="2.2" fill="none" stroke-dasharray="1.3 0.9"/><path d="M1132.7 530.2L1136.0 534.3" stroke="#7478be" stroke-width="0.9" fill="none" stroke-opacity="0.85"/><path d="M1194.2 545.3A2.2 2.0 0 1 1 1190.9 545.8Q1190.0 545.2 1189.5 545.4M1174.8 527.4C1176.6 526.4 1192.3 522.8 1190.1 526.0M1162.3 531.6C1157.3 532.4 1160.9 540.0 1165.1 538.5M1194.2 535.7C1197.7 536.7 1191.8 543.2 1185.9 541.8M1169.3 544.6C1169.3 549.2 1186.1 544.3 1184.5 540.4M1191.4 551.0C1193.1 555.0 1168.9 542.1 1166.5 537.1" stroke="#2b2c5c" stroke-width="0.55" fill="none" stroke-opacity="0.7"/><path d="M1169.3 514.9L1174.8 527.4M1162.3 531.6L1190.1 526.0M1165.1 538.5L1194.2 535.7M1169.3 544.6L1185.9 541.8M1184.5 540.4L1191.4 551.0M1162.9 523.3L1166.5 537.1" stroke="#2b2c5c" stroke-width="4.7" fill="none" stroke-dasharray="1.3 0.9" stroke-opacity="0.5"/><path d="M1169.3 514.9L1174.8 527.4M1162.3 531.6L1190.1 526.0M1165.1 538.5L1194.2 535.7M1169.3 544.6L1185.9 541.8M1184.5 540.4L1191.4 551.0M1162.9 523.3L1166.5 537.1" stroke="#7478be" stroke-width="4.2" fill="none" stroke-dasharray="1.3 0.9"/><path d="M1169.3 514.9L1174.8 527.4M1162.3 531.6L1190.1 526.0M1165.1 538.5L1194.2 535.7M1169.3 544.6L1185.9 541.8M1184.5 540.4L1191.4 551.0M1162.9 523.3L1166.5 537.1" stroke="#7478be" stroke-width="1.7" fill="none" stroke-opacity="0.85"/><path d="M1198.6 573.6A1.7 1.5 0 1 1 1195.9 572.0Q1196.8 571.8 1196.2 571.9M1188.7 585.6C1189.4 587.5 1200.0 588.0 1198.4 585.6M1189.2 569.0C1185.0 565.2 1176.2 574.6 1180.4 576.5" stroke="#2b2c5c" stroke-width="0.55" fill="none" stroke-opacity="0.7"/><path d="M1183.1 564.8L1188.7 585.6M1189.2 569.0L1198.4 585.6" stroke="#2b2c5c" stroke-width="4.3" fill="none" stroke-dasharray="1.3 0.9" stroke-opacity="0.5"/><path d="M1183.1 564.8L1188.7 585.6M1189.2 569.0L1198.4 585.6" stroke="#7478be" stroke-width="3.8" fill="none" stroke-dasharray="1.3 0.9"/><path d="M1183.1 564.8L1188.7 585.6M1189.2 569.0L1198.4 585.6" stroke="#7478be" stroke-width="1.5" fill="none" stroke-opacity="0.85"/><path d="M1180.4 576.5L1194.2 579.2" stroke="#2b2c5c" stroke-width="3.9" fill="none" stroke-dasharray="1.3 0.9" stroke-opacity="0.5"/><path d="M1180.4 576.5L1194.2 579.2" stroke="#7478be" stroke-width="3.4" fill="none" stroke-dasharray="1.3 0.9"/><path d="M1180.4 576.5L1194.2 579.2" stroke="#7478be" stroke-width="1.4" fill="none" stroke-opacity="0.85"/><path d="M1203.4 601.9A1.7 1.4 0 1 1 1201.0 602.4Q1201.5 601.7 1200.6 601.0M1190.1 634.1C1188.4 635.4 1194.2 639.2 1194.2 635.5M1189.5 603.6C1189.6 600.1 1194.5 601.1 1194.8 603.1M1198.4 635.5C1200.2 639.4 1200.6 638.4 1201.1 634.1M1199.8 603.6C1200.4 599.3 1204.9 599.6 1203.9 605.0" stroke="#2b2c5c" stroke-width="0.55" fill="none" stroke-opacity="0.7"/><path d="M1184.8 605.0L1190.1 634.1M1189.5 603.6L1194.2 635.5M1194.8 603.1L1198.4 635.5M1199.8 603.6L1201.1 634.1M1203.9 605.0L1204.7 628.5" stroke="#2b2c5c" stroke-width="4.0" fill="none" stroke-dasharray="1.3 0.9" stroke-opacity="0.5"/><path d="M1184.8 605.0L1190.1 634.1M1189.5 603.6L1194.2 635.5M1194.8 603.1L1198.4 635.5M1199.8 603.6L1201.1 634.1M1203.9 605.0L1204.7 628.5" stroke="#7478be" stroke-width="3.5" fill="none" stroke-dasharray="1.3 0.9"/><path d="M1184.8 605.0L1190.1 634.1M1189.5 603.6L1194.2 635.5M1194.8 603.1L1198.4 635.5M1199.8 603.6L1201.1 634.1M1203.9 605.0L1204.7 628.5" stroke="#7478be" stroke-width="1.4" fill="none" stroke-opacity="0.85"/><path d="M1224.2 617.5A1.4 1.0 0 1 1 1226.1 616.7Q1227.4 617.1 1226.7 616.3M1220.3 656.3C1220.4 662.0 1223.3 663.8 1223.6 657.6M1228.8 619.4C1229.6 616.4 1223.9 613.8 1223.3 618.0" stroke="#2b2c5c" stroke-width="0.55" fill="none" stroke-opacity="0.7"/><path d="M1226.1 617.5L1220.3 656.3M1228.8 619.4L1223.6 657.6M1223.3 618.0L1218.6 653.5" stroke="#2b2c5c" stroke-width="4.0" fill="none" stroke-dasharray="1.3 0.9" stroke-opacity="0.5"/><path d="M1226.1 617.5L1220.3 656.3M1228.8 619.4L1223.6 657.6M1223.3 618.0L1218.6 653.5" stroke="#7478be" stroke-width="3.5" fill="none" stroke-dasharray="1.3 0.9"/><path d="M1226.1 617.5L1220.3 656.3M1228.8 619.4L1223.6 657.6M1223.3 618.0L1218.6 653.5" stroke="#7478be" stroke-width="1.4" fill="none" stroke-opacity="0.85"/><path d="M1201.2 681.7A1.7 1.0 0 1 1 1199.7 680.1Q1200.2 680.3 1200.0 681.2M1192.0 679.8C1189.9 685.5 1194.5 687.0 1197.3 681.2M1198.9 656.3C1201.3 653.1 1204.7 652.3 1203.1 655.7" stroke="#2b2c5c" stroke-width="0.55" fill="none" stroke-opacity="0.7"/><path d="M1195.6 655.1L1192.0 679.8M1198.9 656.3L1197.3 681.2M1203.1 655.7L1202.0 681.2" stroke="#2b2c5c" stroke-width="4.0" fill="none" stroke-dasharray="1.3 0.9" stroke-opacity="0.5"/><path d="M1195.6 655.1L1192.0 679.8M1198.9 656.3L1197.3 681.2M1203.1 655.7L1202.0 681.2" stroke="#7478be" stroke-width="3.5" fill="none" stroke-dasharray="1.3 0.9"/><path d="M1195.6 655.1L1192.0 679.8M1198.9 656.3L1197.3 681.2M1203.1 655.7L1202.0 681.2" stroke="#7478be" stroke-width="1.4" fill="none" stroke-opacity="0.85"/><path d="M1238.4 670.2A1.7 1.3 0 1 1 1237.4 672.5Q1237.0 674.2 1237.5 674.0M1226.9 696.4C1224.9 698.7 1229.9 704.8 1231.9 702.0M1235.8 674.3C1237.8 671.1 1241.1 668.2 1239.9 672.9M1235.8 697.8C1237.0 700.7 1241.5 697.4 1240.2 695.0" stroke="#2b2c5c" stroke-width="0.55" fill="none" stroke-opacity="0.7"/><path d="M1230.2 674.3L1226.9 696.4M1235.8 674.3L1231.9 702.0M1239.9 672.9L1235.8 697.8M1243.0 674.3L1240.2 695.0" stroke="#2b2c5c" stroke-width="4.0" fill="none" stroke-dasharray="1.3 0.9" stroke-opacity="0.5"/><path d="M1230.2 674.3L1226.9 696.4M1235.8 674.3L1231.9 702.0M1239.9 672.9L1235.8 697.8M1243.0 674.3L1240.2 695.0" stroke="#7478be" stroke-width="3.5" fill="none" stroke-dasharray="1.3 0.9"/><path d="M1230.2 674.3L1226.9 696.4M1235.8 674.3L1231.9 702.0M1239.9 672.9L1235.8 697.8M1243.0 674.3L1240.2 695.0" stroke="#7478be" stroke-width="1.4" fill="none" stroke-opacity="0.85"/><path d="M1210.7 702.1A1.7 1.1 0 1 1 1207.8 702.5Q1208.2 702.1 1206.9 703.0M1192.0 722.8C1190.3 725.5 1193.1 729.3 1197.0 725.5M1197.5 700.0C1197.9 695.8 1200.9 694.1 1202.0 699.2M1202.0 726.9C1204.0 730.3 1207.7 731.2 1207.5 726.9M1206.7 702.0C1208.8 696.1 1213.3 700.5 1211.4 704.7" stroke="#2b2c5c" stroke-width="0.55" fill="none" stroke-opacity="0.7"/><path d="M1192.8 700.6L1192.0 722.8M1197.5 700.0L1197.0 725.5M1202.0 699.2L1202.0 726.9M1206.7 702.0L1207.5 726.9M1211.4 704.7L1211.4 725.5" stroke="#2b2c5c" stroke-width="4.0" fill="none" stroke-dasharray="1.3 0.9" stroke-opacity="0.5"/><path d="M1192.8 700.6L1192.0 722.8M1197.5 700.0L1197.0 725.5M1202.0 699.2L1202.0 726.9M1206.7 702.0L1207.5 726.9M1211.4 704.7L1211.4 725.5" stroke="#7478be" stroke-width="3.5" fill="none" stroke-dasharray="1.3 0.9"/><path d="M1192.8 700.6L1192.0 722.8M1197.5 700.0L1197.0 725.5M1202.0 699.2L1202.0 726.9M1206.7 702.0L1207.5 726.9M1211.4 704.7L1211.4 725.5" stroke="#7478be" stroke-width="1.4" fill="none" stroke-opacity="0.85"/><path d="M812.7 593.5A2.5 1.6 0 1 1 815.1 596.1Q815.7 596.9 815.6 596.9M806.7 583.9A2.5 1.8 0 1 1 805.8 581.7Q807.9 581.4 808.5 580.6M800.3 611.7A1.8 1.2 0 1 1 797.9 611.2Q797.8 610.5 799.4 611.1M806.5 585.2C806.0 581.3 809.6 583.2 808.5 587.3M797.3 609.8C795.9 615.1 799.2 615.8 800.3 610.9M810.2 589.3C814.9 585.7 816.4 588.2 811.6 593.4M804.4 611.9C803.7 613.8 808.7 614.5 808.5 611.9M813.6 597.5C817.6 593.1 801.6 594.0 798.7 597.1" stroke="#2b2c5c" stroke-width="0.55" fill="none" stroke-opacity="0.7"/><path d="M793.2 593.0L798.7 597.1" stroke="#2b2c5c" stroke-width="2.9" fill="none" stroke-dasharray="1.3 0.9" stroke-opacity="0.5"/><path d="M793.2 593.0L798.7 597.1" stroke="#7478be" stroke-width="2.4" fill="none" stroke-dasharray="1.3 0.9"/><path d="M793.2 593.0L798.7 597.1" stroke="#7478be" stroke-width="1.0" fill="none" stroke-opacity="0.85"/><path d="M794.2 607.8Q799.9 596.3 806.5 585.2M797.3 609.8Q801.5 597.9 808.5 587.3M800.3 610.9Q805.6 600.3 810.2 589.3M804.4 611.9Q807.6 602.5 811.6 593.4M808.5 611.9Q811.5 604.9 813.6 597.5" stroke="#2b2c5c" stroke-width="2.0" fill="none" stroke-linecap="round"/><path d="M794.2 607.8Q799.9 596.3 806.5 585.2M797.3 609.8Q801.5 597.9 808.5 587.3M800.3 610.9Q805.6 600.3 810.2 589.3M804.4 611.9Q807.6 602.5 811.6 593.4M808.5 611.9Q811.5 604.9 813.6 597.5" stroke="#7478be" stroke-width="1.25" fill="none" stroke-linecap="round"/><path d="M779.0 605.8A2.9 2.5 0 1 1 780.8 608.1Q779.8 608.6 777.9 609.9M767.0 604.7A2.0 1.5 0 1 1 765.9 602.2Q766.2 602.8 767.0 604.2M777.4 641.8A2.5 2.0 0 1 1 779.5 643.8Q779.4 643.9 779.9 642.6M769.6 639.6A2.0 1.3 0 1 1 772.3 641.0Q770.8 640.9 771.0 641.8M771.6 636.5C771.1 640.7 775.4 640.9 775.7 638.5M770.6 608.8C768.0 603.3 773.2 601.2 773.7 607.8M778.8 640.6C779.5 643.8 781.8 643.1 781.5 638.5M777.8 608.8C778.6 603.9 780.8 607.7 780.9 609.8M783.5 634.4C783.7 637.0 770.2 639.6 770.6 634.4" stroke="#2b2c5c" stroke-width="0.55" fill="none" stroke-opacity="0.7"/><path d="M767.5 609.8Q768.8 623.3 771.6 636.5M770.6 608.8Q773.1 623.7 775.7 638.5M773.7 607.8Q778.6 623.8 778.8 640.6M777.8 608.8Q780.1 623.6 781.5 638.5M780.9 609.8Q781.1 622.2 783.5 634.4M782.9 607.8Q777.0 621.2 770.6 634.4" stroke="#2b2c5c" stroke-width="1.6" fill="none" stroke-linecap="round" stroke-opacity="0.8"/><path d="M767.5 609.8Q768.8 623.3 771.6 636.5M770.6 608.8Q773.1 623.7 775.7 638.5M773.7 607.8Q778.6 623.8 778.8 640.6M777.8 608.8Q780.1 623.6 781.5 638.5M780.9 609.8Q781.1 622.2 783.5 634.4M782.9 607.8Q777.0 621.2 770.6 634.4" stroke="#9fa2d8" stroke-width="0.8" fill="none" stroke-linecap="round"/><path d="M808.5 639.4A2.5 2.1 0 1 1 809.4 642.4Q808.8 641.6 810.2 639.7M801.6 671.4A2.0 1.8 0 1 1 804.1 672.2Q806.1 672.4 806.1 671.6M816.7 660.2A2.0 1.3 0 1 1 814.0 659.9Q814.8 660.5 813.6 662.3M804.4 669.3C803.8 672.9 805.8 672.5 806.5 668.2M798.7 641.6C796.7 638.8 799.1 637.5 801.4 640.6M808.5 667.2C809.9 671.5 802.2 674.4 803.4 668.2M812.6 642.6C816.1 637.2 817.1 642.6 814.7 645.7M806.5 670.3C804.4 674.6 800.5 669.7 801.4 665.2" stroke="#2b2c5c" stroke-width="0.55" fill="none" stroke-opacity="0.7"/><path d="M812.6 642.6Q807.0 655.1 803.4 668.2M814.7 645.7Q811.1 658.2 806.5 670.3M810.6 640.6Q804.9 652.5 801.4 665.2" stroke="#2b2c5c" stroke-width="1.6" fill="none" stroke-linecap="round" stroke-opacity="0.8"/><path d="M812.6 642.6Q807.0 655.1 803.4 668.2M814.7 645.7Q811.1 658.2 806.5 670.3M810.6 640.6Q804.9 652.5 801.4 665.2" stroke="#9fa2d8" stroke-width="0.8" fill="none" stroke-linecap="round"/><path d="M796.2 642.6Q801.8 655.5 804.4 669.3M798.7 641.6Q802.5 654.9 806.5 668.2M801.4 640.6Q802.9 654.4 808.5 667.2" stroke="#2b2c5c" stroke-width="2.0" fill="none" stroke-linecap="round"/><path d="M796.2 642.6Q801.8 655.5 804.4 669.3M798.7 641.6Q802.5 654.9 806.5 668.2M801.4 640.6Q802.9 654.4 808.5 667.2" stroke="#7478be" stroke-width="1.25" fill="none" stroke-linecap="round"/><path d="M787.2 672.9A2.9 1.8 0 1 1 787.1 676.3Q787.3 675.8 788.1 675.4M796.5 682.5A2.5 2.2 0 1 1 799.2 685.7Q799.5 685.5 799.6 684.3M785.6 704.6A2.5 1.8 0 1 1 785.8 702.1Q784.2 702.9 782.9 703.7M795.2 677.5C798.4 672.4 799.5 676.5 797.3 681.6M789.1 703.1C789.1 705.3 792.1 703.5 792.1 700.0M798.7 685.7C802.9 681.9 783.9 692.2 780.9 694.9M776.8 686.1C773.7 684.6 780.1 681.7 785.2 685.7" stroke="#2b2c5c" stroke-width="0.55" fill="none" stroke-opacity="0.7"/><path d="M776.8 686.1L780.9 694.9M785.2 685.7L789.1 694.9" stroke="#2b2c5c" stroke-width="3.9" fill="none" stroke-dasharray="1.3 0.9" stroke-opacity="0.5"/><path d="M776.8 686.1L780.9 694.9M785.2 685.7L789.1 694.9" stroke="#7478be" stroke-width="3.4" fill="none" stroke-dasharray="1.3 0.9"/><path d="M776.8 686.1L780.9 694.9M785.2 685.7L789.1 694.9" stroke="#7478be" stroke-width="1.4" fill="none" stroke-opacity="0.85"/><path d="M786.0 702.0Q792.3 690.4 795.2 677.5M789.1 703.1Q791.7 691.8 797.3 681.6M792.1 700.0Q795.3 692.8 798.7 685.7" stroke="#2b2c5c" stroke-width="2.0" fill="none" stroke-linecap="round"/><path d="M786.0 702.0Q792.3 690.4 795.2 677.5M789.1 703.1Q791.7 691.8 797.3 681.6M792.1 700.0Q795.3 692.8 798.7 685.7" stroke="#7478be" stroke-width="1.25" fill="none" stroke-linecap="round"/><path d="M762.2 701.9A2.9 2.2 0 1 1 760.0 705.3Q761.6 705.3 762.9 703.9M777.6 730.2A2.9 2.0 0 1 1 777.2 727.0Q777.4 725.1 777.7 724.9M764.5 741.1A2.5 1.7 0 1 1 761.6 738.5Q762.6 738.4 764.4 737.1M773.6 707.8A2.0 1.4 0 1 1 771.7 709.0Q772.2 708.2 772.3 708.5M765.5 736.9C767.1 740.0 769.2 737.1 767.5 734.8M760.4 713.3C757.5 711.6 753.9 706.3 755.2 710.2M763.4 726.6C764.2 729.2 765.4 736.1 764.5 734.8M773.7 710.2C775.2 707.6 774.6 711.3 771.6 714.3" stroke="#2b2c5c" stroke-width="0.55" fill="none" stroke-opacity="0.7"/><path d="M757.3 714.3Q762.4 725.2 765.5 736.9M760.4 713.3Q762.4 724.6 767.5 734.8M755.2 710.2Q760.4 717.9 763.4 726.6M773.7 710.2Q770.8 723.2 764.5 734.8M771.6 714.3Q768.1 722.4 765.5 730.7" stroke="#2b2c5c" stroke-width="1.6" fill="none" stroke-linecap="round" stroke-opacity="0.8"/><path d="M757.3 714.3Q762.4 725.2 765.5 736.9M760.4 713.3Q762.4 724.6 767.5 734.8M755.2 710.2Q760.4 717.9 763.4 726.6M773.7 710.2Q770.8 723.2 764.5 734.8M771.6 714.3Q768.1 722.4 765.5 730.7" stroke="#9fa2d8" stroke-width="0.8" fill="none" stroke-linecap="round"/><path d="M818.3 717.4A2.9 1.8 0 1 1 816.5 714.7Q817.4 715.1 817.5 717.4M818.5 743.8A2.5 2.1 0 1 1 820.0 747.6Q820.4 745.9 821.6 746.2M812.6 747.1C814.7 752.7 817.6 749.4 815.7 746.1M806.5 716.4C805.9 714.6 808.8 711.0 809.5 715.4M817.7 745.1C818.9 747.4 822.6 746.1 819.8 743.0M812.6 714.3C811.6 711.3 803.0 721.4 802.4 724.6M808.5 749.2C808.0 751.9 799.1 728.4 801.6 724.6M794.2 720.9C791.4 720.2 790.7 736.2 794.2 737.3" stroke="#2b2c5c" stroke-width="0.55" fill="none" stroke-opacity="0.7"/><path d="M794.2 720.9L801.6 724.6" stroke="#2b2c5c" stroke-width="3.9" fill="none" stroke-dasharray="1.3 0.9" stroke-opacity="0.5"/><path d="M794.2 720.9L801.6 724.6" stroke="#7478be" stroke-width="3.4" fill="none" stroke-dasharray="1.3 0.9"/><path d="M794.2 720.9L801.6 724.6" stroke="#7478be" stroke-width="1.4" fill="none" stroke-opacity="0.85"/><path d="M794.2 737.3L804.4 745.1" stroke="#2b2c5c" stroke-width="4.1" fill="none" stroke-dasharray="1.3 0.9" stroke-opacity="0.5"/><path d="M794.2 737.3L804.4 745.1" stroke="#7478be" stroke-width="3.6" fill="none" stroke-dasharray="1.3 0.9"/><path d="M794.2 737.3L804.4 745.1" stroke="#7478be" stroke-width="1.4" fill="none" stroke-opacity="0.85"/><path d="M803.4 718.4Q806.7 733.2 812.6 747.1M806.5 716.4Q809.5 731.7 815.7 746.1M809.5 715.4Q814.6 730.0 817.7 745.1M812.6 714.3Q818.0 728.2 819.8 743.0M802.4 724.6Q806.4 736.6 808.5 749.2" stroke="#2b2c5c" stroke-width="2.0" fill="none" stroke-linecap="round"/><path d="M803.4 718.4Q806.7 733.2 812.6 747.1M806.5 716.4Q809.5 731.7 815.7 746.1M809.5 715.4Q814.6 730.0 817.7 745.1M812.6 714.3Q818.0 728.2 819.8 743.0M802.4 724.6Q806.4 736.6 808.5 749.2" stroke="#7478be" stroke-width="1.25" fill="none" stroke-linecap="round"/><path d="M790.6 775.4A2.8 2.4 0 1 1 795.1 773.5Q796.5 773.2 796.0 774.5M779.8 801.2A2.0 1.4 0 1 1 778.2 803.5Q778.7 803.5 778.8 805.2M781.1 763.5A1.6 1.1 0 1 1 779.1 762.6Q779.4 761.8 780.0 761.7M789.4 772.6C790.0 771.2 793.0 773.6 791.4 774.6M781.5 800.2C780.9 801.9 778.9 801.8 777.6 798.2M786.4 770.6C791.3 767.4 787.1 793.4 782.5 796.2M769.7 784.4C767.4 783.2 768.0 781.9 771.7 782.4M784.5 794.3C789.3 798.2 783.8 789.2 781.5 784.4M775.6 764.7C774.2 761.0 768.9 780.5 768.9 782.8" stroke="#2b2c5c" stroke-width="0.55" fill="none" stroke-opacity="0.7"/><path d="M768.9 782.8L774.6 788.3" stroke="#2b2c5c" stroke-width="3.5" fill="none" stroke-dasharray="1.3 0.9" stroke-opacity="0.5"/><path d="M768.9 782.8L774.6 788.3" stroke="#7478be" stroke-width="3.0" fill="none" stroke-dasharray="1.3 0.9"/><path d="M768.9 782.8L774.6 788.3" stroke="#7478be" stroke-width="1.2" fill="none" stroke-opacity="0.85"/><path d="M779.6 802.1Q784.2 787.3 789.4 772.6M781.5 800.2Q785.5 787.0 791.4 774.6M777.6 798.2Q782.2 784.5 786.4 770.6M769.7 784.4Q775.2 791.3 782.5 796.2M771.7 782.4Q778.2 788.2 784.5 794.3M775.6 764.7Q779.5 774.3 781.5 784.4" stroke="#2b2c5c" stroke-width="2.0" fill="none" stroke-linecap="round"/><path d="M779.6 802.1Q784.2 787.3 789.4 772.6M781.5 800.2Q785.5 787.0 791.4 774.6M777.6 798.2Q782.2 784.5 786.4 770.6M769.7 784.4Q775.2 791.3 782.5 796.2M771.7 782.4Q778.2 788.2 784.5 794.3M775.6 764.7Q779.5 774.3 781.5 784.4" stroke="#7478be" stroke-width="1.25" fill="none" stroke-linecap="round"/><path d="M811.9 794.0A3.2 2.8 0 1 1 816.3 796.8Q816.4 799.0 817.3 800.0M795.6 808.1A2.8 1.8 0 1 1 800.3 809.6Q801.7 810.3 803.2 809.4M819.0 796.2C821.3 792.1 824.0 795.9 820.9 800.2M812.1 820.8C813.7 825.0 814.8 822.8 815.0 819.9M822.9 804.1C824.7 798.5 805.8 798.6 803.2 804.1M799.3 821.8C795.9 823.8 799.9 825.5 801.6 822.2M805.6 805.1C804.4 801.5 807.5 802.9 809.1 806.1M803.2 801.3C799.7 799.1 810.2 810.3 813.4 812.4" stroke="#2b2c5c" stroke-width="0.55" fill="none" stroke-opacity="0.7"/><path d="M799.3 821.8Q800.8 812.9 803.2 804.1M801.6 822.2Q803.8 813.7 805.6 805.1" stroke="#2b2c5c" stroke-width="1.6" fill="none" stroke-linecap="round" stroke-opacity="0.8"/><path d="M799.3 821.8Q800.8 812.9 803.2 804.1M801.6 822.2Q803.8 813.7 805.6 805.1" stroke="#9fa2d8" stroke-width="0.8" fill="none" stroke-linecap="round"/><path d="M803.2 801.3L809.1 806.1" stroke="#2b2c5c" stroke-width="3.7" fill="none" stroke-dasharray="1.3 0.9" stroke-opacity="0.5"/><path d="M803.2 801.3L809.1 806.1" stroke="#7478be" stroke-width="3.2" fill="none" stroke-dasharray="1.3 0.9"/><path d="M803.2 801.3L809.1 806.1" stroke="#7478be" stroke-width="1.3" fill="none" stroke-opacity="0.85"/><path d="M813.4 812.4L823.9 817.9" stroke="#2b2c5c" stroke-width="4.1" fill="none" stroke-dasharray="1.3 0.9" stroke-opacity="0.5"/><path d="M813.4 812.4L823.9 817.9" stroke="#7478be" stroke-width="3.6" fill="none" stroke-dasharray="1.3 0.9"/><path d="M813.4 812.4L823.9 817.9" stroke="#7478be" stroke-width="1.4" fill="none" stroke-opacity="0.85"/><path d="M809.1 819.9Q814.6 808.3 819.0 796.2M812.1 820.8Q816.5 810.5 820.9 800.2M815.0 819.9Q819.9 812.5 822.9 804.1" stroke="#2b2c5c" stroke-width="2.0" fill="none" stroke-linecap="round"/><path d="M809.1 819.9Q814.6 808.3 819.0 796.2M812.1 820.8Q816.5 810.5 820.9 800.2M815.0 819.9Q819.9 812.5 822.9 804.1" stroke="#7478be" stroke-width="1.25" fill="none" stroke-linecap="round"/><path d="M830.9 836.4A3.5 2.4 0 1 1 824.7 836.5Q826.1 834.7 827.9 833.3M826.4 843.7A2.4 1.5 0 1 1 823.6 842.4Q823.3 844.0 825.0 843.7M837.7 837.6C838.4 834.7 840.1 836.2 840.6 838.6M832.7 872.1C830.4 876.9 832.9 877.8 834.7 873.1M843.6 841.5C845.8 836.4 847.8 839.8 846.5 845.5M836.7 873.1C836.6 878.8 836.4 878.9 838.7 874.0M848.5 851.4C850.7 848.4 855.2 850.4 850.5 851.4M846.9 838.8C849.7 836.6 853.1 847.6 851.7 849.8M856.4 861.2C858.7 860.7 857.9 862.8 854.4 861.6M833.1 875.0C828.8 876.8 817.2 853.3 822.1 850.6" stroke="#2b2c5c" stroke-width="0.55" fill="none" stroke-opacity="0.7"/><path d="M846.9 838.8L850.5 851.4M851.7 849.8L856.4 861.2" stroke="#2b2c5c" stroke-width="4.1" fill="none" stroke-dasharray="1.3 0.9" stroke-opacity="0.5"/><path d="M846.9 838.8L850.5 851.4M851.7 849.8L856.4 861.2" stroke="#7478be" stroke-width="3.6" fill="none" stroke-dasharray="1.3 0.9"/><path d="M846.9 838.8L850.5 851.4M851.7 849.8L856.4 861.2" stroke="#7478be" stroke-width="1.4" fill="none" stroke-opacity="0.85"/><path d="M833.1 875.0L854.4 861.6" stroke="#2b2c5c" stroke-width="4.3" fill="none" stroke-dasharray="1.3 0.9" stroke-opacity="0.5"/><path d="M833.1 875.0L854.4 861.6" stroke="#7478be" stroke-width="3.8" fill="none" stroke-dasharray="1.3 0.9"/><path d="M833.1 875.0L854.4 861.6" stroke="#7478be" stroke-width="1.5" fill="none" stroke-opacity="0.85"/><path d="M822.1 850.6L830.8 855.3" stroke="#2b2c5c" stroke-width="3.5" fill="none" stroke-dasharray="1.3 0.9" stroke-opacity="0.5"/><path d="M822.1 850.6L830.8 855.3" stroke="#7478be" stroke-width="3.0" fill="none" stroke-dasharray="1.3 0.9"/><path d="M822.1 850.6L830.8 855.3" stroke="#7478be" stroke-width="1.2" fill="none" stroke-opacity="0.85"/><path d="M830.8 871.1Q833.5 854.2 837.7 837.6M832.7 872.1Q837.2 855.4 840.6 838.6M834.7 873.1Q840.4 857.7 843.6 841.5M836.7 873.1Q841.4 859.2 846.5 845.5M838.7 874.0Q844.3 863.0 848.5 851.4" stroke="#2b2c5c" stroke-width="2.3" fill="none" stroke-linecap="round"/><path d="M830.8 871.1Q833.5 854.2 837.7 837.6M832.7 872.1Q837.2 855.4 840.6 838.6M834.7 873.1Q840.4 857.7 843.6 841.5M836.7 873.1Q841.4 859.2 846.5 845.5M838.7 874.0Q844.3 863.0 848.5 851.4" stroke="#4d4f8c" stroke-width="0.9" fill="none" stroke-linecap="round"/><path d="M876.0 856.1A3.2 2.1 0 1 1 875.0 853.6Q872.7 852.4 872.3 850.2M896.7 838.7A2.4 1.7 0 1 1 895.4 835.9Q896.3 834.9 897.1 835.8M892.4 861.6A2.0 1.6 0 1 1 889.9 862.9Q891.1 863.9 891.5 863.5M891.8 835.6C892.4 832.9 896.7 832.8 893.2 837.6M887.9 860.2C885.0 860.2 873.6 843.4 876.5 843.5M885.9 859.3C883.9 862.2 880.9 862.1 882.0 858.3" stroke="#2b2c5c" stroke-width="0.55" fill="none" stroke-opacity="0.7"/><path d="M876.5 843.5L885.9 859.3" stroke="#7478be" stroke-width="3.5" fill="none" stroke-dasharray="1 0.8" stroke-opacity="0.85"/><path d="M876.5 843.5L885.9 859.3" stroke="#9fa2d8" stroke-width="1.8" fill="none"/><path d="M879.0 847.4L882.0 858.3" stroke="#7478be" stroke-width="2.4" fill="none" stroke-dasharray="1 0.8" stroke-opacity="0.85"/><path d="M879.0 847.4L882.0 858.3" stroke="#9fa2d8" stroke-width="1.2" fill="none"/><path d="M885.9 861.2Q888.4 848.3 891.8 835.6M887.9 860.2Q889.4 848.6 893.2 837.6" stroke="#2b2c5c" stroke-width="1.6" fill="none" stroke-linecap="round" stroke-opacity="0.8"/><path d="M885.9 861.2Q888.4 848.3 891.8 835.6M887.9 860.2Q889.4 848.6 893.2 837.6" stroke="#9fa2d8" stroke-width="0.8" fill="none" stroke-linecap="round"/><path d="M919.3 833.2A2.0 1.7 0 1 1 916.9 832.0Q916.1 831.6 915.5 831.6M936.1 848.1A2.0 1.5 0 1 1 934.7 846.4Q935.6 847.8 935.7 848.1M933.2 861.2C938.1 865.8 938.5 861.4 935.2 857.3M921.4 834.6C921.2 831.0 916.0 832.4 917.5 837.6M930.3 862.2C929.4 866.2 915.4 861.8 914.7 859.3" stroke="#2b2c5c" stroke-width="0.55" fill="none" stroke-opacity="0.7"/><path d="M912.7 835.6L914.7 859.3" stroke="#2b2c5c" stroke-width="4.3" fill="none" stroke-dasharray="1.3 0.9" stroke-opacity="0.5"/><path d="M912.7 835.6L914.7 859.3" stroke="#7478be" stroke-width="3.8" fill="none" stroke-dasharray="1.3 0.9"/><path d="M912.7 835.6L914.7 859.3" stroke="#7478be" stroke-width="1.5" fill="none" stroke-opacity="0.85"/><path d="M919.4 835.6Q926.2 848.5 933.2 861.2M921.4 834.6Q927.1 846.7 935.2 857.3M917.5 837.6Q924.4 849.6 930.3 862.2" stroke="#2b2c5c" stroke-width="2.0" fill="none" stroke-linecap="round"/><path d="M919.4 835.6Q926.2 848.5 933.2 861.2M921.4 834.6Q927.1 846.7 935.2 857.3M917.5 837.6Q924.4 849.6 930.3 862.2" stroke="#7478be" stroke-width="1.25" fill="none" stroke-linecap="round"/><path d="M973.3 836.8A2.8 2.2 0 1 1 971.2 833.5Q969.0 832.1 968.9 832.1M980.0 862.4A2.8 1.7 0 1 1 985.2 861.6Q986.1 862.8 985.6 864.7M976.6 855.3C978.3 858.6 980.0 857.4 978.5 854.3M969.7 836.6C970.0 832.3 973.1 831.2 972.6 835.6M979.5 852.4C980.8 857.7 968.6 866.2 968.7 861.2M956.3 840.0C954.0 837.2 956.9 836.6 960.8 837.6M971.6 860.2C973.0 861.8 987.1 861.0 985.4 858.3" stroke="#2b2c5c" stroke-width="0.55" fill="none" stroke-opacity="0.7"/><path d="M956.3 840.0L968.7 861.2" stroke="#2b2c5c" stroke-width="4.9" fill="none" stroke-dasharray="1.3 0.9" stroke-opacity="0.5"/><path d="M956.3 840.0L968.7 861.2" stroke="#7478be" stroke-width="4.4" fill="none" stroke-dasharray="1.3 0.9"/><path d="M956.3 840.0L968.7 861.2" stroke="#7478be" stroke-width="1.8" fill="none" stroke-opacity="0.85"/><path d="M960.8 837.6L971.6 860.2" stroke="#2b2c5c" stroke-width="4.1" fill="none" stroke-dasharray="1.3 0.9" stroke-opacity="0.5"/><path d="M960.8 837.6L971.6 860.2" stroke="#7478be" stroke-width="3.6" fill="none" stroke-dasharray="1.3 0.9"/><path d="M960.8 837.6L971.6 860.2" stroke="#7478be" stroke-width="1.4" fill="none" stroke-opacity="0.85"/><path d="M981.9 836.8L985.4 858.3" stroke="#2b2c5c" stroke-width="4.7" fill="none" stroke-dasharray="1.3 0.9" stroke-opacity="0.5"/><path d="M981.9 836.8L985.4 858.3" stroke="#7478be" stroke-width="4.2" fill="none" stroke-dasharray="1.3 0.9"/><path d="M981.9 836.8L985.4 858.3" stroke="#7478be" stroke-width="1.7" fill="none" stroke-opacity="0.85"/><path d="M966.7 837.6Q972.8 845.8 976.6 855.3M969.7 836.6Q973.4 845.8 978.5 854.3M972.6 835.6Q976.3 843.9 979.5 852.4" stroke="#2b2c5c" stroke-width="2.0" fill="none" stroke-linecap="round"/><path d="M966.7 837.6Q972.8 845.8 976.6 855.3M969.7 836.6Q973.4 845.8 978.5 854.3M972.6 835.6Q976.3 843.9 979.5 852.4" stroke="#7478be" stroke-width="1.25" fill="none" stroke-linecap="round"/><path d="M947.6 868.8A3.2 2.7 0 1 1 951.6 867.8Q950.1 868.5 950.2 869.2M934.6 872.2A2.8 2.2 0 1 1 934.3 869.7Q934.8 868.1 935.2 866.6M942.8 894.5A2.4 1.5 0 1 1 947.1 894.7Q947.3 893.0 946.8 892.3M942.1 890.8C940.2 893.5 945.3 893.5 944.6 890.8M943.1 870.1C942.4 868.7 944.6 867.8 946.0 871.1M947.0 889.8C948.6 892.6 949.2 892.8 949.4 888.8M949.0 871.1C947.3 868.2 927.8 871.4 928.9 875.4M938.7 892.8C936.0 894.4 939.0 885.3 940.1 882.9M933.2 873.1C932.7 870.6 954.0 863.9 954.3 867.5M960.4 886.8C964.5 889.0 960.4 894.1 956.9 892.8" stroke="#2b2c5c" stroke-width="0.55" fill="none" stroke-opacity="0.7"/><path d="M928.9 875.4L938.7 892.8M954.3 867.5L960.4 886.8" stroke="#2b2c5c" stroke-width="5.1" fill="none" stroke-dasharray="1.3 0.9" stroke-opacity="0.5"/><path d="M928.9 875.4L938.7 892.8M954.3 867.5L960.4 886.8" stroke="#7478be" stroke-width="4.6" fill="none" stroke-dasharray="1.3 0.9"/><path d="M928.9 875.4L938.7 892.8M954.3 867.5L960.4 886.8" stroke="#7478be" stroke-width="1.8" fill="none" stroke-opacity="0.85"/><path d="M933.2 873.1L940.1 882.9" stroke="#2b2c5c" stroke-width="4.1" fill="none" stroke-dasharray="1.3 0.9" stroke-opacity="0.5"/><path d="M933.2 873.1L940.1 882.9" stroke="#7478be" stroke-width="3.6" fill="none" stroke-dasharray="1.3 0.9"/><path d="M933.2 873.1L940.1 882.9" stroke="#7478be" stroke-width="1.4" fill="none" stroke-opacity="0.85"/><path d="M950.9 882.9L956.9 892.8" stroke="#2b2c5c" stroke-width="3.9" fill="none" stroke-dasharray="1.3 0.9" stroke-opacity="0.5"/><path d="M950.9 882.9L956.9 892.8" stroke="#7478be" stroke-width="3.4" fill="none" stroke-dasharray="1.3 0.9"/><path d="M950.9 882.9L956.9 892.8" stroke="#7478be" stroke-width="1.4" fill="none" stroke-opacity="0.85"/><path d="M940.1 871.1Q941.3 880.9 942.1 890.8M943.1 870.1Q942.6 880.5 944.6 890.8M946.0 871.1Q947.1 880.4 947.0 889.8M949.0 871.1Q949.6 879.9 949.4 888.8" stroke="#2b2c5c" stroke-width="2.0" fill="none" stroke-linecap="round"/><path d="M940.1 871.1Q941.3 880.9 942.1 890.8M943.1 870.1Q942.6 880.5 944.6 890.8M946.0 871.1Q947.1 880.4 947.0 889.8M949.0 871.1Q949.6 879.9 949.4 888.8" stroke="#7478be" stroke-width="1.25" fill="none" stroke-linecap="round"/><path d="M1004.2 857.5A2.0 1.5 0 1 1 1006.2 860.0Q1005.1 859.8 1005.9 861.1M1005.5 881.7C1005.5 885.0 995.2 893.8 997.7 888.8M995.6 854.8C995.9 850.0 1010.5 855.0 1010.8 859.3M1014.5 881.7C1016.7 884.8 1008.7 895.1 1006.0 891.0" stroke="#2b2c5c" stroke-width="0.55" fill="none" stroke-opacity="0.7"/><path d="M995.6 854.8L997.7 888.8M1010.8 859.3L1014.5 881.7" stroke="#2b2c5c" stroke-width="4.7" fill="none" stroke-dasharray="1.3 0.9" stroke-opacity="0.5"/><path d="M995.6 854.8L997.7 888.8M1010.8 859.3L1014.5 881.7" stroke="#7478be" stroke-width="4.2" fill="none" stroke-dasharray="1.3 0.9"/><path d="M995.6 854.8L997.7 888.8M1010.8 859.3L1014.5 881.7" stroke="#7478be" stroke-width="1.7" fill="none" stroke-opacity="0.85"/><path d="M1001.6 882.0L1006.0 891.0" stroke="#2b2c5c" stroke-width="4.1" fill="none" stroke-dasharray="1.3 0.9" stroke-opacity="0.5"/><path d="M1001.6 882.0L1006.0 891.0" stroke="#7478be" stroke-width="3.6" fill="none" stroke-dasharray="1.3 0.9"/><path d="M1001.6 882.0L1006.0 891.0" stroke="#7478be" stroke-width="1.4" fill="none" stroke-opacity="0.85"/><path d="M1002.7 864.7Q1003.8 873.3 1005.5 881.7" stroke="#2b2c5c" stroke-width="2.0" fill="none" stroke-linecap="round"/><path d="M1002.7 864.7Q1003.8 873.3 1005.5 881.7" stroke="#7478be" stroke-width="1.25" fill="none" stroke-linecap="round"/><path d="M1046.0 846.5A2.3 1.5 0 1 1 1042.5 847.3Q1041.2 848.4 1041.5 848.0M1049.8 856.8A2.0 1.7 0 1 1 1052.0 857.2Q1053.8 857.9 1054.1 856.6M1029.9 876.2A1.4 1.2 0 1 1 1030.0 874.6Q1029.3 874.0 1029.9 873.8M1046.0 850.5C1049.2 845.8 1053.4 851.3 1049.5 855.5M1037.4 871.1C1036.0 874.6 1035.5 876.9 1038.2 871.8M1053.8 857.6C1055.5 861.3 1034.7 871.3 1031.9 867.6" stroke="#2b2c5c" stroke-width="0.55" fill="none" stroke-opacity="0.7"/><path d="M1036.7 838.0L1031.9 867.6" stroke="#2b2c5c" stroke-width="4.7" fill="none" stroke-dasharray="1.3 0.9" stroke-opacity="0.5"/><path d="M1036.7 838.0L1031.9 867.6" stroke="#7478be" stroke-width="4.2" fill="none" stroke-dasharray="1.3 0.9"/><path d="M1036.7 838.0L1031.9 867.6" stroke="#7478be" stroke-width="1.7" fill="none" stroke-opacity="0.85"/><path d="M1036.7 870.4Q1042.6 861.1 1046.0 850.5M1037.4 871.1Q1044.2 863.8 1049.5 855.5M1038.2 871.8Q1045.5 864.2 1053.8 857.6" stroke="#2b2c5c" stroke-width="2.3" fill="none" stroke-linecap="round"/><path d="M1036.7 870.4Q1042.6 861.1 1046.0 850.5M1037.4 871.1Q1044.2 863.8 1049.5 855.5M1038.2 871.8Q1045.5 864.2 1053.8 857.6" stroke="#4d4f8c" stroke-width="0.9" fill="none" stroke-linecap="round"/><path d="M1072.5 865.8A2.6 2.0 0 1 1 1076.3 863.6Q1077.7 861.7 1079.0 860.8M1067.7 857.7A2.0 1.2 0 1 1 1070.8 858.9Q1071.4 859.5 1073.1 860.3M1079.3 852.0C1079.6 853.2 1092.8 862.0 1089.9 860.5M1082.4 852.2C1083.6 849.0 1093.5 841.0 1089.5 842.3M1094.6 860.5C1098.0 866.0 1075.3 857.1 1073.6 853.4M1068.8 848.0C1064.6 845.4 1077.1 844.6 1079.3 846.3M1089.2 843.4C1091.1 845.2 1084.9 862.5 1081.4 861.2" stroke="#2b2c5c" stroke-width="0.55" fill="none" stroke-opacity="0.7"/><path d="M1073.6 838.8L1079.3 852.0M1082.4 852.2L1089.9 860.5M1089.5 842.3L1094.6 860.5" stroke="#2b2c5c" stroke-width="4.7" fill="none" stroke-dasharray="1.3 0.9" stroke-opacity="0.5"/><path d="M1073.6 838.8L1079.3 852.0M1082.4 852.2L1089.9 860.5M1089.5 842.3L1094.6 860.5" stroke="#7478be" stroke-width="4.2" fill="none" stroke-dasharray="1.3 0.9"/><path d="M1073.6 838.8L1079.3 852.0M1082.4 852.2L1089.9 860.5M1089.5 842.3L1094.6 860.5" stroke="#7478be" stroke-width="1.7" fill="none" stroke-opacity="0.85"/><path d="M1068.8 848.0L1073.6 853.4" stroke="#2b2c5c" stroke-width="4.1" fill="none" stroke-dasharray="1.3 0.9" stroke-opacity="0.5"/><path d="M1068.8 848.0L1073.6 853.4" stroke="#7478be" stroke-width="3.6" fill="none" stroke-dasharray="1.3 0.9"/><path d="M1068.8 848.0L1073.6 853.4" stroke="#7478be" stroke-width="1.4" fill="none" stroke-opacity="0.85"/><path d="M1079.3 846.3L1089.2 843.4M1072.2 855.5L1081.4 861.2" stroke="#2b2c5c" stroke-width="4.3" fill="none" stroke-dasharray="1.3 0.9" stroke-opacity="0.5"/><path d="M1079.3 846.3L1089.2 843.4M1072.2 855.5L1081.4 861.2" stroke="#7478be" stroke-width="3.8" fill="none" stroke-dasharray="1.3 0.9"/><path d="M1079.3 846.3L1089.2 843.4M1072.2 855.5L1081.4 861.2" stroke="#7478be" stroke-width="1.5" fill="none" stroke-opacity="0.85"/><path d="M1131.8 836.9A2.0 1.7 0 1 1 1130.2 839.2Q1129.5 838.4 1129.6 839.5M1122.6 863.3C1120.6 864.9 1124.4 855.3 1127.5 853.4M1123.5 840.2C1124.3 836.6 1129.6 839.5 1129.2 842.3M1134.6 863.3C1136.7 866.3 1142.8 869.9 1140.7 866.1M1134.9 853.7C1137.8 857.7 1125.9 862.5 1125.0 859.3M1128.9 867.6C1128.7 870.3 1130.4 857.5 1130.4 854.1M1121.8 855.5C1120.6 853.2 1125.1 838.0 1127.5 839.9" stroke="#2b2c5c" stroke-width="0.55" fill="none" stroke-opacity="0.7"/><path d="M1118.6 843.7L1122.6 863.3M1123.5 840.2L1127.5 853.4M1129.2 842.3L1134.6 863.3M1134.9 853.7L1140.7 866.1" stroke="#2b2c5c" stroke-width="4.7" fill="none" stroke-dasharray="1.3 0.9" stroke-opacity="0.5"/><path d="M1118.6 843.7L1122.6 863.3M1123.5 840.2L1127.5 853.4M1129.2 842.3L1134.6 863.3M1134.9 853.7L1140.7 866.1" stroke="#7478be" stroke-width="4.2" fill="none" stroke-dasharray="1.3 0.9"/><path d="M1118.6 843.7L1122.6 863.3M1123.5 840.2L1127.5 853.4M1129.2 842.3L1134.6 863.3M1134.9 853.7L1140.7 866.1" stroke="#7478be" stroke-width="1.7" fill="none" stroke-opacity="0.85"/><path d="M1125.0 859.3L1128.9 867.6M1121.8 855.5L1130.4 854.1" stroke="#2b2c5c" stroke-width="4.1" fill="none" stroke-dasharray="1.3 0.9" stroke-opacity="0.5"/><path d="M1125.0 859.3L1128.9 867.6M1121.8 855.5L1130.4 854.1" stroke="#7478be" stroke-width="3.6" fill="none" stroke-dasharray="1.3 0.9"/><path d="M1125.0 859.3L1128.9 867.6M1121.8 855.5L1130.4 854.1" stroke="#7478be" stroke-width="1.4" fill="none" stroke-opacity="0.85"/><path d="M1127.5 839.9L1133.9 842.0" stroke="#2b2c5c" stroke-width="3.9" fill="none" stroke-dasharray="1.3 0.9" stroke-opacity="0.5"/><path d="M1127.5 839.9L1133.9 842.0" stroke="#7478be" stroke-width="3.4" fill="none" stroke-dasharray="1.3 0.9"/><path d="M1127.5 839.9L1133.9 842.0" stroke="#7478be" stroke-width="1.4" fill="none" stroke-opacity="0.85"/>
<defs><linearGradient id="cb" x1="0" y1="1" x2="0" y2="0"><stop offset="0.0" stop-color="rgb(68,1,84)"/><stop offset="0.1" stop-color="rgb(72,36,117)"/><stop offset="0.2" stop-color="rgb(65,68,135)"/><stop offset="0.3" stop-color="rgb(53,95,141)"/><stop offset="0.4" stop-color="rgb(42,120,142)"/><stop offset="0.5" stop-color="rgb(33,145,140)"/><stop offset="0.6" stop-color="rgb(34,168,132)"/><stop offset="0.7" stop-color="rgb(68,191,112)"/><stop offset="0.8" stop-color="rgb(122,209,81)"/><stop offset="0.9" stop-color="rgb(189,223,38)"/><stop offset="1.0" stop-color="rgb(253,231,37)"/></linearGradient></defs>
<rect x="1179.6" y="747.2" width="21" height="70.4" fill="url(#cb)" fill-opacity="0.6" stroke="#777" stroke-width="0.6"/>
<text x="1190.2" y="741.3" font-family="Liberation Sans, sans-serif" font-size="12.5" text-anchor="middle" fill="#111">250</text>
<text x="1190.2" y="832" font-family="Liberation Sans, sans-serif" font-size="12.5" text-anchor="middle" fill="#111">50</text>
<text transform="translate(1217.6 781) rotate(-90)" font-family="Liberation Sans, sans-serif" font-size="13" text-anchor="middle" fill="#111">Protein Length</text>
</g>
</svg>
</body></html>
